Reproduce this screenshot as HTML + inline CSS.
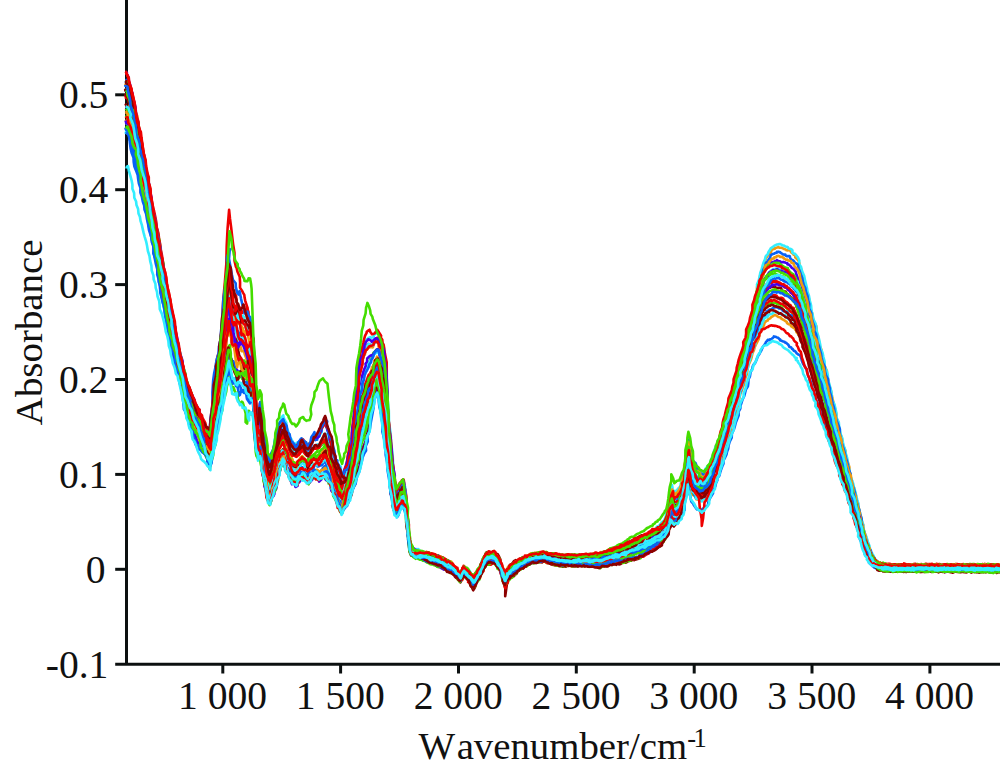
<!DOCTYPE html>
<html><head><meta charset="utf-8"><title>FTIR spectra</title>
<style>
html,body{margin:0;padding:0;background:#fff;}
body{width:1000px;height:772px;overflow:hidden;}
svg{display:block;}
text{font-family:"Liberation Serif",serif;font-size:39.6px;fill:#111;font-kerning:none;}
.ax path{stroke:#0c1010;stroke-width:3;fill:none;}
.sp path{fill:none;stroke-width:2.6;stroke-linejoin:round;stroke-linecap:butt;}
</style></head><body>
<svg width="1000" height="772" viewBox="0 0 1000 772">
<rect width="1000" height="772" fill="#fff"/>
<g class="ax">
<path d="M126.5 0V664.3" />
<path d="M115.2 664.3H1000" />
<path d="M115.2 94.8H126.5"/>
<path d="M115.2 189.7H126.5"/>
<path d="M115.2 284.6H126.5"/>
<path d="M115.2 379.5H126.5"/>
<path d="M115.2 474.4H126.5"/>
<path d="M115.2 569.3H126.5"/>
<path d="M222.8 664.3V673.5"/>
<path d="M340.6 664.3V673.5"/>
<path d="M458.5 664.3V673.5"/>
<path d="M576.3 664.3V673.5"/>
<path d="M694.2 664.3V673.5"/>
<path d="M812.0 664.3V673.5"/>
<path d="M929.9 664.3V673.5"/>
</g>
<g class="sp">
<path d="M125.5 119.6l.6 .9l.3 2.4l1.6 2l1.1 5.3l.9 5.8l.8 5.8l1.7 5l.4 5.1l1.5 4.1l1.2 4.4l.5 3.2l.9 3.8l.7 3l1.4 4.2l.7 4.4l1.5 4.4l.3 4.4l1.1 4.5l1.3 4.2l1.6 4.4l.4 4.6l1.3 5.4l1.6 5.2l.2 5.1l.8 5.5l1.1 5.1l1.6 6l1.1 5.6l.4 5.3l.5 6l1.8 5.6l1 5.3l.8 5.3l1.2 5.6l.8 4.8l.7 5.4l.5 5.6l2.3 4.6l.2 4.7l2.1 4.2l-.2 4.7l1.8 4.5l.1 4.7l1.5 5.3l.5 4.8l.8 6.5l2 5.8l.8 5.2l.5 4.7l.7 4.5l2 3.8l.8 4.4l.5 4.5l1.2 3.8l1 4.6l.1 5.3l1.4 5.3l2.1 4.7l.6 4.6l.6 5.7l1.2 4.4l1.1 3.6l1.2 3.5l.3 3.3l1.7 3.7l1.6 3l-.2 3.7l1 3.9l1.6 3.5l.8 2.4l1.3 1.6l.3 1.9l1.5 1.4l.2 1.1l1.7-.5l1.6 4l-.1-1.3l1.1-.2l.8-1.1l1.1-1.2l1.5-.9l1.3-.8l1.3-.7l.3 0l1.1 0l1.1-11.4l.7-9.9l1.7-9.8l.6-9.7l-.1-7l2.7-6.8l.5-6.8l1.6-6.5l-.1-5.7l.6-5.6l1.8-8.9l1.3-8.8l.8-8.8l.7-9.4l1.7-8.3l.3-8.4l.8-8.8l.7-9.8l1.2-8l1.3 8.2l1 5.2l.7 4l2.1 6.1l-.3 4.3l1.4 8.7l.6 5.2l2.1-.9l.7-2.4l1-.5l0 2.7l2.3 2.5l1.1 1.7l.3 3.5l1.1 3.8l.8-.4l.7-4.3l1.6-.7l.7 4l.7 4.9l1.9 7.1l-.3 9.3l2.4 4.6l.6 2.6l.9 20.8l1.4 20l.6 18.7l.8 7l1.1 7.8l.7-3.4l1.9-2.9l-.1 10.1l1.7 8.6l.8 7.8l1.5 5.8l1.1 7.2l-.1 5.6l1.4 5.3l1.1 4.2l.9 2.8l1.1 2.3l1.2-2.2l.7-3.3l.5-3.4l1.2-3.9l1.1-3.3l1.8-3.5l.3-3.1l.8-4.9l1.3-3.8l.8-4.4l1.2-1.7l1.4-1.8l.3-1.2l2 3.5l.8 2.7l-.1 3.1l1.5 3.6l.8 .4l1.5 .9l.8 1.7l1.8 2.5l.1 2l1.1 0l1.4-.1l1.1 .6l.8 .1l.5-.4l1-2l0-1.9l2.9-1.7l.1-1.4l1-1.1l1.4 1.1l.3 .4l1.5 1.4l1.6 .8l.5 .8l1.2 1.4l.4-1.6l1.6-2.1l.7-1.4l1.3-.8l.3-1.8l1.3-2.5l2.1-1.6l.3-.4l.3 1l.9 .9l2 .6l.1-1.8l1.2-1.1l1.5-2.9l.7-2.4l.5-.9l1.1-1.6l1.7 1.1l.2 3.3l1.6 2.9l.6 3.9l1.5 3.9l.9 2.3l1.1 1.9l.5 1.8l.6 3.6l1.9 2.9l1.2 3.2l.5 2.9l1.5 2.4l.7 3l.8 3.8l1.2 1.6l.7 1.5l1.5-2.7l.8-.9l1.1-.8l1.3-2.4l.6-1.6l1-1.6l1.4-2.8l-.5-3.4l1.9-5.1l1.2-4.3l.7-5.3l1.2-6l1-5.6l1.1-6.1l1.2-6.4l.4-5.8l1.8-6.6l.5-3.1l1.7-4.4l.7-4.2l.7-5.1l1.4-2.6l.8-2.1l.3-2.9l.8-.4l2.5-3.2l.2-3.7l1.3-2l1.5-3l0-4l1.5-3.5l.7-4.6l1.4-2.3l.1-1.5l2.1-2.2l.3 3.1l1.4 3.1l1.1 6.4l.7 5.8l.6 7.6l1.5 6.8l.4 7.5l1.9 8l1 7.6l.3 13.8l1.4 11.4l.2 9.9l1.6 9.6l.4 7.6l1.5 6.5l1 6.8l1.9 7.3l.1 5.1l1.8 2.8l-.2 .9l.5-2.1l2-2.2l.8-2.4l1.5-2l1-2.1l-.1-.4l2 2.6l.5 3l1.1 7.6l.8 9.5l1.7 11.5l1.3 9.7l.4 6.7l.8 3.7l.5 .3l1.9 .2l.7 .4l1.5 .7l.1 .5l1.8 .2l.7 .2l.8 0l1.2-.4l.7 .1l1.1-.1l1.9 .5l.9 0l.1 .8l1.2 .5l.9 .1l1.3 1l1.1-.2l.7-.7l.8 .8l1.2 1l1.1 .4l1.3 .2l.7-.2l1.2 .6l.6 .1l1.1-.1l.5-.2l2.2 0l.8 1.1l.5 1.1l1.2 0l1.1-.1l.7 .5l1.7 1.2l.1 1.4l1.7 .3l.5 .1l1.6 .6l-.3 1l1.3 .5l.7 .6l2.5 1.1l.1 1.2l.8 1.4l1.6 1.6l.9 .8l1 1l.8 2l.6-.1l1.5-1.6l-.4-3l2.4-1.5l.6 .7l1 .8l1.6 .7l1.2 1.7l1 1.5l.5 0l1.5 1.6l.7 1.9l.8 .4l1.4 .9l.8-2.4l1.2-1.5l.9-1.3l.9-1.6l.2-2.1l1.7-2l.6-2l1.6-.8l.3-1.6l1.6-2.4l1-2.6l1.1-2.1l1-.3l.9-.5l1.1 .2l.7 .3l.8-.9l1.2-.6l1.2 .1l.8 .2l1.2 2.1l1.2 1.6l.4 1.1l1.3 1.7l.9 2.1l1.5 1l.3 3l1.2 3.5l.9 3l1.2 1.5l1 2.1l1.6-2l.8-2.7l.8-1.5l1.1-.3l.9-.9l.9-.3l1-.6l.8-2l.6-.4l2.4-.3l.4-1.5l1.5-.2l.2-.7l2-.3l.5-1.4l-.4-.7l2.1-.7l.6-.6l.6-.3l2.2-.1l.9 .1l.4-.5l1.1-.4l.2-.8l1.3-.4l1.6-.2l.7-1.4l.9-.8l1.5 0l.9-.1l.8-.6l.9 .4l1.3-.7l1.4 .2l.7 .2l.6-1.2l1.3 .5l.9-.7l1.1 .5l1.1 .5l.4-.3l1.6 0l1-.2l1.1 .6l1 .4l.8 .4l1.3-.3l.9 .8l.5 .1l1 .8l1.4-.6l.9-.1l.3 .7l1.3 .5l1.3 .3l1.7 .8l.4-1.3l1 .4l1.2-.2l.7-.1l1.1 .3l.4 .1l1.1 .7l.7-.8l2.1 .7l.5 .5l1.3-.3l1-.3l.4 .6l1.3-.3l.7-.3l.7-.5l1.8-.4l1.1 .4l1-.1l.9-.3l1.2-.1l.5 .2l.9-.1l1.9-.1l.4 .3l.8 0l1.7 .1l1.2-.1l0-.3l1.5-.4l1.5 .2l1.2 .5l.5-1l1.1-.6l.4 .6l.8-.1l1.2-.1l.6 .1l1.6-.4l.8-.8l1.5-.6l.3 .4l1.9-.7l.1-.1l.8-.7l1-.5l.9-.8l1.3 .3l1.1 .1l1 .1l1.1 0l2.1-.5l.2-.2l.6 .8l1.2-.6l1.2-1.2l.4-1.2l1.1-.1l1.6 0l.9-.1l.5-.3l1.5-1.1l1.1-.3l.6 0l.6-.4l1.5-.5l1.3 .3l.3-.1l.7-.5l2.6-.8l.1 .1l.9-.1l.5-.2l1.2 .1l1.6-.7l1.1-.8l1.5-.8l.1 .2l.9-.4l1.5-.6l1.5-1.6l-.5-.4l1.5-.2l1.3 .4l1.7-.2l.1-1.3l.5-.2l1.4 1.1l1.3-1l1.4-1.8l.7-.8l1-1l1.1-1.4l.6 .7l.9 .5l.7-1.4l1.9-1.4l.3-.9l1.4-1.1l1.1-2l1.1-2l.6-1.7l.5-.1l1.8-1.6l.8-.8l.9-5.4l1.2-4.4l.9-5.8l1.7-4.7l.7-4.6l.1-4.6l1.2 2.8l1.4 2.2l-.1-1.8l1.9-1.3l1.3-.2l.5-1l1.8-1.4l.6-2.2l1.4-3.5l1.3-4.1l1.1-5l.4-4.7l.9-6.8l.9-7.6l.8-8.7l1.1-6.6l1.1-3.5l.8 7.6l1.3 8.2l.9 3.4l.8 4.5l.9 1.9l1.6 1l1 2.4l.7 1.1l1.2 .1l.9 2l.9-2.1l.7 .6l.8 .6l1.8 .2l.7 .7l1.3-1.3l.4-1.1l2.1-1.8l-.1-1.6l1.3-1.8l1.2-.9l1-3.1l1.1-4.1l.9-2.6l.7-2l.5-2.7l1.3-2.3l.3-3l2.1-2l1.2-4.1l.4-2.6l.3-2.9l1.4-3l1.6-3.5l.8-3.4l.2-3.3l1.8-3.8l1.4-4.5l.5-3.8l2.2-2.7l.1-3l1.2-4l.9-3.7l1.4-3.3l.5-2.6l1.4-4.7l-.1-4.4l2-3.5l.8-3.3l.3-4.2l1.1-4.6l1.1-3.2l2-3.9l.2-3.9l1.7-3.8l-.2-3.4l2-3.9l.4-4.4l1.1-4.9l1.4-5.1l.6-4.6l1-4.1l1-4.3l1-4.7l.9-4.8l1.8-5.4l.1-3.9l1.1-4.6l.3-4.5l1.9-4.9l.9-4.6l1.1-3.4l1.1-2.2l1.1-3.8l.6-3.6l1.1-3.2l1.4-3.2l1.1-1.3l.8-1.4l.5-1l2.1-1l.3-1.7l1.1-1.9l.9-.3l1.7-.3l-.1-.5l1.6-.5l.8-.3l.8-.4l.3-.2l1.1 .8l1.2 0l1.1 .1l1.8 .8l.9 .5l.5 0l1 .5l.7 .7l1.1 .1l.9-.1l1.4-.4l1 2l.8 .9l1.3 .8l.5 1.1l1.8 1l0 1.9l1.7 1.4l1.4 1.4l.9 2.6l.5 3.9l1.7 2.7l-.1 3.3l1.6 2.8l1 3.8l.4 4.3l1.2 3.8l.9 3.6l1.5 4.3l1.2 4.2l.8 4.3l.5 4.5l1.7 5l.7 4.2l1.1 4.9l2.2 3.3l.5 3.9l.3 4.2l.9 4.3l1.2 3.2l.5 4.1l1.9 4.2l.4 4.2l1.1 5l.7 3.7l1.3 4.2l1.9 3.9l-.2 4.6l1.6 4.4l.7 4.8l1.4 4l1.1 4.4l.7 4.4l.9 3.7l1.1 4.2l1.1 4.5l1.1 4.7l.3 3.8l1.1 4.5l.9 4l.9 3.9l1.1 4.3l1.3 3.8l-.1 3.9l2 4.5l1.6 3.9l.4 4.2l1 4.2l1.3 3.8l1.2 3.9l.2 4.8l1 4.1l1.3 4.2l.6 3.9l1.7 4.1l.8 4.1l1.4 4.4l.5 3.8l1.1 5l1.2 3.7l.8 4.2l.6 4l1.1 3.3l1.6 4.2l.3 4.2l1.2 4l1.2 3.8l1.1 3l.9 3.3l1.1 3.2l.4 3.5l.9 3.5l1.9 1.5l.6 2.7l1.1 2.2l1.1 1.7l.8 2.2l.8 1.2l1.4 1.3l1.8 .8l-.1 .4l1 .5l1.9 1.2l.2 .6l1.7 .4l.7-.1l.8 0l.6 .8l.4-1.1l2.3 .6l.6-.2l1.3-.1l-.4-.3l2.1-.1l.1-.3l1.7-.2l1.4 .2l.6-.1l1.7 .8l-.3 0l2.4-.8l.9 .9l.8 .3l.3-.2l1.2 0l.9-.2l1-.1l1.1 .1l2.3 .4l0-.3l1 .2l1-.8l1.3 .3l.7-.2l1 .6l1.1 .2l1.2-.5l.6-.5l1.3 .3l-.4 .1l2 .2l.8 .1l.9-.1l1.5-1l.7 1.2l1.6-.4l.4 .1l1.5 .4l.2-.3l1.4 .1l1.8 .1l.8 .3l.6 .1l.8 .1l.9-.5l2.4 .2l0 .9l1.3-.5l.4 .1l1.1-.4l1 .2l1.6 .1l.6 .1l1.1-.3l1.2 0l.7 .1l.8-.1l1.2 0l.2-.2l1.3 .1l1.5 .3l.3-.2l1.5 .4l.7-.5l1.6-.3l.5-.1l1 .1l1.8-.1l.5 .1l1.3 .1l-.2 0l1.8-.1l1 0l1.1-.4l1.2 .3l.6-.2l1.7 .9l.4-.2l.5-.1l.8-.3l2 .2l.6-.2l2.4 0l-.3-.4l1 .1l1 .3l1 .7l1.4 .1l.4-.6l2.3 .4l-.3 0l1.4-.4l.7-.5l1.5 .4l.6 .3l1.4 .2l.8-.3l.8 0l1 0l1.7 0l-.1-.3l1.7 .6l.5-.5l1.5 .3l1.5-.2l.8-.6l.5-.2l.7 .8l1.3-.3l.8 .6l1.5 .3l.6-.2" stroke="#f09a10"/>
<path d="M125.5 88.6l.1 .8l1.5 2l1 3.1l.9 4.2l.9 4.7l2 4.5l-.5 4.6l1.3 4.6l1.7 5.4l.4 6.1l.3 5.1l1.9 6.5l.8 5.1l.7 5.2l1.3 5.9l1.2 5.4l1.4 4.3l.6 6l.5 4.4l1.5 4.7l1.4 3.5l.6 4.4l1.5 5.3l0 4.7l1.4 4.8l1.3 4.9l1 5.1l.4 5.3l2.1 5.9l.4 6.2l1.3 5.6l.4 5.9l1.4 5.4l.7 6.4l1.2 5l1.4 5.4l-.5 4.5l1.7 4.6l.7 4.8l2.4 4.3l.5 5.4l.3 4.8l1 5.4l1.3 4.9l1 5.8l.9 7.1l1.2 7.4l1.2 6.6l.2 6l2.2 5.5l0 5.7l.8 5.7l.8 5.6l2.1 4.9l.6 5.2l.9 5.5l1.2 3.9l.5 5.3l1.5 4.7l1.4 5l1.2 5l.6 3l.7 2.8l0 1.7l2.2 1.7l.7 2.1l.9 2.2l2.3 2.3l.4 2.3l.6 1l.7 1.2l1.9 1.5l-.7 .8l1.9 .6l1.5 .5l.4 6.7l.9 1.1l1.3 1.5l1.2 0l1 .9l.9-.3l.9 1l.5 .3l1.8 1.5l1.1 1.4l1.2-11.8l.4-10.6l.6-10.7l2.2-11.3l0-5.7l.6-6.1l1.8-6.8l.6-6l1.6-6.5l.4-6.7l1.8-9.3l.5-9.9l1.4-9.1l.6-11l1.7-8.8l.2-8.7l0-10l2.3-8.8l1.1-8.8l.4 7l1.6 8.6l1 10.2l.7 10.2l.8 5.1l1.1 .5l1.2 .5l.9 .3l.9 3l1.6 .8l.4-.4l1.2 2.5l.7 2.6l1.2 2.7l1.1 .6l1.2-.2l1.1 1.2l1.1 1.4l.5-.6l1.6 3.6l.2 2.2l1 .5l1.6 5.5l1 9.2l.8 23.2l1.3 21.9l.6 21.1l.6 7.9l1.4 7.5l1.4-9.3l.7-9.6l1.1 7.3l.8 8.7l.7 8.4l.8 4.9l1.4 5.7l1.1 6l1.3 4.3l1.5 4.8l-.2 2.4l2.1 1.7l-.8-3.4l2.3-5l.7-5.5l1.5-4.8l-.1-5l1.8-3.9l1-4.1l.8-3l1.3-3.9l.9-3.8l.7-2.2l1.1-2.3l1.3-1.5l.2 1.7l.7 2.2l2.1 3.4l.3 4.9l1.8 4.5l.9 3l.6 2.6l1 .7l1 1.8l1 1.7l.8 1.5l1.2 1.5l1.1 .1l.5-2l1.8-.7l.2 0l1.6-1.2l.7-1.1l.9-1l1.1 1.2l1 .8l.9 .7l1.8 .8l-.4 2.4l1.9 1.3l.5-2l1.1-.8l1.2-.2l1.4-2.2l1.2-2.5l.8-3l.9-.5l1.1-.6l.8 1l.9 .7l.5 .5l1.4-1.6l1.8-2.7l.2-3.3l1.3-3.1l.2-2l1.6-1.4l1.4 2.7l.5 3.1l1.2 3.6l.4 4l2.2 3.6l0 2.5l1 2.5l2 5.1l.2 5.2l.9 3.5l1.2 2.9l.3 2.4l2 1.1l1.4 1l1.3 1.4l-.1 3.6l1.3 4.5l1.1-2.2l.5-2.1l2.3-2.2l-.4-3l1.3-3.9l.9-2.6l1-4.6l1.3-4.9l1.1-5l1.1-4.7l1.2-10l.3-9.5l1.9-8.2l-.3-9.7l1.5-11.6l1.3-10.6l.6-9.9l1.4-4.5l.3-5.1l1.9-5.2l.9-5.7l.9-3.3l.5-4.1l1.9-2.7l.3-.6l1.2-.5l.4-.8l1.7-.7l.5 1l1.2-.7l1.7-.3l.3-2.1l1.4-1.2l.4-.3l1.2-1.4l1.4 .1l.8 1.6l.4 2.7l1 1.5l1.3 3.1l1.2 2.3l1.1 4.7l.6 9.6l1.5 8.4l.4 24.1l2.2 19.6l.2 12.4l1.7 11.7l.6 10.1l1.3 9.8l.5 10.1l.8 10.3l.6 8.7l1.9 5.7l.3 2.7l1.9-3.1l.3-1.8l1.2-2.5l1.1-.8l1.1-1.2l.7-1.1l1.1 1.8l1 4.6l.4 11.5l.8 12.6l1.2 13.2l2.2 11.9l.2 6.7l1.2 3.2l1.4 .5l1 2.2l.1 .2l.9-.3l1.6 0l.8 .8l1.4-.8l.8 .9l.9 1.4l-.3-.1l2.8 .6l1.1 .3l.2-.3l1.9 .5l1.1 .8l-.2 .2l.8 .2l1.7 0l.8 .7l.6 .5l1.2 .3l1.4-.4l1.2-.1l.4 0l1.3 1l1.7 .2l1.1-.1l.7 .5l.6 1.2l.6 1.4l1.9 .2l.7 1.1l.2 1l1.8 1.2l.5-.2l1.5-.7l1-1l.5 .3l.8 1.3l2.1 1.5l.7 .6l-.5 1.2l1.9 1.9l1.6 .7l.2 .8l1.3 .4l1.4 1.7l-.1 2.8l1.6 2.3l.6-2.8l1.8-2.2l.6-.9l1.8-2.6l.2 1.4l.9 1.5l1.7 .4l1.4-.2l.3-.1l1.3 1.8l.5 2.4l.4 1.4l1.9 .2l.5 .9l1.3-2.3l1-1.4l.9-2l.8-.9l1.4-.8l.2-2.1l2-3.9l.2-2.1l1.2-2.1l1.4-1.3l.2-1.7l1.9-2.9l1-.1l.5-.4l1.5-.1l.7 1l.7 .4l1.3-.1l.9-1.4l1.5-.2l1.4 1.2l-.2 .8l1.4 .6l1 1.6l1.3 1.6l.9 1.8l1.1 3.7l1.1 3.7l.5 3.1l1.1 2.2l1.9 2.2l.6-2.2l.4-1.7l1.2-2l1.2-1.2l.8-1.2l1.8-1.5l.3-1.5l1-.2l1.2 .3l.6 .3l1.4-.5l.6-.8l.8-.5l1.6-.7l.8-1.1l.8-.7l1.6-.7l-.6-.6l2.2-.4l.7 .6l1.4-1l1.4-.2l.3-.2l1.1-1.1l.7-.5l1.2-.1l1-.6l1.1 0l.9 .1l1.6 0l.1 0l1.5-.7l1-.7l1.4-.3l.4 .1l1.2 0l1.1 .3l.6-.5l1.4 .9l.9 .5l1.1-.2l1.3-.4l.3 .1l1.8 .6l.4-.2l1.1 .5l.6 .3l1.1 .9l.8-.2l1.4-1.2l.4 .5l1.7 .1l1.1 .4l1.5 .7l.4 .5l.9 .8l.8-.7l1.2 .1l1 .2l1.7-.4l.9-.1l.6-.2l.7-.2l1.1 .7l.7-.1l1.3 0l.5 .6l.6-.5l3-.2l-.1 .4l.1-.6l.7-.3l2.5-.3l1-.4l.5 .2l.5-.2l1.7 .6l1.7-.3l.3-.5l1 0l.3 .5l1.3-.1l1.6-.6l.8 .3l.5-.4l2-.6l.1 .4l2.2 .3l.6 0l0 .2l1.5-.9l1.5-.3l.3-.6l1.1 .4l1.3-.3l.9-.2l.9-.2l1.5-.3l.6 .4l1-1l1-.4l.9-.8l1.3 .3l1.3 .6l.8-.5l1.2-.2l.4-1l.8 .4l.9-.5l1.2-.4l1.1-.5l.7-.4l1.2-.3l.8-1.6l1.6 .3l.7-.2l1.2 .3l.9-.8l.5 0l1.4-.4l1.1-.4l1.1-.3l.4-.3l1.8-.2l.6-1.4l.9-.7l.5-.2l2-.4l.7 .3l1.2-1.4l.7-.8l1.4-.4l.6-.1l1-.1l.8-.5l1.6-.8l.8-1l1-1.4l.8-.8l1.4-.4l.4 .7l1.4-.9l1.1 .2l.7-.7l.9-1.3l.7-1.2l1.3-.3l.7-.2l2-.7l.6-1.7l1.1-1.1l.6-1.5l1.3-.5l1.6-.4l-.1-.9l1.4-1.6l.7-1.1l1.3-.7l1.4-1.5l.7-2l.6-1.2l.6-6l1.8-4.6l1.1-5.3l.7-4.5l.9-5.5l1.2-5.8l.6 3.2l1 4.2l1-1.2l1.6-.6l1.3-1l.2-.5l1.6-1.7l.9-.9l.7-3.5l1.3-4.1l1.5-3.4l.4-3.6l1-8.3l1.9-8.5l-.2-7.8l1.2-5.8l1.4-4.6l.7 6.4l.5 7.3l1.1 4.6l.7 5.2l2 3.3l.2 2.2l1.4 2l.9 1.3l1 .8l1.1 .1l.9 .2l.7 .2l.8 .2l1.9 1.4l.8 .4l1.1-2.1l.1-1.5l1.6-2l1.1-1.3l1-.3l1-1.7l.8-3.2l1.3-3.6l1.1-2l.6-3.4l1.2-2.9l.4-1.8l1.6-2.5l.6-3.2l1.8-1.9l1.2-2.8l.3-3.2l1.2-3.2l.9-4.3l1.9-3.3l0-3.5l.2-3.5l1.2-3.1l1-3.9l1.8-3.1l.9-3.5l1.8-3.9l-.8-4.1l2.1-3.4l1-4.1l1.6-4.2l.2-4.1l.9-4l1.5-4.4l.7-3.7l1.1-3.5l.9-4.2l.9-3.4l.7-3.2l1.4-4.1l1.2-3.7l.6-3.9l1.3-4.3l.5-4.5l1.9-4.6l.2-4.4l1.7-4.2l.2-4.7l1.5-5.4l1.1-4.2l1-4.5l1.1-4.5l1-5.2l-.3-4.9l1.8-4.3l1-4.6l.5-2.9l1.4-3.5l.8-3.2l1.2-3.8l1.3-2.8l.7-3.1l1.3-1.5l.9-1l.7-2l1.1-1.5l1-1.9l1.5-1l.8-.7l.7-.3l.8-.8l1.3-.4l.4-.4l1.1-.4l2-.4l.6 0l1.5 .6l.8 .7l1.2 .2l.6 .1l1.2 .8l1.5 .3l1.1 .5l.2 .6l.8 .8l1.1 .1l1.4 .5l1.2 1.3l-.3 1.5l1.4 1.5l1.4 .3l.7 .9l1.4 1.7l.9 1l1.3 3.2l-.2 3.4l2 2.9l.6 3.1l1.3 3.4l1.2 2.7l.7 3.8l1 3.9l1.1 4.4l.5 3.6l1.4 3.8l.9 4.9l1.3 5.1l.4 5l1.2 4.5l.7 4.3l2.2 4.2l.8 3.9l.3 4.1l1.6 4.4l1 4.2l.9 4.2l.5 4.5l1.9 4l.8 4.2l1.2 4.5l0 4.7l2.2 4.9l1 3.8l.3 4.8l1.1 3.9l1.1 3.8l1.1 4.4l.4 4.1l.3 4.1l2.2 4l1.1 4.2l1 5l.2 4.7l2.2 4.1l.3 4.2l.8 3.9l.8 4.1l1.5 3.7l.7 4.3l.8 3.8l1.4 3.5l.8 4.6l1.2 3.4l.6 4.4l.8 4.8l1 3.9l.9 4.6l1 3.8l1.7 4.1l.9 4.3l1.3 4.3l1 4.4l1 3.9l1.3 4l0 4l1.2 3.9l1 4.7l1.2 4.2l1.2 4.2l.4 4.4l1.1 3.5l1.7 3.8l.9 3.4l1 2.9l1 2.3l.8 3.6l1.2 2.8l1 1.9l.9 1.4l1 2.2l.7 1.5l1.3 1.3l1.4 1.2l-.7 .8l1.9 .9l1 .6l1.4 .2l.4-.1l1.4 .7l1.3 .4l.5 .1l1.2 .5l1.1-.2l1 .3l1.3-.7l0 .1l1.7 .2l1 .6l.1-.1l2.5 0l.7-.7l.4-.2l.7 .7l.6-.1l2.1-.4l.6 .3l1 .4l.8 .2l1.3-.6l.1-.2l2.4-.4l-.3 .7l1.6 .1l2.3-.1l.1 .1l1.2 0l.6 .5l1.3-.2l.9-.6l1.3-.2l.8 .8l.3-.8l1.4 .4l2.1 .5l.5-.3l.9 .4l.9-.1l.7-.1l.8-.4l.9 .2l.7 0l.9 .2l1.3 .4l1.3-.3l.8-.1l.8 .4l1.2-.8l1.3 .2l1.2 .2l.7-.2l1.4-.3l.9 .5l.7-.6l1.2 0l.6 .1l1.7-.2l1.3-.1l.7 .6l1.2 1l.6-.7l.4-.3l2.1-.4l.3 .6l.3-.3l1.7 .5l.6-.3l1.2 .3l1.4 .3l1.4-.5l.1-.7l.7 .5l2.1-.3l-.1 .3l2.1 .2l.9-.4l.3 .1l1.1 .2l.2-.2l1.6-.2l2.6-.2l-.8 .3l2-.6l1.3 .6l.4-.4l.7 .1l1.1 .3l1.1-.2l1.8 .2l-.1 .2l1.2-.9l.8 .3l.8 .5l1.3-.2l.7 .4l1.1 0l.9-.5l1.9 .1l.8 .6l.2 .5l2.5-.4l0-.2l1.3-.3l1.2-.6l.4 .7l.8 .5l1.1 0l1-.6l1.2 .5l1.4-.5l.5 .1l1.2-.5l.5 .8l1.9-.4l.3 .8l1-.2l1.2 .1l1.1-.5" stroke="#33eeff"/>
<path d="M125.5 108.0l.6-.1l.7 .4l.9 1.8l2.1 4.3l-.1 4.7l.9 3.7l.8 3.9l1.2 4.4l.9 4.4l1.4 3.7l.7 3.5l2.2 4.7l.2 4.4l.6 4.6l.9 4.3l1.5 5.5l1.7 4.8l.8 4.3l.6 5.1l.1 6l2.5 5.8l.3 6.2l1.1 6.2l1.7 6.5l.7 6.6l.1 6.3l1.6 5.8l1.3 6.1l.9 5.9l.6 5.8l.8 5.8l1.3 5.6l0 5.4l2.1 4.7l.5 5.6l1.1 5.7l1.4 5.1l.7 5.3l1.2 5.7l1.1 3.8l.5 5.5l1.1 4.9l.4 5.2l2 5.6l.7 4.8l1 5l1.4 5.1l.2 4.8l1.9 4.6l.1 5l1.1 3.7l1.8 4.6l.6 4.6l.4 4.1l1.7 5.5l.9 5.1l1.3 5.2l.4 6.2l1.5 5.6l1.1 4.8l1.1 4.9l.9 2.3l.1 2.2l2.4 2.8l.7 1.9l0 1.8l2 1.4l.4 2.7l.5 3l1.4 2.5l1.1 1.6l.8 1.9l.7 2l1.4 2l1.3 2.4l1.4 12.1l.4 1.8l.5 1.9l1.9 1.6l1.1 2.1l.8 1.9l1.1 2.3l.2 2.8l1.2 1.8l1.3 1.8l1.3-5.6l.3-5.5l1-6.8l1.9-6l-.1-5.6l1.6-5.6l.5-5.3l1.5-6.1l1.7-6.3l.5-6.7l.5-6.3l1.3-5.7l1.4-6.2l1.5-6.6l.1-7.6l1.1-7.6l1.4-6.9l.5-3.6l.8-4.5l1.2 5.5l1.2 5.3l.7 2.7l1.3 2.1l1.3 1.2l1.2-.8l0 1l1.9 2.5l.5 4.3l1.1 2.6l.8-1.3l1-3.2l.7-.4l2.1 7.3l.2 6.3l.7 1.5l2 .9l.4 2.5l1.2 .8l.3-2l1-1.4l.8 1.7l1.7 1.7l1.3 3.7l.5 13.5l2.2 15.1l-.4 18.5l1.2 6l.5 4.7l1 1.1l1.8-.2l1.2 7.4l0 6.9l1.2 5.6l1.5 5.8l.3 6.2l1.6 4.1l.4 4.6l1.3 4.5l1 1.3l1.7 2.1l1-2.6l.1-2.2l1.9-1.9l1-2.2l0-2.1l1.9-3.4l.8-4.9l.6-4.7l1.3-4.1l1.3-5.1l.1-2.5l2.3-3.7l.9-1.8l0 3l1.3 2l1 1.6l.9 2.8l1.3 3.2l1.1 1.4l1.1 3.8l1 2.7l.7 2l1.4-.7l.5 0l1.1 1.4l.5 2.1l2-1.1l-.3-2.1l2-1.5l1.2-1.8l.8-1.9l.7-1.8l.7 .6l.8 .2l1.6 2.2l1.1 1.4l1.3 .8l.1 .5l2.3-.4l0 .4l1.1-1.7l1-2.5l.7-1.6l1.9-1.3l-.2 1l1.2 1.2l1.7 .3l.9 .8l.9 1.3l1.3-1.3l.8-1.1l.3-.2l1.1 .4l2.2-.3l-.1-.2l1.3 2.6l1.1 .8l1.5 .1l.6 1l.6 2l1.1 2.6l1.3 2.3l.1 3l1.6 1.8l.7 1.8l1.1 2.3l.6 3.7l2.3 2.9l-.2 1.5l1.5 1.4l1.2 1.9l.7 3.7l.8-2l1.9-2.5l.6-1.4l1.5-1.8l.8-3.3l.5-3.5l1.2-2.7l.6-1.2l1.5-3.2l1.2-2.4l1-4l.5-4.4l1.6-4.9l.6-4.2l1-3.6l.5-4l2.4-4.4l.2-3l.6-3l1.2-3.2l1-3.2l1.2-2l1.4-3.2l.5-3.7l1.6-3.3l-.2-4.2l1.6-3.1l1.1-4.1l1.1-8l.4-6.2l2.1-5.1l.4-6.6l.5-2.4l1.1-3.5l1-4.1l1.2 3.6l.5 3.8l2 7.1l.4 8.3l.8 8.3l1.7 8.6l.5 7.9l.7 7.2l1.7 6.4l1 8.4l1 9.4l1 9l.4 8.9l1.2 8.9l1.6 5.3l.7 4.6l1.8 6.3l-.1 2.4l1.2 2.5l1.2 2.7l.4-1.4l1.5-2.6l.9-3.1l.4-3.9l1.8-2.2l.5-.8l1.2 3.1l1.6 3.6l.9 7l.1 8l1.3 10l1.9 9l.1 5.5l1.3 4l1.4 2l1 .6l.7 .4l.7 .2l.8 .2l.8-.1l1.9 0l.9 .7l.6 .4l1.2 .1l.9-.5l.9-.2l1.2-.1l.3 .4l1.8 .5l.8 .1l1.4-.4l.7 .1l.3 .1l1.9 .3l.4 .3l1.5 .8l1.4 .7l-.3 1.1l2.3-.5l-.4-.1l1.8-.5l1.4 .8l.6 .9l1 .8l.7-.4l1.8 .2l.3 .8l1.1 1.3l.5 .9l1.5 .4l1 .1l1.5-.8l1 1.1l-.2 .8l2 .2l1 .9l1.1 1.7l0 .8l1.3 1.7l1.1 1.8l1.9 1.4l.5 2l.8 1.7l.8-2.8l1.4-2.4l1.2-1.9l.4-2.6l1 .8l1.2 .5l1.2 1.5l.9 2.1l.7 1.6l1.3 1.6l.5 1.2l1.3 1.2l2 .6l.5 .7l1.5-1.2l-.4-1.6l1-2.6l1.6-1.2l1.3-1.4l1-2.2l1.1-1.8l1.3-2.2l.5-1.2l1.6-1.8l.6-2.2l.4-4l.7-1.6l1.6 .2l1 1.9l1.4 .8l.1-.3l1.6-.9l.6-.1l1.3-.1l.9 1.6l.5 2.3l.8 1.2l.6 .9l1.7 .6l.8 .9l1.5 3.5l1 4.1l.9 3.1l1.8 2.4l.4 2.6l1.7-2.8l.2-2.1l1.2-2l1.7-.8l.4-.6l2.1-2l-.5-2.3l2-.7l.4 0l.6-.5l1.7 .5l.9-1.1l.6-.8l1.3-1.2l.1-.4l2.1-.5l.2-.1l.8-.3l2.4-.7l0 0l1.1-.6l1.4-1.1l.6-.8l1.7-.1l.6 0l1-1.1l1.5-.6l-.5 .1l1.4-.7l1.3 .6l1.1-.5l.4-.3l1.1-.1l.7-.5l2.1-.2l-.8-.1l2.2 .5l.7-.1l2.3-.8l.6 .6l.2 .4l1.7 0l1-.1l.6 .7l1.9 .3l.4-.5l.9 0l1.5 .9l1.4 .6l.2 .6l1.2 .1l.4-.1l.6-.1l1.2 .6l1.3-.3l1-.5l1.5-.3l.7 .7l1.2-.6l1.2 .7l.3 .3l1.4-.3l1.8 0l-.1 0l1.2 .1l.9 .7l.4 .3l1.9-1l.8-.2l.4 0l1.2 .5l1 0l1.2-.6l.9-.1l.3 .1l1.8-.8l1.2 .2l1.1 .5l1 0l.4 .2l1.4-.3l1.4-.2l.5 .6l.8-.3l1.3 .3l1.5-.5l.9-.2l.7-.7l.8 .7l.9 .4l.6 .1l1.6 .1l.9-.7l1 .2l1-.6l.9 .3l1.3 .1l.1-.8l2.2-.6l.3-.1l1.3 .2l1.5 .4l1.1-.3l.6-.4l.1-.1l2.2-.8l.8 .1l.1-.6l2.1-.7l.5 0l.4-.2l2.3 .7l0-.4l1.3 .4l.6-.3l.5 .2l2.1-.6l1.2-.2l.5-1.5l1.1-.6l.5 0l.9-.3l2 .1l.5-.1l1.2-.5l.8 0l.8-.4l1.6-.7l-.1-1l1.3-.1l1.4-.6l.5-.7l.8-.3l1.4-.3l1.3-1.3l.7-.3l1.6-1.1l1.2-.5l.3-.2l1.2 .3l1.2-1.1l.7-1.3l.7-.5l1.7-1.2l.9-.1l1-.8l.5-1.6l1.3-.5l.6-.8l1.6-.9l.5-.4l1.1-.4l1.4-1.4l.9-1.7l.6-.2l1.6-1.4l.7-1.9l1-1.5l.8-2.4l1.6-.6l.2-1.1l1.9-4.1l.8-4.4l.7-6l.7-6.5l.8-5.4l2.3-3.1l.6 3.6l.3 3.2l1.4-1.4l.3-2.4l1.3-1.6l1.5-1l1.1-1.2l.7-2.5l1.3-3.3l1.2-3.5l.5-4.5l.9-3.5l.7-7.9l2.1-8.1l.8-8l1.6-5.2l0-3.3l1.2 6.7l.7 6.4l1.2 4.3l1.1 3.9l.4 2.1l1.6 2l.9 3.5l1.1-.2l.7 0l1.1 .7l.7 5.2l1.3 .6l1.3-.2l1.5 1.7l.2-.1l.8-2.6l.9-2.9l1.2-1l1.1-1.4l.6-2.4l1-1.9l1.8-2.1l.4-2.4l1.3-2.2l.9-2.7l.6-4.2l1.5-3.2l1.1-3.4l.7-2.2l1.1-3l1-2.9l.5-3.9l.9-3.3l1.8-4.5l1-3.9l1.6-3.9l.8-3.6l.7-3.8l.2-3.8l1.4-3.3l1.6-4l-.2-3.8l1.4-3.8l1.2-3.8l1.2-4.4l.6-3.3l.9-3.8l1.8-3.6l.6-3.7l.5-4l1.3-3.9l1.5-3.1l1-4.3l.2-3l2.2-3.1l.3-4.4l1.1-4.2l.6-4.9l.8-3.5l1.7-3.9l.5-4.6l1.6-4.5l.5-4.5l2-4.2l.3-4.4l1.5-4.5l0-4l2-4.2l.4-4.4l1.4-3.1l.4-2.8l.7-3.2l1.3-2.8l1-3.4l.9-3.4l1.4-.7l.4-1l2.4-1.7l-.2-1.2l1.2-1.4l1-2.4l.1 1l1.5-.5l1.6-.4l1.5-.4l.4-.4l1 .4l.8-1.5l1.1 .8l.4 .2l2.2 .6l.5 .9l1.2-.2l.8-.2l.3-.2l1.6 .5l.6 .3l1.8 .3l0 1.2l1.9 .6l1 1l1 1.1l.3 .7l2.2 1.4l.2 .3l.9 1.3l.8 .8l1 3.7l1.3 2.9l.9 2.4l.8 3.2l1.6 2.2l1.3 3.2l.5 4.5l1.3 3.6l.7 4l1.1 3.2l1.2 4.4l.4 4.5l1.6 4.8l.8 4.4l.7 4.5l.9 4.6l1.7 3.8l1.3 4l-.6 3.6l2.3 3.7l.6 3.4l1 4.4l.3 4l1.7 4.2l1 4.2l1.8 4.1l.3 4l.8 3.9l1 4.3l1.7 4.8l.6 4.2l.2 3.6l1.4 4l1.6 4.3l.7 4l1.2 3.8l.6 4.2l.6 3.4l1.7 4.5l.9 4.1l1.2 5.2l.4 3.4l.5 3.5l1.6 3.4l1 3.4l1.2 3.8l1.3 3.2l.4 4.2l1.3 3.7l1.9 4.3l1.2 3.8l-.5 3.2l.9 3.5l1.4 3.7l1.5 4.1l1.5 3.4l.2 3.9l.8 3.7l.7 4l2.4 3.7l-.2 4l1.4 3.5l.7 3.9l1.1 3.5l.8 4.8l2 4.2l0 3.5l1 3.7l1.5 3l1.1 4.2l.8 2.6l.4 3.1l.6 2.6l2.6 2.2l1 2.9l-.2 2.2l1 1.5l1.5 2.1l1 1.6l.5 1.7l1.5 .8l1 .4l.7 2.2l2.1 1.1l-.4 1l1.5 .2l1.9-.3l-.1 .2l1.4 .7l.7-.4l1.2-.2l.8 .2l1.7 0l.2 .3l1.2-.5l1 .2l1.3 .1l.9 .3l.9-.3l1-.6l.9 0l1-.1l1.9 .2l.6-.5l.6 .6l.9-.1l1.3 .2l-.1-.1l1.9-.3l.1 .5l1.3 .2l2 .4l.9-.1l.9-.2l.6 .4l1.4-.4l.8 .3l1-.6l.9 .2l1-.2l.8-.3l1.1 .4l1-.5l2.3 .5l.5-.5l0 .7l1.7-.2l.6 .5l1 .3l1.4-.8l.2 0l1.2-.4l1 .4l1.2 .2l1.4-.3l.8 .1l1.3 0l.8 .2l1.2-.2l.2 .5l1.5-.2l.5 .1l1.2-.5l1.7 .5l.7-.2l.5-.2l1.9 .4l-.1-.4l1.7-.2l1.1 0l.7 .5l1.2 .1l.8-.1l.5-.1l1-.1l1.1-.3l.6 .6l2.2 .3l1-.2l.6-.2l.8 .1l.9 .2l1.7 0l1-.7l.5 .5l.5 0l1.7 .2l1.2 .4l1 .3l.3-.3l1.4-.5l1.4-.1l.6-.2l.5 .5l1.9-1l.1 .4l.8 .2l2.2 .4l.9 0l.6 0l.8-.4l1.4-.2l1.1 .5l.6 .2l1-.3l.7 0l1 .1l1.4-.1l.8 .4l1.5-.3l.8-.2l.7 .3l1 .4l1.8-.2l.4-.6l1.1 .6l.8 .2l.5-.4l1.1 0l1.3-.2l.6-1l1.6 .6l.5-.2l1.1 .2l1.3 .5" stroke="#4400ee"/>
<path d="M125.5 83.5l0 1.2l1.9 1.2l.5 3.6l1.2 2.7l.8 2.4l1.1 1.7l1.2 2l1.3 2l.5 2.9l.4 3.6l1.3 5.1l1.8 4.5l.6 5.8l.9 4.7l1.1 6.1l1.2 6.9l1.4 7.4l.5 6.8l.8 6.2l.9 6.1l.9 6.5l1.2 6.5l1.3 6.5l1.4 6.1l.3 6.2l.8 5.2l.9 5.2l1.1 5.6l.6 4.8l2.1 4.9l-.3 4.2l1.5 5l1.1 4.8l.8 5l1.6 5.1l.2 5.7l1.3 5.5l1.8 5.8l.2 6l1 5.9l1.4 5.5l.7 5.5l1.1 5.4l1.3 5.3l1.6 6.5l.3 5.2l.5 5.7l1 4l1.1 5l1.5 4.6l.9 4.9l.7 4.5l1.4 4.7l.4 4.4l1.7 4.4l.6 4.7l1.3 4.7l.4 4.7l1.3 5.3l1.6 4.8l-.4 4.5l2 4.1l.8 3.2l1.4 2l1.2 3.3l1 2.6l.9 3l.6 2.8l1.5 2.6l.1 2l.9 2.5l1.5 1.3l1.6 2.5l-.1 .9l1.5 2.7l.5 4.5l1.2 3.4l1.3 3.3l1.1 3l1.6 3.4l-.2 2.5l2.1 2.5l.6 2.7l1.1 2l-.2 1.5l2-7.9l.8-9l1.6-8.6l.7-9.5l1.6-5.8l-.2-6.3l1.7-6.3l1.3-6.2l.5-5.1l.9-5.8l1.4-8.1l1-7.2l.6-8l.8-8.7l1.5-9l.2-7.5l1.2-6.9l1.3-6.4l1.5-7.1l.7 7.2l1 7.4l.3 10.3l1.6 7.1l1.2 0l.6-.4l.8 .5l1.3 4.9l.6 5.9l1.3 .1l.9-2.9l1.3 1.5l.4 3.5l1.1-.1l1.5 .3l.7 3.1l1.1 2.8l1 3l.5 3.4l.8 1.2l1.8 .6l1.1 2.3l1.5 2.6l.6 2.6l1.5 19l.6 18.2l.3 18.1l2.3 4.8l.5 5.8l.4-4.3l1.3-4.2l1.3 8.9l.5 8.2l1.3 7.5l1.2 5.4l1 4.6l.7 3.1l1.6 4.8l.4 6.6l.6 3.2l.5 1.5l1.7-2.9l1.4-3.4l1.3-3.9l-.3-3.2l1.5-3.7l.2-4.6l2.7-4.7l.2-4.8l.8-3.8l1.3-3.3l.4-2.4l2.2-3l.6-1.6l.7 4.1l2.1 2.1l-.7 2.4l2.1 4.5l.6 2.6l.9 .5l.6 .6l1.6 1.6l1.4 2.1l.1 1.1l.7 1.7l1.6 .4l1 .1l1.6-.4l.1-.4l1.4-1.6l.9-2.1l1.4-1.1l.8-1l1 .9l1.8 2l.4 .6l1.6 1.2l.8 1.1l.6 1.4l.4-.3l1-1l1.2-2.2l1-2.7l.8-.4l1.3-1.2l1.3 1.7l.7 2.5l.6 .8l.7-.6l2-1.3l1.5-1.4l-.2-1l1.7-1.2l1.3-1.5l.3 .2l2.1-.9l-.6 1.5l1 2.6l2.2 2.9l.4 2.1l.2 3l2 4.5l.6 1.9l1.8 2.5l.9 4.3l1 1.8l.8 1.9l1.3 2.4l.7 4.6l1 2.1l.9-.5l1.5 1.5l.2 2.9l1.4-3l.3-5.6l1.8-5.8l1-5.6l0-5.7l.8-5.2l1.9-5.3l.6-4.8l1.3-5.3l.7-5.3l1.9-10l.9-8.9l-.2-7.4l1.7-8.6l1-11l.3-10.2l1.2-9.9l1.1-5l1.3-3.5l1.4-4.2l.6-5l.6-3l1.5-2.4l.3-3l1.6-1.6l1.4-1.6l.5-.7l1.8 .1l.9-.3l.9-.3l.5 .6l.8-2.9l1.3-2l1.5-.9l.5 .1l1.6 2.2l-.1 2.9l1.2 2.4l1.2 3.1l1.3 4.2l.9 2.7l.3 4l1.6 9.4l.3 10.3l1.4 21.9l1.5 17l.7 10.5l.7 10.9l1.6 9.3l.7 9.7l.7 8.6l1.3 7.9l1.2 8.6l1.3 5.2l.7 3.4l.5-2.9l1.5-2.7l1.1-2.3l.7-1.5l.9-1.6l.8-1.4l1.6 1.9l1.1 5.4l1 10.2l.5 12.1l1.2 13.4l1.1 11.2l.7 7.7l1.6 3.9l0 .6l1.4 .3l.4 .3l1.7 .4l1.4 1.7l0 .5l2.2 .6l1.3 1l.4-.3l.5 .8l1.4 .6l1.2 .9l1.3 .7l.2 1.5l1 .8l2.2 .6l.2 .4l.8 .3l1.4-.4l.2 1l1.2 1.2l1 0l1.4 .2l.6 0l1.2 .1l1.2 .4l1.5-.4l.2 .5l1.4 1.2l.6 .4l.4 .1l2.1 .8l.3 .5l1.1 .1l1.4 1.5l.7 .3l1.1 .3l.9 .8l1.9 0l1.2 .3l-.1 .1l1.7 1.9l.2 1.6l1.1 1.4l1.1 .4l.6 1.2l1.1 .8l2.1 2.5l.6 2.1l.3-2l1.4-1.8l1.4-1.7l.9-2.3l.8 .3l.9 1.6l1.6 1.8l.4 1.8l1.2 1l.9 .8l.3 1.2l1.9 .7l.3 1l1.7 0l.6-1.4l1-.8l1.1-1.2l.6-1.5l2.5-1.5l-.2-3.6l1.3-2.7l.8-1.6l1-1.3l.7-2.1l.9-1.9l1-2.2l1.1-.6l.6-.5l1.4-.9l1.3-.9l.5-.3l1.9 .2l1.3-.3l-.1 1.5l1 1.2l1.4 .7l1.2 .7l1.1 2l-.3 1.4l1.4 1.2l2.2 2.5l.7 3.4l1.2 3.6l-.6 2.4l2.2 3l1.8-2.5l-.5-1.7l1.3-2.7l.9 .1l1-.5l.9-1.6l1.5-1.7l.9-.2l1.1-.9l.4-1.9l1.9-1.1l.7-.2l.5-.4l1.8-.7l.8-.2l.2-.1l2.5-.7l-.4-.5l1-1.2l2.3-.3l.3-.4l.8-.5l.9-.3l1-.4l.9-.2l1.7-.8l.6-.4l1.3-.2l1 .2l.1 0l1.7-.7l1.9 0l.9-.1l.4-.5l.3-.5l1.4 .6l.3-.6l1-.1l1.9-.3l-.3 .4l2.2-.1l.9 .7l.9 .3l1.4 .7l.4-.9l.6 .7l1.6 .4l1.2 .2l.7 .6l1 .7l1.5 .1l.4-.3l1.2 .1l1.4-.2l.9 .2l.6 .9l1.7-.8l.5 .3l.7-.2l1.7 .2l.8 .4l1.1 .1l.4-.1l2-.2l.2 .6l1.2 .2l1.5-.4l.2-.5l1.9 .5l.2-.4l1.1 .6l1.4-.3l.4-.3l.9-.2l.9 .1l1.3 .1l1.2 .5l.3 0l2.3-.4l-.2-.5l1.8 .4l1.4 .2l-.5-.6l1 .1l1.8-.1l.9-.3l1.1-.4l1.4 .2l1.1 .1l.5 0l.9 .3l.9-.2l.6-.3l1.4-.3l1.8 0l1-.6l1-.8l.6-.3l1.2 .4l.5-.7l1.3 .1l1-.6l0-.3l1 0l2-.2l.7-.5l1.1-.3l.9-.4l1.3 0l.6-.3l.8-.7l2 .1l-.2 0l2.4-.2l.8 .1l.3-.6l.9-.8l1.5-.4l1-.2l1-1l.3-.6l1.4-1.1l1.3 .3l0 0l1.7-.1l.7-.5l.8-.4l1.8 .3l1.1-.5l.8-.5l.7 0l1.8-.6l.4 .5l.7-.5l1.2 .2l1.1-.5l.7-.8l.8-.1l1-.1l1-.5l2 .1l.6-.6l-.2-.7l2.2-.2l.5-.4l1.2-.8l.9 .2l1.3-.3l.7-.4l1.4 .2l.7-1l.6-.2l1.7-.8l1.7-1.4l0 .3l.7-1.1l2-1.1l.6-1.2l.4-1.2l1.5 .1l.9-1.7l1.6-2.8l.3-3.4l1.7-3.4l.2-3.8l1.1-4l.9-.2l1.3 3l1.1 .8l.6-.1l.5 .5l1.7 .1l1.4-1.8l.6-2.5l1.7-2.1l.1-2.3l1.7-3.3l1.1-3l.4-2.8l.8-7.6l.9-7.3l1.2-7.2l1.5-6.8l.6 3l1.1 7.3l.7 3.3l1.2 3.5l.7 2.2l1.4 .7l1 .8l.8 2.1l.3 .8l2.5 .6l.6-.1l1.1 .1l.1 .8l1.1-.6l1.6-1.5l1.1 .1l.6-1.2l1.3-.8l.8-.3l1-.7l.3-1.9l1.4-3.5l1.3-2l.8-3l.3-2.5l2-3l.5-2.9l1.5-2.2l.5-2.1l1.6-3.5l.9-3.4l1.1-1.8l1.3-2.9l.4-2.9l.9-3.9l1.2-3.8l1.7-2.6l.6-2.6l.7-2.9l1.7-3.7l.3-3.3l.9-3.2l1.2-3.4l.5-3.8l2.2-3.6l.1-3.1l.8-3.3l2.1-3.2l.6-2.8l.6-4.5l.7-3.4l.9-3.7l.7-3.2l1.4-3.3l1.2-3.7l1.2-3l.6-3l.9-3.7l1.5-3.8l.3-3.2l.9-4.9l1.5-3.2l1.2-2.8l.8-2.8l.7-3.5l1.6-3.5l.6-2.5l1-2.2l1.3-2.6l1.8-3.5l.3-2.4l.6-3l.9-2.2l1.7-1.9l.6-2.2l1.2-2.3l.3-1.8l1.6-1.6l.2-.5l1.6-.4l.3-1.3l2.1-.8l.9-1.1l.7-.6l1-.4l1.5-1.1l.4-.2l1.5 .4l.5 .4l1.8 1.2l-.1 .1l2.3 .5l.2 .8l1.2 .6l.5 .4l1.8 .9l.6 .5l1.8 1l0 .8l.6 .8l1.5 .9l2.5 .7l-.4 1.1l.7 .4l1 .9l1.9 .9l.7 1.4l1.5 1.2l-.3 1.3l1.2 1l.7 1.8l1.9 2.1l-.3 2.3l2.1 2.7l.8 2.2l.6 2.8l.8 3.4l1.9 2.8l1.3 3l.3 3.3l1.7 2.9l.6 3l.9 3l.7 3.7l1.7 3.1l0 2.9l1.7 3l1.1 2.6l.8 3.3l.8 2.4l.6 3.9l2.1 3.2l.6 3.3l.9 3.8l.1 2.7l2.2 3.5l.9 3.1l1.3 3.2l.1 3.5l1.3 3.2l.9 3.3l1.6 3.6l.5 3.1l1.5 3.6l1.3 2.7l.5 3.3l.5 3.4l1 3l1.6 3.5l.6 3.8l1.2 3.6l1.4 2.6l1.4 3.6l0 2.9l1.5 3.6l1.3 4l0 2.8l1.1 2.9l1.6 4.1l.5 3.4l1.2 2.9l1.1 3.9l1.3 3.6l.4 3.5l1.7 3.6l.6 2.9l1 3.4l.5 3.8l1.1 4.1l1 3.6l1.6 3.1l0 3.4l1.1 4l1.5 3.8l.8 3.1l.6 3.5l1.8 3.4l1 2.5l-.3 2l2.2 2.1l1.1 2.6l.5 2.1l1.2 1.6l1.7 .3l.3 1.3l.5 .6l1.2 .8l1.2 .7l1.1 .8l1.7-.3l.3 .4l1 .2l1.1 .1l1.1 .5l1-.7l1.1 .5l1 .5l1.1 .3l1.1-.2l.7 .1l.1 .2l2.1 0l1.5-.6l-.2 .7l2.4 .2l-.2 .2l1.7-1.4l.9 .8l.5-.2l1.3 .4l.8-.5l1.5 .4l.4 .5l1.4 .2l.7-.2l1.2 .1l.7-1l1-.3l1.2-.1l.6 .4l1.2 0l1.5 .2l.2-.2l1.8 .5l.3 0l1.2-.1l1 .1l1-.5l1 .7l.8 .1l1.1 0l1-.8l1 .1l1.1 .5l.4-.1l1.8-.4l.9 .4l1.1 .1l.9-.6l.7 0l1.3 .5l1.8 .1l0-.4l1.6 .1l.3 .6l2-.4l.7-.6l1.5 0l.3-.2l.5 .9l1.6-.5l1.2-.6l.9 1.2l.1 0l1.9-.2l.9 0l1.1 .5l.7-1l1.1 .6l.4-.2l1.6-.5l0-.2l2.4 .5l.6 .7l1.1 .2l.3-.8l1.5 .3l1.6 0l-.7-.2l2.5-.1l.8-.1l.5-.4l1.7 .7l.1 .3l1.6 .4l1-.5l.9-.1l1-.1l.7 .1l1.5 0l-.4-.2l1.9-.2l1.2 .1l1.3-.3l.7-.1l1.8 .5l.4-.5l.6 .4l.8 0l2 0l.6-.2l1 .5l.4-.5l1.6 .3l.6-.2l1.3 .3l1.3 .2l1.3 .3l0 0l1.7-1l.4 0l1.2 .2l.9 .5l.6 0l1.5 .2l1.2-.1l.7 .2l1.5-.2l.8-.1l.6-.5l1.4 .3l1.4 0l.4 .2" stroke="#f09a10"/>
<path d="M125.5 129.4l.7 .5l1.2 .2l.3-.1l1.6 4.5l0 3.8l1.1 3.3l2.2 4l.5 3.9l.8 3.9l1 3.7l.9 3.9l1.2 5.2l.7 4.5l1.2 4.1l.6 4.8l.9 4.2l1.8 4.5l.8 5.1l1.5 5l.8 4.4l1.1 4.9l.4 5.3l1 5.5l.6 6.5l1.7 4.8l.8 5.2l.6 3.9l1.8 5.3l.7 4.9l1.9 5.6l0 5l1.3 6.4l.3 6l1.6 6l.8 4.7l.4 6.7l1.6 6l.3 5.1l1.9 6.1l1.4 5.6l1 5.7l1.1 4.8l0 5.4l1.4 5l1.3 4.9l.3 4.4l1.1 4.8l1.2 4.1l1.3 3.2l1.5 4.5l.2 3.5l1.4 4.3l.6 4.3l1.8 3.9l.9 5.2l.6 5.9l1 5.9l1 5.1l.6 5.4l1.1 6.1l.8 4.6l1.1 2.8l.9 3.1l1.1 3.7l1 3.3l1.5 2.8l.6 3.7l.9 3.9l1.4 3.4l.5 1.7l.8 2.3l1.4 2.8l1.1 1.4l1.1 .8l1 .8l1.3 .5l.5 .6l2-1l.2-1.1l.5-1.1l1.2 .3l.5-.4l1.5 .6l.4 1.2l1.5 .4l1.5-9.4l.7-9.1l1.3-9l1-9.9l1.1-5.8l1.7-5.8l.1-5.8l.7-6.2l.8-5.8l.8-5.7l1.3-8.4l1.4-8.4l.1-8l1.9-7.7l.7-8.2l.6-8.2l.8-8l1.8-7.3l.8-8.9l.9 2.8l1.6 5l0 7.7l1.4 4.4l1.1-1.1l1.4 .5l.7 1.1l1.1 3l.1 2.4l1.9 3.2l.9 2.1l.9 1.4l1.6 1.6l.4 2.1l.5 4.2l1.6 1l.6 2.3l.8 2.9l2.1 1.9l.3 .2l1.5-2.1l.3 2.4l1.5 7.3l1.7 6.5l1 16.8l.1 16.7l.8 20.3l1.7 7.4l.8 5.8l.4-7.6l1.5-8.3l.9 6.1l1.1 7.6l1 9.7l.6 6l.8 4.6l1.8 5l.3 5.3l1.3 6.5l1.1 3.4l.5 3.4l1.2-4.6l2-4.8l.9-5l1-4.2l.6-3.7l1.6-3.9l1-3.4l.9-3.4l.9-4.8l1.1-5l.8-1.1l.3-2l1.1-4.1l.6 1.4l1.2 2.9l1.4 3.5l1.1 4.3l1.3 4l.6 3.8l.7 1.5l1.9 2.9l.2 2.8l1.7 1.1l.4-.9l1.3-1.3l1.5-.8l.8-.9l0-.8l1.4-1.3l.7-1.5l1.3-1.3l.9-.4l1.7 .6l.4 .7l1.2 1.9l1.3 3.1l.9 1.7l1 0l.7-1.8l1.6-2.2l.6-2.8l1.2-3.8l.9-3l.7-.3l1.4 1.3l.4-.3l1.4 0l-.1-1.7l2.4-2.1l.3-2.5l1.7-2.3l.4-3.6l1.7-3.2l1-3l.2-1.3l1.3 4.3l.6 2.8l1.1 3l1.2 4.6l1.6 3.9l-.1 3.7l1.9 3.6l.6 4.6l.9 5.7l1.3 5l1.2 4.7l.2 3.7l1.2 2.6l.8 2.4l1.4 1.6l.9 4.1l.9 3.6l1.1-.9l1.1-1.1l.5 .1l1.8 .2l.8-.7l1.6-.5l.6-2l.7-3.3l.9-4.1l.2-5.1l1.4-7.1l1.8-6.4l.1-5.7l1.1-5.4l1.1-7.3l1.6-7.2l.4-7.7l1.5-4.2l1.1-3.7l1.3-4.1l.3-5l1.9-3.8l.8-3.4l.9-2.8l1.5-3.1l.5-2.4l.7-2.5l0-1.1l2.3-2.8l.6-4.6l.6-3l.9-2.7l1.7-.9l.3-3.3l1.1-2.1l1.5 3.1l1.4 4.4l.6 4.5l1.2 5.3l.7 5.6l0 4.3l1.5 5.9l1.7 9.9l1.2 9.1l.2 14.3l2.4 12.7l0 10.5l.8 10.4l1 8.7l.8 7l1.5 7.2l1.4 7.9l1 6.2l1 3.8l.6 1.2l1.1-2.8l1.2-1.9l.1-1.9l2-1.9l.9-1.3l.5-1.7l1.1 1.8l.6 3.6l1.3 8.1l1.8 9.7l.1 12.1l1.3 9.6l.5 6.4l1.8 4.3l.4 1.3l1.3 .7l.6 1.1l1.2 .1l1.5 .8l.2 .2l1.4 1l.9 .3l1.6 .8l.8-.2l.1 1l1.3 0l1.2 .3l.4-.4l1.8 .9l1.3 1l.9 .2l.6 .8l.7-.2l2 .4l.2 .1l.9 .1l1.4 .9l1.7 .4l-.6 .6l1.6 .2l1.9 .6l.4 1l1.1 .1l.6-.3l1.7 .1l.4 .3l1.2 .6l1.1 1.3l.7 .5l1.3 .3l1.3-.5l1.1 .3l.1-.3l1 .9l1.6 1.9l1.1 2l-.1 2.2l1.4 .5l1.2 0l.9 1.5l.4 .8l1.5 1.9l.7 2.1l2.5-1.3l.3-2.9l.9-2.5l.8-2.2l1 1.1l1.6 1.5l.9 2l.5 1.3l1.2 .7l1.5 1l.4 1.8l.8 .5l1.5 .4l.9 1.4l1.1-.6l.9-.9l.8-2.1l.3-2.9l2-1.8l.6-2.2l1-2.6l.8-2.3l1.4-2.3l1.1-2.3l.7-2.2l.8-1.6l1.3 .5l.7-.2l1.6 .5l1.1 .4l.1 0l1.2-.1l1.4 .7l.9-.4l.1 .5l1.8 .6l1.2 .4l.6 1.7l.8 1.7l1.6 2.3l1.2 2.8l.8 4l.7 3.5l1.4 3.4l1.1 2.7l.8-3.6l1.3-3l1-2.4l1.1 .2l.2-.7l.7-1.5l1.6-.1l.9-.1l1.2-.9l1.1-1.4l.7-.5l.7-1.1l1.6-.9l1.1-.8l2.1-.6l-.2 0l1-.7l1-.7l1.5-.7l.2-.3l.3 0l1.8-.6l.6-.8l1.2 0l1.4-.9l.8-1l.5-.4l1.2-.5l2.3-.1l.1-.6l1.2-.4l.7 .2l1.4 .5l.2-.3l.9 .1l1.8-.2l.6-.2l.9-.3l.7 .5l1.5-.1l.6-.1l.8-.1l2.4 0l.7 .3l.8 .1l.9 .8l1.6-.3l.2 .4l2 .3l-.5 .2l1.5 .7l.7 0l.9-.2l1.1 .7l.7-.8l1.2-.7l1.2 .3l.8 .6l1.3 .3l1-.3l.8-.4l1.2 .3l.6 .3l1.1 .6l1 .2l1.2-.4l1 0l1.4-.1l1-.4l.3-.4l1.1 .6l1.5 .4l.6 .1l1 .1l1 .1l.4-.2l2-.3l1.5 1l.5 .1l1 .1l.6 0l.8 .1l2-.2l-.1-.9l1.2 .6l1.4-.2l.9 .2l.6 .2l1.8 0l1.3-.2l-.3-.5l2.4 .1l.7-.1l.6-.2l.8 .2l.6-.6l1.7-.4l1 0l0 .1l2.3 0l.9-1.4l.5-.3l1.3-.2l1.6-.1l.3 .5l.9-.4l1.3-.3l.9-.7l1.4-.5l.4-.7l1.1 .6l1.4-.8l.5 0l1.7-.6l.5 .1l.5-.5l1.1-.6l1.1-.3l1.4 .4l.9 0l.4 .5l2-1.8l1 0l.9-.8l.4 .5l1.8-1l.6 0l.6-.8l1.6 .3l1.3-.4l.6-.2l.9-.4l.3-.4l2 .7l.4-.2l1.4 .4l.5-.3l1.5-.7l.9-.9l.3-1.1l1-.9l1.7 .4l.6-.6l.7-.4l1.2-.3l1.4-.4l1.6-1l.3-1.2l.5-1.5l1.3-.9l.9-.8l.7-.4l1.7-1.3l.9-.5l1.3-.5l.8-1.3l1.1-2l1.1-1.9l0-2.3l1.8-2l.6-1.9l1.9-3.8l.7-4.4l.1-5.3l1.6-5.7l.8-5.4l1.6-3l.8 3.8l.8 1.7l1.4-.7l.7-2.3l1.2-1.9l.4-2.6l1.5-2.5l1.2-2.3l1.1-4.5l0-4.3l1.8-4.4l.3-3.6l1.8-8.6l.8-10.2l2.1-9.3l-.1-4.9l1-4l.6 5.6l1.1 5.4l1.7 5.2l.4 4.7l.8 1.4l1.8 1.3l1 2.7l.2 1.8l1.3 2l.8 .3l.5 3.3l2 .5l1.3 .7l.4 2.9l1.4-.5l.1-2.7l1.5-2.3l1-.5l1.4-.4l.3-1.9l1.1-2.5l.9-3.3l.8-2.5l.9-2.4l1.6-2.6l1.3-3.6l.9-2.6l.4-2.6l1.9-2.9l.7-2.1l.1-2.7l2.2-2.5l-.6-3.2l2.7-3.4l.4-3.8l.7-3.4l1-3.1l1.7-3.8l.4-4.1l.8-3.9l.9-4.1l1-3.5l1.2-3.7l1.2-4l.7-3.5l1.8-3.6l.9-4.2l0-4.6l2.4-4.5l.2-3.6l.9-3.5l.6-3.3l1-4.1l1.2-3.2l.3-3.9l1.6-3.2l1-3.7l.9-4.7l2-4.2l.8-4.5l.1-4.6l1.2-4.4l.6-4.2l1.6-4.3l1.8-4.1l.7-4.2l-.2-4.4l2.4-5.5l1.2-3.2l.6-4l1.4-4.3l-.3-3.6l1.6-3.6l.7-3.6l.8-2.9l1.8-2.9l.6-3.6l1.4-1.2l.6-1l1.2-1.9l1.1-1.4l.4-2.2l1.8-1.1l.4-.2l1.2-.2l.6-.5l2.1-.6l.2-1l2.1 .3l-.4-.2l1.7 .5l-.1 .3l2.2 1.2l.7 .7l1.5 .1l.8 0l.3 1l.9 .5l1.6 0l1.5 0l.2 .6l.4 1.6l1.4 1.5l1.2 .4l1.5 1.5l.5 1.2l.8 .1l1.6 1.1l.8 1.5l.3 2.8l1.4 2.9l.9 3l1.5 3.6l.5 3.3l1.1 4.1l1.5 2.9l.6 3.5l1.7 4.5l.5 4.3l1.2 3.4l-.3 4.5l2.3 4.5l.2 4.9l1.3 4.4l1.7 4.6l-.2 3.7l1.8 3.8l.8 4.1l.3 3.5l1.8 4.1l1 4.5l1 3.2l.6 4.1l1.2 4.9l2 4l.2 4.6l1 4l1.9 3.6l.5 4.5l1.4 4.8l0 3.6l1.4 4.1l.8 4.3l.8 3.9l1.3 4.1l.7 4.9l.8 3.5l1.1 4.3l1.6 4l1.6 4.3l-.2 3.9l1.2 5.1l.6 3.9l1.2 4.1l1.1 3.2l1.1 4.1l1 4.4l1.3 4l.8 3.9l1.1 4.3l1.5 3.9l0 4l.8 2.9l1.2 4.6l1.6 4.2l.8 3.6l.8 4.1l.5 4l1.6 4.4l1.3 3.8l.9 4.2l1.5 4.5l.1 3.6l.7 5.1l1.4 3.9l1.1 4.2l1 3.7l.3 3.7l2.3 2.9l.3 2.3l2 2.9l.4 3.2l.8 1.4l1.4 1.7l1.2 1.6l.8 2.5l.3 1l1.1 1.3l1.3 1.1l1.4 .6l1 .8l1.3 .7l-.1 0l1.6 .5l0 .5l.7 .3l2.7 .3l0-.2l1.5-.4l.4 .6l1.9-.1l.7 .1l.7-.6l1.2-.5l.9 .5l0 .5l2.7-.1l0-.5l1.4 .4l.6-.3l2 0l.5 0l.3-.3l1.5 0l1 .4l1 0l.7-.7l2.1 .1l.7-.4l.5 .8l1.1 .5l.5-.3l1.7 .8l1.2-.3l0-.7l.8 0l1.3 .1l1.4-.3l1.3 .4l.8 0l.8-.3l1.6 .3l.4 .4l1.5 .5l1.4-.2l0 .1l.4-.4l2.3-.2l1.1 .8l.3-.1l.9-.7l1.5-.1l.6 .3l.6-.6l1 .3l1.4-.1l.6 .6l1.1-.2l1.4-.3l1.2-.5l1.2-.4l.4 .4l1 1l.9 0l1 .3l.8-.5l1.3 .4l1.3 0l1.1-.2l.7 0l1.4-1l.5 .4l.7-.1l2.3 .2l-.1 .4l1.1-.1l1.4 0l1.5-.2l1.1-.3l-.2 .3l1.1 .3l1.2 0l.9-.2l1.4-.2l.3 0l1.4 .2l1.9-.6l-.3 .4l1.4 .5l2.1-.1l.5-.2l.5 .4l1.2-.1l.7 .1l1.5 .2l.4 .1l1.3-.5l1.4-.6l.5 .5l1.4-.3l.6 0l1.9 .5l.8 .4l.1-.4l1.9 .7l.6-.6l1.2 .1l.8-.4l1.2 0l1 .4l-.3 .1l2.1-.5l1.7 .2l.1 .1l1 .1l.7-1l2 .2l.1-.2l.6 .8l1.2-.8l1.9 .2l.4 .5" stroke="#0862f6"/>
<path d="M125.5 103.5l.9 2.6l.8 .7l1.2 2.3l.3 3.3l1.3 3.9l.6 3.2l1 3l1 2.8l1.1 3.3l1.6 3.6l1.1 3.1l.3 4.3l2.5 3l-.3 3.2l1.4 3.8l1.2 4.2l.6 4.7l.6 5l1 5.3l1.2 5.4l.6 5.2l1 6.4l1.3 6.2l.9 6.4l1.9 7.5l.6 6.1l.4 6.4l.9 6.1l1.3 5.3l1.6 5.6l.4 5.3l.9 5l.9 4.9l1.7 4.2l1.2 4.9l.1 4.7l2.1 5.5l.3 5.3l.4 5.9l1.5 6l1 5.8l1.8 5.6l-.1 5.5l1.1 6l1.5 5.6l.9 6.3l1.4 5.3l.7 5l1.2 5.1l.6 6.1l1.3 5.3l.2 4.2l1.2 4.2l1.5 4.2l.1 3.7l1.7 3.8l.9 3l1 4l1.1 3.8l.7 3.5l.6 3.8l1.6 1.5l1.3 2.6l.7 3.7l1 4l1.2 4.2l1.4 3.9l1 3.5l.4 4.3l0 2.1l2.6 2.8l.3 2l1.6 1.8l1.5 1.3l0 1.4l1.1 4.1l1 2.5l1.7 1.5l.2 2.5l1.3 1.8l.5 2.8l1.5 2l.7 1l.7 1.6l1 2.3l1.8-7l.6-8.7l1.2-8.2l.4-9l1.6-4.9l.8-5.5l1.7-5.6l.5-5.6l.6-6l.8-5.8l1.4-6.4l1.1-5.9l1.3-6.4l.5-7.2l1.5-7.5l.6-6.9l1.1-6.5l1.3-6.9l.4-6l1.5 7l1.1 7.8l.8 5.2l.5 3.3l1.6 2l2-5l0-2.8l.4 5.2l1.2 5.3l.6 1.6l.7 3.7l2 4l1.2 1.8l1 2.6l.3 5.1l1.3 .2l.9-1.7l1.4-3.4l.9-4.5l.7-.2l.9 6.8l1.7 6.9l-.1 .8l1.7 2.3l1.1 16.8l-.2 15.8l.8 16.9l2.5 10.1l.6 9.7l1.3-2.4l1.4-3l1.1 8.1l.9 7.2l-.7 5.6l2.2 4.7l1.4 6.4l.9 5.4l-.2 6l1.7 6.9l1 1.7l1.1 .7l1.9-4.2l-.3-2.8l1-5.2l.8-2.9l1.1-1.6l1.9-2.9l-.1-4.9l2.1-5.4l.7-4.5l.9-4.8l.7-1.9l1.8-1l.7-1.4l.5 1.7l1.4 .7l2.1 2.4l-1 3.3l1.3 3.7l1.8 2.8l.3 .1l1.3 1.7l.7 1.8l.5-.3l2.2-.7l1.2 .7l.3-.2l.8-1.6l1.8-.7l.6 .1l1.8-.6l.3-.1l.7-1.2l2.2 .7l-.2-.2l.9 .4l.8 1.8l2.1 2l-.1 1.5l1-2.7l2.5-2.4l.5-1.5l-.1-2.4l1.9-2.7l.8-.8l.9 2l1.4 1.5l.9 .6l1.5-.4l0-1.3l1.3-1.6l.9-1.4l1.6-1l.5-1.3l1.1-1.4l1.4-1.6l.2 3l1.1 4.1l1.5 3.6l.2 2.7l2.3 2.6l.5 4.9l.6 3l1.7 2.9l1.2 2.8l.3 3l1.4 3.7l.7 2.3l.4 2.4l.8 3.2l2.2 2l-.1 1l1.2 2.3l.5-2.6l1.5-3l1.1-1.5l1.4-1.8l.7-1.8l.8-1.6l.9-2.9l.9-3l.8-4.3l2.3-3.7l.6-5.7l.6-5.4l.8-4.4l1.4-5.3l.7-8.2l1.2-7.1l.5-4.9l.9-4.2l2-3.9l.8-3.7l.8-2.4l.9-2.7l.8-3.6l1.4-5l.6-3.9l1.8-3l1-2.5l.8-4.5l1.3-5.3l.2-3.7l.3-4.1l1.7-5.3l.7-1.8l1.5-1.2l.9-1.8l.8 1l1.3 3.5l1 5.9l.9 6.8l1.3 7l.8 5.6l.4 5.2l1.2 7.4l1.4 7.3l1.2 14l.8 11.2l1.2 10.3l1.3 11l.6 9.6l.4 6.1l2.8 6.7l-.4 6.5l1.4 4.5l1.2 4.1l.4 2.7l1.7-2.1l.2-1.7l.9-2.8l1.3-3.4l1.2-2.4l1.1-.6l.8 1.7l1.3 4.5l.1 9l1.4 9.7l1 12.1l1.1 9.4l1.4 6.5l.5 4.5l.9 1.7l.9 1.7l.8 .4l1.2-.3l1.6 .2l.7 1.1l1.1 1.1l1 .6l.8 .5l1.5 .6l.4 .6l.6 .4l1.4-.1l1.4 1.1l.6 .7l2 .4l-.2 .3l1.8 .3l.3 .5l1.6 .5l0 0l1.5-.1l1.1 .4l.7 1l1.7 1.1l.5-.1l1.1 1.1l1.1 .1l0 .2l1.6 0l1.3 .5l.8 1.2l1.5 .5l1.3-.1l.2 .1l1.4 .3l.2 .4l1.5 1.4l1 .7l2 .8l-.4-.2l1.4-.3l1.2 1.4l.8 2.7l1 1l1 .9l1 .8l1.6 1.7l1 1.5l.5-1.1l1.1-1.9l1.2-2.1l.6-2.3l1.8 1l.6 .8l1 .1l.5 2.3l1.1 2l1.3 1.3l.6 2l.9 1.8l1 2.7l.6 1.3l1.3-2l1.1-2.3l.8-2.9l1.8-3.5l1.1-2.3l1.3-1.1l.4-1.4l1-1.9l.7-3.1l.8-1l1.2-2.1l1.6-2.2l.1-.5l1.4 .4l1.3 .2l.9-1.2l.9 .2l1.1-.1l1.1-.6l1.5-.6l.3 .8l1.1 1.2l1.5 1.2l.5 1.2l.2 .8l1.3 1.9l2.2 2.8l.6 3.7l.9 5.4l2.1 7.3l-.1 7.6l.6-4.2l1-7.3l1.5-4.4l.6-2l.8-1.4l1.2-.6l.8 .6l.6 .3l1.9-1.2l.4-1.6l1.8-.5l.7-1.2l.5-1.6l1.4-.7l.4-.9l1.8-.5l1.5-.9l.4 .3l.8-1.1l1-1.1l1-.7l1.1-.6l1.7-.2l.4-.4l.4-.5l1.2-1.1l1.3 .3l1 .1l1.6-.1l-.2 0l1.8 0l.9-1l1.2-.1l.9-.2l-.2 .5l1.7-.3l1.5 .5l-.1-.6l2-.2l1.3 0l1 0l.5 .4l1.7 .5l.7 .4l.3 .4l1.2 .8l.7 .4l2 .5l.5-.2l.6 .5l1.2 .1l1.7 0l.6 .3l1.1 .3l.5 .1l1.5 0l.6-.3l.7 .8l1.5-.2l.9 0l1.2 .2l1-.9l1.2 .3l.6 0l1.2-1l.6 .2l1.3 .8l.7 .5l1.4-.2l1.4 .1l.6-.4l.9 .4l1.4 0l.5-.1l1.2-.5l.8 .3l.2 0l1.5-.2l2.2 .2l.9-.3l0-.2l.6 .3l1.7 0l1.3-.1l1 .1l.8-.1l.5 0l.9 .1l1.3 .4l.9 .2l1.6 .5l1.1 0l.5 0l1.4 0l1 .2l.9-1l.5 .7l.7-.1l1.4-.4l1.3-.5l.5-.4l1.4 .7l1.2-.1l.6-1.3l.7-.2l1.7 .2l1.1-.2l.6-.6l.9-.1l1 .1l1.6-.4l.8-.2l1.3 .9l.6 .1l1.6-.4l.1-.7l1.1-.2l1.1-1.2l.6-.6l1.6 .4l.2 1l1.5-.7l.7-1.1l1.2 .2l1.4-.3l.6 0l1.4-.9l1.1 0l.6 .3l1.3-.6l1.2-.4l.1 .2l1.1-.4l1.6-.7l1.1-1.2l.6-.2l.9-1.2l.6 .1l1.6-1l1.1-.6l.6-1.1l1.3 .1l1.3-.4l.9-.7l1-.8l.3-.2l1.9 0l.8-.9l.6 .1l1.9-1.4l0 .1l.9-.6l1.9-1.4l1.4-1.3l-.5-1.3l1.7-1.3l1.1-1.7l1-2.2l.4-1.8l1.7-.9l0-1.7l1.5-3.1l1.6-3.4l1-4.6l.6-4.1l.8-5.2l.4-.8l1.9 2.5l1.1 1l.6-1.2l1.5-.8l-.3-1.3l2-2.8l.9-2.7l.7-2.6l1.4-3.2l.6-3l.9-3.6l2-3.3l.2-8l1.2-7.6l.7-7.4l1.6-6.9l1.2 .3l.2 7.1l.8 2.9l1.9 3.5l.7 3.9l.3 3.1l2.2 1.4l.4 1.2l.3 2l1.6 .6l1.7 .9l.1-.9l1.4 .6l1.1-.2l1.5-1.1l1-.3l.5-1l.8-2.3l1.1-.8l1-1.2l1.3-2.4l1.1-3.4l.8-2.9l1.2-2.7l0-2.7l1.4-2.6l1.2-3.2l1.6-3.2l.7-3.2l1.1-2.8l.3-3.4l.6-4.1l1.1-3.8l1.7-3.3l1.3-4.6l.4-4.1l1-3.6l.9-4.2l1-3.5l1.1-3.6l1.2-4.4l1.5-3l.2-4.1l2.2-3.3l-.4-3.7l1.3-3.7l.8-4.3l1.7-4.1l.6-3.8l1.1-2.8l.8-2.9l1.3-3.4l1.2-3.7l.4-4l1.2-3.2l1.4-4l.6-4.5l.7-4.9l2.1-3l.5-4l-.1-4.1l1.9-3.2l1.1-3.4l.8-3.5l1.5-3.4l.9-3.8l.9-4.1l1.3-3.7l.6-2.2l.7-2.6l1.5-2.7l.3-3l1.5-2.3l.3-3.3l1.4-.5l1.6-1.8l1.1-.7l.5-.8l1-1.4l1.1-1.2l.4-.6l1.7-.2l.3-.7l1.6-.1l.6-.1l2-.6l-.2 .8l1.3 .4l1.3 .4l1.2 .2l.8-.3l1.8 .1l.5 1l.4 1.2l.5 1.5l1.7-.5l1.9 .7l-.4 .6l1.5 1.5l1 .7l.8 .9l1.3 .9l.4 .6l1.1 .8l.6 1.2l2 .5l.5 2.7l1.2 2.4l.8 2.3l1.3 2.5l.9 3.2l.9 2.3l1 3.3l1 3.3l.5 4.2l1.7 3.5l1.2 3.2l.6 3.4l1.9 4.2l0 3.8l1.9 5l.4 3l.2 3.2l1.9 3.6l.8 3.4l.6 3.5l1.3 3.5l1.4 3.5l.7 3l.3 4.1l2 3.8l1.4 3.6l-.1 3.9l1.9 4.1l.4 3.9l1.1 2.9l.9 4.1l1.5 2.9l.7 4.3l.9 2.6l1.1 4.1l.5 3l1.4 4.5l1.2 4.4l1.5 3.7l1.4 3.6l-.2 3.2l1 3.8l.9 3.6l1 3.9l1 3l1 3.7l1.7 3.2l.8 3.8l1.4 3.7l1 2.9l.4 3.6l1.3 2.4l.5 3.9l1.3 2.6l1 3.3l.8 3.5l.9 3.4l1.7 3.7l.2 3.4l1.9 3.2l-.2 3.2l1.2 2.7l.6 4l1.5 3.6l1.8 3.4l0 3.6l2.5 3.3l.4 2.9l.3 3l2 4l.5 3.3l.7 2.1l.9 2.9l1.6 1.6l-.1 2.9l1.5 2.5l1.1 2l1.5 1.9l1.1 1.8l.6 1l.8 2.6l.8 1.9l1.2 .3l1.6 1.4l.6 .9l1.4 .3l.9 .4l1 .1l.5 .8l1.2-.4l.5-.6l1 .3l1.7 .3l1.5 .5l0 0l1.4 .1l.7 .4l1.2-.6l.9 .3l.6-.4l1.6-.4l1.7-.3l.2 .2l.9-.3l.8 .6l1.2 .1l1.3 .2l.6 .2l1.4 .2l.5-.2l1.7 .1l.6 .6l.4-.7l2-.5l.7 .2l1.1-.6l.8 .5l.7-.1l1.1 .6l1.3-.2l.2-.1l1.7 0l.9-.6l1 .4l1.4 .4l.7 .7l.4-.7l1.5 .5l1-.3l1.4 0l.5-.3l1.4-.1l.1 .2l.8-.2l1.9-.2l.9 .3l1.1 .5l.2 .1l1.5-.1l.8-.6l1.3 .3l1.2-.1l.5 0l1.9 .9l0-.9l1.1-.2l1.1-.2l.9 .3l2.3 .3l.5 .7l0 0l1.1-.5l1.7-.7l.4-.1l1.6 .3l.4 .7l.9 .1l1.7 .5l.6 .1l.8-.6l1-.3l1.4-.4l1.3 .6l.7 0l.9 0l1.4 .1l.6-.4l1.1-.3l.2 .6l2.1-.6l.8 .3l.4-.1l1.3 .5l1.5-.5l.8-.3l.7-.1l1.4 1l.7 0l1.4-.4l1-.8l.1 .4l2.1 .5l.1 .3l1.3-.2l.6 .5l1.1 .1l1.2-.5l1.2-.2l.8-.3l1-.5l.8 .3l1.2 .8l.6-.3l.9-.1l2.1-.2l.2-.1l1.8 .6l.5 0l.9 .5l1.1-.5l1.2-.5l1.7 .2l.2 .3l.7 .1l1.3-.6l1.1 0l.9 0" stroke="#8b0000"/>
<path d="M125.5 115.5l.9 .7l.8 1.4l.3 1.4l2.2 4.6l.5 4l.2 4.6l1.6 4.7l1.3 3.7l.7 4.2l.5 4.5l1.7 3.8l.5 3.9l.7 3.8l1.3 4l1.8 4.5l-.5 4.6l1.4 4.4l2.1 4.4l.2 5.2l1.3 4.7l.1 5.2l2.7 5.7l-.1 5l1 5.2l.5 5.2l1.9 5.5l1.8 4.7l.2 4.7l1.6 6.2l0 5.4l1 5.8l1.4 5.2l-.3 6.1l1.9 6.1l2 5.8l.2 5.4l.8 5.1l.7 5l2.4 5.4l-.7 4.4l1.4 4.6l1.4 6.3l.7 4.9l1.7 5.7l-.1 6.4l2 5l1.4 5.8l0 4.5l1.7 3.7l1 4.4l.6 4l.1 4.8l2.3 4.6l.4 4.4l1.3 5.2l1.1 5.1l1.3 5.4l.2 5l1.8 5.8l.8 5.7l.4 4.1l.8 2.7l1.3 2.3l1.2 1.8l1.2 1.9l1.4 2l.8 2.2l.8 2l1.4 2.9l1 2.2l.3 3.3l1.5 2.2l.9 2.8l.8 1.9l1.5 2.3l.6 4.4l1 1.6l.9 .7l.8 .6l1.3 .7l.7 .8l1.8 1.8l-.1 1.8l1.2 1l.9 .8l1.2-8.2l1.1-8.1l1.4-7.9l.8-8.5l.9-6l1.4-5.5l.3-5.1l1.1-6.2l1.3-5.2l1.6-5.7l.1-7.9l1.7-6.5l.9-6.8l.3-7.1l.8-6.5l1.1-6.4l1-6.6l1.5-6.4l1.1-4.9l1.2 6.8l1.2 6.3l.2 3.1l1.5 1.9l.5-.8l.8 4.6l1.2 5l1.2 1.7l.7 2.2l2.6 1.1l.6 1l-.3 2.7l.9 1l1.2-1.5l1.2-1l1.5 2.2l1 6.6l1.1 4.5l.4 2.2l1 2.5l1.1 .4l.8 2l1.1 2.6l1.3 1.1l1.2 13.8l.3 18l1.2 17.8l.9 4.8l1.7 6.4l.7-5l.3-8.4l1.8 5.2l1.4 6.6l.4 7.7l.7 5.9l1.4 5.5l.8 4.7l1.1 4.2l-.2 6l2.2 1.7l1.2 1.6l.8-3.4l1-2.2l1.2-3.6l1.6-4.2l.1-3l1.2-3.3l.8-1.9l1.5-4.4l.5-6.3l.6-4.1l1.3-1.2l.9-1.5l-.1-2.8l1.5 3.2l1.6 3.7l.3 4l1.4 2.5l1.1 2.6l1.4 2.5l1.2 1.8l.6 1.7l1.6 1l.2 .2l1.3 .1l.5 .6l1.6 .7l1.2-.9l.5-.4l1.6 .5l.3-.5l2-2.6l1.1-2.8l.6 1.1l1.1 1.7l.9 2.3l1.8 1.9l.6-.5l0-2.8l.8-3l2.2-1.1l.2-.8l.4 .1l1.5-.5l1.5-1.3l.9-.4l.3-.9l1.8-1.2l.3-2.6l1.2-1.2l.8-1l1.5-1.2l1.6-1.2l.3-.8l1.6-.8l.4-2.9l.7 1.7l1.3 .7l1.3 2.1l.9 3l1 5.8l1.4 5.5l.2 3.9l.5 3.1l1.9 2.2l.5 2.8l1.9 2.9l.7 2.7l.9 3.4l.8 2l.5 1.3l1 1.6l1.2 2.8l.8-2.9l1.7-1.8l.5-3.2l1.8-2.8l.7-3.5l-.3-4l2-5.3l1.4-2.7l.2-3.3l1.6-4.8l1-8.3l1-7.9l1.2-7.1l.3-9.7l1.7-8.6l.8-7.2l.8-7.2l1.2-3.7l.7-4.4l1.8-4.6l.4-5.6l.5-3.4l1.5-2.6l.8-2.4l.7-2.9l1.3-2.5l1.4-2.9l.7-1.5l.2-1.4l2.1-1.6l.1-1.6l1.2-3.2l1.6-1.3l.5-.8l1.2-1.2l1.5 .5l.6 1.3l1.2 3l.7 2.8l1.1 5.1l1.7 3.9l1.1 4.2l-.2 7.9l1.2 8l1.2 21.3l.8 16.6l.9 11.1l2.1 11.6l.1 10.3l.8 8.4l1.1 8.5l1.8 8.3l.9 8l-.1 5l2.1 1.4l1.1-3.5l.1-2.1l1-.4l.6-.7l1.4-2.2l1-1.5l1.4 1.7l.5 4.8l.7 9.9l2 11.6l.3 13l1.8 10.9l1.4 7.1l.8 3.5l.5 1l.6 1l1.1 .5l1.2 1.6l1.1 .7l1.8 .9l-.2 1.3l1.4-.2l1.2 .9l1.5 .8l.3 1.2l.9 .7l1.3 .7l1 .6l.6 .7l2 .3l.2 1l1.7 .4l0 1l1.7 .4l.6-.5l.7-.7l1.9 .9l.5 .8l1.5 .9l.2 .8l1.2 .5l1.2-.4l1.4 .2l.8 .8l.7 .5l1 .2l1.4 .5l.2 .3l1.4 0l.3 .3l1.8 1.5l1 1.3l.7 .8l1 .2l1.5 .5l1.5 .5l.4 .1l.2 .3l1.8 1.2l.8 1.6l.6 2l1.5 1.9l.8 .6l1.8-2.7l1.1-1.9l0-1.1l1.1-.6l1.2 1.8l.4 .6l1.7-.6l.4 2l1.6 2.6l1 2l-.1 .6l2.6 .5l1 .8l.1 2.1l1.2-1.5l.4-2.8l1.5-1.4l.6-1.1l1.8-1.7l.3-2.8l.8-1.9l1.6-2.5l.9-1.4l1.2-2.8l1.6-1.8l.3-1.5l1.2-.2l.8-.8l1.2-.6l.3-.4l2.3-.4l.1-.8l.9 0l.8 0l1 2.1l1.2 1.7l1.5 1.6l0 1.8l1.2 .4l2.2 .4l.3 3l.7 4.7l.7 3.8l1.5 1.5l1.3 2.5l2-1.9l-.2-1.6l1.1-1.5l1.2-.2l.6-1.3l1.3-.6l1.7-1l0-.6l.3-1.1l1.9-.9l.7-1.5l1.4-1.3l.5-.6l.6-.1l.8-.8l1.2-.3l.8-.7l2.1-1.6l.3-.4l1-.3l1.3-.3l1.7-.8l-.3-1.1l2.3 0l.7-.8l1.2-.7l.3-.4l1.3 .3l.9 .2l.9-.2l1.6-.6l1-.2l.5-.1l.9 .2l.7-.3l1.7-.3l.9-.3l.4-.6l2.1 .5l.6 .6l1 .7l.9 .4l1.5-.2l-.2 .2l1.2-.8l1.9 .7l.9 .4l1 .8l-.1 .5l1.3 .5l1.7 .5l.8-.5l.5 .6l1.5 .2l1.5 .1l.3-.2l.5 .6l1.7-.7l.8 .3l1 .2l.9-1l.7 .4l1.8 .1l.6-.3l1.4 .2l.2 0l1.2 .9l.8-.3l.7-.4l1.5 0l1.7 .3l.7-.7l0-.2l2-.9l-.4 .3l2.6 1l.4-.2l1.3 .7l1.1-.4l1 .3l.3-.4l2.1 .5l.7 .1l.7 .7l1.4-1l.2 .4l1.7-.1l0 .5l2-.6l.9 .1l.8 .6l1.7 0l-.2 .5l1.4 .6l1.3 .2l.3-.4l1.6-1.4l.8 .1l1.6-.2l.8-.5l1.5-.3l.2 .3l.9-.3l1.6-1.5l-.2 .7l1.7-.2l.6 .6l1.5-.8l1-.4l.8-.1l.9 0l1-.1l.8-.9l1.3-.4l1.3 .4l.9-.3l.9 .4l.9 .2l1.5-.4l.4-.4l1.1-.5l.7-.7l1.6-.1l.6 .1l.9-.2l.9-.2l1.3-.7l1.1-.5l1.2-1.2l.9 .4l.8 0l1.1-.3l1.4-.8l.5 .4l1.8 .2l0-.6l1.1-1.1l1.5-1.4l1.1-.9l.5 .2l1.3-.6l.1-1.1l2-.6l.5-.8l1.6-.7l.5-.1l1.2 .7l.7-.6l.3-1.1l2-1.2l.9 .3l.8-.4l.8-.5l1.3-1.1l.8-.3l1.6-1.9l.8-1.3l1.4-1.3l.5-1.3l1.1-1l.7-1.4l1.2-1.8l.5-2.4l1.3-3.7l1.5-4.6l.3-4.5l1.3 1l.6 2l1.9 .1l.3-.6l1-.4l2.3-.2l-.2-1.8l1.3-3.2l.1-2.4l1.8-2.3l.6-2l1.5-2.7l.7-3.4l1.4-7.9l.2-7.9l1.8-7.9l1.2-7.6l.2 3.2l1.2 6.2l.5 3.1l1.4 2.9l1.9 3.5l0 1.7l1.9 .9l0 1.6l1.8-.2l.2-.7l1.4 .6l1.5-2.9l.9 .1l.3 0l1.6-.2l.7-.6l1.4-.3l-.3-.2l1.4-1l1.9-1.6l.8-2.3l.8-3.6l1.2-2.8l.6-2.9l1.1-2.9l1.1-2.7l1.3-3l1.3-2.9l.1-3.5l2.1-3.2l-.4-3l1.9-2.5l1.5-3l.5-3.6l1.4-3.9l.4-4.5l.7-3.2l1.5-3.2l1.8-3.7l.7-3.6l.6-3.4l.4-3.7l1.4-3.5l1.1-3.4l.6-3.3l1.4-4.2l1.1-3.5l.7-3.2l1.6-4l.8-4.2l.4-3.4l.5-2.6l1.1-3l1.9-3.8l.7-4.4l1.3-3.5l.7-3.7l1.2-4.3l.6-3.2l.9-4.3l1.3-3.2l.7-3l.6-3.6l1.9-2.7l1.6-3.6l.9-3l.1-3.2l.9-2.6l1.8-3.3l.2-3.2l1.6-2.9l.4-2.2l1.7-2l.5-2.6l1.4-2l.1-1.3l1.7-.6l1.2-1.6l.4-.7l1.2-1.2l1.3-.8l1.3-.3l0-.7l2 .2l.8 0l.9-.4l1 .3l.8-.3l1 1l1.4 .6l.6-.4l1.7 .1l0 1.2l.4 .1l1.7 0l1 .9l.6-.1l1.9 1.1l.4 .8l.8 1.1l1.4 .8l1.3 1.2l1.1 .7l.7 .7l1.2 1.4l-.1 1.6l1.6 1.1l1.3 1.6l.4 2.1l1.7 2.9l1.2 2.1l.1 2.7l1.7 2.2l.9 2.9l.3 2.1l2.6 3.6l-.4 3l1.2 3.6l.8 3.4l1 3.7l1.4 3.8l.9 3.2l1.7 3.7l.3 2.9l1.1 4.1l.4 2.9l2.1 3.5l.3 2.6l1.2 4l.8 3.3l.7 2.5l1.4 3.7l1.7 4.3l.8 4.2l.7 3.4l0 2.5l2.3 3.4l.8 2.8l1.5 3.4l.3 4l1.6 3.2l.2 3.6l1.2 3.8l.1 3.5l2.2 3.7l-.3 3.6l2.3 3.4l.6 2.5l1.2 3.6l1.1 3.2l1 4.3l1.2 2.6l.9 2.9l.9 3.5l.8 3.3l1 2.8l.5 4l1.5 3.3l1.3 3.4l1.4 3.3l.5 3.1l.8 3.4l.9 3.4l1.7 3.3l0 3.6l1.2 4.1l.9 3.7l1 3.8l1.2 3.5l1.1 3.4l.8 2.7l1.4 3.3l1.2 3.9l.8 3.9l.4 3.6l1.8 3.5l.6 3.1l1.3 2.4l.1 2.5l2 2.3l0 1.5l1.5 2.3l1.7 1.6l.7 1.2l.3 .1l2.3 1.1l-.1 1l1.1 .3l1.5-.1l1 .7l.8-.2l.8 .2l1.3 1.2l1.3-.2l.5 .3l1.2 .4l1.1 .1l.4 .3l1.4-.6l1.1 .1l1.1 .5l1.3-.3l-.3-.5l1.4 .2l1.3 .4l1.9-.9l.1 .7l1.4-.4l.8 .3l.7 0l1.2-.4l.8-.4l.7 .7l1.7-.3l1.1-.1l.5 .1l.6 .2l.9-.1l.9 0l1.5 .3l.9-.3l2.1-.1l.6 .2l-.3 .7l1.5-.4l1 .2l1.6-.9l1.1 .6l.8 .3l.8 .1l1.8 .2l.6-.6l.6-.1l1.6-.1l.7-.3l1.1 0l1 .2l.7 .8l.6-.6l1.8 .4l1-.2l.9 .4l.3 .2l1-.3l1.1-.6l.6 .3l1.6 .1l.2 .2l1.1 0l1.9 0l.8 0l.4-.2l1.5-.1l1.4 .1l.2-.1l2.1 .2l1-.6l.2 0l2 .2l-.1-.1l1.3 0l1.6-.2l.1 .7l1.3-.3l1.3 .5l.4-.3l1.7-.5l.9-.3l.6 .5l1.7-.8l0 1.1l.8-.7l1.4 .4l1.3 0l1.2 .6l1.5-.8l-.1-.4l1.7 .5l.7 0l.3 .5l1.2 .4l.6 .7l1.3-.5l2.3 .3l.3 .2l1.1-.2l1-.1l.6-.8l1.3 .6l1.5 .1l.8-.9l1.3 .2l.6-.2l.7-.3l1.2 0l1.3 .9l.8 .8l1.2-1l.8-.3l.7-.3l.8 .3l.3-.1l2.3 .2l.6-.2l.9 .5l.4 .1l1.6 .2l.8-.4l1 0l1.9-.9l-.1 .6l2.2 0l.4-.2" stroke="#44dd00"/>
<path d="M125.5 83.0l1.5-2.3l-.7-.7l2 2.4l1 2.2l.4 4.5l1.7 3.9l1 4.7l.8 4.8l.9 6.6l.8 5.3l1.5 6.4l1.1 5l.8 5.4l.3 5.2l1.9 5.5l0 5.5l1.2 5l.7 5.9l1.9 6l.5 5.6l.7 6.1l1.3 6.4l1 6.9l.9 6.1l1 6l1.1 6.5l1.1 5.1l1.4 5.9l.6 5.3l1.5 5.1l.1 4.4l1.7 4.9l.7 5.2l1.3 4.7l1 5.1l.2 5.5l1.9 5.3l.4 5.3l1.6 6.3l.5 5.5l1.3 6.1l1.1 6l.9 5.2l.6 5.5l1.7 5.9l.8 6.1l.8 4.9l1.3 5.7l.5 4.6l1.1 4.4l.3 5.2l1.3 3.9l1.2 5.2l1 4.7l1.5 3.9l.6 4.4l1.1 4.3l.4 5.2l1.7 3.7l1.9 4.6l-.3 3.6l1 3l1.4 3.3l.7 3.1l1.2 3.4l.6 2.6l1.2 2.7l1.7 3.6l.9 1.6l.3 2.6l1.3 1.5l1.2 2l1.7 2.2l.1 2.9l.8 3.2l.9 4.7l1.6 4.9l.5 4.5l1.4 4.1l.9 4.2l1.3 5.2l1.1 4.9l.1 4l1.8 3.5l0 2.8l2-4.8l1.1-5.2l.4-5.1l1.4-4.6l1-4.7l1-5.4l1-4.6l.5-3.8l1.3-5.9l.9-5.3l.9-5.3l1.4-5l.6-5l1.6-5.3l.1-5.8l.9-5.1l1.1-4.5l1.2-3.8l1.4-5.6l1.5 5.2l.4 4.4l1 3.9l.7 .1l1.3-2l1-3.4l1.8-2l.3 7.5l1.7 9.4l-.7 2.7l1.8-1.2l.7-2.8l2.1-2.1l.2 1.8l1.3 1.2l.4-2.3l1.7-.5l.9 4.1l1.1 3.9l.6 1l1.6-1.4l.4 2.4l.9 .6l1.2 .7l1.1 14.6l.4 14l1.5 12.6l.8 2.2l1.4 4.2l.5-2.5l.5-4.2l1.2 5.2l1.3 6.2l1.3 7l.5 6.1l2.1 6.8l.1 6.6l.9 4.3l.9 5.4l1.9 2.1l.8 .7l.6-4.2l1.5-2.2l.8-3.6l.5-2.8l1-2.9l1.6-2.7l.6-3.8l.7-4.4l1.7-5.7l1.3-3.3l-.7-1.2l2.1-2.4l1.5-.8l.7 3.4l1.5 1.9l.5 1.6l.8 2.3l1.1 1.2l1.2-.2l.8 1.4l1.2 2l1 3.4l.7 2.4l.1 1.3l1.5-1l1.3 .2l.8 .2l1-.4l1.9-.4l.3-2.2l1.1-1.9l1-1l1.1 1l.7 1.6l1.7 1.9l.2-.7l.9 .8l1 .5l1-.1l.9-.8l1.3-1.8l1-.1l1.9-1.4l.9-2.7l.4-.9l1.5 .6l.8 1.4l.5 .2l1.2-.3l1.8-.9l.1 .2l1.4-.7l1.2-2l.6-1.7l.4-.2l1.4 2.5l1.5 3l.2 3.9l1.3 3.9l1.4 1.1l.3 1.5l2.2 1.7l.1 3.4l1.2 3.1l1.2 4.1l1.1 4.9l.3 3.3l1 2.1l1 2.1l1.8 .8l0 2.9l1.6 2.3l1-2.8l.8-3.1l1-2.3l1.2-3l.7-1.4l1-1l.9-2.9l1.6-3.9l.6-3.4l1-4.5l1.6-5.7l.7-5.8l.8-5.6l.8-5.7l1.5-4.6l.7-5.6l1.3-5.6l-.2-4.4l2-3.7l1.4-3.9l.5-4l1-2.9l1.3-3.1l.8-4l.4-2.2l1.7-3.1l1.5-4.5l.2-3.1l1-5.4l1.3-4.4l1-2.9l.8-4.2l1.5-2.3l1.3-2.2l.1-3.3l.9 1.9l1.4 3.6l.3 7.2l2.1 5.2l.7 6.6l.9 7.4l1.1 7.4l1 8l1.6 8.3l0 11l1.1 9.9l.8 10.4l2 9.5l.6 8.8l.3 6.6l1.3 6.2l1.6 6.5l-.1 4.6l1.5 2.8l1.2 1.1l1-1.9l.7-1.9l.9-2.6l1.1-1.2l1.4-2.1l.6-1.3l1.1 2.3l.9 4l1.4 7.5l.7 9.3l1.7 10.7l.3 9.5l.3 7.1l1.6 3.5l1 .5l1.1 .6l.6 1.3l1.5 .2l1.3 .5l1.1 1.8l.7 .4l.9-.1l1 0l1-.7l.7 .1l.8-.1l1.2 1.3l1.2 .2l1.2-1.1l.8 .5l1.4 .9l1.1 1l1.2 .4l.5-.5l.8 0l1.5 .7l.3-.2l2.5 .4l-.3 1.1l.9-.5l.9 .7l1.3 .6l1.2 .8l.6 .3l1.8 .7l-.4 .5l1.5 .5l.6 .4l1.9 .4l1 .9l.9 .5l1 0l.2 .8l1.5 .5l1.7 .4l.2 .8l.9 .7l1.6 1.2l1.5 1.1l.3 1.5l.9-.1l.7 1.9l1.5 2.5l.3-1.5l2.2-1.8l.3-1.6l1.6-1.7l.2-.1l1.8 .6l.6 1.4l.9 1.7l.9 1.8l1.1 .8l1.1 2.2l1.1 1.1l.2 1.8l1.6 .8l1-1.9l1.3-1.7l.9-2l.3-3l2.1-2.3l.3-1.8l1.5-1.7l.1-1.4l2-1.9l1.2-2.2l.6-2.2l.5-2.5l1 .4l1.4-.7l1.1-1.3l1-.5l1.5-.2l.7 .3l1 .2l.9 .7l-.2 1l2 .7l.8 1.2l1.4 2.4l.3 1.5l1.5 .2l.7 2.7l1.2 4.3l.8 3.7l1 2.5l1 1.9l.7-3.9l1.4-1.1l.9-1.5l1.3-1.3l1.1-1l.3-.9l1.7-1.1l.9 .6l.5-1.3l.7-1l1.4-1.2l.8-.6l1.5-.2l1.5-1l.8-.6l.4-.2l.4-.7l.8-.8l1.9-.3l1-.2l1.5-.1l0-.3l2.2-.7l.8-.4l1-.9l.8-.9l1-.1l.8-.5l1.1-.4l.7-.1l.8 0l1.7-.1l-.1-.2l1.5-.2l1.5 0l1-.2l.4 0l2 .5l.8-.6l-.2 .5l1.7 1.3l.9-.1l1.3 .1l.7 .3l1-.4l1.2 .4l1.1 .5l.3 .8l1.7 .2l.9-.6l.9 .7l.8 .4l1.7-.7l.1 1.1l1.4 0l.8-.5l1.2 .2l1 .1l-.2 .5l2.5-.3l.3 .4l1.3 .9l1.9 0l.1-.4l1.1-.1l1.2 .6l1.1-.9l.3-.5l1.5 .4l1.4 .2l.6-.9l1.2-.1l.7-.1l1.6-.7l.3 .1l1.5 .2l.4 .5l2-.1l.5 .3l.9-.2l.5 .8l1.8 .1l.7 0l1.1-.3l.4-.3l.9 .1l1.6-.1l-.1-.1l2.1 .8l.8-.4l.6-.2l1.4-.6l.9 .4l1.1 .6l.5 .4l.4-.3l2.2-.1l1.1-.6l1-.5l1.1-.2l1-.4l.3 .1l2.1-1.1l.2-.2l1.1 .2l1.1-.5l1-.3l.5 .2l1.7-.4l.6-.8l1 .4l1.3 0l1.6 0l.5-.1l1.2-1.1l.3-1.1l1-.8l2 0l.4 .6l1-.2l1-.7l1.1-.2l.1-.4l2.2-.3l.3-.8l.8-1l.8 .2l1.3-.1l1 .2l1.6-.5l-.1 .2l2.1-.2l.5-.7l1.1-.4l.9 .5l.6-.4l1.3 .2l1-.6l.6-.8l1.1-1.1l1-.9l2.1 .2l1.3-.1l.3-.2l.3-.7l1.6-1l1.1-.4l.6-1.4l1.4-.1l1.4-.1l-.3-1l1.8-.7l1-.4l.7-.5l1.4-.4l1.4-.5l.2-.8l1.7-.7l.7-2.7l1-1.9l1.2-1.8l.7-2.6l1.1-1.5l.7-4.2l1.1-4.4l.5-4.1l1.1 0l1.8 3.1l.5 1.5l1.3-.3l.2-1l1.8-1l.7-2.9l1.1-1.4l.7-1.5l1.7-2.5l.8-2.5l1.4-3.1l.5-2.9l.6-7.9l1.1-7l.8-8.4l1.9-6.9l.9 2.7l.5 7.2l1.2 5.2l1 3.7l1.3 2.3l.7 1.7l1 2.2l1.1 1.9l.3-1.1l1.1-.1l1.5 1.6l1.5-1.7l.6 1.1l1.1 .1l.4-.7l1.7-.5l.6-.2l1.1-1.6l.9-1.1l1.1-1.6l1.2-2.4l1-2.4l.4-3.5l1.1-2.5l1.2-2.1l.8-2.4l1.6-3.2l.2-2.7l1.3-3.1l.9-2.8l1-1.9l1.1-2.9l1.3-3.7l.9-3.2l.7-2.7l1.3-3.2l1.6-2.6l-.1-4.4l1.5-3.3l.7-3.7l1.6-2.9l.5-3.1l1.7-3.8l.3-2.7l1.3-3.4l1.4-3.5l.8-3.7l0-3.6l1-3.3l1.3-3.5l1.4-3.4l.9-3.3l1.4-3.8l.7-3.1l.9-2.9l1.2-3.5l.9-3.8l.4-4.1l1.8-3.8l.7-3.9l1-3.1l.4-4.1l1.5-3.6l.9-2.9l1.1-3.4l1.4-2.6l1-3.3l.8-3.1l1-3.7l1.3-3.2l.1-4l1-2l1.6-2.1l.9-2.5l1.5-2.1l.4-1.7l2-2.6l-.1-1.5l.9-1.1l.6-.8l1.8-1l.6-.6l1.9-.3l.3-.3l1.4-1.1l1.2-.3l1.1-.5l.7 .1l.5 .1l1.3 .5l1 .8l1.5 .2l.7 .3l1.1 .6l.2 .7l.5 .6l2.2 .7l.7-.1l1.3 .4l.4 1.2l.8 1.1l1.8 .7l1.9 .7l-.5 1.2l1.2 1.1l.9 1.4l1.3 .8l.5 .9l.9 1.2l1.3 1.1l1.3 2.1l1.2 2.4l.8 1.8l.7 3l1.5 2.3l.9 3l1.2 2.7l1.3 3.2l1.2 3.1l.8 3.7l.7 2.8l.3 2.9l1.2 3.1l1.2 3.1l.7 4l1.1 3.5l1.5 3.5l1.7 3.2l-.1 2.7l.6 3.8l1.4 2.5l1.4 3.3l.9 3.7l.8 3l1 4.7l.4 2.9l.9 3.7l1.5 2.1l1.6 3.5l1 3.3l1 3.9l.8 3.2l.3 3.5l1.5 3.9l1.1 3.2l1.4 3.5l.8 3.1l.3 3.4l1.3 3.1l.6 3.6l1.4 4.4l1 3.3l2 2.9l-.1 3.2l1 3.7l.6 3l1.5 3.5l1.1 4.2l1.5 3.5l-.4 3.9l1.8 2.8l1.5 3.7l.9 2.8l1.3 3.6l.4 4l1.9 3.6l.2 3.6l.7 4.4l1.3 3.5l1.2 3.6l1 4.2l.6 3.6l1.4 3.2l.6 4.6l1.6 3.3l1.1 3.3l.4 3.5l.8 3.1l1.2 2.5l.6 2l1.3 1.8l1.3 2.1l.9 2l1 1.1l.8 .8l1.8 .7l.1 .7l1.1 1l.4 1.3l1.8 .1l1.2 .5l.5 .8l.8-.2l1.6 .3l1.4-.3l.3 .2l1.2 .1l.7 .1l1.2 .3l.8-.5l.8 .5l1.6-.5l.6 .2l.9-.8l1.7 .8l.9-.1l1.1-.1l1 .2l1.2 .2l.2 .5l2-.4l.4 0l.5 .2l1-.3l.8 .6l2.1 0l.3 .1l1.7 .3l.1-.7l.3-.2l1.7-.3l1.2 .5l1.5-.3l.6-.5l.7 .2l.5-.2l2.6 .4l-.1 .3l1.2 0l1.1 .7l.4-.3l1.3 .6l1-.5l1 .2l2.3 .2l0-.2l0-.1l1.9 .3l.9-.5l.6 0l2.1-.5l.4 .6l1.3-.1l1.5 .2l.3-.2l1.3-.5l1 0l.4-.3l2 .6l.2-.4l1.4-.1l.3 .6l1.5 .2l.7-.2l1.8-.6l0 .2l1.4 .2l.6 .1l1.3-.3l.8 0l1 .4l1.2 .3l1.2 0l1.4-.3l.1 .3l1.6 .2l.8-.2l.7-.1l1.8 0l.3 0l1.2-.2l1.4-.1l.6-.1l1.3 .2l.7 .6l1.1-.6l.6 0l2.1 .3l.9-.6l0-.3l1.2 .2l1.3 .6l1.1-.3l.4 .4l1.5-.2l1.5 .6l.8-.2l.7-.3l.8-.3l1.1 .3l1.3 .2l.1-.3l1.2-.4l.4-.6l2.5 .9l.5-.3l.4 .5l1.2 0l1.2 .3l.7-.3l1.5-.1l.7-.1l1.1 .3l1.2 .4l.4-.2l.8-.5l1.8-.1l.6-.4l1.5 .3l.9-.6l1 .4l.6-.1l1.3 0" stroke="#0862f6"/>
<path d="M125.5 133.8l.6-1.8l1.6-2.3l.4-1l1 1.9l.8 2.3l.9 2l1 2.2l.5 2.8l1.5 3.1l.8 3.9l.9 4.9l1.8 5.1l.3 6.6l2 6l.2 6.5l1 6l1.8 5.6l1.2 4.4l.2 4.6l1.2 4.4l.7 4l1 4.1l1.3 4.8l.7 5.1l1.3 5.2l.9 5l1 5.3l1.4 5l.3 4.9l1.8 5.5l0 6.4l1.9 6.6l.3 6.4l1.8 5.9l.3 6.1l1.2 7l.6 6.1l1 5.9l.8 6.3l1.4 5.6l.4 4.6l1.5 4.1l1.4 5.4l.4 4.4l1.3 4.6l2 5.1l-.3 4.3l1.2 4.5l2 3.7l.4 4.1l1.1 4.1l.5 3.8l2.2 4.5l0 3.5l2.2 5l-.1 5l1.2 5.7l1.6 4.4l0 4.4l1.1 5.2l1 4.2l1.2 2.9l1.3 2l.1 2.6l1.5 3.2l1.5 2.7l.4 2.6l1.1 3.4l.5 2.8l.9 2.7l1.8 2.8l0 2.5l2.1 1.5l.7 2.4l1.3 .9l.6 5l.9 0l.6-.4l.9-1.3l1 .1l1 0l1.6-.2l1.1-.3l.8 .2l1.1 .4l1.2-10.2l.7-9.4l1.9-10.4l.1-9.3l1.1-6.3l1.2-5.9l.6-6.1l1.3-6.3l.7-6.3l1-7.2l1.6-8.3l.7-8.1l1.3-7.9l-.5-8.2l1.9-8.3l.7-9.2l1.5-7.5l1.3-6l1.2-7.3l.2 6.4l1.6 3.6l.5 3.9l1.1 7.3l1.6 7.5l-.1 4.1l.5-.6l1.2 3.1l1.9 5.2l.7 1.7l1.8 1.5l.3-2.9l1.4-3.1l.7 .9l.7 3.8l1.3 1.9l1.4 3.7l-.3 2.9l2.4 0l.8 .9l.5 2.9l1.8 3.9l1 1.7l0 3.4l1.7 21.7l1 23.4l1 20.3l1 2.6l.1 3.2l2-4.8l.1-3.8l1.1 7.5l2.2 6.7l0 8.1l1.4 6l1.1 4.2l1.6 4.7l.1 6l.2 5.7l.9 1.1l1.6 1.9l1.5-4.5l1-4.5l1.7-4.9l.4-4.5l.6-5.6l.8-4.4l1.1-3l2.2-3.3l-.6-2.5l1.5-4.7l1-1.7l1.3-3.5l.8-2.6l.9 3.6l1.4 4.3l1.2 2.6l.2 3l1.8 3.3l.7 2l1.2 .7l1.4 1.2l.4 2.7l1.8 2.7l.6 2l.7 1.9l.5 .3l.9-2.1l1.4-1.8l.6-1.1l.5-.6l1.7-.5l1.4-.6l1.2 1.9l.1 1.4l.8 0l2.3 .1l.5 2l.9 2l1.2-2.3l.4-2.3l1.5-1.8l1.3-1.1l1.2-.8l.4-1.1l1.2 .7l.8-.5l.6-2.2l1.1-.9l1.3 1.2l1.2 .8l1.6-2.9l.2-3.6l.6-1.8l1.5-1.8l1.5-2.6l.5 3.8l1.4 3.2l.2 3l1.5 3.3l.9 2.7l.9 2.8l1.3 4.5l.9 3.6l.7 2.3l.8 2.1l1.3 4.1l1 1.9l1.2 2.5l1.3 3.8l.6 2.7l1.1 1l.9 .9l1.2-3.7l1.1-2.7l1-2.7l0-1.1l1.5-.9l1.4-3.1l.4-5.5l.9-3.6l.3-3.4l2.3-4.7l.9-8.3l1.2-7.8l.8-7.8l1.1-7.9l1.1-9.5l.8-9l1-8.2l.5-3.6l1.9-4.3l.5-3.7l1.3-4.3l.6-3l.9-3.3l1.7-1.7l.7-.4l0-1.5l1.4-3.4l1.6-1.9l1-1.3l.9-.9l.8-1.3l1-2.5l1.5-1.3l1-.7l1.5-.9l.9-.3l.4 1.6l.6 2l.9 4.7l1.4 5.2l.5 5.7l1.8 5.8l0 8.3l1.3 8.5l1 19.4l1.1 13.8l1.1 11.7l1.3 12.2l.9 10.2l1.3 8.1l1 7.6l.7 8.7l.8 7l.6 3.1l.8 2.5l2-1.8l.9-2.1l.9-2.1l1.2-2.1l1.1-1.4l.7-.2l1.7 2l.3 5.2l.8 8.3l1.7 11.3l.3 14l1.1 10.6l.9 6.3l1.5 2.7l.4 1.2l.7 .6l1.5 .3l.8 .4l1.3 1.4l1.4 .5l.8 .2l.5 .6l1.2-.1l1.3 .9l.7 .1l.1 1.5l2.2 .4l.8-.2l.5 .9l1.4 .1l1.2 0l.7 .9l1 1.2l.3-.3l1.3 .4l1.2 .3l1.8 0l.6-.1l1.1 .1l.8 .6l.1 1.2l2.3 .8l.4-.8l1.2 .5l.9 .4l1.7 1l.9-.1l.4 .9l1.1 0l1.6 .8l0-.2l1.4 .3l1.5 .7l-.1 1.3l.8 .9l2.6 1.3l.9 1.1l.1 .6l.8 2l1.1 .9l1.4 1l.6 1.5l1.3 1.6l.9-2.5l1.1-1l.2-1.8l1.9-1.5l.4 .8l.9 .9l1.8 1.6l.6 .5l1 .7l1.4 .6l1.4 .8l.6 1.5l1.4 2.4l.1 1.5l1.1-3l1.6-3.2l.5-1.8l2.1-1.3l0-2l1.3-1.7l.3-1l2.3-1.9l-.1-2.4l1.3-3.5l.8-2.4l1.8-2.7l.1 0l1.2-.2l1.6 .2l.7 .1l.8 1.1l0 .2l2 .2l1.2-.6l.8 .9l.3 1.7l1.3 1.4l1.2 2.9l1.3 2.4l1.4-.4l.5 2.7l1 3.7l1.3 2l.8 2l.8 2.6l.8-1.5l1.6-2.5l.4-2.6l.7-1.1l1.6-.1l.3 .7l1.1 0l1.4-1.3l.6-2l.2-1.1l2.1 0l1.6-.7l.2-.2l1.5-.6l.3-1.4l1-1l1.6-.6l.7-.9l1.7-.9l.7 .2l1.1 .2l.4 .5l2-.6l.2-1.7l.8-.5l1.1-.8l1 .5l1.1 .5l1.1-.5l1.3-.4l1.8 0l.3-.2l.4-.5l1.4-1l1.4 .2l.8 .3l.8-.2l1-.2l.9-.8l1 .1l.8 .5l1.3-.4l1.6 .5l.6-.2l.8 0l.6 .3l.7 .7l1.4 .4l1.8-.2l.6 .2l1.3 1.1l.5-.3l1.3 .9l1 1.2l.4-.8l1.4-.4l.9-.1l.9-.2l1.1-.4l.8 .2l.7 .1l1.3 .2l1.3 .4l1.4 0l.7-.2l.7-.2l1.7 .6l.6 .1l.1 .5l1.5 .5l1.6-.6l.7-.4l.9-.1l.8 .2l.9-.1l1.2 .5l.7-.4l1.8 .5l.5 0l1 1.2l.9-.5l1.4-.3l1.3 .3l.7-.5l1.3 0l-.3 0l2.1-1l.4 .6l.7-.5l1.8-.5l.7 .5l1.2-.3l.7-.3l1.4 1.1l1-.4l.1-.4l1.7 0l1.2-.5l.6-.5l1-.2l1.7-.1l.2-.1l1.2-.8l2-.5l-.1-.5l.9 .2l1.2-.8l1.6 0l.2-.5l1.7-.2l.7-.8l1.2-.1l1 .2l.8 .1l1.1-1l.6-.9l1.3-.1l1-.5l.6 .3l1.3-.4l.9-.6l.9 .4l.7-.8l2 .3l.4-.7l1.7-.2l-.3-1.1l1.7-.2l.8-.2l1.4 .3l.8-1.2l.3 .5l1.6-.4l1.3-1.9l.9 .2l.8-.1l1.3 .2l.8-1l1.5-.9l.2-.7l1.8-.3l-.5-.7l2.1-.9l.7 .3l1.7-.3l-.3-.4l1.6-1l.9-1l1.8-.6l.6-1.2l.4-1l.9 .1l1.5-.4l1.2-.9l1-.7l1.4-2.3l-.1-1.5l1.6-1l.3-.9l2-.4l1.5-.6l.5-4l1.4-4.3l0-4.9l.6-3.9l2.2-4.2l.4-2.9l.8 2.5l1.6 1.8l1-1.6l.9-1.6l1.2-1.8l.3-1.2l1.5-1.3l.8-1.7l1-3.3l.8-3.3l1-4.6l1.1-4.4l1.5-8.3l.3-8.1l1-7.9l1-6l1.7-3.4l.8 5.4l1 5.6l.5 3.3l.4 3.8l2 3.1l.9 2.4l.9 1.9l1.3 1l-.1 .6l1.2-.4l1.6 2.2l1.1 .5l1.3 1.2l.4 1.4l1.6 1.3l.6-1.9l.9-2.1l.9-2.1l1.6-1.2l.8-1.8l.6-1.2l1.7-2.4l1.1-3.8l.5-2.8l1.2-2.2l.8-3.1l1-2.5l.6-2.6l2-3.1l-.1-3l1.2-3.6l1.2-2.5l1.2-3.9l1-3.5l.7-3.9l1.5-3.8l.3-2.9l1.8-3.9l1.3-3.2l.5-4.2l.4-3.8l.8-3.1l1.3-3.3l1.6-3.4l.3-4l1.8-4.3l.5-4l.7-3.8l1.3-4.3l.8-4l1.4-3l.9-3.3l1.1-2.6l1.4-4.3l.4-3.5l1.4-3.2l.4-3.6l2.5-4.3l.3-3.9l.7-4.4l.5-4.3l1.8-4l.7-4.1l.5-4.2l.8-3.9l1.1-3.9l.8-4.3l1.7-3.7l.9-4.1l1.9-4.5l.5-3.7l.8-2.7l1.1-3.1l.1-2.7l1.2-3.7l1.8-2.2l.3-1.7l1.8-1l.1-.9l1.7-1.4l.2-1.2l1.3-1.4l1.5-1l.5-.2l.7-.6l1 0l1.7-.6l.7 .4l1.4-.2l.5 .6l1.4 .5l.5 .5l1.2 .1l1 .4l1.4 .4l.3 .2l1.4 .7l1.1 .5l.8 0l.8 .8l1.5 .8l1 1.3l.9 .8l.9 1.2l1.9 .8l.4 .9l.5 1.3l2 1.2l0 1.5l1.5 3l.8 3l1.3 3.2l1.1 3.2l.8 3.2l1.2 3.6l.6 3.6l1.6 3.4l.4 3.1l0 3.5l1.8 4l.3 4.5l1.3 4.6l.6 4l2.4 4.2l.8 3.3l.3 3.2l1.5 3.5l.7 3.8l1.2 3.8l.9 4.7l2.1 4.2l.3 4.1l1 3.4l1.2 3.8l.6 4.3l.7 3.8l1.3 3.8l.9 4.2l.6 4.1l1.7 4.2l.4 4.1l.9 3.6l1.3 3.9l1.6 4.3l.6 4.1l1.3 4.5l.5 3.6l1.1 3.4l.7 4l1.3 4.3l1.3 3.6l.3 3.4l1.4 3.6l.6 3.8l1 4.1l1.7 3.9l.3 3.1l1.5 3.6l.5 4.6l1.2 3.6l1.5 3.6l1.5 4.6l-.2 3.7l1.3 3.4l.8 3.9l1.3 3.8l.5 3.9l1.6 3.9l1.2 3.7l.2 4.3l2.2 4.2l.2 4l1.4 3.8l.9 4.5l.8 3.3l.6 4l1.6 3.8l.9 2.5l1.4 2.5l.7 2.4l1.5 2.8l-.1 3.3l1.9 2.2l.2 1.8l1.1 .9l1.4 1.2l1.4 1.5l.7 .4l.2 1.4l1.9 1.8l.8 0l.3 .6l1.6 .4l1.8 .2l.6 .8l.5-.5l1.3 .1l.4 .6l1.6-.4l.9-.3l.6 .4l.8 .1l1.2-.2l1.6-.5l.4 .2l1.3 .6l1.1-.5l.5 .4l.7-.4l2.1 .2l0-.8l.6 .6l1.8 .2l1.6 .6l1-.7l1.1 .2l.5 .2l.2 .2l1.7 .4l1-.1l1.1-.6l.7 .1l1.1 .3l.4-.5l2.3-.5l-.2 1l1.6 .1l1.2-.2l1.1-.4l.4 0l1.5 .2l1.4 .1l.4 .3l1 0l1.2-.1l.8-.3l.9 .2l1.2 .1l1.7-.4l0-.1l.7 .3l1.5 .1l1-.3l1.1 .4l1.5 .3l.5-1.3l.3 .4l1.3-.1l1.6 0l.3 .1l1.5 .4l1.1-.3l.9-.3l.6 .5l1.6 .6l.9-.5l1.1 0l1.1-.2l.6-1l.9 .1l1.5 0l1.1 .5l.9 1l.7 0l0 .4l1.9-.1l1-.8l1.5 .2l.3 .2l1-.5l1.3-.2l.8 .5l1.2-.3l1 0l.8-.2l1.6-.1l.5-.1l1.1 .5l2.1 .5l.1 0l.8 .1l.1-.4l1.8 .4l.9-.5l1.6 .2l1.4 .2l-.6 .1l2.3 .1l.6-.8l.4 .2l2 0l.6 .2l.6-.4l2.2 .5l.7-.5l.1 .6l1.6 .2l1-.6l.2 .3l1.5-.3l-.2 .5l2.2 .2l1.2-.6l1.1-.4l1.2 .8l.6 .6l.9-.4l.4 .3l1-.5l1.1-.3l1.3 .1l1.1 0" stroke="#33eeff"/>
<path d="M125.5 97.3l.2-2.2l1.3 .2l.9 1.3l1.8 2.9l.8 3.8l.1 3.6l1.7 4.5l1 4.4l.7 4.7l1.6 4.9l.6 4.6l1 4.3l.8 4.5l1 4.1l.7 4.1l2.3 4.4l-.4 5.2l1.1 6l.9 5.7l1.7 5.1l1.1 6.2l.2 5.9l1 6.3l1.2 6.1l1.6 5.8l.7 5.5l1.4 5.4l-.1 5.4l1.8 4.7l1.3 4.7l1 5.3l1.1 4.4l-.6 4.9l1.9 5.5l1.5 6.1l1.3 5.2l.2 4.8l.7 5.4l1.4 5.2l1 5.4l1.2 5.3l.3 4.8l.7 5.5l2.6 5.7l0 4.8l1.1 5.9l1.7 5.7l.4 5.7l.8 5l1.3 4.5l.8 4.7l1.3 5.2l.4 5.2l1.4 4.9l.7 4.1l1.5 4.6l1.1 5.2l.5 5l2 6l-.4 5.3l1.8 3.6l1.3 3.7l1.1 3.4l.6 4.1l.5 3.6l.8 2.9l1 2.3l1.3 2.3l1.4 2.3l1 1.5l.6 2l.7 1.7l1.8 1.3l.7 1.4l.8 1.5l1.4 4.7l1.7 1.1l-.2 .8l1.8 1.2l.2 .7l1.5 1.2l1.2 .8l0 1.4l1.5 2.5l1.1 1.3l1.2-10.8l1.4-10.8l.2-9.6l1.7-10l.4-6.7l1.3-6.1l1.4-5.2l.5-6.4l1.5-6.5l.8-6.1l.1-9l2.1-9.4l.1-8.7l2.2-8.2l.3-8.5l1.1-8.6l1.2-9.1l-.2-8.7l2-8.9l.8 6l1.3 7l.9 8.4l.2 9.2l1.3 2.9l.6 .9l1.2 0l1.3 5.8l1.2 1.6l1.5-.1l1 6.2l.9 6.4l.1 .4l1.2-1.4l.8 1l1.5 2.6l.7 2.9l.9 4.5l1 2.7l1.4-1.8l1.3-3.9l.6 3.6l1.2 9.2l.5 5.9l2 19l.4 22.4l1.1 22.2l1.3 5.5l1.1 5.1l.4-4l.9-.5l1.4 11.3l1 6.8l.2 6.4l1.8 3.7l1.3 4.7l.2 4.9l1.3 7.4l1 5.7l1.4-.2l.2 .6l1.1-3.5l2-3.5l.5-3.3l0-4.7l1.6-2.9l.8-3.9l1.8-3.9l.5-4.5l.6-5.7l1-5.4l1.8-.7l.5-.8l1.7-2.6l.6 1.7l1.4 2.1l.4 1.6l1.1 2.8l1.7 1.7l.1 3.1l1.4 2.6l.3 1.5l1.6 2.2l.2-.6l1.7 .1l.6 1l1.9 .5l-.2-1.1l1.8 0l1.3-1.4l.3-.4l1.1-1.6l.8-2l1.1 .9l1.2 1.4l1.1 1.7l1.1 .2l.3 1l1.8 1.2l.2-1.5l1.4-1.8l.8-1.7l1.5-1.2l.9-1.4l1.3-1.2l.2 1l1.1 0l1.1-.9l1.4-.5l-.3-.7l2.4-.8l.2-1.7l1.3-1l.8-.9l1.6-1.3l1-1l.6 3.2l1.8 3.3l.1 3l1.5 2.3l1.2 2.5l.2 4.2l1.7 3.1l.7 3.2l1.2 3.2l.9 4l.8 3l.6 2.6l2 1.3l-.2 .8l2.2 2.2l.4 4.1l1 3.1l.6-2.5l1-4.1l1.6-4.6l.6-4.9l1.1-3.5l.8-4.1l1.9-7.2l1.6-6.6l-.3-3.9l1.2-4.1l.6-9.1l1.5-8.1l1.1-8.5l1.1-9l.9-11.9l.5-10.2l1.2-10l.9-4.2l.8-5.5l1.3-4.5l1.2-5.2l.7-2.1l1-2.6l2.2-4.8l.1-2.6l.9-1.1l1.3 0l.9 .9l.7 .2l1.6-.4l.8-.6l.1-1.3l2.1-1.7l.7-2.3l.4-.8l1.8-.5l.7 2.6l.6 3l1.7 2.5l.6 2.9l1.1 4.2l.2 2.4l1.3 8.5l.8 8.2l1.6 22.5l1 19.2l1.4 13.3l.6 11.8l1.2 10.1l.9 10l1.1 8.4l.2 8.8l1.8 8.5l.7 5.2l1.8 3.4l.3-3.3l1.5-1.6l-.6-1.7l1.9-.9l.9-1.9l.4-.8l1.7 3.2l1.9 4.8l.5 11.2l.5 11.4l1.4 13l.6 11.6l1.2 7.7l.5 2.8l1.8-.3l.8 .1l.9 .8l.9 1.6l1.2-.3l.5 .2l1.8 .6l1.1 .1l.4 .4l.6 .1l2.1 .8l.5 .9l1.9-.6l-.2 .8l2.1-.1l-.1 .7l.8 .7l.8 1l.9 1l1.4 0l1.3-.7l1.1 .7l.2 .3l1 .2l.6 0l1.9 .4l.7 .8l1.3 .3l1.1-.8l1.3 .7l1.5 1.2l.6 1.1l1 .6l.7-.5l.6 .6l1.3 1l1.8 .2l.5 1.7l1 .6l.3-.7l1.8-.4l.9 1.2l1 1.8l1.1 1.5l1.6 1.6l-.4 1.2l1.4 1.2l1.5 1.8l.5 1.4l.7-2.4l1.1-2.3l1.3-1l.6-1.8l1.5 1.6l1.7 0l.3 .5l.5 .6l1.3 1.3l1.5 .7l.9 .4l1.1 1.4l1 1.8l.8 2.2l.8-1.4l1.9-1.4l.3-1.8l.8-2.9l.9-1.5l1.8-2.9l0-2.2l1.4-1.5l.8-1.9l.8-2.7l1.5-2.9l.9-2l1.2 .8l-.1 1.2l1.6-.9l1.4 0l.2-.9l2.6 .3l.2 .2l.9 1.1l.6 .2l1.2 .7l1.2 1l.7 1.9l.7 2.1l2.1 .8l.8 2.7l1.5 3.6l.2 3.1l1.5 2.6l.2 2.2l1.2-1.8l1-2.1l.8-2.8l.8-1.5l1.5-.7l.3-.4l1.7-.8l1.2-1l1.5-1.6l.4-1.1l.6-.3l1.2 .2l1-.4l.5 .8l1.5-.6l1.4-1.1l.5-.6l.1-1.4l1.3-.2l2.2-.7l.7-.8l1.2-1l.6 .4l1.2-.3l1.2-.5l.7-1.3l.9-.3l1.3 .6l.8 .1l.7-.2l.9-.6l1.3-.4l1.5 .2l.5-.2l1.2 .4l.4-.2l1.3 .1l.2-1l2.3 .1l-.4 .3l2.9 .1l.5 .2l1-.1l.4 .5l.9 1.1l.8-.6l2.1-.2l.3 .6l1.1 0l.9 0l1.6 .3l0 0l1.5 .9l.9 .8l.9 .2l1.6-.4l1.1 0l-.2 .2l1.3 .4l1.7-1.1l.8-.5l.4 .1l.9 .1l2 .6l.7 0l1.2 .3l1.3-.2l.9 .2l.1-.4l1.4 .1l.9-.7l1-.1l1.6 0l.4-.1l1.7 .4l1.4 .5l.2-.3l1.2-.8l1.1 .4l.7 0l.5-.7l1.9-.2l1.4-.5l.4 .1l1-.3l.5 .3l1.4-.1l1.2 .3l.4-.1l1.9-.4l.4-.2l1.2 .2l1.1-.5l.5-.4l1.4-.5l.6-.1l.9-.8l.9 0l1-.4l1.5 .3l-.4 .1l2.5-.6l1.2-1.5l.1 .4l1.4-.7l1.1-.4l1.4-.1l.5 .6l1.7-.4l.3-.5l1.1 .1l.9-.1l.8-1l.8-.2l1.6-.7l1-.4l1-.8l.8-.9l1.4-1.3l1-.3l.4-.1l.8 .1l1.9-.6l.3 0l1-.3l1.6-.4l.5-.8l.7 .3l1.1-1l1.6-.4l.2-1.2l1.1-.7l.9-.8l.5 .3l2.6 .6l0-.2l1.2-.7l1.3-.4l.3 .1l1.9-1.5l.7-.4l.9-1.3l2-.1l.4 0l.7 .4l1.2-1l.7-1.2l.4-.6l1 .2l1.3-.6l.9 0l1.6-.4l.5-1.9l1.7-.7l.3-.3l1.1-1.1l1.8-1.2l.2-.8l1.6-1.7l.7-.8l.7-1.8l1.5-4.9l.6-4.1l1.1-4.2l.9-3l1-4.7l.7-3.6l.8 3.4l1.5 2.7l.6-.6l1.9-.1l.3 0l1.6-.7l.8-.3l1.7-1.4l.4-4.1l.4-3.1l1.9-3.8l.8-2.7l0-7.5l1.7-7.8l1.1-7.8l1-5l.8-.5l.8 7.5l1.5 5.3l.9 4.7l1.5 3.7l-.1 1.8l1.9 2l1.1 2l.7 2.2l1.3 .4l.3-.1l1.3-2.1l1.3 1l.2 1.9l2-.7l.3-1l1.4-.9l.5-.6l1.4-2.2l.2-1.7l1.1-2.4l2.4-2.4l1.3-3.6l-.1-2.6l1.1-2.6l.6-3.3l1.3-3.6l.9-3.4l.9-3.2l1.4-3.4l1.1-2.9l0-4.2l1.5-4l1.3-4.3l.9-4.4l1.2-3.9l.5-3.4l1.9-3.4l-.7-3.7l2.1-4.5l.9-3.5l.9-4.5l1-3.2l.9-3.5l1.7-4.2l.3-3.7l1-4.5l1.3-3.3l.9-4.1l1.2-2.9l.5-3.8l1.1-3.7l1-3.5l1.4-3.4l1.2-3.7l.1-3.7l1.3-4.2l1.5-4.1l.9-4.1l1.3-4.2l.4-3.6l1.4-3.4l.4-4.2l2.1-2.6l.6-3.5l.9-3.8l.8-3.8l.8-3.5l2-3.3l1.5-2.9l-.7-2.4l1.4-2.2l1.2-3l1-2.8l1-1.5l.2-1.5l1.4-1.1l1.1-1.2l1-.8l.8-.4l1-1.1l1.1-1.3l2-.7l-.1 .1l1.8 .1l-.7-.2l1.6 .7l1.9 .1l.5 .7l1.2 .6l1.3 .4l.3 .4l1.8 .5l.3 .7l.3 .2l1.9 1.3l.6 1.2l.5-.2l2.2 1.2l1.3 .4l.2 1.2l1.5 .7l.6 2.1l.8 .5l1.5 1l1.2 .9l.1 2.6l2.5 2.5l-.2 2.1l1.7 3.2l1.1 3.6l.4 2.8l.3 2.9l1.4 3.9l1.1 3.9l1.4 3.4l1 3.6l1.4 3.2l.5 3.9l1.5 5.1l1.1 3.6l.3 2.8l1.4 3.4l.4 3.8l1.4 3.1l1.1 3.8l0 3.5l2.3 4.2l0 3.3l1.7 3.8l1 4l.7 4.5l1.6 4.1l.8 3.7l1.4 3l1 3.8l.9 3.7l.1 4.1l1.2 3.5l.9 4.5l1.2 4l.6 3.2l1.3 4.1l1.3 3.9l.8 3.7l1.1 3.6l1.3 3.5l.5 3.8l1.5 3.5l.3 3.3l1.6 4l.7 3.3l0 3.2l2.5 3.5l1.6 3.1l.4 3l.6 2.7l.7 4.1l.8 3.1l1.6 2.6l.6 3.9l1.4 3.4l1 3l.5 3.2l1.1 3.9l1.1 2.9l.6 3.3l1.6 3.3l.3 3.5l2 3.1l1.2 3.2l.5 3.6l1 3.5l.1 2.9l1.7 3.3l1.3 4.4l.6 2.9l.7 2.4l1.1 2.9l2.1 2.1l.7 2.1l.9 2.2l0 2.8l1.5 .7l1.5 .3l1.2 .7l.5 1.1l1.4 1.5l.8 .3l.4 .7l.8-.2l1.3 .1l1 1l1.2 .3l1.3-.1l.8 .6l1.4-.3l.5 0l1.4 .3l.9-.4l.6 0l1.2 .1l.5 .8l1.8 0l.5 0l1.6 .2l.2-.2l.6 0l1.8-.4l1.4 0l.4 .3l1.3 .1l.7 .2l0-.3l2.1 0l.9 .1l1.2-.4l.9 .6l1 .3l1.2-.6l.5 .3l1.3-.2l.4 .1l2.2-.2l.7 0l.4-.4l1.8-.4l0 .5l2.1 0l1 .7l1.1-.4l.2 .3l1.6-.8l.3 .6l.8 .2l2.4-.3l-.5-.1l1.4-.7l1.2 .3l.6 .3l1.6-.3l.9 0l1 .3l.7-.5l1 .4l1.1 .3l1.3 0l1.7-.7l-.1 .7l1.1-.2l1.5-.2l.9 .2l.4 .8l1.5 .2l.8-.5l.3 .4l2.1-.5l.1-.3l1 0l1 0l1.2 .1l1 .1l1.6 .1l-.1-.1l1.7 .1l1.1-.2l.5-.1l.8-.3l2.3 0l.1 .1l1.6 .3l.4 .5l1.5 .5l1.1-.4l.7-1l1.2 .1l.8 .5l1.6-.4l.4 .4l.6-.3l1.1 0l1.2 .5l.8 0l1.6-.4l.2 .5l1.7-.7l1 .5l1.2-.2l.3 .5l1.6 .4l.2-.2l.8-.2l1.7 .2l.5-.2l.8-1.1l1.7 .9l.8-1l.6 .3l1.4 .7l1 0l1.6 0l.9 .1l.3 .3l1.5-.7l.8 .2l1.8-.2l.3 .5l1.3 0l.5-.2l1.6-.5l.9 .7l.6-.7l1.1 .4" stroke="#ee0000"/>
<path d="M125.5 110.4l.3-.3l1.2-.6l.7-.1l1.7 3.3l1 2.4l.6 3.3l.4 2.8l2.3 2.6l.1 4.7l1 4.7l1.3 4.9l.4 4.5l1.7 4.8l1.6 5.2l.3 5.6l1.2 5.8l1 5.7l.5 5.4l1 6.3l.8 6.3l.5 6.2l2.3 6l.5 5.9l.1 5.1l2 4.7l.8 4.6l1.3 5.4l.9 5l.7 5.2l1.3 5.4l1.6 5.8l.7 5.8l1.2 4.9l.3 5.3l2 5.5l1.1 5l.2 4.4l1.2 5.4l.3 5.2l1.6 5.3l.9 5l.4 5.3l2.1 4.8l.4 5l.9 6l.8 5l1.5 5.4l1 5.2l.6 5.1l1 4.6l1.9 4.8l.3 4.7l.5 4.3l1.2 4.2l1.7 4.1l1.2 4.7l-.7 4.4l2.8 5.2l.5 4.6l.7 5l.8 4.4l.6 3.7l1.6 3.9l1.4 4.7l1.1 4.6l.6 4.4l1 3l.7 4.1l1.2 3.4l1.1 2.2l.6 2.2l1.2 2.9l2 1.5l-.3 .5l1.4 2.2l.7-2.2l1.7 2.7l.8 2.5l.9 1.8l.5 2.2l1.2 2l1.4 1.9l.8 2.5l.7 1.6l.6 1.2l1.7-6.7l.9-6.7l1.4-7.2l.6-6.8l.6-6l1.5-5.3l.9-5.7l.4-5.2l1.8-5l.5-4.7l1.9-6.5l1.1-6.9l.5-5.4l.1-5.8l2.5-6.1l.7-5.9l.9-5.9l.5-5.1l2.1-3.1l.8 6.9l.1 5.3l1 4.3l1.4 2.4l.6 2.9l1.3 5.4l1.4 2.9l.9 3.1l.7 .8l1.2-2.5l.3-4.9l1.5 1.2l1.2 6l.8-.1l.8-1l.9 1.1l1.3-.1l1.4 1l.7 5.2l-.1 3.6l1.9 3.3l1 3.2l1.1-1.8l1.1-.5l.6 15.4l1.8 14.9l.5 15.5l1.5 4l.5 3.1l1.1-6.2l.7-5.5l2 7.8l.7 7.7l.5 7.3l1.6 4.6l.2 5.1l1.1 5.5l.5 3.6l1.9 5l1.1 3.3l.9 1.1l.5-4.2l1-3.9l.5-3.6l1.8-2.5l1.1-3.7l.5-4.9l.5-4.8l1.2-3.9l1.6-4.4l1.3-4.4l.8-.8l.6-1.4l2.2-2.3l-.3 3.5l1.3 4.1l1.2 3.5l1.1 2.4l1.5 1.4l-.4 1.7l1.7 2l1 2.8l1.7 1.7l-.3 1l1.3 .6l1.2 .3l.6-.1l1.6-1l.5-2.4l1.5-1.1l.1 .1l.9-.9l1.8-.7l1.3 1.7l.7 .3l.8 .2l1.6-.3l.6 .2l1.1 1.3l.9-.4l1.3-1.8l.8-1.6l1-1.4l.6-1.4l2-.4l1 .7l0 1l1.3-.6l1.1-1.5l1.5-1.1l-.1-2.3l1.4-1.7l1.2-1l1.2-.6l1.4-2.1l.4-1.3l1.3 2.5l-.5-.3l2.7 2.6l.7 4.2l1.4 3.5l.5 3.2l.4 4.5l2.3 3.5l.1 2.4l1.3 3.2l1 2.9l.9 2.8l.3 2.8l1.4 3l.7 3l1.6 2.6l1.5 2.7l.3-1l.9 1.3l.8 .6l1-.3l1.4-1.3l.4-2.4l1.4-2.6l1.5-2.3l1.6-3.1l-.7-3.5l2-3.8l.6-4.2l1.3-5l1-4.8l1.3-4.4l.9-4.1l.8-5.2l1.4-4.3l.4-4.3l1.2-3.1l.2-2l1.5-1.8l1.1-2.8l1.6-5.3l.6-4.9l2.3-5.2l.1-4.1l.5-2.4l.3-6l1.9-6.3l.9-6.2l.8-5.4l1.2-1.3l1.2-2.8l.2-2.3l1.2 2.1l1.1 3.8l1.1 6.4l1.5 6l.6 5.9l.5 7.3l1.7 6.2l.8 7.9l.8 8.2l.7 11.9l1.2 10.9l1.5 10.1l1.3 9.2l1 8.7l.6 6.2l.4 6.6l1.3 8.4l1.1 5.2l.4 2.3l2.7 .8l.6-3.4l.5-1l.7-1.6l2-1.4l0-1.6l1.2-.6l.5 1.3l1.5 3.1l1.1 6.7l0 9.2l1.6 11l1.2 9.3l1 6.7l1 3.8l1.8 .5l.7 0l.4 1l1.9-.1l.4 .1l.2-.3l2.3 .4l0-.1l.9 0l1.6 .3l.6 .3l1.1 0l1.4-.6l.9-.7l.6 0l.9 .2l1.7 .5l.9 .3l1.8 .2l.4 .5l.4 .8l1.8-.6l.7 .5l.9 0l.4 .8l1.8 .3l1-.4l1.4 .6l-.5 .3l1.6 0l.9 1.8l.5 .9l1.2 .7l1.3-.8l1.4 .6l.5 .4l1.1-.2l1.3 .3l1 1.4l.8 1.1l1.5 .7l.8 .9l.7 1l1 1.1l1 1.2l1 .4l1.4 1.1l.6 2.5l1 3.2l1.4-1.8l.7-2.5l.8-2.8l1.5-2.2l.4 .7l1.4 2.9l.8 .5l1.2 .8l1.1 1l.8 1.3l1.4 .6l.2 1.4l1.7 1.6l.7 1.6l1.1-2.6l.8-2.2l.8-1.5l1.6-1.3l1.3-2.5l.7-2.9l.6-1.5l1.6-1.1l.5-2.6l1.1-2.3l.8-1.8l1.3-.8l.8-.4l.6 0l1.5 0l.9-1l.6-.4l1.6 0l.9-.5l.8-1l1 2l.9 2.2l2 .8l0 1.3l.9 1.4l.9 .7l1.7 3.2l.4 2.7l1.1 2.5l1.4 3.6l-.1 3.8l2-2.2l.7-1.3l1.1-1.8l.8-1.7l1.1-1.5l1.3-1.4l.8-1.9l1.3-.2l.9-.5l1.3-1.3l1-.5l.4-.2l1.1-.3l1-.7l1.3-1.1l.4-.6l1.6-.3l.7-.2l1.6-.6l.7-.8l.7-.4l1.2 .5l.9-.3l.9-1.3l.7-.4l1.3 .7l1.3-.6l1-.2l1.5-.2l.5-.8l.7 .1l1.8-1l.9 .7l-.5-.3l2-.1l1-1l.7-.1l1.3 .4l.3-.6l1.6-.2l.6 .3l1.8 .7l-.1 .4l1.3 .3l.8-.3l1.3-.2l1.2 .6l1 .3l.4 0l2.1 .2l.5 .4l1-.2l1.6 .7l.7-.2l.7-.4l1.1 .4l.9 .3l1.3 0l.5 .3l1.4-.6l1 .1l1.3-.4l.6-.1l1.6 .3l.9 .3l-.2-.6l2.1 .2l.1-.7l2-.6l.1 .5l1.5 .2l.1-.1l2.3 .5l.5-.7l1.2 .2l.6-.2l1.3 .9l.8 0l1.2-.4l1.2 .2l-.6 .5l2.4-.4l.7-.2l1-.4l1.8 .1l.1-.4l1.4 0l1.1 .5l1.1 .4l1 .1l.6-.3l1.1 .2l.6-.4l1.2-.1l.9 .1l1.6-.1l.7-.3l1-.3l.6 .4l1.6-.8l1.2-.8l.8 0l1.2 0l1.3-.4l.8-1.8l-.2-.5l1.1-.3l1 .8l1.4-.1l1.8-.2l.5-.3l1.1-1l.6-.1l.5 .1l2.1-.4l.2-.6l1.7-1.1l1.2-.8l0 .4l1.8 .2l.5-.8l1-1l.9-1.4l2-.7l.8-.3l1.1 .5l.4-.5l.6-.6l1.2-.6l1.3-.3l1.4-.1l.5-.8l.2-.4l2.3-.4l-.3-.3l1.9-1.1l.3 .5l1.4-.8l1.3-.9l.4-.8l2-1l.2-.1l1.1-.6l.9-.8l1.9-.4l.6 0l1-.6l.4-1.2l.9-1l1.3-.4l.8-.7l.5 0l2.4-.6l.6-1.1l1-.6l1-1.1l.6-.6l.4-1.5l1.2-1.6l1.4-1.6l1.5-1.5l.9-4.9l.4-4.6l1.9-5.4l.6-4.6l1.7-4.5l.2-4.7l.6 4l2.2 3l-.2-.7l.9-.4l1.8-1l.2-2.4l1.6-1.1l1.4-1l.3-3l1-4.5l1.3-3.8l.9-3.1l1.2-7.4l.7-7.6l1.4-8.7l.9-5.3l.7-1.8l1.5 9.2l.4 5.9l.5 3.7l2 3.9l.9 2.4l.5 2.3l1.9 4.3l-.2 1.7l1.1 .8l.7-.6l1.4 2l1.7 1l.7-.1l1.5-.5l-.3-.2l2.1-1.4l1.7-1.4l.1-2.3l.4-1.8l1-.5l1.8-1.8l.9-2.7l1.8-3.2l.1-2.8l1.9-2.8l.4-3.5l1.1-3.3l1.5-2.6l0-3l1.3-3.3l1-3.2l.5-3.4l1.4-3.7l1.4-4.2l.8-3.1l.9-4l.9-3.7l1.3-3.6l1.3-3.5l1.3-3.7l.5-3.4l.3-3.9l1.2-3.6l1.6-4.1l.1-3.8l.7-4l1.4-3.9l1-3.8l.9-3.1l1.5-3.5l.2-3.3l2-3.2l.6-4.4l1.3-3.7l.8-5.1l.5-4.1l1.2-4.1l1.1-4.1l1.1-3.6l1-4.1l.9-3.7l.8-4.5l1-3.9l1.3-4l.2-4.1l2-3.5l.2-3.8l1.8-4.1l.3-3.3l.8-2.7l1.9-3l.6-2.7l1.6-3l.6-2.4l1.2-2.5l-.3-1l1.8-.8l.9-1l1.7-1.5l.8-1.6l1.3-.5l0-.8l1.1 0l1.6 .1l.7-.4l1.3-.4l1.2 .7l.8 .9l.8 0l1.1 .5l.9-.1l1.2 .8l.8 .5l1.7 0l.7 .3l.7 1.6l1.1 .5l1 .2l1.7 .2l-.2 .9l1.8 1.4l1 .8l.6 .8l1.5 .7l.1 .9l1.4 .9l1.6 1.8l.2 2.7l1.4 2.2l.5 3.2l1.6 3.5l1 2.9l1 2.7l.9 3.4l.7 3.5l1 4.1l1.7 4.4l.6 3.5l1 3.4l.7 4.8l2 4.7l0 3.8l1.6 4.6l.6 3.1l.8 3.7l1.7 3.7l.5 3.8l.2 3l1.2 4l1.5 3.7l1.3 4.1l.5 3.7l.6 3.6l1.6 4.1l1 4.4l1 4.1l.2 3.9l2.5 3.7l-.1 3.5l1.2 4.1l1.3 3.6l.9 4.5l.9 4.3l1.5 3.7l.4 3.7l1.3 3.5l.5 3.9l.9 3.4l.6 3.3l1.9 4l1.4 4.5l.5 3l1.3 3.6l1 3.4l.8 4l.5 2.5l1.9 4l.4 3.1l.8 4.4l1.4 3.8l.6 2.8l2 3.5l.5 3.6l.6 3.3l1.8 3.7l.9 3.4l1.2 3.8l.7 3.2l.7 4.3l.3 3.4l1.9 4l1 3.2l.9 4.2l1.1 3.6l1.2 3.4l-.1 3.6l2 2.4l1.1 3l.5 2.1l1.6 3l.1 2.4l1.2 1.8l1.4 1.4l1.1 .8l1.2 1.6l.4 1.1l1.2 1.3l.9 .4l1.7 .6l-.2 .2l1.4-.1l1.8 .9l.4 .5l.9-1.1l.9 .6l1.6 .3l-.3 .7l1.7-.1l1.3 .3l1.1 .2l.7 .4l.9 .1l1.5-.5l.8-.2l1 .7l.4-.8l1.5-.1l.8 .2l1-.1l1.3 .6l.5 0l1.8 .5l.1-.9l1.6 0l.7-.2l1.6 .8l-.3-.2l1.4-.3l1.1 .4l.7-.3l1.4 .5l.9 .1l.8-.7l1.3-.1l1.2-.1l1.4 .2l.3-.1l1.5-.6l1.4 .5l.5 0l1.1 .3l1-.3l.7 0l.8 .3l1.6-.2l1.1 0l.4 .2l1 .4l.9-.2l1.6 .3l1-.1l.5-.1l1.5-.3l1 .3l.5-.6l1.3-.1l.5 .4l1.3 .2l.4 0l1.5-.5l1.1 .1l.5 .3l1.5-.1l1.1-.1l.5-.2l1.1 0l1.5 0l1.1-.5l1 .5l.8 .4l.9-.4l.7 0l1.9-.1l-.2 .5l1.4-.2l1.2 .1l.9-.4l1.7 .7l.5-.3l1 .6l1.1-.5l.8 0l0-.5l2.4 .4l.5-.5l1.1 0l1.4 .7l.4 .3l1.3-.8l1-.3l1-.3l1.8 .4l.2 .3l1.1-.6l.7 0l1.4 .7l1.5-.2l.1-.2l.8-.3l1.2 .3l1.4-.1l1.5 .1l.2 0l1.7 .2l.7 .2l.3-.2l1.6-.2l.7-.1l.8-.3l1.2 .2l.9 .2l.9 .8l1.3-.6l1.2-.3l1.1 0l.6 .3l.6 .1l1.4-.2l.1 .1l2.5 .5l0-.6l1.5 .3" stroke="#44dd00"/>
<path d="M125.5 72.0l1.4 .6l-.2 1.1l1.8 3.6l.4 3.9l1.2 3.3l.6 5l1.7 3.3l.4 4.5l1.4 4.8l1.3 5.2l.5 5.3l.8 5l1.3 5.2l.7 4.6l1.2 4.7l.7 5.8l1.1 5.3l.6 5.8l1.6 5.5l1 6.3l.4 5.1l1.2 5.7l1.3 7.4l1.4 5.7l.8 6.9l1.4 5.6l.4 5.9l.7 5.1l1.3 4.8l.8 5.2l.9 6.3l1.6 5.8l.8 6l1.4 6.6l.5 6.3l1.4 5.8l.3 6.2l1.1 5.6l1.1 5.8l1.2 6.3l1.1 4.9l.8 5.5l1.3 4.8l1 4.8l.8 4.5l.7 4.4l.2 4.9l2.4 4.5l.3 5.3l1.6 4.2l.5 5.5l1.5 5.7l.8 5.6l.9 5l1 3.6l1.2 4.4l1.4 4.1l.4 5.4l1.5 4.8l1.1 4.7l0 4.3l1.6 2.7l.7 1.9l1.1 2.6l1.2 2.6l.8 2.7l1.2 2.3l.9 2.6l1.5 2.6l.4 2.9l.9 1.7l1.3 2.2l.6 1.4l1.6 1.7l.3 1.8l1.3 9l1.5 3.6l.9 3.9l1 3.4l.6 3.6l1.4 3.2l.4 3.9l1.2 2.9l1.2 3.2l1.6 2.3l.3-6.7l1-7.3l1.1-8.4l1.2-7.9l1-6.1l.5-6.3l1-6l1.3-6.2l.6-5.5l1.2-5.7l1.1-6.9l1.1-7l1.7-6.8l.2-7.2l1.4-7.5l.8-7.8l-.3-7.7l2.2-6.6l.9-8l1.4 3.7l0 4.8l1.6 7.7l.8 7.8l.8 3.1l2-1.3l.8-.7l.4 .2l1.2-.1l.4-1.2l1.6 1.5l.9 0l1.6-3l.1 .1l2.1 2.6l.1 4.5l1.4 2.9l1 1.8l.9 2.2l.9 1.4l1.3-.1l.4 2.7l1.5 2.7l.5 3.6l.5 19.2l1.9 19.6l.4 20.3l1.2 9.5l1 9l.7-.4l1.9-.7l.1 8.4l1.7 6.7l1.5 7.4l.3 6.6l1 5.8l.9 5.2l1.5 4.5l1.3 5l.1 3.5l1.1 2.7l1.3-2.6l1.1-2.6l.9-4.6l1.5-4.1l.5-4.2l1.1-4.3l.2-3.9l1.4-4.4l1-3.1l2-4.3l.6-1.9l.8-3.1l.9-2.6l.8 2.6l.9 3.1l1.1 3.9l.9 4.3l1.4 2.6l1 .9l1.4 1.3l1 1.2l.4 1.7l.8 .1l1.1 .7l1.1 1.5l1 1l1.8-1.5l.5-.5l.6 1.3l1.8-.4l.2-1.4l1.1-.9l1.6 .8l.7 .6l.9 .7l1.1 2.2l.8 2.1l.4 1.3l1-.4l1.8-.3l.5 .2l1.5-1.6l.8-2.2l.5-2.5l.7-.3l1.6 0l1.3 1.7l1 3.3l.9 2.1l.8-.8l1.6-1.5l.4-1.5l1.2-1.3l.7-.8l1.3-1.7l.6 1.8l2 2.7l.3 1.2l1 1.7l1.2 2.6l.4 3.8l1 3.4l1.4 .7l.8 2.4l1.4 3.1l1.2 3.1l.5 2.9l1 .6l1 0l1.6 1.4l.9 2.6l.5 2l1.7-5.5l.7-7.5l.2-8.6l1.7-7.9l.8-8l.7-5.2l1.6-5.3l.7-4.3l1.4-5.8l.7-5.4l.6-9.5l1.5-8.1l1.4-8l.8-7.5l1-7.8l1.1-9.5l.4-9.6l.9-3.2l.9-3.8l1.8-4.4l.9-3.5l.9-2.5l1.5-3.4l-.3-1.9l1.5-2l.2-3.3l2.2-2.2l.8-.5l1.4-.5l.6 .2l1.1-1.4l.9-1.1l1-1.6l1-.9l.9-1.3l1.3 .4l.8 2.6l.5 3.6l1.5 3.7l.6 4l.4 3.5l1.6 3.5l1.3 7.7l.9 6.9l1.3 20.5l.7 15.1l1.2 13.2l0 13l1.1 8.9l1.6 7.8l.9 9.9l1.6 9.8l.8 7.7l.3 4.7l1.7 1.8l.9-3.7l.8-2.8l.4-2.3l1.5-1.8l1.3-1.7l.9-1.2l1.3 2.6l.5 4.1l1.2 10.2l.9 12.2l1.6 13l.1 10.8l.8 7.9l1.7 3.6l.7 .7l.9 .7l.7 .9l1.6 1.7l1.3 .8l.9 .6l.3-.1l.5 0l2.3 .3l1.1 1.6l1.1 1.7l.2 .8l1.9 1.3l.6 .7l.2 .9l1.4 0l1.1 .9l1.2 .1l1.1 0l.7 .6l1.7-.3l-.2 .2l1.5 .7l1.4-.1l.6 .3l1.8 1.1l.4 .7l.6 .8l1.3 .3l1.1 1.2l.1 .6l2.1 .3l.4 1l1.2-.5l.6-.4l1.7 .6l.4 1.1l1.5 1.1l.7 1l1.5-.5l1.2-.6l.7 0l.8 1.3l1.4 2.3l.1 1.4l1.5 .7l.9 .9l1.1 1.5l1.3 1l-.4-2.2l1.8-1.4l.8-1.7l.7-1.6l2.3 1l1.2 1.6l-.3 2.1l1.2 1.1l1.2 .2l1.1 .1l1.4 1.1l.6 1.4l1.3 1.9l.1 2.1l1.6-1.7l1.8-2.2l.6-2.1l.9-2.7l.8-1.8l1.3-2.4l1-1.4l.7-1.3l.4-2.6l2.2-2.5l-.3-1.7l1.3-2.4l1.2 .5l1.3 .5l.6-.4l1.4-1l.9-1.1l.8-.2l1 .4l1.2 .2l1.1 .8l.8 1.4l.6 .7l1.9 1.2l.5 1.8l1.4 2.3l0 3.6l1.7 3.1l.8 1.6l.7 3.1l1.3 4.2l.7-2.3l1.1-1.9l2.1-2.4l1.2-1.4l0-1.3l1-1.8l1.5-.6l.6 .3l1.5-.7l1-.8l.2-.7l.8-1l1.1-1.2l1.1-.6l1.8-.4l.2-.5l.8-.3l1.3-1.1l1.5-.3l.7-.9l.2-.4l2-1.1l1.1-.4l.7-.1l1 0l.6-1l1.5 0l.6-.2l1.7-.5l1.5-.5l.1 .6l1.2 .1l.7 0l.6 .6l1.9 .5l.8-.7l1.2-.5l.4 .3l1.5-.4l.6 .2l.9 .3l1.6 .2l.8 .7l.7-.3l1.1 1l.7 .1l1.9 1l.3-.5l1.7 .4l.7 .7l.5-.5l.9 .8l.7 .2l1.9 .7l.8-.2l.1 .2l1.8 0l1.1-.1l.6-.5l1.7-.2l1.2-.6l.1 .1l1.6 0l.1 .8l1.4-.4l1.6-.1l.9 .2l1.1 0l.6-1.2l1 .8l1.6-.4l.3 0l1.5 .1l.1 0l2.3-.3l.2 .6l-.1-.8l2.4 .7l.9-.1l.1 1l1.1-1.1l1.8 .3l1 .5l.7-.1l1.5 .3l1-1.1l-.2-.2l2.5 0l.1 .6l1.6-.2l.8 .1l.7-.5l1.6-.5l.5 1.2l.7 .5l1.1-.2l1.1-.1l.7-.4l1.7-.1l1.3-.2l.8-.3l1.2 .1l.6 .4l1.5-.2l.3-.5l.8-.6l1.1 .1l.5 0l.7-1.1l1.9 .5l.9-.5l.5 .3l1.6-.1l.7-.6l1.1-.1l.5 .1l1.7-.4l1.2 0l1-.1l.8-.2l.4-1.1l1.1-.2l.8-.6l1.2 0l1.7 .1l.2-.3l2.5-.2l-.2 .3l.8-.2l1.4-.3l1.4-1l.2 .1l1.7 .2l1.1-.8l0-1.2l1.9-.5l1.5 .2l.2-.6l.9 .4l1.1 0l1.5-.4l.7-.9l1.8-.2l.1-.9l1.5-.4l.3-1.6l.8-.3l1.2-.5l1.4-.9l1-.9l.3-1.3l.8-1.3l2.2-1.3l.3-1.6l1.5-.5l.6-1.6l.5-1.7l.8-1.5l1.7-1.5l.8-1.4l2.7-1.7l.3-4l.7-4l.1-4.9l1.9-3.9l.4-5.4l1.2-2.2l.7 2.2l.6 .6l2.2-1l.6-.5l1.3-1.8l-.1-2.7l2.4-2.4l0-1.4l1.2-4l1.7-4.9l-.3-4.3l1.6-4l1.2-8.1l.1-8.2l1.9-8.5l.9-6.3l1.3-3l.6 5.4l.7 5.8l1.2 4.5l.9 4l1 2.5l1.2 2l.7 2.9l1.2 .7l.6 .5l1.8 .4l.7 2.7l.1 .4l2.3 0l.4-.2l1.6 .7l1-.6l.7-1.3l1.3-1.8l.6-1.8l.6-1.9l2-2.3l.8-2.8l.8-3.4l.3-2.8l2-2.8l.3-3l1.5-2.7l.7-3.3l.6-3.2l.4-3l2.5-2l.5-3.9l1.1-3.5l.4-3.9l.9-4.2l1.9-3.7l.4-3.6l1.3-3.3l1.4-3.8l.4-3.6l1-3.6l.8-3.5l.2-4.4l2.4-4.3l.6-3.5l.8-4.1l1.1-3.9l1-3.8l1.7-2.8l.6-3.8l.3-3.6l2-4.2l.5-3.6l1.5-3.7l.7-2l.9-3.5l1.3-5.4l1.2-3.4l.5-4.3l2.1-4.4l.5-5l1-4.2l1.4-3.1l0-4.3l.7-4.2l1.7-3.9l.3-4l1.9-4.5l1-4.1l.7-2.9l1.8-2.2l.1-3.2l1.1-3l1.4-3.5l.8-2.7l.7-.7l1-1.3l1.6-1l.2-1.6l1-1.7l1.5-1l.3-.3l1.1 .3l.7-1.4l.9-.5l1.7 .5l.8-.7l1.3-.6l1.3 .8l-.2 .3l1.5 .4l2 0l-.3 .4l1.2 .3l1.9 .6l1.4-.1l.4 .2l1 .4l1 .5l1.2 1.5l.2 1.1l1.7 .9l0 2.5l1.4 .6l.8 1.2l1.5 1.1l.1 1.1l1.7 2.9l1.7 2.8l.9 2.6l.9 3.5l1.1 2.4l.6 3.9l.6 3.6l1.7 4l.4 3.4l1.2 3.7l0 3.2l1.3 4.2l1.6 4.5l1.2 4.5l.5 4.4l1.4 3.6l.4 2.9l1.9 4.2l1.2 3.8l.5 3.8l.9 3.7l1.3 4l1 3.9l.4 3.8l1.4 3.8l.3 4l.6 3.8l2 3.4l1.4 4l.9 4.3l.8 4.3l.4 3.8l2.4 4.4l.5 3.2l.6 3.8l1.2 4l.7 4.6l.5 3.2l2.5 3.7l.2 3.7l1.3 3.8l.7 4.1l.7 4l1.4 3.2l.2 3.5l1.9 3.7l.3 3.6l1.5 4.3l.9 4.1l1.2 2.9l1.3 3.7l.4 3.7l1.2 3l1.5 4l.2 3.3l.5 3.7l1.7 3.3l.9 3.8l.7 3.5l1.5 4.2l1.4 4l.5 3.5l1.2 4.1l1.2 3.9l1.4 4.1l.6 3.8l.3 3.7l.6 3.1l1.9 3.9l.8 3.9l.8 1.9l.3 2.1l1.9 2.8l1.3 2.8l1.1 2.7l.5 1.9l1.2 .7l1.1 .5l0 1.8l2 1.3l.4 1l2.2 .5l.2 1.1l.6 .9l1.9 .3l.4 .7l1.4-.2l-.4-.3l1.9 0l1.4-.1l.7 .5l1.2 .1l1.5-.2l1 .4l.3-.1l1.5 .6l.2-.8l1.5 .8l1.1-.5l.8 0l1.5 .2l.6-.9l1 .2l1 .6l.3-.1l2 .1l.7-.4l1.4 .5l.8-.3l1 .2l1-.1l1.2 .1l.2 .2l1.3-.5l1.6 .3l.5-.1l1.3 .7l.7-.3l.9-.1l1.2-.2l1.9 .6l.4-.4l.7-.2l.7 .1l1.5-.2l.6 0l.7 .1l1.5-.5l.5-.3l1.4 .4l.8 .3l1.4 .2l.2-.5l1.9 0l-.1 .4l1.9-.1l.9-.1l.8 .4l1.3-.5l1.2 .6l1 .3l.3-.9l1-.1l1.3 .1l.8 .1l1 .4l.9-.2l1.5-.3l.7 .1l1.3-.1l1.1 .2l.6-.2l1.6 .4l.1 .1l1.8 .1l.5-.7l.5 .4l1.2-.4l1.8 .1l1.2 .9l.3-.4l1.4 .3l.5 .5l1.4-.9l1.1 .2l-.1 .2l2.4-.2l-.1 .3l1.4-.2l1.6-.4l1.6 .1l-.9-.1l2.4-.3l.5 .5l.8 .5l1.1-.3l.6-.2l1.2-.4l1.8 .2l.7 .4l1 0l.3 .3l1.2-.4l1.7-.3l.5 0l1 .5l.9 .2l1-.3l.8 .1l1.4-.1l.6 0l1.6-.4l.9 .1l1.9 0l.3 .2l.8 0l1.2-.2l1 .3l.6-.2l.6-.3l2.3 .4l-.3 0l1.5 .4l1-.5l1 .1" stroke="#4400ee"/>
<path d="M125.5 127.6l.1 1.3l1 1l1 1.2l2.2 5.3l0 5.8l.8 6.2l1.1 4.7l1.8 4.6l.2 4.3l.7 4.6l1.6 3.8l1.7 4.7l.5 4.2l.7 4.2l1.5 4.3l0 4.7l1.5 4.4l.9 4.7l1.4 4l.3 4l1.6 4.2l.9 5.5l1.1 5l.9 5.8l1.3 4l1.5 4.4l0 3.6l1.9 5.2l-.4 5.9l1.4 3.9l2.3 5.9l.7 6l-.5 5.5l2.1 6.5l.7 5.9l.3 5.9l1.5 5.6l1.3 5.3l1.4 5.5l.4 5l1.1 6l.5 4.9l1.5 5l1.1 5.2l.6 5.7l1 5.1l2.1 5.1l.3 5.7l1.2 2.8l.2 4l1.5 3.2l1.4 3.2l.5 3.8l.7 4.2l.9 4.8l1.7 5.2l.8 5.4l.9 5.3l.6 5.5l.4 5l2.6 4l.8 3.8l1.2 2.5l.3 1.9l1.7 2.2l.3 2.7l2 1.7l.4 2.8l.7 2.9l.9 2l.9 3.2l.2 2.3l3.1 1.3l-.2 1.8l1.2 1.3l1.5 5.8l.9 1l.8 .3l.9 .9l1 .8l1.2 .4l1.2 1.4l.9 1.4l.7 1.7l1.2 1.3l.3-7l1.5-7.9l.5-6.6l1.2-6.4l.8-4.3l1.4-4.4l1.7-5.2l-.4-5.6l1.9-6.1l1.4-5l.7-5.3l.6-7.2l1.5-5.4l.8-6.5l1.2-6.9l1.1-7.3l-.1-5.6l1.8-3.9l.1-5l1.3 4.5l1.3 4.3l1 3.1l1.5 .2l.7 2.5l1.1 6.1l.9 3l.8-.4l.8 1.6l1.3 .5l.2-2.4l2.3-1.8l.5 2.5l1.6 7.9l.1 3.5l.8-2.3l2.1 .2l.6 1.4l.6 1.7l1.4 .7l.9-.6l.6 2.5l1.7 4.3l.9 5.3l1 15.4l.7 15.3l1.2 16.2l.8 3.3l.8 3.2l2-2.6l.6-1.6l.8 6.1l1.2 6l.8 6.4l1.2 5l.7 5.7l.4 5.4l1.1 5.4l1.5 5.3l1 1.5l1.1 2.4l.6-1.3l.9-3.7l1.2-3.9l1.4-4.5l.9-3.4l1.2-4.9l.9-2.9l1.3-2.1l.1-2.8l1.5-3.3l.2-2.9l1-2.2l2.2-3.1l.4 3l.9 5.4l1.6 3.1l.4 3l1.3 .7l1.5-.1l.4 1.8l.4 3.3l2.5 1.7l.5-.1l1 .2l.6 1.5l1.1 .7l.5-1.6l.7-2l1.9-1.7l1.2-.2l-.1-.5l1.3-1.2l1.7 1l.8 .8l.8 2.1l1.2 1.2l.8-.9l.3 .1l1.3-.6l1.4-1l.5-.6l1.7-1.3l1.1-.4l.6 0l.4 .7l1.4-.3l1.3 1.3l1 .1l1 0l1-1.9l.7-1.1l1.4-1.2l.8-1.7l1-1.3l1-.8l1.2 .8l1.3 2.3l-.1 2.9l1.2 1.3l.7 1.4l1.7 2.6l1.4 3.2l1 4.1l1.3 2.7l-.4 4.6l1.7 3l.6 .8l1.1 1.6l1.5 1.1l.6 2.5l1.4 3.7l-.3 1.9l3.1-4.1l-.2-3.7l1-4.3l1.4-2.7l.6-3.2l1.5-3.1l1-2.6l1.1-2.9l.9-3.6l.9-4.9l.7-6.8l1.1-6l1.1-5.1l1.2-6.1l1.1-6.2l.8-5.3l1.4-7.3l.2-4.7l1.7-4.6l.9-4l.3-4.3l1.3-3.2l1.8-4.2l-.1-3.8l1.4-2.6l.8-4l1.3-4.2l1.7-1.2l.5-2.5l.6-3.4l1.8-3.6l.7-4.8l.5-1.9l.8-1.8l1.5-1l.5 2.3l1.1 3.1l.9 6.1l.6 6.7l1.4 5.5l1.7 6.1l0 6l1.2 7.5l.9 8.1l1.9 13.2l1.2 12l-.8 10.1l2.1 10.1l1.2 8.5l.5 7.2l1.2 6.9l1.2 7.7l.7 7.1l1.5 3.2l1.1 2.3l.6-2.7l1.4-4.7l1.5-3l.6-1.3l.3-1.2l1-1.5l1.4 2.1l1.5 4.5l.3 7.7l.5 10.1l1.2 12l1.3 10.1l1.1 6.4l1.3 2.2l1 1.7l.6 1l1 .9l1.1 .1l.7 .4l1.1 0l1.1 .3l1.4 .2l.1-.6l2 .1l.3 .5l.1 .5l1.3 .7l1.8 .5l1.5 .1l.8 .6l.2 .7l2 .2l.6 .8l.9 0l1.3 .2l1 .8l1.1 0l.2 .1l1.2 .3l1.5 0l.7 .9l.6 .3l1.5 .6l.9 .4l1.6 .1l.9 .8l1.1-.3l.5 .5l1.5 .8l.9 .6l.2 .5l1.5 .5l1.6 .6l.2 .1l.6 .6l1.5 .6l1 2.6l.8 1.7l1.9 1.4l.5 0l.9 .7l.9 1.9l1 1.6l.8-2.1l1.3-.8l1.3-3l-.3-1.6l1.2 .5l1.3 1.2l1.5 1l1.2 1.6l.5 1.8l1.3 1.4l.9 .9l1.3 .8l.4 1.5l1.1-.1l1.2-1.4l1-2.4l.8-2.2l1.7-.4l.8-1.5l.3-3.3l1-2.6l2-1.2l.2-2.7l1.3-2.4l1-1l-.6-.4l2 .4l1.2-.3l.8-1l1.9-.4l.6-.9l.6-.4l1.2-.2l1.2 0l.8 1l.8 .7l1.1 1.8l1.6 1.5l.8 1.6l.2 1.7l1.9 2.9l.7 3.8l1 2.2l.8 2.5l1 2.6l1.2-1.6l.8-1.8l1.4-1.8l1.5-.2l0-1.7l.7-1.9l1.2-.6l1.2 .3l1.6-1l.7-.4l.8-1.1l.8-.9l1.3-.3l1.4-.6l.3 .4l1.5-.9l1.1-1.6l.8-1.4l1.1 .1l1-.1l1.7-.6l.2-.4l1.3-1.2l.2-.2l1.3-.3l1.5 .6l.9-1.1l1.2-.5l1-.1l.6-.3l1.4-.9l-.2 .1l1.6 .1l.5 0l1.3-.1l1.6-.8l.7 .6l1-.2l.7-.4l1.5 .6l.7 0l2.2-.8l-.1 .6l1.4 .6l1.2 .1l.2-.5l1.5 .5l.3 .1l2.1 .8l.6 0l.9 .3l.6 .2l.9 .9l1.5 .2l0 .6l1.8-1l1.1 .9l.5-.3l1.9-.2l0-.3l1.2-.8l1.3-.1l1.6 .7l.6 .4l-.1 .8l1.7-.9l.8-.3l1.7-.4l.2 .2l1.3 0l1.8-.2l.7 .5l1.1 .4l.4 .1l1.7-.2l.6-.1l1.1-.5l1.5 .4l0 .3l1.2-.6l2 .7l.5-.3l.6-.1l1.4 0l1-.5l1.3 .7l.7 .1l.2 0l1.7 .3l.8 0l1.4 .1l.1-.4l1.8-.5l1.2 .6l.1 .7l1.3-.5l1-.1l.2-.7l1.5-.4l1.4 .2l1.1-.5l.5-.1l1.1-.4l1 .5l1.5-.4l.9 .1l.1-1.1l1.3-.1l1.8 .5l1.3-.4l.4 .1l.6-.4l1.8 .3l.3-.9l1.6 .4l.7-.2l.9-.1l.7-1.4l1.5-1.2l1-.3l1.3-.5l.8 .3l1.3-.7l0 .2l1-.5l1.1-.4l1.8 .3l.8-.4l.7-1.1l1.3-.3l.9-.5l.4 .6l1.5-1.2l1.3-1l.9-1l1.1 .3l.8-.9l.7-1.7l1-.3l1.6 .1l.8 .3l1.7-.3l-.1-1.1l1.2-.9l1.5-.2l.7-.2l.4-.6l2-.8l.4 .1l.9-1.2l.4-.6l1.2-.2l2.2-.9l.4-1l.5-.5l1.5-.6l1.5-1.2l1.1 .3l.5-1.5l.9-1.5l.5-1.3l1.5-2.4l.6-2l.8-3.3l1.2-4.3l.8-3.3l2.2-.7l.5 3.5l.8 1.7l.4 1.3l1.9 .3l.8 .1l1.1-.9l.6-1.1l1.6 0l.5-2.6l1-2.5l1.6-2l1.1-1.5l.2-7.1l1.3-6.3l1.4-5.4l1-7l.4 7l1.5 5.6l.3 1.8l.6 2.9l1.9 2l.7 1.7l.9 1.1l1.1 1.5l.9 1.3l1.1 .5l1 .5l1.1-1.5l.3 .7l1.4 .4l1.5-1.2l1.3-1.6l.4-.2l1.3 .3l.8-.9l1-1.5l.5-3.2l1.3-2.8l1.5-2.6l1.8-3.1l-.4-2l1.3-2l1.4-2.9l.6-2.9l1.4-2.9l-.2-2l2.2-2.6l.7-3.1l.9-2.8l1.2-3.3l1.3-2.9l0-3.1l1.7-3.2l1.3-2.9l.6-2.8l1.1-2.9l.4-3.4l1.1-3.6l2-4.1l.2-3.8l1-2.4l1.1-2.3l.9-3l.9-3.6l1.5-3.7l1.4-3.6l-.2-3.3l1.8-3.2l.4-3.7l1-2.8l1-3.1l1.5-2.9l.9-3.5l.9-3.5l1.9-3l.4-2.8l.2-3.9l1.4-3l.7-4.5l1.6-2.9l.5-2.7l1-1.9l1.4-1.5l1-2.3l.8-1.8l.9-2.5l1.6-2.4l.7-1.5l1.3-2.1l.7-1.8l.8-1.8l1.4-1.8l1.2-1.8l.4-1l1.2-1.4l.6-.9l1.9 .3l-.2-.7l2-.4l.8-.8l1.2-.8l.5-1.1l1.1 .4l.9 .1l1 .5l1.3 .4l.7 .9l1.4 .9l-.2 .7l1.8 .6l1.3 .6l1.3 .3l.1 .4l1.8 .8l.1 .3l1.6 1.2l1.1 1.8l.2 .7l1.6 .2l1 1.7l.8 .2l1 1.6l1.4 .6l1 1.2l.4 .8l1.6 1.2l1.6 .6l.7 1.1l.9 2.6l.4 1.8l.7 1.9l.9 2l1.5 1.9l1.3 2.7l1 2.6l.6 2.9l.9 2.4l1.2 2.9l1.3 2.6l.9 3l.3 2.9l1.4 3.2l1.2 3.4l.2 2.4l1 2.8l1.8 3.1l1.5 3.2l.7 2.8l1.1 3.1l.6 3.2l1.5 2.7l.5 2.8l1.3 2.7l1.5 3l.8 3.4l.4 2.5l1.8 3.2l-.1 3.1l.9 3.6l1.1 2.8l1.1 2.4l1.1 2.8l.8 3.1l1.2 3.7l.8 2.6l1.6 3.2l1 2.9l.5 2.9l1.4 3.5l.7 3.1l1.9 3.1l.7 3.2l.1 3.7l1.3 3.2l1.2 3.3l1 3.2l.8 3l.9 4.6l2 3.3l-.2 3l2 3.3l.8 3.6l.7 3.4l.8 2.9l.7 3.8l1.3 3.1l1.4 3.7l-.1 4.1l1.2 3.1l1.9 3.7l.5 3.7l2.1 3.6l0 3.1l1.8 1.9l1.6 1.7l.2 2.5l.4 .8l.2 1.6l1.8 1.6l1.3 .6l.7 1.3l1.8 .5l-.7 .5l2.5 1.2l.7-.1l1.4 1l1.5 1l-.2-.7l1.5-.1l.5 0l1.2 .1l1.2 .5l.8-.1l1.3 .4l.8 .1l1.1 .5l0-.9l2.2 .4l1.1 .1l-.2-.3l1.9-.5l1.2-.7l1 .4l.2 .6l1.4 .3l1.5-.1l.4-.4l1.2-.3l1.3 0l.4 .3l1.8-.4l.2-.2l1 1.2l1.6-.6l.3 .5l1.5 .4l.4-.7l1.7-.2l.5-.1l1.7 .6l.5 .6l1.1-.1l.6-.1l1-.1l1.1 .5l1.2-.7l.8-.5l.7-.1l.8 .1l1.7 .1l.6 0l1.1 .2l2.1 0l1.1-.2l1-.2l-.3 .1l1.3-.2l1.1 .2l.8 .3l1.3 .1l1.2-.2l.6 .1l1.2 .4l1-.3l1-.5l1.4 .3l-.1 .3l1.2 0l1.2 0l.5-.1l1.9 .7l1.3-.4l.4-.1l.9 1.2l1.8-.6l.1-.6l1.6-.3l.8 .2l1 .3l.9-.6l.8-.3l1.5 .7l.3 .2l1.4 .2l1.4-.5l.2-.3l1.2 .4l.4-.6l1.8 .3l1 .4l.3-.3l2.4 0l.2 .1l.9-.3l1.9 .6l.7-.2l.8-.2l.8 0l.5-.2l1.7 0l.5-.2l.5 1l1.4-.6l.5 .4l2.3-.2l.9 .8l1 .2l.7-.4l1.3 .2l1.6-.3l-.6-.6l2-.2l1-.3l.9 0l.9 .3l1.5 .4l.4 .6l.9-.6l1.2 .1l1 .6l1.2-.2l.8-.5l1.2-.2l.6 .4l1.4 0l1.1-.1l.6 .7l.4-.4l1.6-.2" stroke="#0862f6"/>
<path d="M125.5 98.9l.4-.8l1.6-.2l.7 2.4l1.3 3.5l.6 3l1.2 4l.7 4.2l1.2 4.6l.8 5.1l.4 5.6l1.5 6.3l.6 6.1l1.5 5.8l1.3 4.8l.4 5.2l1.4 4.7l.6 4.6l1.1 4.4l1.6 3.8l.6 4l.8 4.6l.7 4.6l1.4 5.7l1.1 3.9l1.8 5.8l.9 5.7l.9 5.5l.8 6l.6 7l1.1 5.5l1.5 6.1l.6 5.9l.8 5.1l1.6 5.8l.7 6.1l.3 5l1.2 5.8l1.4 6.5l1.4 6.1l.7 5.3l.5 6.5l1.8 5.8l.6 5.6l1.3 4.7l.4 5.4l.9 5.8l1 5.1l1.6 5.5l.5 4.2l1.9 4.2l.7 2.9l.3 4l.7 4.9l.5 4l1.8 3.5l.9 4.6l1.8 4.9l.7 5.1l.7 4.8l.4 4.2l1.5 5.4l1.7 3.4l.5 3.9l1 3.2l.8 3.8l1.3 4.1l1 3.3l.6 3.4l1.7 2.3l.1 2.1l1.6 1.9l.8 1.8l1 1.6l1.7 1.5l1.1 .7l-.1-1.9l1.7 .4l.3-.5l1.6-.4l1.3-.7l-.1 .1l1.1-.3l2.2 1.8l.2 .7l.7 1.2l1.1-13.1l1.7-13.2l.9-11.3l1-11l.4-5.8l1.2-6.9l.3-6.2l1.1-5.6l1.9-6l.6-6.4l1.3-10l1.2-9.3l.8-9.6l.4-9.6l.7-8.4l1.2-10.6l1.4-10.9l1.4-8.8l.3-7l1.6 9l1.3 9.6l.8 10.5l.3 8.7l1-1.8l.9-3.2l1.6 1.8l.8 6.7l.8 5.8l1 1.4l1-1.9l1.4 2.4l.6 3.6l1.7-1.6l1.6-2.6l.4 1.5l1.5-1.5l-.1-2.4l1.8 5.1l.1 4.7l.9 4.1l1.5 4.7l1.4 3l.3 6.3l1.2 24.5l1.1 22.8l1.4 23.3l.6 7.5l1.2 9.9l.7-.9l1.3-1.6l1.6 11.3l-.1 8.1l1.8 7.5l.2 5.6l1.5 5.6l1.2 6.6l.9 6.4l1 6l.8 1.2l1.2-.1l.3-4.6l.9-4.4l.4-4.3l2.7-4.4l.9-4.6l1.1-3.1l.2-2.4l.8-3.8l1.1-3.2l1.4-3.9l.5-2.3l1.7-2l.6-2.6l.5 2.4l1.4 3.3l1.3 2.4l1.1 2l1.1 2.4l.4 2.7l1.2 1.9l1.2 2.8l.9 2.7l1.1 .2l.8-.4l1.4 .7l1.1 .9l.3-1.4l1.9-1.3l.5-2.2l1-1.5l1.5-1l.8-1.1l.2 .6l1.5 1.8l.5 .5l1.1 .7l1.6 1.6l.7 1.3l1.7 0l0-1.2l1.2-.4l.9-1.7l1.3-2l1-.9l1 .1l.9-.9l1.4-1l.2 1.4l1.8-.7l1-3.1l.7-1.3l1.3-.4l.8-1.1l.4-1.4l1.5-.7l.7 3.3l1.4 3l1.1 2.6l1.2 2.5l-.1 3.1l1.2 3.2l1.7 3.2l1 4.7l1.1 5.1l.1 2.8l1.2 3.2l1.1 2.4l.6 2.3l1.4 1l1.7 1.8l.9 2.8l1.7 .7l.5-4.4l.2-5.1l1.9-5.7l.3-4.8l1-5.6l.6-5.3l1.7-7.7l.3-5l2-5.3l.2-5.3l.9-9.2l1.1-9.2l1.1-9l.7-10.3l1.6-10.5l.3-11.4l1.5-12.4l1.1-5.3l.1-2.6l1.7-4.2l1.4-5.8l.8-4l1-3.5l1.4-2.4l.2-1.4l1.9-1.4l1-.7l.8 2.4l.8 .9l.8 1.2l1.3-.3l.7-.2l.6-.4l1-1.2l1.3-1.4l.5-.8l1.6 2.5l2.1 3.4l-.3 1.8l1.5 2.2l.2 3.2l1.2 1.9l1.2 8.7l1.8 8.6l.1 25.7l.9 19.5l.7 11.5l1.3 12l1.2 8.9l.8 10.8l.8 11.1l1.5 10.1l1.1 9.2l1.8 6.7l.2 2.5l.6-3l1.4-2.3l.7-2l1.6-1.5l.6-1.3l1.6-.6l.4 1.8l.4 5.2l2.3 12l-.1 12.9l2.3 13.1l-.1 10.4l1.2 7.7l.4 4.2l1.8 .3l1.1 1.7l1.2 .8l.5 .6l1.3 .4l.8 1.2l.7 1.6l1.2 .1l.6 1.4l1.5 .9l1.4 1l-.1 .3l2 1.3l1.1 .6l1.4 .7l.5 .6l.8 1.1l1 1.3l1.2-1l.6 .5l.5 .4l2.5-.1l-.5 .8l1.9 .4l1 .5l.7-.8l1.2 .5l1.2 1.5l.9-.1l1-.3l.5 1.2l1.8 .8l.2 .4l1.4 .8l.9 .6l.3 .3l1.9 1.3l.8 .8l1.2 .1l.7 1.8l1.2-.1l0 .7l2 1.3l.7 0l1.2 .5l.7 .7l.4 .5l.9 2.8l1.4 1.3l1.4-.5l1.2-.3l.7-2.2l.9-2.8l1.1 .1l1 1.4l.9 2.2l1.8 2.3l-.5 1l1.7 .8l1.1 1l.7 .9l2 .8l.4 .9l1.7-1.5l0-.8l.9-2l.8-2l2.2-2.5l.2-2l.6-1.7l1.7-1.8l1.4-1l-.3-2.7l1.5-2.8l1.9-2.3l.5 .5l.1 .3l.8 .4l1.6 .1l1.2 .1l.8-.6l1.3-.9l.4-.9l1.7 .9l.7 .4l1.7 1.4l1.3 1.4l.3 1.5l.8 2.3l1 3.8l2.2 3l-.2 4.1l1.4 3.2l1.2 3.9l.3-2.9l2.2-3.1l-.1-3.3l1.4-.8l1-.2l.6-.9l.9-1.4l2-.7l.3-.2l.6-1.3l.8-.6l.9-1l1.8-.9l1.2-.8l1-1.1l.8-.6l.4-.1l1.9 0l.7-.9l1.4-.7l1-1.5l.8-.5l.7-.7l.5-.7l1.5-.3l.6 .4l1.9-1.4l1.3 .6l.5-.4l.9-.1l.9 .5l.8-.8l1.5-.2l.5-.1l.6-.2l1 0l1.3 .1l2.2 0l.5-.4l1.5 .9l0 .2l1.4 1l.4-.4l.9 .1l1.7 .4l.4 .2l1.2 .5l1.6-.2l.6 .1l1.1 .8l.6-.2l1.2 .8l.5-.2l1.1-.3l1.2 .8l.8-.6l1.8-.4l1 .3l.4-.4l1.8 .4l.7-.1l.5 .6l.5-.2l2 .2l0 .3l1.2 .3l1.3 .2l1.1-.3l1.1-.7l.6-.9l1.6 .4l.9 .2l1 .5l.4-.2l1.9-.4l.4 0l1 .5l1.4 .1l.8 .1l.7 .4l.9-.1l1-.3l1.3-.2l1 .3l1.3 .3l.7-.5l1.1 .3l1.1 .4l1-.3l.3-.3l1.5-.1l.7 .1l.9 0l1.5 .1l.7-.4l.8 .3l1.3 .6l1.1-1.9l.6-1l1.4 .1l.7 .4l1 .4l1.4 .3l.5 0l1.2-.4l.8-.8l1.3-.5l1.3-.4l1.5 .6l.6-.3l-.2 0l1.9-.5l1.6 .6l.7 0l-.2-1.2l2-.7l1 0l1 .6l.2-1.4l1.5-.8l2.2 .5l-.8-.1l1.8 .3l1.3 0l.3-.8l1.7 .2l.8-.2l1.4 .4l.3-.4l1.2-.8l1.2-.3l.6 .5l1.4-.3l.7-1l1.6-.2l.5-.7l1.3 .5l1.5-.2l.2-.5l1.2-.6l1.3-1.5l0 .3l1.8-.5l.1-1.4l1.9-.5l1.1-1.2l.3 .2l1.1-.8l1.5-.8l.9-.7l.5 0l1.4-1.2l.5-.2l1 0l1.1-1.5l1.5-1.8l.6-1.8l1.8-1.2l.5-2.4l.2-1.2l1.9-1.6l1.4-2l-.2-3.3l1.7-4.6l.6-4.4l.9-5.6l1.5-.9l1.2 2.9l.1 1.4l2-2.7l.2-1.6l1.3-.4l.6-2.2l1.7-2.8l.6-2.3l1.4-3.3l.9-1.9l.7-2.6l.5-2.7l1.6-7.3l1-8.4l.9-8.3l1-6.8l1.5 1.4l1 7.4l.6 3.5l1.7 2.3l-.7 3.4l1.8 1.9l1 1.6l1.3 2.2l.4-.5l1.7-.1l.7 1.1l1.1-.2l1.3 1.1l.1-.3l2 .3l-.2-.4l2.5-1.6l-.2-.6l1.3-1.6l1.5-.2l1.2-2l-.2-2.7l1.2-4.3l1.2-3.3l1.4-3.2l1.4-3l-.1-3.4l.8-3.3l1.9-3.3l1-3.1l1.6-2.9l.4-3.5l1.5-3.6l.6-4l.8-4.5l1.6-4.7l.3-3.3l1.2-3.9l.6-3.4l1.7-3.5l.9-3.8l.8-3.5l.3-3.8l2.1-3.4l.7-4.2l1.3-3.6l1.4-3.3l1.1-3.7l.1-3.5l.9-3.5l.8-3l1.6-4.3l.7-3.8l.7-3.8l1.6-3.5l.8-3.9l1.3-3.9l.4-4.1l1.6-3.9l.4-4.5l1.8-2.5l-.5-3l2.2-3.4l.5-3.4l.9-3.9l.6-3.7l1.7-3.5l1.2-3.3l1-1.6l1-1.9l1.1-2.4l.5-3.1l1.4-2.6l.3-1.8l1-1.7l1.5-1.2l.9 .1l1.4-1.1l.1-.6l1.6-1.4l.4-1.3l1.4 0l.7 0l1.8-.6l.6 .5l.4 0l1.8 .1l1.6 .5l0 .2l.9 1l.9 1l1 0l1-.3l1.4 .2l1.4 .7l.5 1.5l1.2 .8l.4 .6l1.2 .6l1.6 1.3l.7 1.3l1.5 .3l.5 1.1l1.1 1.4l1.6 .5l.3 1.5l1.4 2.5l.5 1.6l1.1 1.9l.6 3l1.8 3.2l.7 2.9l1.1 2.5l-.2 3.3l2.2 3.4l.4 3.5l1.8 3.4l.5 2.9l1.5 4.4l.5 2.5l1.1 4.6l1.3 3.6l0 3.4l1.7 3.9l1.2 2.4l1 3.6l1.5 3.4l.3 3.2l.5 4.2l1.4 3.5l1 2.8l1.3 4.3l.3 3.9l1.7 3.9l.6 3.1l.3 3.6l1.5 3.5l1.2 4.3l1.2 3.8l.7 3.1l1.2 3.8l.7 3.3l1.2 3.7l.8 3l1 3.6l1.1 3.4l1.1 4.1l1.7 4l1.3 3l-.5 3l1.8 3.6l1.2 3.1l.3 3.2l2 3l.7 2.8l.5 4.1l1.3 3.1l.9 3.3l1.2 3.1l1.4 2.8l.6 3.6l1 3.3l1 3.5l1.1 3.6l.8 2.5l.8 3.1l1.3 3.3l1 3.8l1.7 3.2l.3 3.6l1.3 3.1l.9 2.8l.4 3.6l1.7 3.4l1 3.2l.3 3.2l1.8 3.1l.9 3l0 2.4l2.5 2.7l.2 2.2l1.8 .5l.4 2.1l.7 1.2l1 1.1l1.3 1.1l.9 .9l.7 1l1.5 .5l1.2-.4l.5 1.3l1 .2l1.1-.1l.9 0l1.1 .7l1.3 .6l.9 .1l.3 .2l1.1 .3l1.1-.1l1.8-.2l.6-.5l.6-.4l.6 .2l2-.5l.4-.5l1.9 1.2l-.4 .2l1-.8l2 .4l1.1 .2l.9 .2l.1-.1l1.7-.2l1.1 0l1.1 .4l.3-.3l.5 0l2.2-.3l.6 .3l1.2-.1l1-.1l1 .1l.3-.1l1.6-.1l1.1 0l.4-.2l2.1 .9l.5 .3l.8-.2l1.1-.1l1 .2l.4-.2l1.7-.2l.5-.3l1.5 .3l1 .1l.6-.2l.9 .3l1.5-.1l.8 .1l1.6-.3l.1 .7l.8 .3l.7-.9l.7 .2l2.2 .3l1.1-.2l.3 .5l1.5-.1l.5 .1l1.4-.8l1.2 .2l.9-.3l1.4 0l2 .6l-.1-.2l.5-.1l.9-.6l1.3 .3l1.2-.2l.8-.4l.7 0l.7 0l1.6 .6l1.3 .2l.4 .3l1.1 .4l1.2-.5l2.3 .2l-.7-.4l1.2-.4l1.1-.1l1.2 .6l.9 .1l1.3 .5l.7 .2l1-.5l1.1-.5l.8-.1l1.2-.2l.8-.6l.6 .9l1.4 .5l1.1-.2l.7-.1l1.8-.1l.4 .2l1.2-.9l.2 .5l1.8 .7l.3-.8l1.3-.3l1.7-.3l.7-.2l.6 .2l1.2 .5l.7 .4l1.1-.1l1.5 0l1.5 0l-.6 .1l2.2 .5l.6 0l.7 0l1.2 0l1-.9l1.5 .4l.6-.1l.8 .2l1.7 .4l-.5-.1l2.1-.8" stroke="#ee0000"/>
<path d="M125.5 124.1l.5-.1l1.4-.2l1.1 .1l.5 4.6l.9 3l1.4 4.3l.8 4.1l.6 3.1l1.2 3.6l1.2 3.8l.9 4.9l1.1 3.9l1.9 4.2l-.4 4.3l1.2 3.8l1.5 4.5l.4 3.3l1.3 3.9l1.8 4.2l.5 4.2l.4 5.1l1.7 5.8l.4 6.3l1 5.6l1.4 6.4l1.3 5.3l.5 5.8l.6 5.7l1.3 5.7l1.4 5.5l.8 6l1 6.1l.9 5.9l.4 5.4l2.4 5.5l.3 5.2l.5 4.9l1.5 5.2l1 5.8l1 5.2l1.1 5.6l1 5.6l1.5 6.2l.3 5l.3 6.5l1.8 5.5l.6 5.2l2 5.1l.7 3.6l1.2 2.7l-.5 4.1l3.1 3.5l.5 3.3l.6 2.5l.4 4.2l1.8 4.8l.1 4.8l.7 4.3l1.7 4.6l1.1 4.8l.8 4.3l1.7 3.1l.1 3l.5 2.4l2.4 4.3l-.1 2.9l1.4 3.6l1.9 3.8l0 3.2l1 3.1l1.5 3l.8 1.9l1 .8l.5 .3l1.4 .7l.9 2.2l1.4 .3l.7-.7l1.6-.8l.4 .4l.5-.2l1.7-.8l.9-.1l1-.2l.8 .7l.8-11.1l1.6-11l1.3-10l-.8-10l1.8-6.2l1.6-6.9l1.1-6.6l.7-5.9l.7-6.1l1.5-5.5l-.1-8.3l1.7-9.8l1.1-9.6l1.2-9.2l.7-8.4l1.6-7.5l1-8.4l.7-8.8l.6-10.3l2 6.2l1.1 6.9l.3 6.5l1.1 5l1 3.1l.7 5.2l1.2 2.7l.8 1.8l1.2 3.1l1.6 1l-.5-.3l2.1 1.8l1.1-.9l.6-3.9l.8 .9l1.3 5.5l.6 5.7l1.8 2.9l1.2 1.7l.4-.5l.7-1.2l1.4 1.4l.7 1.4l1.9 7.9l.3 28l1.5 24l0 23l1.8 9.8l1.2 10.2l.6-1.2l.2-1.6l1.4 10.5l1.5 8.6l.2 7.4l1 5l2.2 6l.5 4.7l.4 5l1.6 4.5l-.3 1l2.8 3.2l0-2.7l1.9-2.9l.1-3.5l1.3-2.3l1.3-1.6l1.2-4.3l.7-3.3l.6-4.5l1-4.5l1.5-3.7l.7-2.2l.6-2.1l.8-1.2l1.4 3.4l1.5 3.2l.7 2.7l1 2.7l1.5 .7l.9 1l.7 1.4l1 1.7l.6 1.1l1.8 .2l.9 1.1l.5 .9l1.4 .6l.9-.8l.4-.8l1.2-1.4l1.5-2.8l1.3-1.6l1-.6l1 .6l.8 .3l.4 3l1.1 3.1l.9 1.6l1.6-.2l1.4-1.2l.4-1.3l1.1-1.5l.7-2.7l1.4-.5l.3-.7l1.8-.1l0 1.5l1.8 .1l.2-.1l1.1-1.8l1.6-1.7l.2-.4l1.8 .9l.6-.2l.8-1.6l.9-2.5l1.2 1.9l1.4 2.2l1.1 2.2l.9 4l.5 2.4l1.9 3.1l.5 2.8l1.6 3l.4 2.7l1 2.4l.6 2.5l1 1.8l1.1 1.2l1.4 3.5l1.5 2.9l-.1 2l1.5 .8l1.2-4.6l1-4.6l1.4-6.2l.5-7.1l1-7.1l1.7-4.8l.2-7.2l1.9-5.6l.3-4.5l.2-5.1l2-9.5l.3-8.7l1.4-8.8l.7-9.1l.5-9.8l1.7-9.3l1.6-8.6l0-4.9l1-5.7l1-5.8l1.4-4.7l1-2.4l1.1-4.1l1-2.9l.9-1.4l.6-1.8l.9-1.2l1.6 .5l.6 .2l1.8 .2l.4 .6l.7-1.6l1.7-1.2l.6-.2l.6-.3l1.1-.8l2.2 .9l-.3 1.6l2.1 3.1l.9 4.9l.3 5.2l1 3.8l1.3 7.3l-.1 7.6l2 23.3l1.1 18.2l1.2 13.7l.8 11.9l.6 10.5l.7 8.9l1.5 8.3l1.8 7.9l.4 7.9l.9 5.7l.6 3.5l1.9-1.8l.4-1.7l1.4-4.3l.2-2.2l1.8-1.1l.7 0l1.7 1.5l.5 4.3l1 9.9l.8 12.3l.6 13.3l1.4 11.3l.7 6.8l1.3 3.6l.9 .6l1.5 1.4l.5 .7l1 .7l1.1 1l1.1 .8l1-.7l1.3-.2l.3 .6l1.8 .5l.5 .2l.7 .8l1.2-.4l1.5 .7l.5 0l.9 .9l1.5 .2l1.2 .3l.9 1.3l.7 .7l1.3 .1l.9-.9l.5 .3l1.2 .3l.9 .4l1.2 1l.8 1l1 0l1.5 .5l.4 .7l1.3 .3l.7 .4l1 .6l1.8 .7l.3 .1l.4 .6l2.2 .8l0 1.5l1.6-.2l.7-.1l1.5 .7l.8 1.6l1.1 1.1l.6 1.4l.9 .9l1.8 1.6l.7 .4l1.3 .5l.3 1.9l1.3-.3l1.5-.4l.3-1.5l1.1-2.3l.3 .5l2.1-.2l.7 .5l1.4 .7l.4 1l1.4 .5l.7 1.8l1.2 .7l.7 1.4l1.3 1.6l.9-2l.7-1.3l1.3-1.1l2.1-2.3l-.3-2l1.6-1.4l.3-2.5l2.1-1.7l.8-2.2l.2-1.7l1.2-2.6l1.3-2.4l.6-.8l1.5 0l0 .3l1.2 .7l1.1-.6l1.5-.3l.3-.1l1.6 .6l.8 1.4l1.5 .2l1.2 1.4l.5 .9l1 1.1l.9 1.7l1.3 4.4l.4 3.6l1.1 2.7l2 2.9l-.4 3.1l1.2-3.2l1.2-2.3l.9-1.9l1-.4l1.6-1.7l.7-2.1l1.4-1.4l.4-.4l1-.9l.7-.4l1.5-.4l1.2-.1l-.2-1.3l1.9-.4l1.6 .1l.3-.1l2-.8l-.8-.8l1.8-.7l.9-1l1.3-.5l1.3-.1l1 0l.2-1.3l1.6-.3l1.3-.5l.7-.4l1 0l.5-.2l2.6-.4l-.6 0l2.1-.3l.3-.2l1 .4l.2-.3l2 0l.1 .4l2.2-.3l.4-.2l.8-.1l1.1 .1l1 .8l1.4-.1l.6 .3l.5 1.1l1.3 .3l.9 .2l1.6 .7l.2 .1l1.6-.3l.6-.3l1 .5l2 .4l.8 0l.9 .1l.4-.3l1.2 .2l1.9-.7l.5 .1l.9 .3l.7-.3l1.2-.2l.8 .1l.7 .2l1.2 .5l1.2-.3l.1 .1l2.2-1l.1-.4l1.5-.5l1 .4l1.2 .5l1 .4l1.5 .4l.6-.6l.3-.4l2.3-.8l.4 .4l.3 .5l1-.4l2.3 .8l-.5 0l2-.4l.7 .2l1.3-.3l.6 .1l.6 0l1.5-.4l.8-.5l1.5-.1l.8-.5l.3 1.4l1.6-.5l1.1-.2l1 0l.7-.3l.9-1.1l.9-.1l1.6 .3l.1-.1l1 0l1.6 0l1.4-.6l.2-.3l1.8-.7l.9 .7l1-.2l1.5 .1l-.1-.6l1.7-.5l.6-.4l.2-.4l2.4-.2l1.1-.1l.7 .2l.8-.7l.6-.4l1.3-.2l.5-.3l.8-1.1l1.7 0l1.4-.3l.3-.2l.8-.6l.9-.8l2 .1l.6-.4l1.2-.5l.8-.6l.5 .7l1.9-.5l-.4-.2l1.9-1.4l1.2-1.1l.9-.4l1.2-.2l.5-.1l1.7-.6l.4-.1l1.8-1.3l.4-.5l1 .2l.9-.4l.5-.3l1.8 .1l.2-.3l1.8-1l1.2-.7l1-.7l1.1-.2l.8 .1l.8-.7l1-.7l.7-.5l.9-1.6l1.1-.7l1.8-.6l-.4-.8l1.8-1.3l.6-1.3l1.9 .1l.5-3.5l1.1-2.4l1.1-4.1l.6-3.6l1.7-4.3l.2-1.4l1.8 3.3l.6 2.7l1.5 .4l.6-.6l.6 .4l1.7-1.3l.6-2.8l.8-2.5l1.2-2.7l.8-3.5l1.7-2.6l0-1.2l1.2-7.4l1.3-6.7l1-7.3l1.8-7l-.3 2.2l1.4 7.5l1.8 4.1l-.1 2.8l.8 3.5l1.8 1.5l1.5 1.9l.2 3.1l.7 .9l1.8-.4l1.5 .3l-.1-.3l.8 2.2l1.1 .7l.9-1.5l1.2-1.4l.9-.5l1.2-.2l1.2-1.9l.8-1.1l.9-3.4l1.1-2.3l.7-2.4l1.6-2.3l1-2.9l.5-2.1l1.2-2.6l.7-3.4l.6-2.7l1.9-2.7l1-2.5l1.7-2.8l-.5-3.2l.4-3.9l2.7-3.3l.6-3.1l.7-3.3l1.5-3.2l.7-3.4l.3-3.4l1.8-3.6l.8-3.6l1.6-3.2l.6-3.1l.7-2.7l1.3-3.7l.3-4.3l1.5-3.3l1.8-4l.5-2.8l.7-3.1l1.1-3.6l.1-3.9l1.7-3l.7-3.3l.9-2.9l1.3-4.2l.8-3.2l1.5-4l1-3.1l.5-3.6l1.4-3.7l1.1-3.9l.8-2.8l.8-2.6l1.5-3.3l1.1-3.5l.3-3l1.6-3.2l.9-2.7l1.6-3.5l.8-1.9l.2-2.4l1.1-2.2l.8-2.6l1.3-2.4l.4-1.6l1.4-1.1l1.6-.1l1-1.4l-.1-1.2l1.5-.3l1.5-.4l.9-.2l1-1l.5-.9l1.1 .3l2 0l1.5-.2l-.6 .1l1.3 .8l1.7 .3l.4 1.1l.9 .3l1.5 .2l.8 .3l1.4 0l.4 .6l1.3 2.2l.9 1l.8 .3l1.3 1.2l.7 1.8l1 .4l.8 .4l1.2 .6l1 1.7l1 1.6l1 .8l1.1 2.1l2.1 1.8l0 1.8l.6 2.4l1.5 2.9l.3 2.5l1.4 2.8l1.3 2.5l.7 2.9l1.8 3.9l-.1 2.2l1.1 3.1l1.4 3.4l.5 3.3l1.7 2.7l.7 3.9l1 4.1l1.2 2.3l1.1 3.5l1 2.6l1.2 2.2l1.1 3.4l.6 3.7l.1 3.3l2.3 3.7l.7 2.7l.8 3.3l.4 3.8l1.2 3.1l1.3 3.8l.9 3.1l.5 3.8l.6 3.3l2.2 3.5l1.2 3.6l.6 3.3l1.5 3.2l-.3 3.3l2.1 2.9l.8 4l.9 3.1l1.3 3.3l.6 3.4l1.5 2.9l1.2 3.6l.4 3.1l.7 3.3l1.5 3.6l1 3.7l.9 3.1l1.5 3.4l.1 3.6l1.7 3.1l1.1 2.8l.9 4l1.2 3.2l.5 3.8l1.1 4l.2 3.3l1 3.6l1.7 3.9l.7 4.2l1.6 3.8l.1 3.5l1.7 4.1l1.4 3.3l1.1 2.6l.5 4l1 2.4l.8 2.4l1.9 2.7l.2 1.7l1.4 2.6l.3 2.3l1.4 .7l1-.3l1.3 2.1l.7 .3l.5 .7l1.3 .8l1.1 .6l1.1 1.4l.5 .6l1.7 .2l.5 .2l.5 .6l1-.3l1.4 .4l1.8 .3l-.1 .1l1.4-.3l1.2-.5l.8 .2l1.3 0l.7 .5l.9 0l.7 .1l1.4-.2l1.7 .1l.3-.2l.9-.4l1.6-.4l1.1 .5l-.1-.6l1.9 .1l0 .3l1.9-.5l.5-.1l1.6 .2l.1 .9l1.5-.5l.8-.1l1.5 0l.8-.2l1.2-.1l.3 0l1 .1l1.3 .2l1.1 .1l1.5 .3l.2 .3l1.5-.1l1.4-.1l.1 .1l1.6-.4l.3-.3l1.3 .3l1.9-.3l.5-.1l1.4 .2l1 .8l.3 0l.4 0l1.2-.4l2.2 .6l.6-.7l-.1-.1l1.9 .1l1.5 0l.4 0l1.1 .1l1.4 .1l1.3-.3l-1 .2l2.9-.3l0-.1l1.3 .5l1.5 .4l.2 .1l.6-.5l1.2 .4l1.4-.6l.2-.3l1.9 .6l1-.2l1.5 .2l0 0l.9-.5l1.7 .9l1.1-.1l.9 .1l1.3-.4l.5 0l1.5-.2l.9-.4l.2-.4l.9 .7l1.2 .3l1.4 .2l.3-.2l2.3 .7l-.2-.2l1.7 0l.7-.7l1.6 .3l1-.1l.4 .3l2.1 .6l.5-1.2l1.1 .2l.6-.2l1.1 0l.8 .2l.6-.3l1.2 .5l1.4 .4l.3-.3l1.1-.8l1.4 .9l1.2-.3l1.5 .2l.9 .3l.4-.1l.4 .2l1.3-.1l1.4 .2l.4-.7l1.9 .3l1-.5l.9 .2l1.3-.1l.4 .5l.7-.1l1.3 .4" stroke="#33eeff"/>
<path d="M125.5 91.5l-.3-1.8l1.9 .8l.7 .9l1.7 3.1l.4 2.8l.5 3l1.8 4.1l.4 3.7l.8 5.5l2.3 4.4l.6 5.7l1.4 5.6l0 5.4l1.6 5.5l0 6.3l1.7 5.5l1.9 6.8l.3 5.1l1.4 5.8l.5 5.6l.5 4.9l1.4 5l1.3 5.2l-.1 4.1l1.6 4.3l1 5.2l1.5 4.5l.5 4.8l1.9 5.3l0 5.9l1.3 5.8l1.1 4.8l1 5.9l.5 6.8l1.1 5.1l.9 4.9l1.9 5l0 5.4l2 5l.1 5.7l1.2 6.1l1.3 6l1.1 6.1l.5 5.2l2.1 6.4l-.1 6.8l2.3 5.6l-.2 5.7l1.1 5.6l1.2 4.1l1.1 5l1.3 5.4l.1 4.6l1.3 5.2l1.1 3.3l.9 5.3l1 4.8l1.1 4.5l.6 5.2l1.6 4.9l.2 5.3l2 3.6l0 3.1l1.9 2.4l.7 2.2l1.1 3.1l.4 2.7l1.8 3.6l.8 2.8l.8 1.9l1.2 2.3l.6 2.9l1.6 1.8l-.1 2.7l1.3 2.4l1.8 .6l.8 4l.3 3.2l2 3.2l.6 3.2l.7 4.1l1.3 3.5l.9 2.3l.9 2.4l1.1 2.8l.7-6.1l1.4-5.4l.5-7.2l1.7-7.2l.4-5.3l1.9-4.9l-.1-5.7l1-5.1l2.2-4.8l-.5-5l1.9-6.5l1.7-5.5l.1-6.7l1.4-6.1l.4-6.4l1.4-6l.5-5.1l1-5.1l.9-5.2l1 5.9l1.5 5l.9 4l1.1 4.2l1.1 3.8l.6 2l1.8 3.5l.7 5l.7-.6l.8-4.4l1-2.9l1.1-1.6l1.5 1.2l1.1 5.3l.5 4.9l.4 2l1.8 .7l1.1 .8l1.1 2.1l.3 2.6l1.7 2.6l.6 2.2l1-3l1.7-.5l.5 16l1.5 15.8l.9 15.2l.1 6.5l1.5 6.7l1.5-.9l.6-.7l.5 7.7l2 6.7l.7 4.1l.8 4.1l.6 4.4l1.4 6.7l1.1 6.9l.3 6.2l1.4 3.2l.9 1.4l1.3-4.5l1.2-4l.6-2.9l1.5-4.6l.4-4.4l1.5-4.8l1-4.5l.3-3.1l1.3-3.3l1.6-2.7l.2-2.2l1.5-2.9l1-1.1l.8 3.6l2 3.1l-1.1 1.7l2.1 3.5l1 .7l1 1.1l.2 1.7l1.5 2.4l1.6 .6l.4-1.3l1-1.3l.5 1l1.8 2.3l.7 .5l1.2 .2l.8 .2l1.8 .9l.1 .7l1.3-1.3l1.2-2.9l.4-1.7l1.9 1.1l1.3 2.4l.1 1.8l.8 1.9l1.3-1.1l.8-.4l1.8 .4l.9-1.1l.3-1.7l1.6-1.1l1.1 1.6l.7 .3l.7 .6l1.1 .1l1 .4l1.1-1.9l1-1.2l1-.2l.4-.4l1.7 2.2l.7 1.2l1.8 .8l.5 .3l.2 1.5l2.2 1.9l.6 2.1l1.1 2.8l.4 .7l1.2 1.3l1.9 3.6l-.1 3.2l1.1 1.9l1.1 1.8l1.1 3.2l.9 1.7l1.9 2.2l.3 3.6l.8 2l1.1-2.2l.8-1.7l.3-2l1.4-2.6l1-2.2l2.2-.9l.4-.8l.8-1.7l1.5-3l.8-3.3l.8-3.9l2-3.5l.6-4.2l.6-3.8l1.2-3.4l.7-3.8l2.1-4.2l.4-3.6l1.2-4l.5-3.8l.6-2.9l1.3-4.3l1-3.1l1.4-3.1l0-5.1l1.8-3.7l.5-4.9l1.3-5.3l1.3-6.7l.5-5.3l1.4-7l-.2-6.9l1.7-3.6l.5-4.4l2.1-2.6l.9 5.7l.3 4.9l1.4 7.8l.7 8l1.8 8.7l.9 7.6l.4 6.5l1.3 7.1l1.1 8.1l.8 7.3l.9 7.5l1.5 9.8l.6 10.4l.6 9.2l2.1 5.7l-.5 6.1l1.7 5.1l.7 1.4l1.1 2l1.3 2.5l.5-2.1l1.5-3.1l1.5-2.8l.5-2l1.3-2l.8 .2l1 2.3l.8 2.9l1.1 5.1l.4 8.3l1.5 11.5l1.1 9.8l.5 7l1.6 4l.4 .3l1.6-.4l1-.4l1 .2l1.1 .1l.6-1.2l1.2 .5l1-.9l1.6-.3l.3 .5l1.1 .2l.7-.9l1.3-.1l.8-.7l1.4 1.3l0-.9l2.2-.5l.7 .4l.7 1.5l.7 .8l1 .1l1.3-.3l.8-.2l.8 1l1.8-.2l1.2 .4l.7-.2l.7 .6l1.6 .2l.1 .6l1.9 .4l.9 1.8l1.1-.2l0 .6l2.5 .5l-.3 .6l1 .2l1.7 1.3l.9 1.1l1.1 1.7l.6 .1l1.4 .9l.7 .6l1.2 1.9l1.2 1.4l.7 1.1l1 1l1.3 2.2l-.1 .9l1.4-2.6l1.2-2.6l1.1-1.3l1.2-.5l1 .9l1.4 1.1l.7 .1l.6 1.5l1.8 .9l.8 1l.8 .9l.9 .5l1.5 .3l0 1.2l1.2-2.6l.8-1.2l1-.8l1.9-.3l.8-.9l1.1-2.3l-.3-3.3l1.3-2.4l1.3-1.6l.1-2.1l2.4-2.6l.5-2.9l.7-1.1l1.8-.3l1.4-.1l.4 1.2l1.4-.5l1-.7l.4-.2l1 .7l1.5 1.1l.4 0l.6 .1l1.3 .5l1.2 2.1l1.4 3l.2 3.7l1.4 2.9l1.4 3.1l1.7 2.6l-.3 2.6l1.6-1.4l.8-2.5l1-2.4l.4-1.1l1.5-1.9l.8-.5l1.6-.7l.3-.8l1.2-1.8l1.9-1l.3 .2l.9 .5l1.1-.1l1.5-.9l.3-.9l1.4-.6l.9-.6l.6-.6l1.1 .6l1.2-.7l-.1-.2l2.1-.3l1.1-1.2l.7 0l2-1l.5 .2l-.2-.2l1.7-.1l1 .1l1.9-.9l.4-.4l1.4 .5l.5-.3l1.3 .1l.5 .1l1.7-.3l.3-.1l.6-.3l2.1 0l0 .4l.7 .6l1.3-.5l1.6 0l1 .4l1.6 .5l-.1-.5l1.1-.4l1.5 .8l1 .8l.5 .6l.9-.5l1.7 0l.7 .8l.6 1.2l1.7 0l.6-1l1.1-.1l1.2 .6l.7 .1l.7 .2l1-.6l1-.8l.6 .4l2.1 .5l.8-.1l.5 .4l.2 0l2.2 .1l1.1-.5l1-.1l.7-.4l1.2 .4l1.2-.7l.9-.5l.7 .6l1.2-.3l.6 .8l2-.1l-.2 .4l1.3-.1l1.4 .3l2-.7l-.3-.8l1.6-.5l.4 0l.9 .2l1.1 .1l1.2 .3l.7 1l1-.8l.4-.8l1.4-.3l1.3 .1l.8-.4l1.4-.1l1.2-.6l.7-.2l.7-.6l1.2-.3l1.5 0l.6 .4l.4-.1l1.8-1l1-.8l.8-.2l1.4-.9l.5-.9l.4-.4l1.7 .1l.9-.1l1.7-1l0 .6l1.8-.6l1-.1l.8 0l1.2-1.1l1.1-1.3l1.2-.3l.8 .1l.7-1l.6-.7l1.2 .2l.3-.7l1.9-.3l1-.7l.9-.3l.7-.4l1-.2l1.4-.8l.6-.4l.5-.2l1.6-1l.5 0l1.7-1.3l.7-.4l1.1-.5l.7-.5l1.1 .5l1.8-.3l.5-.6l.5-.1l1.5-.4l1.8 0l.4-.1l.9-1.9l1.1-.3l.4-1.2l1.1-.6l1.7-.3l1-.2l.9-1l1.3 .2l.3-1.7l1.2 .7l1.3 .1l1.1-.9l.2-.4l1.6-1.8l.4-1.2l1.4-1l.3-2l2.2-3.6l-.2-3.7l1.7-4.7l1.2-4.4l.6-4.6l1-2.4l1.7 4.4l-.2 3.7l1.8 0l.5-.3l1.8 .1l.5-1.5l1-1.3l1.2-1.4l1.3-1.8l.9-2.3l.6-2.4l.9-2.6l1.2-7.2l1.5-7.4l0-7l1.4-5.7l.7 .6l1.5 7.2l1.3 5.5l.6 3l1.2 3.9l.6 3.5l2.2 3l-.1 1.4l.9 .3l1.1 .4l1.2 1.7l.9 .6l.9 .8l1.1 .6l.9-.6l.3 0l1.3-2l1.3-1.7l1.2-1.5l1.3-1.3l1.4-2.9l.4-1.2l1.6-3l.2-3.5l1.2-3.7l0-3.1l2-2.1l.6-3.2l1.1-3.9l1.2-3.3l.7-3l1-3.5l1.4-3.9l.7-4.1l1.4-3.4l.5-3.9l1.7-3.4l.5-3.5l1-3.6l1.3-3.9l.6-3.2l1.2-3.6l.8-3.8l1.5-4.2l.5-3.1l1.1-3.4l.5-4l2-3.8l.1-3.8l.7-3.1l1.2-3.1l1.5-3.2l.9-3.2l1.1-3.9l1-3.6l1-3.9l1-4l1.2-3.1l.3-4.2l1.5-4l1.1-2.5l.5-2.9l1.7-3.4l.5-3.2l1.3-3.6l1.2-2.7l.8-2.9l.9-3.1l.8-2.8l1-2l2.2-2.1l-.1-3l1-2.4l2-3.3l0-.7l1.4-1.2l.5-.1l.7-1.6l2-1l.6-1.1l-.1-.2l2.2-.2l1.1-.8l1.1 .1l.7 .2l.9 .6l1 .4l1.3 .1l0 .5l1.4-.1l1.3 .7l.5-.2l1.3 .7l1 .3l1.2 1.3l.8 .4l.3 1.1l1.6 1l.8 .7l1.7 1.1l.2 1.5l1.2 .5l1.4 1.5l1.2 1l.2 1.2l1.6 .8l1.4 2.1l-.2 2l2.5 1.6l.3 3l1.9 1.7l.3 2l.6 3.4l1.3 2.8l.4 3.6l1.5 3.3l1.3 3l.8 3.7l.4 3.2l1.6 3.5l.6 3.3l1.7 4.4l0 3l1.4 3.7l1.5 2.5l.7 3.2l1.1 3.7l.5 3.2l1.3 3.7l.2 3.5l1.6 3.6l1.3 3.5l1 3.1l.7 3.5l1.4 2.7l.5 3.9l1.2 3.3l1.6 2.7l1.2 3.4l.4 3.2l1.7 3.1l.5 3.3l.4 3.7l1.3 3.6l1.6 3.6l.1 3l2.3 3.4l.3 2.7l1 3.9l.4 3.8l1.6 3.4l.8 2.7l1.3 3.4l.9 3.1l.7 3.2l1.3 3.1l.8 3.3l1.5 4.4l.6 2.3l1 2.9l.8 2.8l1.1 3.2l1 3.3l1.1 3.4l.5 3.5l2.1 3.2l.1 3.3l.8 3.5l1.6 3.5l.9 2.9l.5 3.9l1.7 2.9l.9 3.6l.3 2.9l1.5 3.4l1.2 2.7l.8 3.6l.5 2.5l1.9 2.4l.1 1.5l1.7 1.8l.7 2.7l1.3 2.6l1.2 1.5l.8 1l1.2 1.6l-.3 .7l2.3 .6l0 1.2l2.3 .8l-.1 1.3l1.2 .4l1.5 .3l1.1 0l0 .1l1.7 0l.8 .1l1.2 0l.7-.6l.5 0l1.6 .3l1.6 .1l.3 .1l1.7-.4l.4 .7l.4-.5l1.8-.3l1.1 0l1.3 .3l.6-.1l1.1-.4l.9 .5l.4-.3l1.3 .7l1.2 0l.7 0l1.1-.5l.4 .1l1.9 .2l1-.1l.8 .4l.5 .3l1.5-.4l.7-.6l1.6 .8l.5-.7l1.8-.1l.4 .8l1.1-.2l1.5-.1l1.1-.1l.4-.5l.8 .6l1.4-.2l1.2-.2l.8 .9l-.2-.7l2.7 0l-.2 .1l1.4-.3l.3 .3l1.3-.2l.7-.2l2.2 .1l.5 .3l1.2 .3l1-.1l1.3 .4l.9-.4l.8 .4l1 0l.6 .4l.7-.8l2.4-.1l.2 .7l1-.1l1.5 0l.1 0l1.3-.2l.6-.4l.9 .3l2.3-.6l.5-.1l.5-.2l1 .5l.9 .3l1.5 .4l1.5-.6l.2-.6l1.5 .3l.2 .4l1 .2l1.4 .7l1.5-.4l.4-.2l1.2 .8l.8-.1l.8 .2l1.9-.2l.6-.4l1.9-.3l-.5-.5l1.1 .5l1.7-.5l1 .3l1.7 .1l-.5 0l1.1 .2l1-.1l.6 .1l1.3 0l1.7-.1l.8 .5l1.3-.4l.1-.3l1.4 0l1.6 .5l.6-.1l.5-.2l2 .7l.2-.2l1.1-.1l1.3-.6l1.2 .2l1 .3l1.6-.1l.1 0l.6-.3l1.5 .6l.3-.2l1.3 .3l1.6 .1l.7-.6" stroke="#8b0000"/>
<path d="M125.5 120.5l.6 1.4l0 1.1l2.2 1.1l.9 4.2l.5 5l1.8 3.4l.9 4.7l.7 4.8l.8 4.3l1.4 3.6l.1 2.7l2.2 4l1 3.2l1 3.3l.8 4.3l.8 4l.2 4.2l1.1 3.8l1.5 4.3l.9 6l1.1 5.1l1.1 6.3l.3 5l2.2 6.5l.9 6.4l0 6l1.2 6.5l1.5 5.7l.9 7l.6 6.7l1.7 5.5l1.1 4.7l.2 6.3l1 5.1l1.4 5.8l.7 4.8l.9 4.1l1.8 4.2l.7 4.8l.3 5.5l1.3 5l1.4 5.1l1.1 6l1 5.6l1.6 6.8l.4 7.3l.7 5.5l.7 5.8l1.1 4.8l.9 3.9l1 4.8l1.5 3.3l1.4 3.7l.6 3.6l1 3.3l.6 4.6l1.2 4.7l1.2 5.9l1.1 4.2l.7 4.4l1.6 4.2l-.1 3.7l2 3.2l.4 3.4l1.8 3.3l.6 3.6l1.1 3.1l.6 3.2l1.6 2.3l.8 2.7l1.2 2.5l.4 1.7l.5 1.3l2 .3l.7 1.2l.6 .7l1.1 .5l.8 .2l1.3-1.2l1.5-1l.6-.9l.7 .3l.8-.3l1.7 .3l1-.2l1-9.5l1.5-9.6l.4-9.7l.6-9l1.2-5.9l1-5.5l1.1-5.7l.9-5.3l.8-6.2l1-5.2l.7-8.1l1.1-8.1l1-8.4l.9-7.3l1.4-7.3l.6-7.6l1.4-8.4l1-7.1l1-6.5l1.1 7.8l.2 8.1l1.9 5.3l.9 2.6l.4 6.6l1.9 9.3l.7 5.9l.4 .2l1.9-.4l.8-2.3l.9-3.5l.9-2.3l1.4 3.2l.8 3l.9 1.6l.7 2.2l1.1 2.4l1.4 5l.5 2.2l1-2.3l1.4 1.1l1.1 3.6l.4 1.3l1.2 4.5l.8 20.3l1.5 20.4l1.3 18.9l.9 3.3l.3 1.6l1.3-9.8l.9-7.9l1.6 8.3l.3 8.7l1 8.6l.9 3.6l1.6 3.3l1.5 5.3l1.3 8l.4 5.9l.8-.1l1 1.1l1-3.7l0-3.9l1.7-4.5l1-1.5l1-3.5l1.3-3.2l.8-3l1.5-2.4l1.1-4.9l1-6l.3-2.8l1.7-2.2l.9-2l1.3 2.9l.3 2.8l1.2 3.2l.6 3.1l1.9 .7l-.1 1.1l.9 3.5l1.7 3.3l.9 1.4l.7-.8l1.5 .9l.2 3l1.8 1.4l.4-1.8l1.2-1.8l.1-2l1.7-2.4l.6-1.1l1.5-.7l1.8 2.2l.9 1.8l.7 1.9l1.1 .2l.2 .8l.3 .9l2.6-1.2l.4-1.9l.9-1.2l.7-2.4l1-.5l1-1.7l1.4-1.2l.5 .3l1.9 .3l1.1-.9l.6-2.6l1.7-3.4l.4-2l.8-1.9l.2-1.5l1.5-2.5l1.2-1.7l.8 3.8l1.6 2.6l.3 2.4l2 4.4l0 5.1l1.9 4.1l.6 3.1l.2 3.3l1.9 4.3l1.3 5.6l.6 4.1l1 2.1l1.2 1.4l.9 2.7l1.4 3l.9 2l.5 1.6l1.4-2.4l.6-2l.6-3.3l1.3-3.3l1.4-3.8l.7-3.4l1.2-4.7l1.2-4.3l1.1-4.8l.4-6.3l.5-10.2l1.8-8.7l.1-9.5l1.1-10.5l2.1-9.6l-.1-9.3l1.6-11.5l.9-5.6l.5-4.3l2.2-3.8l.8-4.9l1-2.6l.3-3.2l1.4-3.1l1-1.2l1.3-.8l0-.7l1.4 .7l1.7 1l.2 .8l1.4-1.1l1.3-1.2l.8-.7l.4-.4l1.3 .1l1.4 .5l.2 1.8l1.9 2l.9 1.2l.4 2.7l1.9 2.7l.7 3.3l.9 8.8l1 7.8l1.6 23.4l-.8 17.8l1.7 13.7l1.5 11.8l1 9.5l.8 10.3l.7 10.1l2.2 9.4l-.2 9.2l.8 5.6l2.1 1.3l.8-2.6l1.1-1.9l.7-1.7l.3-2.1l1.9-.9l.6-2l.9 2.1l.9 5.2l1.1 11l1.4 11.6l.9 13.3l.6 11.5l1.2 7.8l1.4 3.2l1.4 1.5l.5 .6l1.2 1.5l1.1 .4l.3 .6l1.2 .8l1.3 1.2l.4 0l1.6 1l.7 .5l.9 .2l1.1 .8l1 .7l1 .7l1.5-.6l.8 1.7l-.1 .2l1.9 .4l.5 .6l2.1-.2l.6 .7l.6 .2l1 .7l1.6 .1l.5-.6l1.1 .2l1.1-.1l.3 1.4l1.1 1.9l1.9 .8l1.3 0l0 .2l1.2 .5l1.5 0l.3 .7l1.3 1.7l.3-.1l1.3 .5l1.2 .6l1.1 .6l1.5 .2l.8 1.2l.1 1.7l1.2 .4l2.4 .5l.1 .6l1.7 2.2l.2 2.6l1.3 2.5l.4-2.5l1.2-1.7l.6-2.2l1.2-2.9l1.3 .1l.6 2.2l1.2 2.4l1.7 1.4l.3 1.5l1.5 1.7l.9 .8l.9 .9l.6 1.6l1 1.3l1.2-2.8l1.2-3.5l1.2-1.5l.2-1.3l1.7-1.4l.4-2l1.5-2.4l.7-3l2.5-2.7l-.3-1.6l1.3-1.5l1.1-1.2l.8-.9l1-.6l.7 .1l.9-.5l1.3 .3l1.6-.1l.3-.7l.7-1.1l2.1 2.1l.2 1.7l1 2.3l.6 1.3l1.2 .8l.6 .7l1.3 3.9l2 3.5l.1 2.5l1.5 1.8l.4 2.8l1.4-1.1l.8-1.9l1.2-2.3l.7-1.3l1.7-1.7l.6-1.4l1.4-.2l.5-.5l1.2-.8l.6-1.5l1-.5l1.3-.3l.6-.8l1-.3l2 0l.1-1l1.6-.3l.9 0l.7-.7l1.4-.3l.7-.6l1.1-1l.1 .1l2.1-.3l.3-.5l1.3-.6l.7-.8l1.4-.1l.8-.1l.7-.2l1.2-.3l1.1 .7l1.1 .4l.7-1l1.2-.6l1.5 .1l-.1-.1l2.5 .4l.5-.6l1.4 .5l.8 .2l.6 .3l1-.5l1.3-.1l.4 .5l1.5-.1l-.1-.1l2.2 .2l.6 .8l.9 .1l.9-.5l.3 .4l1.8-.3l1.3 .8l1 .3l1.1 .6l.1-.6l1.7-.1l.2 .3l1.2 0l1.6-.6l.5 .2l1.5 .6l1 .7l.5 .1l2.2-.7l-.3-.7l1.2-.3l.8-.1l1.4 .6l.8 .4l1 .4l2.2 .5l.4-.3l1.3 0l.5-.8l1.9-.8l.7 .3l.3 .6l1.6 .1l.4 0l.6-.2l.4-.3l1.3 .5l1.8 .3l.8-.4l.9 0l1.3-.3l1.4 .1l.4 .2l1.5 .5l.9-.6l.8 .2l1.1-.9l1 .7l.6-.6l.8-.2l2.1-.9l0-.5l1.1-.3l1.3-.4l.6-.5l1 .3l1.3-.9l.7-.1l1.1-.1l.6 .2l1.8-.2l.8-.9l.7 .5l1.7-1.2l1.6 .2l.3-.4l.8-.8l1 .2l1.3-.2l-.1 0l2.3-.2l.1-.1l1.7-.6l.4-.9l1.4-.5l.6-.2l1.1-1.1l1.4-.6l.9 0l.1 .6l2 .1l1-.1l.5 .3l1.3-.8l.5-.4l1.2 0l2-.5l.3-.1l.9-.4l.8-1.1l1.6-.3l.4-1.5l1.1 .7l1.3-.9l1.6-.3l-.3-.2l2.3-1.2l.1-.3l1.9-.9l0-.8l1.6-1.2l.6-.5l.6 0l2.9 0l-.5-.6l.7-.5l.9-.6l1.3-.8l1.4-1.7l.5-1.1l1.3-1.2l.9-2.2l1.2-1l.6-.9l1.9-2.8l.2-2.9l1.7-4.2l.6-4.4l.7-4.3l.8-.7l.8 2.8l1.6 1.6l1.2-1.6l1.1-.6l.1-.8l2-2.6l.9-1.3l-.1-1.1l1.9-4.1l.7-4l.9-2.9l1.4-3.1l1.2-8.3l1.1-8.5l.6-6.8l1-5.2l1 .2l1.4 5.9l.3 3.8l.8 2.8l.9 2.9l1.3 1.8l1 1.2l1.5 3l.8 .1l1.2 .2l.7 .3l1.2 .9l1 1.7l1-.1l.1-.6l1.5-.2l2.1-2.5l.1-.6l.5-.8l2.3-2.4l-.2-1.4l2.1-1.4l.7-3.1l.7-3.7l.5-2.9l1.6-2.8l-.1-3.2l1.6-3.2l1.2-2.8l1.1-2.2l.8-3l1.7-3l.8-3.5l.2-3.9l1.8-2.9l.8-4.4l.6-3.7l1.4-2.7l1.3-3.5l-.1-3.7l1.3-4.8l2.2-3.3l.3-3.6l1.2-3.7l-.1-2.8l1.8-3.3l1.8-5l.5-3.9l1-4.1l.9-3.1l1.7-3.9l-.8-3.7l1.3-3.1l1.7-3.2l1.4-3.7l.6-3.3l.9-4l1.1-3.4l1.1-4.6l.6-4.3l1.4-3.9l.9-4.1l.6-3.4l1.4-2.6l.4-4l1.5-4.3l1.7-3.7l-.4-3.5l1.7-4.2l1.1-3.3l1.5-2.2l.6-2.3l1.1-2.8l.8-2.1l.8-2.9l.7-2.3l1.1-1.1l.8-1.3l1.7-1.4l.3-.8l1.4-1l1.3-1.2l1.4-.8l0-1l1-.7l1.5 .8l.3-.4l2.2-.4l.3 .2l1.1-.1l1.1 .8l.9-.2l1.2 .2l1.3 .8l.4 .2l.7 0l1.6 .4l.3 .4l2.1 1.3l0 1l1.1 .9l1.9 .9l-.1 1.2l2.4 1.1l.1 1.1l.7 1.6l1.7 .7l.4 .8l.8 2l1.3 2.3l1.2 2.7l.3 3l1.3 2.9l.6 3l1.8 2.8l1.1 4.1l.6 3.4l2.1 3.1l-.1 3.1l2 4.3l.2 4.5l.5 3.7l1.3 4.5l1.5 3.1l.8 3.5l.7 4.2l.4 3.2l1.8 3.7l2 3.3l-.4 4l1.1 3.9l.8 2.9l.6 3.9l2.2 4.5l.4 3.1l.6 3.6l1.3 3.6l.9 4.1l1.1 4.1l1.6 3.4l1.2 3.7l.1 3.9l1.4 3.1l1.1 3.4l.8 4.1l.3 3.9l1.9 3.6l.8 4.1l1.5 3.4l1 3.8l1.3 3.3l.5 3.3l1 3.3l1.3 3.9l.1 3.4l1.2 3.4l1 3.5l1.4 3.6l.1 3.4l2.3 4.1l1 3.2l.6 3.1l.5 3l.2 4.6l2.7 3.1l.9 4.1l1 4.5l1 3.4l.5 3.2l1.4 4l.5 2.6l1.3 4.3l.8 4l.8 3.7l2 3.5l-.1 3.1l1.1 4.3l1.5 3l1.5 2.2l.1 1.7l1 3.4l1.7 2.5l.4 2.6l1.7 1.8l.9 1.6l.5 1.4l.7 1.1l1 .4l1.6 .6l.9 .5l1.2 .7l.4 .7l.7 1.1l1.4 .8l1 0l1.3 0l1.2-.4l.8 .3l.6-.4l.7 .2l1.4-.4l.8 .2l1.5 0l.6-.2l.8 .7l.7 .1l1.3 .4l.8 .3l1.7-.3l.9-.2l1.8-.3l.2 .2l.3-.2l1.9 .3l.7-.3l1.2 .2l1.5-.1l.7-.3l1.4 .3l.3 0l.9 .5l1.4 .4l0-.6l2.2-.5l1.1-.5l.6 .2l1 1l1 .1l1-.5l.9-.1l1.1-.1l.2-.5l1.4-.2l1.7 .5l.4 .4l2-.2l.1 .4l1.1 .3l1.2-1.1l0 .1l1.4 .1l1.5 .5l.2 .2l1.4-.2l1.6-.6l.7 0l.6 .1l1.7 .4l.6 .2l1.6-.4l.8 .3l.1-.8l1.9 .6l.1 .1l1.5 .5l.6-.2l1.3 .1l1.4-.5l1.2 .4l.2-.8l1.2 .4l1.4-.2l.7-.1l1.5 .2l1 .2l.3 1.2l.5-.9l1.6 0l1.7-.2l.2-.1l1.4-.2l.7 .1l.9 .1l2 .2l.2 .3l1.1-.6l.8 .3l1.6 .2l.4 .3l2.1-.2l.1-.1l.8-.6l1.4 .3l.4 .3l.5-.8l2 .4l.6 .3l.5 0l1.6-.6l1.6-.2l.1 .4l1.6 .1l.6-.3l.8 .2l1.6-.1l.7 .1l1.5-.1l-.1 .8l.4-.2l2-.5l.9-.4l1.2 .2l1.2 .2l.4 .6l2.2-.6l.3 .2l1.6 0l1 .3l.2 .3l1.2-.2l1.4-.3l1.6 .5l.1-.4" stroke="#4400ee"/>
<path d="M125.5 94.4l1-.1l-.2 0l1.5 2.2l1.5 4.5l1.9 3.9l-.8 4l1.6 4l1.3 4.5l.5 4.3l1.4 5.5l1.1 5.2l.3 4.4l2 5.5l1 4.7l.4 4.7l.7 5.3l.6 6l1.4 5.6l1 5.5l1.1 6.3l.5 6.2l2.3 5.1l.2 5.1l1.4 5.9l1.1 5l.3 4.6l1.8 5l.4 4.2l.9 4.8l1.3 5.7l.9 5.3l1.2 5.9l.8 6.6l1.1 7.2l0 6l1.6 5.9l1.1 5.6l1.3 6.1l.7 4.8l.5 4.7l1.8 4.9l1.3 5.3l.8 4.8l.7 4.8l.9 4.4l1.1 5l1.8 5.5l.9 5.2l-.1 4.5l1.2 4l1.5 4.8l.8 5l1.4 5.1l1 5.1l.5 4.9l1.5 5.4l.7 5.1l1.6 5l.5 4.8l1.6 5.7l-.5 4.9l1.9 3.9l1.3 3.7l1.3 3.1l1.1 3.6l.2 2.6l1 2.3l.9 3.1l1.4 2.9l.1 3.2l1.3 2.1l1.3 2.2l.7 1.9l1.3 1l1 1.1l1.3-2.9l1.2 2.1l.3 2.5l1.4 1.1l.8 1.6l1.2 .9l1 1.5l.4 1.8l1.6 1.2l.9 1.8l.6-9.3l.7-10.3l1.8-9.4l.8-9.7l.2-5.8l2-5.1l1-6.1l.3-5.2l1.9-5.7l.4-5.6l1.2-8.3l.9-8.1l1.1-7.9l1.5-8.4l.7-8.8l1.1-8.6l.2-7.8l.8-6.4l1.9-7.9l.2 7.1l1.8 8.6l1.1 8.3l1.6 3.2l.3-3.1l.7-.1l1.1 1.4l1 5.4l1.2 7.5l1.2 2.8l.1-.1l1.6 .6l1.5 1.1l1 2.3l1.2 .8l.5 .7l1 1.7l.6 3.2l.7 3.7l1.2 3.3l1 3.2l1 5.7l.9 5.3l1.2 4.1l.8 17.6l1.4 16.5l1.4 17.9l.4 6.5l1.1 7.2l.7-1.9l1.6-.9l.5 9.9l1.6 7.1l.9 7.9l.2 6.8l1.7 5.4l1.2 6.3l.6 4.5l1 5l1.3 2.2l.7 1.9l1.4-3.2l.7-3.4l1.1-4.4l1.2-3.6l.1-2.2l1.2-4.2l1.8-3.4l.9-3.1l.5-4.4l1.1-5.6l.8-2.9l1.7-1.1l.6-1l.8 3.6l1.6 3.5l.3 1.7l1.1 1.1l1.5 .2l1.2 1.3l.7 1.9l.8 2.8l.9 2.7l.7 1.2l1.2 .7l1.2 1.3l.6 .1l1.1-1.9l1.5-.8l.4-.9l1.6-1.7l0-.9l2.3 0l-.1 1.1l.9 .3l2.1 .4l-.1-.6l.9 1.1l2.1 1.6l.9-1.8l.8-1.6l1.5 .3l.3-.4l1-1.3l1-2l1-1.1l1.3-1.1l.4-.8l1.4 .7l.9 2.1l.9-1.6l1.7-2.2l-.1-1.5l1.6-.9l.3-1.6l1.2-1.2l.9 1.3l1.6 1.2l1.5 1.8l-.1 3l1.9 3.3l.8 3.6l1.1 3.3l1 2.6l.9 3.4l1.2 4.4l.4 3.6l.9 2l1.2 2l2 1.1l.7 2.4l.8 2.6l1.3 .7l.3-3.1l1.3-2.9l1.2-2.8l.6-3.6l1-2.5l.4-3.7l1.6-6l1.2-4l.9-2.9l1.6-4.2l.6-7.5l.8-6.7l.5-6.7l1.3-7.4l.7-6.7l2-7.4l-.5-8l2.2-3.4l1-2.9l1-5.3l.8-5.4l.6-4l1.4-3.5l.3-4.2l1.5-3.5l.7-2.3l1.3-3.2l1.2-.8l.7-2l1.3-2.2l.8-2.5l1.5-3.8l.3-2.2l1.3-1.1l1-1.1l.9 1.4l1.1 2.3l1.4 5.3l-.1 5.1l1.2 6.3l1.4 7.1l1.1 6.6l1.1 8.7l.8 8.5l1.5 16.6l.6 13.9l1 10.2l.9 9.4l.5 8.5l1.7 8.6l.7 7.9l.9 7.7l1.3 5.8l2.3 4l-1.1 1.7l2.2-2.8l.1-2.8l1.8-1.3l1-1.3l.3-1.7l1.3-.7l1 2.2l1.4 3.9l.9 7.5l1 10.3l1.3 12.6l.7 10.3l.4 7.5l1.1 3.5l1 .2l2.1 .8l.1 .9l.2 1.1l1.4-.4l1.3-.1l1.3 .5l1.8 .1l.4 .6l1.2 .3l.1 2.1l1.7-.5l.1 1l1.7 .4l.5-.7l1.6-.4l.9 1.8l.8-1.2l.7 .9l1.1 1.2l1 .4l1.6-.4l.5 1.2l1.2 .4l1.2-.5l.8-.5l1.1 1l.4 .4l1.2 .5l1.4 .6l1.1 .9l1.3 .6l.7 .4l.7 .1l1.2-.8l1.6 1.1l.2-.4l1.3 .5l.7 1.2l.5 .9l1.3 1.1l1.5 .4l-.2 .8l2.2 1.7l-.1 .9l1.3 1.4l1.7 .5l.1 1.8l2 1.7l1.1-1.4l-.2-2.8l2.1-1.7l1.5-2.2l.3 1.6l1.3 .7l1.2 .7l.6 1.5l.6 1.2l1.7 1.3l.7 .4l.5 .8l1.6 1.9l.8 2.5l.3-.9l1.4-1.9l1.6-2.1l-.2-2.6l2.4-2l.8-1.7l.5-1.6l1.5-1.2l.4-2.2l.9-2.9l.5-2.3l2.1-2.6l.9 0l.5 .5l1.6 .1l.9 .8l.8-1.4l2-1l-.2 .2l1.5 .6l1.3 1.2l.3 1.5l1.3 1.2l.8 1.1l1.4 1.6l.3 .8l1.9 3.1l0 3l1.5 2.6l-.1 3l2.1 2.6l.4-2.4l1.2-2.3l1.2-2.6l1.7-1.3l.3 .1l.8-.3l1.3-.9l.7-1.5l1-1.1l1.8-1.4l.4 .3l1.5-.3l.7-.3l1.1-1.5l1.8-.8l.6 0l.7 0l.9-.9l1.3 0l.8-.5l1.4 0l-.5-.5l1.5-.6l1.7-.7l.9-1.1l1.2 .4l.7-.2l1.4-.1l0 .3l2.1 0l.5-.3l1.1-.4l.9-.8l.6 .3l.4-.3l1.6 0l1.7-.2l1 .7l.6 .2l1.7-.3l.4 .8l.9-.5l.9-.5l-.1 .5l1.9 .5l1.8 .8l.4 .2l1.4-.6l.6 .7l.9-.1l1.2 .4l1.4-.3l-.3 .2l1.9 1l1.3-.5l.6 .3l1.6 .6l-.2-.3l1.4-.1l.7 .6l1.1 0l1.2-.3l2.4-.6l-.4-.5l1.6 .2l1.3-.2l-.1 .4l1.2 .4l2.3-.2l.8 .1l-.6 .5l1.7-.3l.4 .1l1.9 .4l1.1-.5l.5 0l1 .1l1.2 .2l1.2 .6l.4-1l1.5 0l.9 .4l.7-.1l1.4 .3l1.1-.4l2.1-.1l-.5-.5l.3 .2l2-.5l1.1 .3l.3 0l1.5 .7l.4 0l1.5 0l.8-.6l1.5-.8l-.1-.7l1.8 .5l.6 .5l1.4-.9l.6 .3l1.8-.8l1-.7l.6-.2l.7 .2l1.3-.2l1-.3l1-.6l1-.4l.9-.7l.9-.2l1.2-.1l.3-.1l1.7 .2l.9-.9l.9-.7l1.7 0l1.1 .5l-.1-1l1-.1l1.7-.1l.9 0l2-.8l.1-.5l.1-.6l1.4-1.7l1.9-.2l.2-.5l1.2-.5l1.2 .6l1.2 .3l-.3-.2l1.4-1l1.4-.5l2-.2l0-1.1l1.4 .1l.8 .2l.8 0l1.3-.9l.7-1l2-.8l.7 1.1l.4-.7l1-.3l1-1l1.3-1.1l.8-.2l1.7-.7l.6 .6l.6-1l1.1-1l.6-.7l.9-.4l1.3-.9l.6-1.8l1.4-1.2l-.1-.8l2.6-.3l.8-2.1l.7-2l.8-3.4l2.1-2.2l-.3-3.7l1.3-3.7l.9-4.7l1.3-1.8l2 2.4l-.3 .6l1.2-.3l.9 .9l2-.2l.9-2.5l.5-2.6l.9-1.5l1.3-3.3l.1-3.6l2.1-3.7l.5-3l1.4-7.1l.6-8.4l.3-9.1l1.9-6.5l.8 .3l.5 7.6l2.1 4.1l.2 3.1l1.7 2.9l-.3 1.6l2.4 3.2l.3 2.4l1.2 1.3l.7 .7l1.3 .3l.9 3.7l.8 1l1-.7l1-1.3l1.1-.8l.8-.8l1.6-.7l.9-.9l.7-1.5l1.3-2.7l.2-3.5l1.4-2.9l.5-3.9l2.2-2.9l.3-3.2l1.6-3.1l.2-3l1.5-3l.5-4.4l1.7-3.7l.7-3.7l1.9-3.3l.5-3.3l.4-3.6l1-4.4l.4-2.9l1.4-4.1l1.1-3.7l1.4-3.5l1.2-3.3l.9-4.4l1-3.5l.6-3.9l1.5-3.6l.6-3.8l1.1-3.5l1.3-3.8l.5-2.4l1.3-3.7l1.7-3.3l.2-3.5l.9-3.3l1.4-4l.3-4.1l.8-4l.8-3.7l1.7-3.7l.9-3.4l1.1-3.8l.5-3.1l1-2.5l2.2-3.3l1.1-4.3l.1-2.5l1.5-3.1l.8-3.3l.4-2.7l1.2-2.3l1.4-3.1l.5-1.8l.8-2.6l1.8-2.2l.6-2.1l1.2-1.1l1-1l.8-1.3l1.3-1.3l.7-.5l1.6-.9l.7-1l.9-.5l1-.6l.8 1l1-.7l1.8-.5l.4 .6l.7 .6l2 .6l.1 .2l1.9 1l-.2 0l1 .9l1.9-.1l.6 .7l1.3 1.3l.8 .2l.9 1.2l.6 .8l1.6 .7l.8 .7l.8 1.5l.2 .4l1.9 1.1l.7 .2l1.6 1.8l0 2.6l1.8 2l1.2 2l.4 2.8l1.6 3.2l.6 2.2l1.4 3.7l.7 3.1l1.2 2.7l.5 2.8l1.6 3.6l.6 4l.9 3.5l1.2 3.7l1.2 3.8l1.3 3.9l.1 3l2.1 3.1l.1 3.6l1.4 3.8l1.2 2.8l.9 3.1l.8 4l.7 3.5l2.2 3.3l-.2 3.7l1.3 3.3l1.2 3.6l.7 4l1.6 3.4l-.2 2.9l2.3 3.1l.5 2.7l.8 3.7l1.2 3.6l1.8 3.8l.2 3.6l.5 3.3l1.3 3.6l.6 3.5l1.5 3.9l1.3 2.7l.2 3.7l1.2 3.8l1.2 3.4l.7 2.8l1.9 2.7l.1 3.7l1 2.7l1.3 3.7l1.3 3.1l.8 3.2l.7 3.7l.9 3.2l.8 3l2.1 2.9l.6 2.6l-.1 3.4l2.1 3.7l1.4 3.6l.9 2.9l.3 3.8l1.5 2.7l.5 2.9l1.3 3.3l1.3 3.7l1.3 3.4l.3 3.8l1.2 3.1l.9 3.2l1 2.7l.9 2.3l1.7 2.7l.2 1.6l1.4 1.8l.9 2.7l.4 2.1l2 .9l0-.1l1 1.4l1.2 1.9l2.1 .7l0 1.4l1.6 .4l.6 .4l.8 .8l1.4 .2l1-.1l.8 .4l.6 0l1.4-.2l1.8-.2l-.4 .9l1.9-.1l.5 .1l.8-.4l1.3-.4l.8 .5l1.5 0l.7 .2l1.3-.3l1 .2l.7 .6l.8-1l1.9-.4l.7 .1l.3 .2l1.6 0l.1 .7l1.5-1l.5 .6l1.8-.1l.9-.3l.6 0l1.4 .6l1.8 .6l.1-1l1.4 .2l.9 0l.3 .1l1.5-.3l1 .5l1-.5l.8 0l.6 .6l1.7-.2l.9-.5l.8-.2l1 .7l.4-.3l1.6 .1l1 .7l1.3-1l.8 .1l1.2 0l1.2 .5l.4 .8l1.2-.6l1.1 .2l.3 .1l1.6-.4l1 .5l1.1-.3l.5 .5l1-.5l1.4-.2l.9 .1l1.4-.2l1.1-.3l.4 .3l1.1 .3l1.2-.1l.5 0l1.1 .1l1.1-.6l1.3-.5l1.1 .4l1.4 0l-.3 .2l2.6 0l.3 .4l1.3-.5l.4 .2l1.3-.5l.4 .8l1.3-.1l1.6-.3l.7-.4l1.3 .4l-.3 .7l2.3-.5l1.2-.4l-.4 .5l2.4-.2l-.1-.2l1.6 .2l.5 .4l1.6 .6l1.2-.1l.4-.1l1.1-.7l1.5-.1l.7 .9l1.1 .1l.7-.1l.6-.4l1 .1l1.4-.2l1.9-.2l.5 0l.7-.3l1.8-.1l-.1 .2l1.3-.4l1.3-.1l1 .6l.2 .2l2.3-.1l0-.4l1.6 0l.3 .4l1.3 0l.3-.1l1.6-.4l.6 .5l1.5-.2l1 .6" stroke="#ee0000"/>
<path d="M125.5 111.1l1.1 1.1l-.1 .9l1.6 1.3l.7 3.8l.8 3.7l1.1 3.3l1.1 3.9l1.5 4.3l.6 4.2l.7 4.8l1.7 4.9l1.2 4.6l.6 4.7l.8 4.7l1.7 5.2l.6 5.5l.9 5.8l.7 4.4l1.4 4.7l.6 4.4l1.5 4.1l.7 5l1.4 6.2l.2 5l1.4 4.6l1.1 5.3l.7 5.7l1.4 5.6l.3 6.2l1.6 6.6l1 6.3l.9 6.1l1.7 6.8l.2 5.6l1.8 4.7l.5 6l.5 4.4l1.9 4.8l.9 5.4l.4 4.1l1.1 4.7l1 4.9l1.2 5.5l1.5 5.2l.6 5.1l.6 6.5l.8 4.7l1.1 4.6l1.4 4l.6 5.2l1.5 4.4l.4 4.7l1 3.8l1.8 4.7l.9 4.5l.6 5.1l.6 4.7l1.1 4.2l1.1 3.4l1.3 3.7l.9 3.9l.9 2.9l.7 2.3l1.9 3.3l.4 3.3l.7 2.9l1.9 3.6l.5 4l.9 4l.4 3.4l2.1 2.8l.5 2.8l1.4 2.8l.6 2.9l.5 2.2l1.4-2.7l.7 2.2l1.5 1.8l.8 1.9l.9 .8l.5 1.1l2 1.7l.6 1.3l1.2 1.4l.9 2.1l1.6-7.6l.8-8.4l1-8.8l.4-8.1l1.8-5.3l0-5.6l1.1-5.1l1.1-5.9l1.5-5.3l1.2-5.9l.7-6.9l.6-7.1l1.3-6.9l.9-5.6l.1-8.4l2.4-6.5l-.1-5.9l1.3-5.7l1.8-5.7l-.1 5l1.8 4.8l1.1 5.8l.4 3.6l1.5 .9l.6 3.8l1.2 9.8l1.3 6.2l.4-2.5l1.5-3.2l1.4 2.3l.8 4.9l1.3 1.4l.6 .8l.5 3.4l1.6 3.1l.3-1.5l1.2-.5l1-.6l.7 .8l2.4 1.7l-.6 4.5l1.4 5l1.6 3.5l1 15.3l.7 15.7l.3 14.7l1.7 5.9l.7 7.7l1.2-2.1l1.3-3.4l.4 7.6l.9 7.1l1.6 6.7l.9 4.8l1.4 6l.8 5l.9 6.4l1.1 5.6l1.2 2.9l1.1 1.9l1-3.8l.9-3.4l-.1-2.6l1.4-2l1.6-2.9l.9-4.7l0-4.7l1.4-4.3l1.6-4.4l.8-3.1l1.5-1.1l-.2-2.1l2.7-3l.1 2.6l.9 3.2l.1 3.7l1.8 3l.7 1.5l1.1 2.8l1.4 2.1l1.2 .7l.6-.1l.8 .9l.8 2.1l1.7 1.4l1.1 1l.7-1.7l.4-2l1.8-1.9l.4-1.4l1.4-1.3l.7-.8l1.4 .6l1.3 2.1l.6 1.5l.8 .8l1.6 1.8l.3 1.5l1.8-.9l.1-1.6l1.7-2.8l.5-1.6l1.2-.9l1-.7l1.6 0l.9-1.8l.4-.2l1 .6l1.1 2.1l.7-.6l1.3-1.4l1.1-.4l2-.5l-.2-.7l1.4-1l1 2.1l.7 1.8l1 1.4l.4 1.5l1.8 1.3l1 3.1l.9 2.9l.2 3.9l2.2 4l.2 2.5l1.5 1.5l.3 1.5l1 3.8l1.6 3.9l1.3 2l-.3 1.7l1.8 .3l1.3-4.6l1.1-4.1l1.4-4.1l0-4.2l1.8-3.8l.6-5l1.5-5.6l1-3.6l1.1-4.7l-.2-4.1l1-5.7l1.7-6.4l.4-8.1l1.7-7.7l.2-7.5l1.8-6.5l1.7-6.8l.1-3.9l.8-4.4l.6-5.5l1.5-3.3l1.3-3l.8-2.5l.8-4l1.1-1.8l1.2-3.7l.3-3l1.6-2.3l1.1-4.9l.6-4.2l1.8-2.8l1.4-3.5l-.6-1.1l1.8-1.5l.8-2.4l.9 1.3l2.2 2.5l-.3 3.6l2.3 3.9l.4 3.5l1 4.1l1 4.6l.4 9.2l1.6 7l.9 17.8l1.2 15l.3 11.7l1.4 12.2l.1 8.9l2.1 7.8l.6 8.6l.9 8.8l1.7 5.8l.1 3.3l.6 2.8l1-2.8l.9-2.7l1.8-1.5l.4-.9l2.5-3.1l.5-.4l.4 2.2l.6 5.3l2 9.2l.9 11.8l1.2 12.3l0 11.3l1 5.3l1.2 3.2l1.3 .6l1.1 0l1.2 1.1l.2 1.1l.9 .1l2.1 .2l.1 0l1.6 .2l-.3-.6l3 .7l0-.5l1.2 .8l1.3 0l.5 .2l1.5 .4l.1-.7l1 1l1.9 0l.8 .2l1.1 .5l1.3 1l-.3 .1l1.3 .2l1.7-.1l.3 1.4l1.2 .8l.7 .2l.5-.1l1.7-.9l1.7 1.1l0 .8l1.5 1l1.3 .9l1.1 1l.6 .5l1.7 .1l-.1-.5l1.3 .5l1.2-.2l1.1 .1l.9 1.2l.9 2l1.3 2.3l.7 .7l1.2 1.1l1.3 1.4l1.4 1.1l.1 2l1.4 1.6l.7-2.3l.9-.8l.9-.8l1.7-3.1l.7 1.3l.6 .3l1.5 .5l-.2 1.6l1.6 .3l1.5 1l.5 .7l1.4 1.6l1 1l.7 1.5l1-1l1.1-1l.4-1.7l1.6-1.6l.8-2.3l1.6-1.8l.9-2.7l1-2.2l.2-2.1l1.5-2.4l.9-1.8l.3-2l2-.6l1.1-1l1.1 .3l.7-.2l.7-.1l1 .1l.7 .4l1.4-1.3l1.4 .9l1.9 2l-.9 1.2l1.7 .7l.6 1.8l1.3 1.9l.6 3l1.5 1.1l1.1 3.1l.8 2.7l1.2 3.2l.5-2.1l1.7-2.1l.6-3.1l1.2 0l.4 .2l1.1-.7l1.2-1.2l1.4-1l.8-1l1.4-1.3l.4-.8l1.9 .5l1.1-1.3l.5-.4l.6 0l.4-.7l2.2-.5l.2-.4l1.7 0l1.4-.7l1.2-1.3l-.1-.9l.9 .5l.9-.8l2.3-1.2l-.3-.6l1.1 .6l1.4 0l1-1.1l.7 .1l2.2 .4l.1-.2l.3-.5l1.6 .3l.8 .1l1 .2l1.1-1.1l.9 .1l.8-.1l2 .4l.8 .4l1.2 .4l.3 .5l.7-.7l1.1 .7l1.3 .5l.7 .2l.7 .9l1.7-.8l.8 .6l.6-.1l1.6-.1l1.1 .4l-.3 .2l2 .2l1.2 .1l.8-.4l.5-.2l1.8 .7l1.5 .1l.4-.4l1.7 .3l1.2-.1l-.2 0l1.1-.1l1.3-.2l.8 .1l1.6-.3l.5 .7l.7-.2l1.2 .2l1 .5l1.4-.4l-.1 .7l1.4-.7l1.2-.2l.6-.9l1 .8l1.3 0l1.5 0l-.2 .1l1.3-.3l2-1.2l1.2-.3l.8 .4l.3 .2l1.3 .1l.8-1l1.4-.9l.3 .2l1.6 .4l.9 .2l1.3 0l1-.1l.6-.9l.9-.9l.3 .1l1.3 .2l.8-.3l1.4-.5l.9 0l1.2-.3l.9-.8l1.6-1.3l.8 .5l.8-.5l1 0l2 .1l0-.4l.7-.3l1.1-.6l1.7 0l.7-.6l1.2-.8l1.3 0l.6-.3l1-.1l.8-.5l1.9 .1l.6-1.1l.8-.2l.2-.8l.8 .2l1.6-.6l.5-.2l1.6-1.5l1.3 .7l1-.1l.8-.4l.9-.1l1.7-.7l.2-1.2l.5-.5l1.3-.4l.8-.4l1.2 .5l.5 0l2.3-.8l.2-.9l.9-.1l1.7-.6l.8-.7l1.1-.2l.3-.2l.6-1.5l1-.9l1.9-.8l1-.5l1.2-.5l.7 0l1.2-.2l.5-.5l1.7-1.3l.7-1.3l1.1 .1l.8-2.1l1.4-1.7l.6-1.1l1.6-.4l.3-1.6l1.6-1.3l1.1-4.5l.2-4.7l.8-5l.6-4.9l2-6.1l1.1-5l1.1 3l0 4.1l2.1-1.5l.4-1.8l1.5-.8l.7-1l1-1.4l.8-1.6l1.7-4.1l.5-3.7l.9-2.8l1.3-4.7l0-8l2-6.9l1.6-6.9l.8-5.6l.2-3.8l.9 7.4l1.4 6.5l1.1 4.7l1.1 4.2l.3 2.3l1.8 2.5l.5 2.3l.4-.6l1.6-.5l.8 .6l1.5 2.2l.5 2.6l.2 0l1.5 .3l1.3 .5l1.7-1.2l.7-1.8l.7-1.7l1.1-1.4l1.2-1.4l.9-2.1l1.4-2.5l.8-2.8l.3-3.1l1.4-2.9l.8-2.9l1.5-2.9l1-2.2l.8-2.7l.7-3.4l1.1-2.5l1.7-3.2l.6-3.9l.5-3.6l1.6-3.5l.9-3.1l.8-3.3l.8-4.2l1.5-3.9l.3-2.9l1.5-4.2l1.3-3.2l1-3.5l.8-3.4l.7-3.8l1-4.7l2.1-3.7l.2-4.5l1.1-2.8l.4-4.7l1.6-3.4l.8-4.2l.8-3.4l1-3.8l1.6-3.2l.5-3.6l.5-4.1l1.2-4.1l1.6-4.7l1.5-4.4l.3-4.9l1-4.1l.9-4.4l.6-4.3l1.3-4.4l1.7-4.2l.1-3.7l1.7-4l.8-4.8l.6-4.8l1.5-2.8l1.1-3.5l.8-2.8l1.4-2.9l.9-4.3l.3-3l1-2.3l1.3-.7l1.4-1l.6-1.3l1.2-1.6l1.3-1.5l.9-.7l1.7-.1l.2-1.1l.8-.1l1.1-.1l.4-1l1.3-.3l1.1 .1l1.2 1l1.2-.3l.8 .3l1.5 .8l-.3 .3l1.2 .7l1.3 .9l1.5-.2l.7 .8l1.4 .5l1.3 .2l-.1 .3l.7 1.5l2.4 .8l.1 1.6l.5 .7l1 1.5l1.2 .9l1.6 2.5l1.4 3.2l.4 3.4l.9 3.4l.8 3.3l1.5 3.3l.8 3.4l1.1 3.9l1 3l1.2 3.9l.7 4.2l.9 4.8l1.8 3.9l.8 5.7l1.1 3.7l1.1 5.3l-.5 3.5l1 3.6l2 3.2l1.3 4.1l.1 3.6l1.3 3.6l1.1 4.1l.9 4.3l1.1 3.6l1.2 3.9l1.1 4.2l.6 4.6l1.1 4.6l.7 4.2l1.4 3.9l.5 3.8l1.2 4.2l1 4.8l.9 4.1l.9 3.5l1.6 4.3l1.4 4.1l.5 4.8l1 4l.9 4.8l1.4 3.5l1.2 3.5l.9 3.4l.3 3.9l.9 4.3l1.2 3.8l1.2 4.2l.6 3.6l1.2 4.2l1.2 4.1l.9 3.3l1.9 3.2l.1 4l1.3 4.6l.8 3.7l.5 4.2l2.1 4.4l.4 3.8l1.2 3.9l.8 3.8l1.4 4.3l.6 3.1l.5 4.1l1.2 4.5l1.1 3.6l1.1 4.3l1.2 3.4l.9 4.3l.6 2.9l1 2.7l1.9 2.9l.3 2.3l1 2.9l.9 1.6l1.4 2.3l.6 1.1l1.1 1.3l1 .8l1.2 1.1l1.3 .6l.7 .6l1 1.2l.7-.4l1.2 .7l1.1 .2l2-.2l-.1 .4l1.1 .5l1.3 0l.1-.2l1 0l1.1 .3l1.3-.3l1 .2l1 .7l1.9-.2l.6-.1l.9-.1l.6-.5l1.3 .1l1.3 .4l.8 .4l1.1-.3l1-.5l.8 .1l.7 .8l1.3-.6l.4-.3l1.1-.4l1 .4l1.7-.1l.3-.1l1.2 .3l1-.1l1 .3l.8-.3l1.2 .1l1-.2l.9 .1l1.4 0l1.8-.1l0 .5l1.3 0l.1 .1l2.1-.2l.5-.2l.8 .6l.3-.3l2.3 .1l1.2-.5l-.2 0l1.3 .3l1-.1l1.6 .5l.9-.1l1-.2l1.2-.5l1.6-.4l0 .9l.4-.2l1.6 0l.5 .2l1.2 0l1.4 .2l1.3 .4l.6-.6l1.3 .2l.8-.3l.8 .4l.9-.2l1.5 .1l.8 .6l.7-.5l1.1-.4l1.3-.6l.4 .7l2.2-.6l0-.3l1 .2l1.1 .3l1.5 .2l.8 .1l.9-.7l.8 .3l.1 .8l1.8 .1l.6-.8l1.4 .3l.6-.1l1.3 .3l1 0l1.2 0l.7-.4l1.7 .4l.4-.2l1.2-.2l.4 .1l2.3-.3l-.1-.1l1.8 .6l.8 .7l.7-.5l.9-.1l1.7-.5l.3-.1l1.5 .1l1.5-.5l-.1 .6l1.3 0l1 0l.8 .6l1.8 .4l.2-.6l1.4-.3l1.1 .1l.6 .4l1.5-.7l1 .1l.7 0l1.6-.2l1.4-.4l-.1 .7l1.1-.4" stroke="#f09a10"/>
<path d="M125.5 82.5l1.1-1.2l.3 0l.7 2.5l1.1 3.2l1.2 2.6l1.2 3.5l1.5 3.5l1.1 4.4l.4 5.4l.6 5l.8 5.1l1.8 5.4l.8 6.4l1.2 6l.7 5.9l.9 7.1l.6 6.3l1.9 5.2l1.1 5.2l.7 5.1l1 5.1l.9 4.6l1.9 5.5l-.8 5.2l1.9 4.7l.7 5.2l1.4 5.2l.7 5.4l1 5.3l1.4 4.9l.7 5.6l1.1 5l.6 4.5l1.9 4.9l.3 4.9l.8 5.8l.7 5.8l2.1 7l.1 5.9l1.2 6.9l1.8 5.3l.6 6.4l.6 6.5l1.6 5.6l.7 6l.4 5.7l1.7 5.7l.8 5.1l1.6 5.4l.6 5.4l1.3 4.6l.3 4.3l1.5 4.3l1 4.1l.9 4l1.2 4l.4 3.5l.8 3l1.5 4.2l1.4 4.4l.4 5.1l1.9 3.9l.2 2.3l1.1 2.2l1 2.4l1.4 3.2l.6 2.2l.8 2.7l1.2 2.6l.3 2.5l1.6 1.6l.4 2.7l1.3 4.2l1.2 4.2l1.2 5.1l1.3 4.7l1.3 5.3l-.3 5.2l1.5 5.5l.8 5l1.2 5.9l1 4.8l1.5 4.7l.4 4.3l1 3l.6-4.5l1.4-4.5l1.5-5.4l0-5.2l2.4-5.5l.1-4.4l.7-4.8l1.1-4.7l.3-5.1l2-5.3l1.1-5.7l1.5-4.6l.1-4.1l.6-4.6l1.7-4.6l1.3-4.7l.7-5.3l1.3-4.3l.4-4.6l2 4l1 6.3l.5 2.9l1.3-3.5l.7 1.8l1.5 5.2l1 .1l.3-1.4l.7 4.8l1.6 5.3l.9 .7l.7-1l1-1l1 .9l1 3.5l1.9 7.8l-.1 8.4l1.5 1.5l1-8.4l.7-4.6l.9 1.4l1.4 2.2l.6-.8l1.5 2.1l.5 13.5l1.4 12.6l.7 10.7l.6 3.5l2 3.5l.2-2.6l1.9-.9l0 5.7l1 6.3l1.2 5.8l1.2 4.6l.3 5.4l2.1 4.7l.2 5.2l1.9 6.9l.6 3.5l.6 1.2l1.7-4.6l.3-2.8l1.1-2l.8-2.5l1.7-2.9l1.1-4.3l1.3-6.2l.6-4.3l.6-1.6l1.3-3.6l.8-3.1l1.2-2.5l1.4-2.3l.7 2.1l1 2.5l.1 1.8l.9 2.8l1.8 1.8l.7 2.7l1.8 2.2l1.5 1l-.7 1.6l2.3 1.2l.7-.2l.4 0l1.5 0l1.3-.9l1.1-1.3l.9-.2l.7-1.5l.7-1.5l1.1-1.1l.8 1l1.2-.2l1.7 .8l.1 1.1l1.6 1.9l1 2.4l.9 .2l.1-1.8l.9-1.8l1.9-1.5l.2-1l1.3-1.2l1.3 1.4l.1 1.8l1.7 .4l1.4-.9l1.1 0l.5 .4l1.3-1.2l1.5 .1l.2 .3l.7 .1l1.2-.6l2.3 2.1l.6 1.8l1.7 1.8l-.6 .8l1.7-1l.4 3.2l1.6 4.3l.9 2.9l-.2 2.4l1.9 3.3l.7 1.8l1.7 1.4l.3 2.2l1.4 2.4l.3 1.3l1.7 1.6l.9 3l1.5-2.9l.7-3.1l.3-1.5l1.1-1.1l1.4-3.4l1.1-3.8l.5-2.8l1.3-2.5l1.8-3.6l-.2-3.2l1.7-3l.8-5.2l1.2-4.5l1.4-4.8l.2-3.3l1.9-4.1l.5-4.8l.4-3.2l.8-4.2l1.2-3.6l1.3-4l1.8-2.5l-.6-2.7l1.9-4.9l.7-4.2l1-3.1l.6-3l2.3-4.3l0-7.6l1.3-5.2l1.4-5.9l1-5.7l.1-4l1.7-1.8l.4-3.7l1.1 2.5l1.3 4.7l1.4 8.1l.1 6l1.8 7.2l.7 8.8l1.7 9l.9 7.1l.3 8.2l.6 9.5l.9 8.4l2 8.4l.5 10.7l.7 7.9l.8 6.2l1.5 6l1 6.6l1.2 2.6l1 2l1.2 2.9l.8-1.5l.4-1.6l1.9-3.3l1.4-2.3l.6-2.1l.9 1.4l1.7 2.7l.7 3.5l.8 5.6l.8 8.3l1.3 10.9l.3 9.5l.9 6.5l1.1 2.8l1.7 1.4l.6 1l1.1 .7l1.5 1.2l-.2-.7l2.2 0l.2 .4l.8 .6l1.4 .6l.5 0l1.6 .2l.3 .7l1.1 .1l1.3 .4l1.8 .7l-.1 .4l1.5 .7l.9 .2l1.9 .5l-.5 .4l2.1 .2l.2 .1l1.4 .9l.9-.6l.6 .2l1.5-.2l1.2 .5l.3 .2l1.4 .7l.9 .9l1.3-.1l1.3 1.1l1.3-.5l.1-.6l1.2 .1l1.7 0l.8 1.4l1-.1l.9 1.2l1.2 .5l.7 0l.3 .7l1.5 1.8l1 2.2l.1 .4l1.7 .6l.8 1.4l1 2.8l1.3 1.9l1.1-2.3l.6-2.1l1.4-1.2l1.2-2l0 1l1.5-.8l1.5 .6l-.2 1.7l.9 1.6l2 2.7l.9 2l.7 2.7l.8 .9l1.1 1.3l1-2.8l1.1-2l1.3-2.4l.6-2l1.4-1.3l1.7-3l.3-2.2l-.1-1.7l1.5-2l.8-2.4l2.5-1.9l-.3-1.9l2.2 .2l.2 1.4l.7 .9l1.4-.8l.7-1.3l2.5-1.5l-.6-1.5l1.3-.4l1.1 .8l.8 2.1l1 1.4l.8 1.8l1.8 2.3l.7 .2l1.4 3.9l0 3.5l1.4 3.6l1.7 3.1l.3 2.6l.8-2.6l.7-2.7l1.8-3.1l1.1 .1l.6-.5l2-.7l.6-.6l1-1.1l-.2-1.5l1.4-.4l1.5-1.4l.8-1.2l1.3-.7l.5 0l1.9 0l.7-.2l.4-1.6l1.3 0l0-1.7l1.6-.6l1.8 .3l.8-.5l1.3-.2l.4-1l1.2-.8l.7-.5l1-.9l1.7 .6l1.7-.7l-.8-.2l1.8-.3l.8-.2l1.1 .1l.3-.3l1.6 .1l2.3 0l-1-.1l2.8 .4l-.4-.7l1.3 .1l1 .7l1 .6l.5 .6l1.7-.3l.1-.3l1.5 .5l1 .8l.9 .3l1.2-.1l1.3 .1l.2 .6l1.7-.1l.6 1.1l1.6 .6l.6 .1l1-.6l1.2-.9l1.2 .4l.6-.4l1.7 .2l1 .2l-.4 .8l1.7 0l1.1-.1l.9 .2l1.6-.5l.1-.1l.9-.2l1.4 .2l1.1-.1l1.2-.6l.7 .4l1.8 .2l-.2 .1l2 .1l.9 .2l.5 .2l1-1.1l1.1 .4l.8 .1l1.5 .3l.8-.1l.7 .3l.9-.3l1.5-.7l.5-.3l1.5 .4l1 .9l1 .1l.5 .3l1.1-.4l.7 .2l1.3-.1l1.6 .3l.4-.1l1.9-.5l.4 0l.7-.3l1.2-.3l1.7-.4l.7 .3l.7-.2l1.2 .4l1 0l.5-.1l1.3 0l.2-.5l1.8-.3l.6-.9l1.6-.2l.8-.9l1.3-.2l.7-.5l.6 0l1.3-.1l1.2-.2l1.4-1l1.1-.8l0-1.5l.6 .4l2.3-.1l-.3 .4l2.5-.3l.3 0l1.1-1l1-.2l1 .4l1.5 .1l.3-.2l.2-1l1.8-.7l.8-.3l1.3-.6l.9-.3l.8 .3l.9-.2l1.6-.1l.3-1.3l1.7-.2l.9-1.1l.8-1l1.5 0l.7-.6l.4-.1l1.2-.7l1.5-.9l1-.4l.6-1.1l1.9-.8l1.1-.1l.5-.4l1-.7l.5-.8l1-1.6l1.3 0l1.2-.8l.5-1.8l.5-1.3l1.6-2.5l1.3-2.1l.7-1.6l1.1-3.8l1.1-3.3l-.4-4.8l2.1-3.9l1.3-4.7l1.4-2.9l.2 1.7l.7 .6l1.6-1.1l.5-1.2l1.5-1.8l.8-2.1l1.8-2.1l-.2-1.9l1.5-4.9l1.1-4.6l.6-4.1l1.1-3.7l.8-8l1.6-9.4l.7-9.2l.9-5.8l.7-3l1 6.8l1.5 5.4l1 2.4l.9 3.3l1.7 2.2l0 2.1l1.7 2l.3 1l.6 .3l1.9 .8l.1 3.8l1.8 .4l1.2 1.2l1.3 .4l-.2-.4l1.9-1.4l1-.9l1.5-1.8l.9-2.1l.8-1.9l.5-2.6l1.2-3.2l1.1-2.2l.9-2.4l.7-3.2l1.5-3.3l.4-3.7l1.9-2l.7-4l1-3.1l1.2-3l.8-3.8l1.1-3.5l.1-4.6l1.4-3.3l.9-3.4l1.5-3.7l.9-3.7l.5-3.1l1.1-4.2l1-3l1.4-4l.9-4.6l1.1-4.5l.9-3.7l.7-3.7l1.4-3.5l.3-3.9l1.7-3.7l.3-4l1.6-3.6l1.2-3.6l.6-3.6l.4-3.7l2-4.3l.8-4l1.2-4.3l.1-3.8l2-4.4l.2-4.8l1.7-4.5l.7-3.8l1.5-4.1l.9-5l1.2-4.5l.7-4.8l1.6-3.7l-.3-3.6l1.6-3.8l.1-2.9l1.8-2.4l.9-3.1l.7-2.3l.8-2.6l1.6-2.6l.5-1.3l1.8-1.5l.9-1.6l.7-.9l.2-1.1l2.8-.5l-.1-.3l1.7-.7l.6-.5l1-.7l1.1 .3l1.2-.5l.8 .5l1.4 .1l.2-.4l1.3 1.7l.7 .1l1.3 .8l.8 .5l.8 .7l1 .4l1.3 .7l1.8 .3l-.7 .5l1.5 1.3l.9 1.7l1.6 1.3l.6 .6l1.4 .6l.5 1.2l1.4 1.6l1.1 2.9l0 1.6l1 2.5l1.8 2.9l1.2 2.6l1 2.7l.6 2.7l1.3 3.7l.7 3.9l2 4.5l-.1 3.8l1.3 4.4l.7 3.9l1.3 4.3l.9 5.2l1.2 4.1l.7 3.8l.9 3.5l1 4.2l1.3 4.4l1.3 3.1l-.2 3.4l1.2 3.8l1.6 4.1l2.1 3.6l-.2 5l1.2 4.5l.8 3.7l1.6 4.1l.3 4.5l.7 4.1l1.9 3.4l.2 4.1l1.6 4l.1 4.3l2.6 3.5l.5 4.1l1.3 4l.6 4.1l.7 4.5l1.1 3.9l1.4 3.7l.5 3.1l1.3 4.6l.9 2.9l.8 4l.1 3.2l2 3.5l1.3 4l.9 4.4l1.1 3.2l.5 3.9l1.4 2.4l.6 4.3l1.1 3l1.5 4.1l.6 3.4l1.3 3.7l.7 3.1l1.1 3.7l1.3 3.5l.8 4.4l0 4.1l1 3.5l1.7 3.3l1.1 3.9l.9 4.1l1.8 3.9l-.2 3.2l1.3 3.9l1 3.2l.9 2l1.8 3.1l.2 2.5l1 2.5l1.9 3.2l.6 1.7l.7 1.6l.9 1.8l.9 1.6l1.3 1.5l1.4 1.1l.7 0l1.7 1.3l0 0l1.6 .4l.5 .7l.9-.2l1.6 .6l0 .7l2-.6l1-.1l1.3 0l.9 .3l.7 0l.6-.5l1.6 .5l.5 .1l.7-.1l.6 .1l2.5-.3l-.3 .1l1.3 .7l.9 .3l.9-.3l2.2 .4l.1-.2l.5-.8l1.6 .1l.9 .2l1.3 .3l1 0l.3-.3l1.2 0l1.4-.2l.5 .2l1.4-.3l1.4 0l.6 .5l1.1 .1l1-.2l.9-.3l1.5-.4l.5 .2l.7 .5l1.1-.2l1.3 .2l.9 .5l1.7-.2l1.8-.2l-.8 .2l.9-.2l1.9-.6l.5 .4l1.5-.1l1.1 .1l.6-.1l1.1-.5l.8 .1l.5 .6l1.8-.6l.2-.1l1.6 .5l1-.4l.6 .4l1.3 .6l1.2-.1l.8 .1l.4-.2l1.9 .1l.5 .3l.9-.1l.7-.2l1.6-.2l.6-.6l1.5 .6l.7 .2l.8-.3l1.2-.1l.7 .1l.6 .3l1.9 .3l.3-.2l1.7-.6l1.2 .7l.6-.2l2.1 .1l.1-.1l1.3-.1l1.1-.6l.5 .3l1.2 0l0 .6l1.5-.2l.9 .5l1 0l1.4-.3l.7-1.4l1.2 .4l1.4-.2l.4 .7l1.1-.3l1.4 .3l1 .3l1-.1l.5-.2l1 .7l1.8 .6l.7-1.7l1-.1l.8 0l1 .7l.9-.4l1.5 .2l-.1-.5l1.3 .6l1.1 .5l1.2-.9l1.3 .4l1.3 .7l.6-.4l1.6-.2l.5-.2l.8 .1l1-.2l1-.2" stroke="#44dd00"/>
<path d="M125.5 72.0l.3-.1l.9 2l1.4 3.5l.8 3.7l1.1 3.6l.9 4l1.3 4.1l1.1 4.1l.5 5l1.2 4.9l.4 5l1.2 5.2l2 5l0 5.3l2.3 4.8l.6 5.7l.8 5.6l.5 5.8l1.3 5.6l.9 5.6l.6 5.7l1.2 5.7l2 5.5l0 5.7l1.8 5.7l.2 5.9l1 5.4l.8 5.8l1.5 5.4l1.2 5.6l1 5.5l.5 5.8l1.7 5.4l.6 5.7l1.2 5.6l.6 5.1l1.1 5.7l.8 5.1l.6 6l1.7 5.6l.9 5.3l.6 5.3l1.1 5.2l1.5 5.5l.9 6l1 5.2l.8 5.7l1.4 5.5l.5 5.4l1.2 5.4l1.2 5.7l.4 5.5l1.7 6.1l.6 5l.9 4.2l1 4.1l1 4.5l1.7 4.5l0 3.9l2 4.6l.9 4.2l.4 3.6l1.1 2.3l1.7 2.5l.6 2.3l1.1 2.9l.8 2.8l1.4 2.8l.2 2.8l1.2 2.2l.8 1.6l1.5 1.5l.7 1.8l1.8 1.5l-.3 1.8l.6 1.9l2 2.1l.3 1.8l1.6 3.2l1.4 2.5l.7 2.9l1.1 3.9l.8 4l.9 4.2l.7 2.4l1-12.4l1.2-11.7l1.7-12.2l.9-12.1l.4-6.4l.7-7l1.9-6.9l.9-5.9l.8-6.8l1.2-7.2l.7-12.4l.8-12.7l.7-13.1l.8-13.2l1.7-18.6l1.4-17.8l.4-18.3l.9-17.6l1.5-18.3l.9 8.9l1.2 9.2l.9 7.9l1 8.3l1.4 8.5l0 8.1l1.3 5.8l.8 1.4l.8 3.6l2.3 5.3l.4 5.8l-.1 5l2.1 3.3l1 1.9l1.2 2l.3 2.8l.6 3l2.3 7.3l0 6.5l2 6.4l0 6.5l1.1 3.8l.9 8.6l1.1 11.9l.8 20.6l2.2 16.6l.8 18.9l0 5.6l.9 6.5l1.8-8.3l.8-8.3l1.1 8.7l1.3 9.9l.3 10.6l1.5 7.2l.1 6.9l1.8 6l.8 5.6l1.5 5.5l1 1.4l.4 1.9l1.4-3.7l1.8-4l0-3.8l.9-2.5l.7-3.7l1.6-4.4l1.1-5.2l.8-4.3l.4-4.1l1.7-3.4l1.2-1.8l1.4-2l-.2-2.5l1.5 1.9l.5 2.2l1 3.3l1.2 3.9l1.5 2.9l.9 3.6l.9 2.6l1 1.3l1.2 1.1l.7 .5l.4 .9l2 .7l.3 .6l1.5-1.3l.3-1l1.9-.9l.8-1l.5-2.1l1.9-1.7l.9 .7l.5 1.3l1.8 1.4l.5 1.7l0 2.3l1.7 1.1l1.1-1.6l.5-2.5l1.7-1.3l.7-.9l1-2.4l.6-2.6l1.6-.3l.8-.7l.8-.3l1.4-.5l1.8-1.4l-.2-2.5l1.1-1.6l.9-.8l2.2-2.9l.2-3.1l.3-3.1l1.9 4l.2 3.7l2 3.1l.5 2.5l1.3 4.1l.5 5.1l.6 3.9l1.9 4l1 4.9l1.3 4.7l.6 3.9l.8 2.7l1 2l1.2 1.6l.6 2.2l.6 3.1l1.5 2.5l1.4-2.7l1.2-2.6l.4-2.3l1-2.5l1.7-2.2l.4-2l.9-4.5l1.6-4.4l.4-5.4l2-5.4l.6-8.9l.2-9l1.6-8.5l-.5-9l2.7-9.5l1.1-10.1l.3-9.9l1.1-4.7l1.3-4.5l1.1-4.8l.2-4.8l1-3l1.2-3.3l.9-2.9l1.5-.8l.4-.8l1.3-1.6l.3-.5l1.6-.7l1.3-.2l1.1-.4l1-2.2l.8-.9l1.6 0l.9-.5l-.3 .1l1.5 2.4l.7 2.6l2.2 2l.7 3.2l.7 3l.8 3.2l1.2 9.4l.5 9.2l1.1 22.5l1.8 17.7l.4 12.2l1.4 12l.6 9.7l1.1 9.7l.5 8.9l1.4 8.8l1.1 7.4l1.5 5.6l.1 2.7l2.1-2l.3-2.1l1.2-2.5l.9-1.7l1.3-1l1.2-.3l.1 2l.6 4.4l2.1 10.2l.7 11.5l1.2 13.9l1.3 10.7l-.2 7.4l.9 2.9l1.2 1.3l2.2 .9l.4 1.3l1.2 .8l.7 .1l1.8 .1l.6 .4l.7 1l1.2 .8l.7 .5l1.1 .6l.7 .9l1.4 .9l.5 .1l1.6 .4l1 .9l.9 .8l.7 .4l1.3 .2l1.1 .6l1 .7l.6 0l1 .1l1.6 0l1.1 .8l-.1 .4l2 .1l.3 .1l1.5 .4l.3 .6l1.4 .4l1.5 .7l.5 .9l1 .4l.9 0l1.2 .3l.8 .4l1.6 .6l1.2 .9l1.2 .8l-.1 .6l1.1 .7l.8 .8l1.4 1.5l.6 1.1l.7 1.4l1.7 .6l2.2 1.6l-.8 1.7l1.6-1.9l.7-1.8l.9-1.4l1.4-1.6l1.3 1.1l1.5 1.1l.1 .7l.9 .9l1.3 .7l2.1 .7l-.4 1.3l.6 1.6l1.3 1.7l.8 1.8l1-2l2-2.3l.4-2.2l1.5-2l1-1.5l.6-2.2l.7-2l1.3-1.9l1.3-1.8l.6-2.3l2.2-2.6l0-1.8l1.4 .3l.6 .4l.6-.5l1.6-.3l.5 0l1.6-.6l.3-.5l.9-.6l1.7 .8l1 1.6l.9 1.5l.6 1.4l1.1 1.5l1.1 2.5l1.2 3.2l1 3l.6 2.7l1.6 2.8l.9 2.7l.7-2.7l1-2.3l1.3-2.3l.7-.1l.8-.7l.8-.9l1.4-.9l.7-.7l1.2-.5l1.2-.8l1.5-.1l.4-1l2.2-1.2l-.4-1l.6-.4l1.4 0l1.8-.1l1.2-1.2l-.2 0l1.1-.5l.6-.7l1.9-.8l1.2-.6l.7-.9l1-.1l.4-.3l1.5-.4l1-.4l1.1-.4l.3 .1l1 .2l1-.4l1.7-.1l1.1-.5l1.1-.4l.2-.1l1.5 .4l1-.2l1.6 0l.8 0l1.1 0l.6 .4l.3 .3l1.8 .2l.7 .2l.8 .8l1.6 .1l.5 .1l.9 .2l1.3 .4l1 0l1.1 .4l.7 .2l1 .1l.6 .6l1.6-.1l1.4-.1l1-.3l.5 .2l.7-.1l2 .2l.7 0l.9 .3l1 .1l.9-.2l.2-.2l2.1-.3l.5 .2l1.6 .2l1.1-.3l.4-.2l.5 .2l1.9-.4l.7 .2l.3-.3l1.6 .2l1.7 0l.3 .3l1 0l.7-.1l1.6-.2l.7 .2l.4 .1l.6 0l2.4-.2l1.1 .7l.2-.5l1-.1l1.4 .1l.6-.1l2.2-.3l.3 .2l1.1 0l1.2 .1l.6 0l1.4 .2l1.2-.3l1.3-.4l0-.2l1.3-.5l.3-.6l.9-.7l2.1-.7l.9 0l.6 .3l1.5-.2l.6-.4l.1-.6l2.2 .2l.1-.1l1.5-.4l.4-.7l1.3 .1l1.4 .3l1-.3l1.5-.2l.2-.1l1-.6l.8-.7l1.8-.5l.8-.2l.9-.1l.8-.3l1.2-.8l1-.4l1.3-.4l1.1-.2l.5-.6l.4-.3l1.8-.3l.9 0l.3-.3l1-.1l.9-.6l1.7-.8l1.1 .2l.5-.4l.9-.2l2.1-.6l.4-.5l.9-1.3l.4-.3l2.5-.4l.1-.3l.4-.7l1.7-.6l1.1-.5l1.4-.6l.5-.4l.9-.5l.9-.6l.3-.9l2.1-.9l.9-.9l1-1.1l.9-1.1l.8-1.6l.9-1.5l1.6-1.2l-.1-1.1l1.8-1.2l1.1-3.4l.7-3.6l1.4-4.5l.7-4.4l1.4-4.6l.1-2.5l1.4 2.1l1.4 1.6l.5-.5l1.3-1.2l.6-1.3l.4-1.6l2.2-2l.8-1.8l1.8-3l.6-3l0-3.7l.8-3.3l1.3-7.8l1.6-7.7l1.1-8.2l.5-5.9l1.9-.7l.3 7.3l.7 4.5l1.8 2.7l-.1 3.8l1.4 1.8l1.9 1.5l.7 2l.5 .6l.6 .6l1.2 .2l.6 1.3l2.2 .5l1.2 .8l.2 .1l1 .2l.8-1.6l2.3-1.3l0-1.6l.7-1.2l1.7-2.3l.7-2.1l1.4-3.2l.1-3.3l2-2.9l.3-2.6l1.4-2.5l0-2.6l1.9-3.1l.7-3.2l1-2.8l1.2-3.3l1.1-3.7l1.3-3.3l-.4-3.8l2-3.8l.8-3.5l1.7-3.7l.2-3.7l1.1-3.2l.8-3.5l1.4-3.7l1-4.2l1-3.4l1.7-3.5l.5-3.6l.3-3.8l1.3-4.2l.7-3.8l1.5-3.5l.6-3.3l.7-3.4l1.8-3.2l.9-3.9l1-3.3l.8-3.8l.7-4l1.3-4.3l.7-3.6l1.6-3.8l1.8-3.9l-.4-4.3l1.9-3.6l1-4.1l-.2-3.7l.8-3.9l2.4-3.8l.3-3.5l1.1-3.1l1.1-4l.9-3l1-2.7l.4-3l1.7-2.3l1-2.7l1.8-2.6l.7-1.2l.3-1.4l1.4-1.1l1.1-1.2l.7-1.2l.6-1.2l1.6-.4l.5-.4l1.7-.7l.5 .1l1.4 .3l.4-.3l1.7-.1l1 .6l1 .2l1 .6l.1 0l.3 .6l1.5 .6l1.4 .1l1.1 1l1.5 .8l.9 .3l.2 1l1.8 1l1 1.1l.8 .7l1.1 1l1.4 1.2l-.1 .8l1.4 1.5l1.1 .9l.7 2.3l1.4 2.5l.8 2.3l.8 2.6l1.3 2.5l.5 3.2l1.7 3.9l1.6 3.3l-.6 3.4l1.9 3.3l.3 3.6l1.6 4.2l1.7 4l.3 3.9l1.5 4.2l1.1 3.6l-.1 3.7l1.7 3.5l.5 3.6l1.3 3.3l1.9 3.9l.7 3.4l.6 3.7l1.1 4l.3 3.7l2.1 4.1l.3 3.4l1.8 3.8l.7 3.6l.4 3.9l1.6 3.8l1.2 3.8l-.3 3.5l1.2 4.1l1.7 4.1l.6 3.5l.9 3.4l1.8 3.7l.6 4.2l.9 3.8l.6 3.8l1.1 3.8l.8 3.5l1.5 3.7l1.2 3.5l.8 3.3l1.4 3.7l-.1 3l1.5 3.6l1.4 3.5l1.2 3.4l.2 3.8l1.7 3.6l1.3 3.7l.7 3.3l.6 3.5l1.3 3.4l.4 3.6l.8 3.4l1.4 3.5l1.2 3.7l.8 4.6l1.2 3.7l1.9 3.8l-.2 3.2l1 3.6l.5 3.5l1.8 3.5l.9 4l.8 3l2 2.6l.5 2.4l1.2 2.2l1.1 2.6l1.2 2.5l.6 1.3l1.1 .8l1.1 1.2l.4 1.2l.5 1.4l1.6 .9l1.4 .4l.7 .6l.3 .2l2.3 .7l.4 0l.6 .2l1.5 .3l.6-.2l1.3 .5l.5 0l1.6-.2l.9 0l1 .4l.7 .1l1.4-.1l1.1 .4l1.4-.5l.3 .3l.9-.2l1.5-.1l.3 .2l1.6-.1l1.1-.3l.9 .4l-.2-.2l1.7-.1l1.2-.1l.5 .1l2.3 .2l1.1 0l.1 .1l1.1-.3l.9 0l1 0l.6 .2l1.4 0l.7 .2l1.6 0l.8 0l.8 0l.7-.3l.8-.2l.8 .1l1.1-.1l1.5 .2l1.8 .1l-.2 .1l2.2-.1l.7 .3l.8-.1l.4-.1l1.8-.3l.4-.1l1.6 0l.7 .2l.4 0l.5 .1l2.3-.2l1.2 .1l.5-.3l1.6 .6l1 .1l-.1-.3l1.3 .1l1.9 0l.2-.1l.3-.1l1.6 .1l1.9-.5l.4 .4l1.5-.3l.8 .5l0-.1l2 .3l.7-.2l.8 .2l1.5 0l.1 0l2.4 0l-.1-.3l1.3 .1l.8-.1l1.2 .1l1.3-.1l-.4 .4l2.8 0l.5-.4l1.4 .1l.5 .3l.7 .1l.4-.3l1.6 .2l1.6-.3l.5 .2l1.4-.2l.3 0l1.2 0l1.4 .3l.5 .1l1.9-.3l-.6-.2l1.9 .4l.3-.2l1.9-.2l.5 0l1.5 0l.2 .3l1.9-.1l.2 .3l1.3 .1l.9 .1l1.3-.9l1.3 .3l1.5 0l.7 .3l.4 .1l1.4-.4l.1-.1l1.6 .3l1.6 0l.5 .2l1.4-.2l.9-.1l.7-.2" stroke="#ee0000"/>
<path d="M125.5 133.5l.6-.1l1.4 .5l.4-.3l1.1 3.2l.8 3.2l1.4 3.4l1 3.5l.5 3.1l1.4 3.6l1.3 4.8l.6 3.6l.6 4.4l.1 4.3l1.9 3.7l1.8 4.6l.4 5.3l1.3 4.8l1.3 3.9l.3 4.5l1.7 4.7l1 4.2l1.2 5.4l.3 4.9l.6 5.7l2 5.7l.4 5.6l.8 6.1l1.8 6.1l.2 6.5l1 5.5l1.2 6.3l1.7 6.3l1 6.2l0 5.1l2.2 5.1l.9 4.9l.1 5.1l1.4 4.4l1.3 4.9l.4 5.7l1 5.7l1.3 5.2l.9 4.9l.5 5.2l1.4 5.1l1 4.5l.5 4.9l1.3 4.5l2 3.6l.1 4l.7 3.8l1.7 4.2l.5 4.2l.8 4.4l1.2 4.6l1 5.3l.9 5.1l1.1 4.8l1.3 6l1.1 4.5l.7 4.5l.9 2.6l1.5 2.6l1.1 3.9l.6 3.9l.8 3.7l1.6 4.5l.8 4.3l1.1 2.7l1.5 2.9l-.3 2.1l1.4 1.8l.8 .3l1.7-.3l.5-.6l1.1 1.6l.9-2.3l1.2-2.5l1.4-2.7l.4-1.5l1.3-1.4l.8-2.4l.3-2.5l2.1-1l.3-.7l1.1-13.1l1.8-12l-.2-12.4l.8-12.2l.9-6.6l1.4-6.5l1-6.7l2-7.1l.5-6.7l1.4-6.7l.8-10.3l.9-9.9l.8-10.1l.5-11.2l1.7-10.9l1.1-9.3l1.1-9.9l-.4-10.4l2.9-8.8l-.8 9.7l1.6 8.6l1.3 7.3l1.1 5.4l.9 .9l1.8 2.3l.1 3.6l1.3 5.7l1.5 1.9l.9-3.3l.4 1.5l1.2 6.4l1.1 4.6l1 3.4l1.2 3l.1 3.3l1.7 .1l1.3-2l.3 1.9l1 2.5l1.5 1.4l.8 6.4l.4 2.2l.9 2.9l1.7 26.2l.6 27.2l.7 26.8l1.8 6.9l1.1 4.1l.7-9.8l1.2-8.1l1.1 9.8l.6 9.9l1.1 9.6l1.1 4.2l.9 5.5l1.1 6.7l1.8 6.1l.2 5l1.6 1.3l.2 1.6l.6-4.5l.8-4.2l1.7-3.1l.8-3.6l1.2-5.2l1.2-5.4l1.1-4.3l1-3.1l.2-3.3l1.3-2.5l.7-.6l1-1.1l1.7-1.7l1.1 3.4l1.3 1.5l1.1 1.8l.6 4.2l-.1 1.9l2.4 2.3l.9 4.6l.8 2.4l.7 .6l.8 .6l1.5 1.9l.9 2.4l1.3 1l.4-1.3l1.1-1.9l.3-2.3l1.6-2l.9-1.4l.8-.5l1.9 2.6l.8 .3l1.1 .8l1.2 1.7l1 1.4l.6 1.7l.6-1.9l1.6-2.2l.4-3.1l.6-2.7l2-2.7l1.1-2.1l.1 1.8l1.2 1.6l0 .2l2.8-1.6l.6-2.2l.9-2.7l1.2-1.8l.9-1.2l1.2-2.5l.7-2.4l.5-3.2l2.6 3.2l-.6 3l1.4 4.2l.7 4.6l1.2 2.9l1 2.6l1.4 2.4l.6 4.7l1.6 5.3l.4 4.9l.9 3.6l1.6 .8l-.2 1.7l1.9 4.4l1.4 3.3l.5 1.4l1 3.4l1.3-.8l.6-.7l.6-1.8l1.2-1.4l.4-.1l1.2-.4l2.1-3.1l.4-3.3l1.1-3.8l1.3-3.6l.5-5.3l1.2-6.7l.8-8.1l1.2-7.8l.9-7.6l.7-7.5l1.7-8.3l1.2-5.2l0-5.3l2-4.9l-.1-5.2l1.7-4.3l.6-3.8l1.1-3l1.3-2.3l1.2-2.3l1.1-2.2l0-1.3l1.8-2.4l.3-2.4l1.6-2.5l1.3-4l.3-1l1.5-1.1l.6-1.1l1.6 .2l.5 .5l.4 3.4l1.6 4l1.1 3.7l1.4 3.6l-.1 4.9l1.7 8l.7 8.3l1.7 21.3l.7 16l1 11l1 10.5l1 9.5l1.2 8.3l.9 9.1l1.2 9.6l.8 8.1l.2 5.1l1.9 2l1-2.9l.5-2.4l1.4-1.2l.8-2.1l.6-1.6l1.1-1.8l1.5 2.4l.9 5l1.1 9.7l.6 11.1l1.6 13.3l.4 10.6l.7 7.4l1.2 4.3l1.3 1l1.4 1.1l.9 1.4l1.3 1l-.2 0l1 .3l1.8 .9l-.3 .9l2.4 1l.7 .8l1 .3l.7 .8l1.4 1.5l.7 .6l1.3 .4l1 .9l1.5 .1l.5 .1l.9 .4l1.7-.2l.1 .8l1.3 .8l1.6 0l.2-.2l1 .9l.8 .5l1.3 0l1.2 .2l1.1 .2l0 .2l2 .3l.9 .2l.8 .9l.3 .6l1.2 1l1.7 1.1l1.1-.6l.9 .4l.7 .3l1.2-.3l1.4 0l.7 1.7l.9 .8l.9 1.2l1.2 .6l1.6 .7l.3 1.6l.9 2.6l1.7 2.1l.1-2l2.1-2.5l-.3-1.8l1.7-1.4l.6 2.1l1.3 1.2l.9 .1l1.1 .6l.9 .1l.6 1.6l1.7 2.6l1.2 1.3l.2 1.7l1.5 1.1l.3-1.7l2.2-1.4l0-1.8l1.5-1.9l1-2.5l.8-3l1.4-2.5l.7-1.2l.7-.6l1.2-1.2l1-2.4l.9-1.9l1.5-.7l.6-.7l1.6-.4l.8-.1l.8-.2l1-.4l1.5-1.1l-.2-1l1.4 2.7l1.6 2.7l.9 1.2l1.2 1l1 1.4l.8 1.5l.5 3l.9 3.6l.6 2.3l1 2.4l1.5 2.6l1.6-2.8l-.7-1.7l2.7-1.7l-.2-.7l1.9-1l.3-.8l1.3 .9l1.7-1.8l.1-1.4l1-.6l1.9-.3l.2-.5l1.4-.8l-.5-.9l2.4-.5l1.4-.6l1.6-1l-.2-.8l1.7-.9l-.2 0l1.8-.4l1.4-.6l1.1-.6l.9-.2l-.3-.1l2-.4l1.3-.7l.8 0l.4-.7l1.5-.4l.9-.2l.7 .1l1.2 .5l.6 .2l.9-.1l1.7-.1l1.3-.6l.7-.4l.7 .1l2 .1l.9-.1l.3 .9l.9-.1l.9-.1l1.3-.3l.3-.2l1.2 .3l1.9 .1l.8-.1l1.1 .9l.7 .2l1.2-.2l.5 .6l1.1-.2l1.2 .8l.8-.5l1 .7l.3-.6l1.6 .5l.6 .4l1.3 .3l.8 0l1.3 .4l1.7-.2l.9-.1l1.1 .1l-.1 .5l1.8 .5l.3-.3l1.8-.5l.5-.3l1-.1l.8 .1l1.6-.1l1.3-.3l.3 1l1 .4l1.3 0l.2-.2l1.7-.9l.9 .4l1-.1l1.3-.3l.8 0l1 .9l.5-.3l1.4 .9l1.2 0l.6-.2l1.3 .1l.8-.9l1.7-.2l-.1 .2l1.5 .3l1.5 0l.5-.4l1.9 .3l.1-.3l.7-.6l1.6 .5l-.2-.7l2.2-.5l.7-1l.3 .2l1.6 .2l1.3 .3l.8-.9l.8 .5l1.6-.7l.4-.5l1.1-.5l1.1 .1l.8-.4l1.6-.1l.4 .7l1-.1l1.2-.3l1.3-.3l1.7-.1l.1-.5l1-.2l.5-.4l1.3-.5l1.6 .1l.1 .2l1.8-1l.4 .2l1-.7l1.1 .4l1.7-.7l.5 0l.7-.5l.7 .3l2.5-.5l.1-.5l.5-1.1l1.4 0l1.5-.9l.6 0l1.2-.6l.6-1l1.3-1.3l.5-.9l1.4-.6l1.3-.7l.6-1.7l.6-.9l2 .2l.4-.7l1.1-.8l1.5-1l.2-.8l1.6-1.3l.6-.7l1-1.7l1.4-1.4l-.2-1.4l1-1.7l1.9-1.2l1.4-1.9l.6-1.2l1.6-3.3l.3-2.7l.6-4.3l1.3-5.6l1-4.6l1.4-2.5l1.1 1.7l.2 .5l.5-.6l2-1l.7-1.1l1.2-1.8l1.8-1.9l.8-.6l.3-3.7l1.2-3.9l.9-4.3l1.1-3.2l.1-8.2l1.8-8.5l1.4-8.4l.8-6.5l.9-2.5l1 7.2l.7 5.9l1.6 3.4l.9 3.3l.5 1l.9 1.1l1.1 1.7l1.5 1.5l.5 .7l1.2-.1l1.5 4.9l.3 .8l1 1.2l.5-.4l1.1 .2l2.2-1.8l.4-1.5l1.1-1.5l.3-1.5l2.1-1.9l.4-1.1l1.6-2.3l.3-3.8l1.4-3.5l.8-2.9l.8-2.2l1.6-2.5l1.1-3.2l.3-2.3l.6-2.6l1.5-3.1l1.2-2.5l.5-3.3l2.1-3.2l.4-4.1l1.2-3.1l.5-3.8l.5-3.1l.5-4l2.3-2.6l.9-3.8l1-3.6l1.2-3.4l.5-3l1.5-4.6l1.3-3.5l1.2-3.9l.9-4.6l.8-3.6l-.1-3.6l1.4-3.5l1.6-3.3l.3-2.9l1.1-3.9l1.4-3.5l1-2.9l.7-4.1l1.6-4.3l.2-3.6l1.4-4.6l1.1-4.6l.5-3.7l1.8-3.1l.1-3.6l1.4-4.2l1.1-3.3l1.3-4.5l.7-3.6l.6-4l1.6-3.6l1-3.5l.8-2.2l1.2-3.4l1.2-2.9l.9-3.4l.4-2.5l1.4-2.1l.9-.3l1.3-1.1l.9-1.6l1.1-1.8l.6-1.4l1.2-1l1.2-.8l.5-.3l1.5 .9l1.1-.5l.2 0l1.3-.5l1.1 .2l1.4 1.2l.2 .2l2.2 .4l.1 .6l.9 .6l.8 .1l.9 .7l1.9 .4l.5 .8l.7 .5l1.4 .5l.6 1.6l1.4 1l1.1 .6l.8 1.5l1.1 .9l1.3 1.9l1.3 .9l.4 2.2l1.5 1.7l.6 2.2l.4 2.7l2.4 2.7l-.6 3.5l1.1 2.6l2.8 3.9l-.4 3.6l1.2 3.5l1.4 3.3l.8 3.6l.5 4.7l1.8 4l.2 4l1.3 3.4l.8 3.5l.5 3.9l1.6 3.2l1.4 3.6l1 2.8l.5 3.4l1.2 4.3l1.5 4.2l.4 4.1l1.3 3.7l.7 3.8l1.5 4.1l.1 3.9l1.1 3.3l1.4 3.8l.1 3.4l2.1 4.5l1 4l1.1 4.2l1.2 3.8l.2 3.2l-.1 3.5l2.8 4.1l.3 3.9l1.3 3.4l.8 3.8l1.5 3.9l.2 3.4l1.3 4.3l.8 3.6l1.4 3.9l1.4 4.3l.6 3l1.3 4l.8 3.8l1.3 4l.4 3.2l1.7 3.6l.5 3.7l1.5 3.5l1 4.1l.8 4.5l1.2 4.1l.3 3.8l2 4.1l1 3l-.6 3.8l2.2 3.7l.3 4.5l1.9 3.8l-.2 4.1l1.4 4.6l1.4 3.4l1.1 2.4l1.5 3.2l.1 1.4l1.5 2.3l.5 2.1l1.4 1.3l.4 .8l.8 1.8l1.8 1.2l.8 1.1l.8 .8l1.7 1l0 .1l1.7 .8l.9 .8l.7 .4l1.2 .1l.6-.5l1.8-.1l.3 .2l.9 .1l1-.3l1.2 .3l1.7-.1l.6-.2l1.2 .6l1.1-.1l.9-.4l.6 .2l1.3 .3l.2 .3l2.3-.3l.2 .3l1.6-.2l0-.2l2.3 1.1l.1-.4l1.7-.2l-.2 .3l1.8 .2l.2-.7l1.1 .3l1.5-.3l.8-.2l.9-.4l.9 .5l1.2 1.3l1.5-.4l.6 .1l1 .1l1.1-.3l1.5-.3l.3-.4l1.1 .3l1.2-.3l1.6 .2l0-.4l1.4 .5l.8-.4l1.5-.5l1 0l0 .7l1.4 .9l1.1-.7l.6 .1l1.5-.4l1 .1l.9 0l.8-.8l1.8 .1l.2 .5l1.6-.1l.9 .6l.3 .2l1.3 .3l1.2-1.2l1.2 .1l1.6 .1l-.4 .4l1.5-.2l1.2 .2l1.4 .1l.6 0l1.1-.2l.4 0l1.2 0l.7-.4l2.1 .3l.2-.2l.4-.1l2.4-.2l.2-.1l1.9 .9l.4-.4l1-.1l.9 .2l1.1-.1l.2 .4l1.5-.6l1.4-.6l.4-.2l1.8 .6l.2-.3l1.5 .5l.6 .6l1.2-.3l.6 .6l1.6 .1l.7 .1l.8 .1l1.5-.3l1 .3l1-.5l.6-.5l1.7-.2l.8 .2l.4 .3l1.2-.2l2-.6l-.4 .6l1.7 .2l1.2 .8l.4-.6l1.3-.3l.5-.6l1.3 1.1l1.2-.6l.9 .5l.8-.4l1.6-.3l.8-.1l.4 .3l1.4-.4l.9 .5l1.1 .2" stroke="#0862f6"/>
<path d="M125.5 95.3l.2-.4l.9 .7l1.5 2.4l.6 3.8l1.5 4.5l.9 3.4l.7 3.9l1.5 3.8l.5 5.2l1.9 5.3l.5 5.5l.4 5.6l2.2 4.8l.8 5.6l.3 5.7l1.1 4.7l1.4 5.2l0 5.2l2.1 5l.2 5.2l.9 4.5l1.5 5.6l.9 4.3l1.3 5.8l1 4.7l.7 5.8l1.4 5.7l1 6.2l.2 5.6l1 5.2l1.2 5.5l1.2 5.5l1 5.4l1.5 5.9l.7 6l.7 5.3l1.3 5.6l1.2 5.3l1 5.3l.7 5.1l1.3 6.3l-.1 6.4l1.8 5.8l1.3 5.3l-.2 5.8l2.1 6.2l.6 6.3l1 5l1.4 4.8l.2 4.5l.6 4.8l2.2 3.4l1 4.6l.9 4l1.3 3.4l.9 4.2l.7 3.9l1.2 3.8l-.1 5l2.1 4.1l.7 4.5l1 3.2l1.4 3l0 2.9l2.1 3.2l.6 3.4l.9 3.1l.9 4.4l.2 3.7l1.5 2.7l2.3 2.6l0 2.4l1.4 1l.3 1.8l1.9 1.2l.6-.5l.8 1.3l.7 .7l1.8 1.3l.5 1.1l1.8 1.5l.1 .4l1.4 .1l1.3 1.3l.4 1.2l1-10.5l1.3-9.8l.5-9.5l.7-10.5l1.2-6.5l1.2-6.7l.7-6.2l2-6.7l.8-6.5l.9-5.8l.7-9.1l1-9l.8-8.8l.7-8.8l1.2-9.1l1.2-9l1.6-8.7l.6-9.9l1.2-10.1l.8 9l1.1 9.4l1.3 6.1l1.2 6.2l1.3 .7l-.1 2.3l.6 3.6l.8-1.5l1.4-2.9l1.1 .7l1.3 5.3l1.1 4.8l.4 2.2l1.5-1.1l1.2-.9l.9 0l1.1 2.2l.6 1.8l1.4 1l1.1 2.8l1.5 .9l.3 3.6l.9 4.2l.4 4.6l1.7 22.2l1 23.8l1 23.5l.2 6.8l1.3 4.6l1.4-8.4l.4-6l1.9 8.7l.5 9.4l1.3 9.4l.3 6.5l1.6 7.3l1 6.3l.9 5.1l2.1 4.2l.1 .6l.7 1.8l1.2-2.5l1-3l1.1-5.6l1.2-4.2l.7-2.3l.8-3.8l1-3.8l1.2-5.1l1.2-5.4l.9-4.5l1.5-1.4l.6-1l1-.8l.8 2.6l.6 3.6l2.1 2.7l.2 3l1.2 1.6l1.3 2.8l.7 2.5l.9 2.7l1.5 1.5l.4 .7l1.5 1.9l.8 .2l.7 .5l.5-.4l.7-.5l1.7-1.3l1.6-3.4l.3-2.8l1.1-2.1l1.1 1.7l1 2.9l.7 2.7l.9 1.2l1.3 .1l.7 .8l1.7-1.3l1.5-2.6l0-.6l1.4-1.6l1.1-2.6l.7-3.1l1.1-.2l1.1-1.6l1.3-2.5l1.4-2.8l.3-1l1.1-1.8l.7-2.9l1.9-2.8l.6-.6l.1-1.7l1.6-3.5l.8 2.1l.6 4.6l1.1 4.1l1.3 3.6l1.1 3.3l1.7 3.2l1 5.7l.3 5.6l.6 4.2l1.9 3.6l.2 4.8l1.1 2.5l1.4 1.7l.4 2.4l1.6 2.1l.7 2.3l1.4 4.7l.9 .6l1.4 1.1l.4-.5l1 .8l1.2 .9l.6 .2l1.5-2.3l.5-2.3l1.3-3.4l.6-4.3l1.5-6.5l.9-6.3l.4-6.6l1.2-7.7l1.4-8l1.3-8l.9-7.3l.4-3.4l1.1-4.5l.6-5.5l2.2-3.9l.3-1.9l1.3-2.8l.7-5.2l.9-2.6l2-1.5l.7-2.8l.7-3.2l.1-3.2l1.2-2.5l1.7-3.9l1.2-4.1l1.1-.5l.4-1.6l.6-2.3l1.5 1.7l1.4 3.2l1.1 4.5l.8 4.2l-.2 7l1.9 6l.7 6l1.3 8l.9 9.3l.7 14.7l1.1 10.7l.8 10.9l1.7 12l1 10.2l1.2 7.8l.8 7.1l.4 7.7l1.2 5.7l1.3 3.5l1.2 .8l.8-2.2l.5-1.7l.9-2.3l1.8-2.2l.5-1.4l1.2-.4l.4 3.5l1.6 3.7l1.7 8l.3 10.6l1.6 12.6l-.4 9.3l2 6.9l.5 2.8l1 .4l.8 1.3l1.6 .9l.7-.3l1.7 .5l.6 .4l.5 .8l1.1-.1l1.1 .1l1 0l1.9 .4l.5 .1l.7-.6l1.2 .5l.6 .9l1.7 .2l.7 1.2l.5-.2l1.3-.5l.3 .7l1.3 .3l1.7-.4l1 1.1l.2 .6l1 .1l1.6 .4l1.5-.3l1.1 .3l.4 .8l1 1.1l1.2 .1l.6 .8l1.1 .3l.6 .4l.9 .2l1.8 .9l.6 1.7l1.5-.1l.8 .2l1.3 0l.3 1.3l.8 1.3l1.7 .8l.5 1.2l1.2 .8l1.2 1l1.3 1.3l.9 2.3l.8 2.6l.7-3.1l1.4-1.7l.4-2.6l1.3-1.9l1.4 1.3l.5 .9l1.3 1l1 1l.2 1.3l1.8 1l.5 .6l1 1.5l.5 1l1.3 1.2l1.3-2.4l1.6-2.3l.7 .1l.9-2.8l1.7-1.7l.1-1.1l1.8-1.4l.8-2.4l.5-3.5l1.4-2l-.1-2.9l2.2-1.6l1.2 .6l.1-1.3l1.4 .3l1.3-.5l1.3-.2l.7-.6l.6-.1l.9 .2l1.2 1.8l1.3 2.2l.5 1.7l.8 1.6l1.5 .4l.6 1.5l1.3 4l.9 3.4l.8 3.2l1.8 2.8l1.1 2.6l.4-2.3l1.2-2.3l1.1-2.2l.7-2.2l1.5-1.6l1.2-.6l.1-.9l1.8-.8l-.4-1.2l1.7-.1l.7-.2l1.4-.7l1.4-.1l1.5-.6l-.3-.9l1.4 .1l1-1.3l1.2-.6l1.1 .1l.9-.3l.3-.6l1.9-1.1l.4-.4l1.3-1.1l.6-.3l1.5-.6l.8-.2l.9-.1l1.1 .3l.8-.7l.8-.2l1.6-.1l.9-.2l1.3-.7l.7 1.1l1.9 .3l.1 .3l.7-.7l1.7-.6l.5 0l.1 .1l1.3 .9l1.9 0l.7 .2l.6 0l1 .3l1.1 .1l1.7 .8l.7 .1l.4 .5l2.2 .6l-.4 .1l2.1 .1l.6-.1l1 .6l1.5 0l.3 .6l1.2-.1l1.4-.5l.6-.2l.9-.3l1.5 .2l.4 .6l1-.8l1.2-.1l1 .3l1.2 .9l.9-.4l.6 0l.3-.4l2-.1l.7 .8l1.1 .5l2.1-.6l.4-.4l.4-.3l1.5 .1l.8-.8l.7-.4l.7-.6l1.1 .4l1.8-.4l.5 .1l.3-.2l1.7 .1l1.7 .1l-.4 .3l2.5-.4l.4 0l.7-.4l1.3-.2l1.2 1l.7-.3l.9 .4l1.2 0l.8 .3l.9-.8l1.4-1l.6-.2l1.7 .3l.2 .4l1.1-.6l.7-.5l1.4-1l1.1-.6l1.2 0l1.2 .4l1.2-.3l1.5-.4l.4-.3l1 .3l.2-.8l.6-.2l1.8-.1l1.2-.5l.7-.4l.9-.2l.8 .4l1.7-.6l.5 .1l2.1-1.1l.4-1l.4-.4l1.6 .3l1.2-1.2l.4-.3l1 .2l.9-.7l1.9-.9l-.1 .1l1.7-1l.2-.9l1.2-.9l2-.4l.2-.5l1.8-.3l.3 .1l1.2-1.9l.4-1.9l1.4-.9l1.6 1.3l-.1-.1l1.8-.2l1.3-.5l.5-1.1l.7-1.4l.8-.2l1.2-.2l1.1-.5l2.3-.3l-.6-1l1.3 .2l.9-.1l.9-.7l1.8-.9l.7-1.6l.2-1.1l1.9-1.2l.6-.7l.4-.9l1.5-2.2l.5-4.3l1-3.3l1.9-4.1l.9-2.8l.1-4.3l1.3-2.5l1.6 2.8l.7 2.2l.7 .8l1.8-.3l.2-.9l1.7-.8l1.2-1.1l1-1.5l1.1-4.1l-.2-2.5l1.8-2.6l.6-2.5l1.5-7.8l1.1-7.9l.5-7.5l.7-5.2l1.6 1.1l1 6.4l.9 5l1.3 3.6l0 3.2l1.6 2.4l-.1 2l1.9 1.8l.7 1.3l1.6 1.3l1.1 .3l1-.5l.7 .2l1.1 1l1.1 .4l.6 .1l1.6-2.2l1.4-1.5l.6-1.6l1.5-1.3l-.2-2.3l1.4-2.2l.4-3.3l1.7-3.4l1.4-3.2l-.1-3.6l1.5-3.7l1.3-2.7l1.4-2.8l.3-2.8l1.7-3.5l-.3-3.8l2.1-4.4l.7-3.3l.8-3.7l1.5-3.2l.7-4.3l.9-4.3l1.6-3.2l.5-3.7l1-3.6l.9-4l.9-3.1l.4-3.7l1.8-3.2l1.1-4l.3-3.8l2-3.6l1-3.5l1.2-2.9l.7-3l1-4.1l1.1-3.3l.7-3.8l.8-3.9l1-3.8l2-4.5l0-4l.5-3.7l1.4-2.8l1.3-3.6l.7-2.5l1-2.5l1.4-4.7l1-3.4l.3-3.1l1.2-2.8l1-4.2l.6-3l1.7-2.1l1.1-2.8l1-2l.9-2.5l1.6-2.7l.5-1.2l1.1-1.4l1.2-1.2l.4-.9l.7-.4l1.4-1.2l.9-.4l1.4-1.2l.8 .1l1.2-.4l.7 .3l1.2 0l1.1-.1l1 .6l.9 .8l1.3-.2l.7 .5l.7 .7l1-.1l1.4 1.1l.9 .8l.6 .6l.6 .8l1.3 .8l1.1 1l1.1 .4l1.3 1.2l1.2 1.1l1.2 1.1l.9 .8l.6 1.4l.7 1.4l1.4 1.8l1.2 2.1l.8 1.5l1 3.4l1 2.7l1.2 2.4l.7 2.9l1 3.3l1.3 3.7l.7 3.3l.8 3.3l1.1 3.4l1 3l1.2 4l1 4.2l.9 3.3l1 3.4l1.2 2.7l1.3 3l.8 3.6l.8 3.7l.6 2.9l1.3 3.6l1.3 3.5l.6 3.8l.5 4.1l1.8 3.7l.7 3.5l1.2 3.7l.5 2.9l2.4 3.3l.2 4.4l.8 3.1l.8 3.4l1.2 3l1.2 3.4l.7 4.1l1.5 3.6l.8 3.8l.8 3.5l.9 3.5l1 3.2l.9 3.6l1.5 3.2l.1 3.5l1.7 3l1.1 3.6l1.2 3l1.5 3.2l-.1 2.7l1.5 3.6l1.4 2.8l.4 4.2l.9 2.9l.9 3.5l1.2 3.5l1.1 2.8l.2 2.8l1.3 3l1.1 3.8l.9 4.4l.6 3.1l1.5 2.8l1.2 3.1l.3 3.3l2.1 3.4l.3 3.7l2 2.8l.4 4l1 3.1l1 3.7l.7 2.5l1.6 1.8l.2 1.6l.4 2.4l1.5 2.2l1.8 2.9l.4 1.2l1 2l1.9 1.4l0 .9l1.4 1.8l1.5 1.2l-.2 1.5l1.5 .6l.8-.5l1.2 .4l1.9-.5l.5 .6l.5 .7l1.2 .3l1.3-.7l1.2-.1l.6-.1l1.6 .5l.5-.6l1.3 .6l.6-.5l1.4-.1l1.2 .3l-.1 .8l2.2-.2l.4 .2l.8-.1l.8-.8l.7-.5l1.6 .3l1.4 .8l.9 .2l.2 .4l2.2-.5l.5-.7l.4 0l1.3 .5l.4-.4l1.4 .3l1-.1l1.1 .5l1.1-.4l1.2 0l1.2 .3l1-.2l.3-.1l1.3-.3l1.3 .6l1.2-.4l.3 .1l1.3 0l.3 .3l1.8 .4l.9-.1l.9-.1l1-.7l.4-.2l1.7 0l1.1-.3l1.2 1.1l.6-.5l1.5-.3l.2 .1l.5 .7l1.6-1l1.5 .2l.8 0l.7 .1l1.7 .2l.8-.1l1.5 .8l.1-.4l.8-.3l1.9 .3l.6 .1l1.2-.5l.2 0l1.4-.2l.4 .5l1.1 .1l1-.3l2.1 .5l.8-.2l.7-.4l.6 0l1.1 .3l1 .2l1.5-.5l1 .5l.8 0l.7-.2l.8 0l1.4-.3l1.5 .8l.8 .1l1.2-.5l.4 .3l.9-.5l1.5 .2l.9 .9l.2-.9l1.8 .4l.8-.3l1.1-.1l.6-.4l1.9 .2l.5 .4l1.5 .2l.5 0l1.1-.1l1.4 .2l1 .3l1-.2l.2-.1l1.4 .1l1.2-.2l.8-.6l.2 .2l1.4 .7l1.1 0l1.8-.9l.6 .3l1.2-.5l1.6 .4l.1 .7l.6 .8l1.3-.9l.5-.3l1.2-.1l1.3-.1" stroke="#8b0000"/>
<path d="M125.5 116.5l.7 .6l1.7 .4l-.2 1.1l.6 4.1l1.8 3.7l1.2 2.7l.6 3.1l.5 3.2l1.3 2.7l1.3 3.3l.8 3.7l1.8 4.1l0 3.9l2.1 4.4l1.4 4.7l0 4.4l1.3 5.2l.4 5.3l.9 4.8l.9 4.7l1.7 4.1l1.1 4.2l.8 5.6l.4 4.7l1.7 5.5l.8 5.9l1 5.9l1.2 5.8l.5 6.2l1.2 6.6l1.2 6.6l1.3 6.1l-.2 7l1.7 6.3l.8 6.9l1.5 6.3l.1 5.6l1.6 6l.5 5.1l1.6 5.5l.3 5l1.8 5l.3 4.2l.9 5.4l1.1 4.6l1.2 5.1l1.6 5l.4 4.5l.9 3.8l.8 4.9l2.2 4.5l.8 4.7l.3 5.3l2.1 5.2l.8 4.2l.3 4.9l1.2 4.7l1.8 5.4l-.1 4.6l1.1 5l.6 4.3l2 2.8l.7 3.1l1.4 2.2l.6 2.7l1.3 2.7l0 2.3l1.3 2.2l1 2.3l1.7 1.7l.9 1.6l.6 1.8l1.3 .5l.7 1.3l.8 1.2l.3 5.4l1.6-.3l1.4 .1l1.3-1.2l1.4-.2l.8-.4l.8-1l.2 0l1.2-.5l.5 .4l1.9-11.6l.8-11.2l.9-9.7l1.4-10.3l.5-6.5l1.5-7l.4-6.5l1.2-6.2l.6-6.6l1.8-6.1l.4-9l1.3-8.5l1-9.7l1.5-8.5l0-10l.8-9.7l1.9-8.7l.8-7.5l1.1-8.9l1.6 8l.1 6.7l1.8 6.6l.6 7.2l0 3.4l2.3 4.1l-.4 3.8l1.8-2.6l.4-4l1.8 3.3l1.3 6.9l.6 2.7l1.1 1.6l.3 2.6l1.5 2.7l1.2 .2l.5 2.8l1.5 4.5l.3 3.2l1.6-.6l.9-4.6l1.3 1.9l1 7.4l.5 6.9l1.8 20.6l.9 20.7l.5 25.6l1.9 10.6l.7 9.8l.7-1.9l.5-.3l1.8 10.5l.7 6.6l1.7 6.1l.4 3.6l.8 6.5l1.1 6.3l1 5.3l.7 3.2l1.2 1.2l1.1 1.7l1.5-4.2l.2-2.7l1.1-1.3l1.3-2.4l.4-2.6l1.3-4.8l.8-5.1l1.7-3.7l.7-3l-.3-3l2-2.8l1.6-3.5l.6-1l1.4 5.1l.4 2.4l1-.1l1.2 2.2l1.1 2.8l-.2 3.3l2.2 2.5l.9 1.8l.9 2.2l.9 .6l1-.3l.8 .9l1.5 .1l1-1.8l.2-1.9l.9-1.2l1.8-.7l1.3-1.4l.5-1.2l1 1.3l1.5 .6l.2-.2l.8 .9l1.5 2.9l.7 2.9l.4-1l2-2.4l1.3-2.2l.4-.3l1.4-.1l.6-.9l1.1 1.3l1.4 .4l.4-.2l1.7-.2l.3-1.2l1.8-2.8l.5-.6l1.2-.1l1.5-.5l.9-.4l.8 .4l.8 1.5l.8 2l.4 2.3l1.4 3.3l.9 1.5l1.4 3.4l.8 3.7l1.8 4.7l.5 3l.1 1l2 3.3l.7 3.9l1.3 3.4l0 3.3l2.5 1.3l.5 .4l1.1 2.1l.1-2.3l1-1.7l1.6-2.7l1-3.6l1.2-3.2l1.2-3.3l.8-3.4l1.2-4.6l-.1-5l1.7-3.9l.5-6.2l1.6-6.4l.5-6.1l1.1-7.6l1.3-8.2l1.4-7.9l1-7.7l.6-4.5l.6-3.8l1.7-4.2l.7-4.7l1.3-2.1l.4-3.2l.8-4.3l2.1-2.5l.3-2.3l.9-1.6l1.4-1.1l1-2.3l.5-2.7l.9-3.5l1.7-4.4l.6-2l1.2-1.5l1.3-1.3l1.1 2l.7 2.6l.8 4.4l.9 5.4l1.1 6.1l1.2 4.6l.7 4l1.2 7.8l.3 8.8l1.2 16.1l1.5 13.7l1.5 10.5l.3 9.7l1.1 8.1l1.3 7.3l.5 8.3l1.1 8.9l1.7 6.4l.1 2.4l1.4 1.5l1-1.6l.9-2.2l1.5-2.7l.2-1.5l.9-1.1l1.1-.8l1.2 1.3l1.2 3.9l.5 9.5l1.3 10.2l1.3 13l.8 10.7l1.1 6.9l1 2.9l.8 .1l.6 .3l1.4 .6l1.5 .9l.3 .1l1-.2l1.8 .4l.4 .1l1.1-.2l.8-.3l1.1-.1l1.2 .5l.4 0l1.5 .8l1.3-.3l.7-.8l.6 .5l1.7 .6l1.5-.1l.7 .6l.3 .3l1.3 0l.3 0l2.2 1.1l0 .7l1.9 .3l.1 .8l1.5-.1l.4 .4l1.3 .9l1.1-.6l1.2-.1l1.2 1l.5 2.1l1.2 .7l1-.1l.7-1l1.5 1.3l.7 1l1.1 .5l.8 .7l1.5 .8l.6 1.3l1.2 .7l.9 .9l.9 1.4l1 2.4l1.2 2.3l1 1.7l1.2-2.3l.8-3.3l1.1-1.6l.4-2.3l1.7 2l.5 2l1 .6l.5 .3l1.5 1.8l.7 1.7l1.5 1.9l.3 .9l1.3 .9l1.3 .3l.9-1.6l.5-1.7l1.5-2.4l1.6-1.4l.6-.7l.5-1.2l1.7-1.9l1-3l.2-2.6l1.6-2.8l1.1-1.5l.7-1.7l1.7 .1l.5 0l1 .2l.9-1.4l1.3-.9l.3 .5l1.1 1l1.1 .1l1.7 1.2l.5 .7l1.4 .7l.9 1l.2 1.6l1.6 1.3l1 3.1l.7 3.4l1.2 1.8l1.5 3l1 2.7l1.3-1.1l.1-2.4l1.3-1.9l.8-.5l1.6-1.2l1-1.3l.8-1.4l-.2-.8l1.3-.2l1.5-.5l1.1-.7l.3-1.2l1.1-.1l2.1-1.2l.1-1.1l1.4-.7l.5 .4l1.8 0l.1-.7l1.4-.7l.6-.6l2.1 0l.8-.7l.6-.5l1.4 .1l.9-1.2l.8-.7l1.2-.9l.8 0l1.2-.1l.5-.6l1.2-.1l1.4-.3l1-.7l.5 .2l.9-.1l1.6-.3l.5-.3l.6 .2l2.3 .7l-.1-.3l1.4 .9l1.5 .7l.8 .3l.7 0l.4 .2l1.6 .2l1.2-.9l.6-.1l1 .5l1-.6l1.7 .6l0-.1l2.1 .9l.1 .3l.9 .4l1.6 0l.1-.9l1.8 .5l1.6 0l-.1 .2l1.7 0l.8 0l2-.6l-.2 0l1.1 0l1.3 .3l.3 .2l1 .5l1 .4l1.8-.9l1.2 .6l.3 .4l1.4-.3l1.1-.5l-.1 .4l1.8-.1l1.3-.1l.7-.5l1.2 .5l.9 .9l.8-1l1.4-.2l.6-.3l.8 .2l1.9-.3l.7 .7l1 .7l.9 .1l.5-.8l.8-.7l.6 .7l2-.8l1.7-.5l.2 .4l.8-.3l.8 0l1.8-1l.4-.7l.4-.9l1.9 .6l.8-.7l.9 0l.5-.1l1.9 .1l.8 .2l.4-.4l1.8-.7l.7-.1l1.3-.8l1.2-.3l.2 .1l1-.4l1.2-.6l.9-.9l1.5-.1l1.1-.4l-.4-.6l2.4-.7l1.3-1.2l0-.4l1.4-.1l.3 .7l1.4-.3l.9-1.1l1-.4l1.2-.1l1.2-1.1l.5-.7l1.7-.5l.8-.7l1.6-.1l.1-.4l1.4 .1l1.5 .2l.3-.3l1.3-.3l1.5-.4l0-1.6l1.1-1.7l.5-.4l2-.4l.8 .4l1.4-.1l.2-.7l1.1-.6l.5-1.5l2-1.1l.6-.8l1.4-.6l1-.7l.9-1l.7-.9l.9 .2l1.3-.8l.5-1.6l1.5-.6l1.4-1.5l.6-1.2l1.1-1.6l.2-1l1.9-4l1.3-5.2l.4-5.7l.8-4.6l1.4-4.3l1.8-4l.1 4.5l.6 3.5l.3-2l2.2-.1l.6-.3l1-1.3l.4-1.1l1.2-1.2l1.7-3.3l1.4-3.5l-.4-3.2l2-2.6l.7-7.5l.9-9l2.1-7.2l.5-4.9l.6-1.9l.3 7.3l2.2 5.2l.5 4.2l.7 3.5l1.2 2.6l1.9 3.6l.9 2.6l.1 1.1l1.1 .3l1.5 1.1l.8-3l1.2 .9l.4 1.6l1.1-.2l1-.9l.5-1.9l2-2.9l.4-1.7l2.2-2.8l-.3-1.2l.3-1.8l1.5-3l1.6-3.2l.3-2l1.7-3.7l.9-2.7l1.1-3.4l.8-3.2l1.3-3.2l.9-4.1l1-4.4l.7-3.9l1.5-3.7l.4-4.8l.9-3.6l1.2-3.6l.9-4l1-4l1.4-4.6l.4-4.5l1.7-3.9l1.6-4.2l.5-3.5l1.2-3.8l.1-3.7l1.1-3.3l1.8-5.1l.2-3l1-3.6l.8-3.6l1.1-3.6l1.1-3.2l1.3-3.4l1.4-4.8l-.2-3.5l2.3-4.2l.6-4l0-4.2l1.7-3.9l1.6-4l.6-3.8l1.4-4.6l1.1-3.5l-.1-5l1.7-4.5l.8-3.8l1.2-3.1l1.1-2.7l.9-3.4l1.1-2.9l.3-4l1.9-2.8l.2-2.4l1.2-.9l1.2-2l1.2-1.3l.8-1.8l1.3-1l1.3-1.3l0 .5l1.2-1l.2-.5l2.1 .1l1.2-.7l.4-.5l1.2 .5l.8 .1l2 .7l.7 .1l.9-.2l.3 .5l1.6-.1l1 1l-.4 .5l2 .7l.9 .4l.9 .6l1.7 .9l.5 1.1l1.4 1.1l.7 1.5l1.1 1l1.9 .5l.8 1.6l1 1.8l-.4 3l2 2.8l.4 3.2l1.5 3.2l.3 2.3l2 3.8l1 3.3l.6 4.4l1.1 3.3l.9 3.2l.8 3.4l.7 4.8l1.1 3.3l1.7 4.8l-.1 5.1l.9 4.6l1.5 3.7l1 3.8l1.8 3.5l.5 3.9l1.2 3.8l1.1 2.9l.9 4.1l1 4.7l1.3 4.1l.6 4.4l1.2 3.3l.6 3.8l.4 3.9l1.4 4l.9 4.2l1.4 3.9l1.2 4.1l1.2 3.8l.7 4.3l.4 3.7l1.4 4.1l1.4 3.9l.1 4.8l1.7 4.2l1.2 2.7l.8 3.9l.4 3.2l1 3.9l1.1 3.3l1.2 3.8l1.2 3.3l.1 4l1.9 4l.9 2.7l1.1 3.5l.9 3.5l1 3.2l.9 3.4l1.6 3.2l.2 3.5l.6 2.7l1 3.5l1.1 3.1l1.8 4l.8 3.1l1.2 3.1l.8 4l1.2 3.7l1.8 3l.1 3.6l1.7 4.1l.2 2.5l.6 3.8l1.7 3.8l1 3.9l1.5 3l.2 2.5l.8 2.4l1.1 2.5l1.6 2.8l.6 2.6l1.1 .7l.6 1.5l1.3 .8l.9 1.4l1.3 1.3l.6 .5l.8 .6l1.6 1.5l1.2 .7l.9-.8l.7 0l.8 .4l.8 .3l2.1 0l.2 .7l1.2 .4l.6-.1l1.4-.3l1.1 .4l.7-.5l.9 .4l.7-.3l1.4-.5l1.3 0l.8 .5l1.7 .5l-.3-.3l1.5-.3l1.2 .5l1-.9l.9 .7l1.5-.9l.8-.7l-.3-.1l2.1 .8l1.4 .4l1-.2l.6 .2l.9-.1l.9 .8l1.6-.3l.4 .3l1.6-.5l.5 0l.5-.4l2.1 .7l.5-.3l1.2 .8l.7 0l1.4-.1l.3 .4l1 .2l1.9-.7l0-.2l1.4-.1l.8 .1l1.6 .1l.4-.1l1.6 .2l.8-.7l1-.4l.3 .6l1.4-.1l1.4 .4l.1-.1l1-.2l1.8-.3l.6 .2l1.2 .2l.7 0l.9 .2l1.4-.6l1.1 .1l.5-.4l1.4 0l.9 .5l1.3 .3l.6-.1l1.4-.1l.6-.6l.6 .2l2.2 .2l.8 .4l.5 .5l1.5-.6l1.3 .1l-.1-.8l1.6 0l.9 .5l.9 .1l.9 0l.6-.3l1 .9l1.1 .1l1.8-.5l1 .4l.3-.7l.5 .2l1.9-.2l.7 0l.2-.2l1.8 .3l.8 .2l1.5-.5l.8 .4l1 .2l.8 .3l1.5-.1l.8-.4l1.4 .3l1 .1l.3-.3l1.4 .1l.7 .6l1.6-1.1l.6 .5l.6 .5l2.1-.5l.6-.6l1.2-.1l.7 .2l.7 0l.7 .4l1.6 .2l.7 0l.4-.5l1.4-.4l.8 .6l1 .6l1.5-.5" stroke="#ee0000"/>
<path d="M125.5 81.1l.7-.1l-.1 1.4l1.8 3.8l.8 4.5l2 4.3l.1 3.8l1.6 4l1 5.5l0 5l1.8 5.1l.9 5.5l.7 4.3l1.9 4.7l.4 4.8l1.6 5.4l.4 5.3l1.3 5.1l.3 5l.7 4.6l1.4 4.8l1.4 5.3l.9 4.7l1.5 4.7l-.3 6.1l.9 5.7l1.1 5.8l1.9 6.9l.5 6.1l.9 6.8l1.6 6.6l1.2 5.4l.9 5.1l.8 5.1l1.4 4.7l.3 4.8l1 5.1l1.1 4.8l.6 5.1l1.7 6l.7 5.1l1.1 5.6l.7 6.2l1.9 5.3l.8 5.1l0 6.1l1.3 5.9l.5 4.8l2.1 5.6l.8 4.7l.9 4.4l1.4 6.1l.3 4.8l1 5.3l1.5 4.7l.5 4.6l1.3 4.8l1.4 4.7l-.3 4.5l1.7 4.6l1.3 4.2l1 4l1 2.2l.5 2.4l1.3 1.9l1.3 1.6l.6 2.3l1.4 3l1.1 3.3l.2 3.3l1.1 2.7l1.2 2.5l.9 3.2l1.2 1.9l.9 1.7l1.4 1.3l.9 1.4l1 1.1l.9 2.4l1.3 1.3l.8 1.3l.3 1.4l1.1 1.5l1.4 0l1.7 2.2l1.2 1.4l-.2-11.2l2.2-12.4l.9-11.5l0-10.9l1.8-6.4l1-6.7l-.5-6.1l2-5.8l1.3-7.1l-.1-6.5l1.5-8.6l.9-10.5l.6-9.9l2-9.5l.8-10.1l.9-9.6l1.5-8.8l.5-7.6l-.1-9.4l3 5.7l.7 7.6l1 7.4l.6 6.3l.9 .7l.6 4.8l2 5.2l-.1 1.8l1.8 2.4l.8 3.2l.8 2.3l1.2-.5l1.5-2.3l.4-2.3l.6-.3l.9 4.6l1.5 4.9l.7 2.6l.9 3.2l1.7 2.5l.7 .3l1.1 6.7l.5 5.2l2.1 4.5l.3 25.4l.7 25.3l1.2 23.3l.8 4.9l1.2 6.1l.6-5l1.6-3.4l1.7 10.7l-.4 9.5l1.2 9.4l1.7 4.5l1 3.8l.3 4.3l1.1 5.4l1.4 5.6l.4 3.2l.9 2.8l1.9-5l.7-4l.5-4.9l1.1-4.6l1-3.6l1.4-2.9l.9-2.8l1.7-3.7l.4-2.9l.9-3.5l1.9-3.6l.6-2.3l.1-1l1.9 3.8l1 3.4l.6 1.8l1.4 1l.2 1.7l1.7 2.8l.3 2.9l.9 2.8l1.7 2l1.3 .9l.1 1.3l1.7-.3l.6-1l1.2-1.6l.7-1.4l1.1-.4l1-.7l1.4-1.4l1.2-1.3l.4 .6l1.3 2l.8 2.5l1.1 1.5l.6 2.3l1.5 .8l.4-2.6l2.2-1l0-2.4l1.4-1.6l.8 .4l1.2-2.4l.6-1.2l.9-.2l.4 .1l1.7 1.4l.9-.6l1.7-3.5l.6-1.4l.6-1.1l1.5-2.8l1.4-3.3l.6 .2l1.1 4.4l.9 4.5l1 3.6l1.8 .2l.7 2.2l.7 4.5l-.4 4.5l2.1 4l1.4 1.7l.3 2.5l2 3.3l-.4 1.6l1.3 3.8l1.6 2.1l1.1 2.2l.8 2.6l0 2.4l2-1.8l.4 .4l1.2-.3l.8-2.3l2-2l.4-2.2l.6-3.1l1.1-3.3l1.4-5.1l1.5-4.2l1.3-5.6l-.1-5.4l1.9-7.5l.9-7.7l-.5-7l1.9-5.1l.7-6.4l1-4.4l1.8-3.7l.2-5.3l.4-5.3l2.2-2.8l1-3.8l.2-3.8l1.5-2.8l2.4-2.3l-.7-2.7l1.3-1.3l1.4-3l.3-3l2.1-1.9l.5-4.5l1-2.8l0-1.8l1.7-1.4l1-.3l.7 2.3l1.5 4.4l1.7 3l.3 3.6l.9 5.1l1.5 5.2l.8 8.7l.8 8.2l1.1 19.2l1.5 13.5l-.2 9.7l1 10l2.1 10.1l.5 6.5l.9 8l1.5 9.4l.3 8l1.7 4.9l.9 1l.2-3.6l1.2-2.4l1.9-1.2l-.4-2.1l1.5-1.5l.6-1.4l1.6 3.3l.6 5.3l1 9.2l1.9 10.6l.1 12.8l1.8 10.2l.2 7.1l1.5 2.7l.6 .9l1.7 1.9l1.3 1.1l.2 .5l1.3 1.1l.9 .5l1.4 .1l.5 1.2l1 1.2l.9 .8l1.3 1l.4 0l1.3 .3l1.2 .9l1.2 .5l.6 .5l1.9 1.2l.3 .4l1 .2l.5-.2l1.3 .5l.9 .5l1.2 .2l1.3 .6l1 .1l1.1 .7l.6 .4l1.1 0l.5-.9l1.5 .9l.8 1.6l1.3 .5l1.4 .8l.6 .9l1 1.1l.8 1.5l1.6 0l.9 .7l.7 .2l.5-.2l1.3 .4l.5 1l1.6 .9l-.3 0l2.2 1.4l.6 1.2l2 .6l-.2 1.7l1.5 1.1l1.2-1.6l1.1-1.5l1-.9l.3-.9l1.3 .8l1.7 .9l.5 1.2l1.3 .9l.8 .9l.7 2.7l.7 2.6l1.4 1.2l.9-.2l1.1 1.3l1.2-2.6l.9-2.2l.9-1.4l.3-2l2.3-1.6l.7-2.1l.7-1.8l1-1.4l.9-2.6l1.2-2.3l1.5-1.8l.7-1.6l.8-1.2l1.7-1.3l.3-.2l.9 .4l.7-.5l1.6 .6l.4 .3l1.2 .1l1.4 .9l.9 .5l.5 1.6l1.4 1.6l1.1 .9l1 .9l1.8 3l.5 3.7l.4 2.6l.4 3.5l1.8 2.6l.4-3.1l1.6-1.6l.6-1.1l1.2-.1l1.2-.9l.4-1.8l1.3-.2l1.5-.8l.5-1l1.1-.7l1.2-.7l1.2-1.2l.6-1.2l1.3-.2l1.1-1.9l.8 .3l.4-.2l2.2-.6l.1-.4l.9-.9l1.7-.4l.3-.7l.5-.8l2.6-.3l.2-.8l1.3-.3l.8-1.1l1.1-.4l1 1l.6 0l1-.1l.8 .2l1.2-.3l1.6-1.3l.7-.3l.9-.1l2-.3l.1 .7l.5-.1l1.1-.4l1.4 .4l1.2 .3l.7 .8l.9 1l1.3 .4l.8-.7l1.4 .3l.2 .7l1.6 .2l1 .2l1.1 .3l.2 .1l1.7 .1l.9 .8l1-.2l1.1-.6l-.3-.5l1.7 .5l1.8 .2l.7 .8l.8-.9l1.4 0l.4-.1l1 .8l1.6 .1l1.5-.3l-.4-.1l1.7 .3l.5 .1l1.1-.5l1.3 .5l.9-.2l.4 .5l1.8-.3l1.2-.1l-.3 .1l1.8 .4l2.1-.8l.5 .3l.4 .8l1.4-.3l.7-.1l1.3 .6l1 .1l.7 0l1.4 0l.7-.3l.9 .1l.9 .3l1.5 .6l.9 0l.4 0l1.2 .1l1 .3l1 .1l1.4-1l.5-.6l.4-.5l2 .1l1.1 .5l1-.3l1.1 .2l1.2-.5l1-.6l.6-.4l1.6 .1l.6 0l.6-.9l.6 0l2.4 .3l.5 .5l.9-1.2l1.1-.3l1-.6l.6-.1l1.3-.2l.6-.6l2-.4l.2-1l.5 .2l1 .4l2.2-1l-.2-.8l1.6-.3l.5 .3l1.7 0l1 .2l.5-.4l1.5 0l1.2 0l-.6-1l2-.4l1.7-.3l.1 .2l.8-1.6l1.6 .2l.6-.3l1.1 .4l1.5-1.4l.7-1l.6-.2l1.6-.3l1.1-.7l1.1-.4l1.1-1l1.1 .4l.6-.1l1.1-.7l1.1-.4l.6-.6l.5-.3l.6-.2l1.9-1.9l.9-.6l1.3-.4l1.7-1l.1-1.4l.7-1.7l.8-.7l1.2-2.1l.9-1.5l2-2l1-1.5l.4-4.8l2.1-3.7l.3-3.2l0 1.4l2 1.8l.5 .4l1.2-1.8l1.6-1.1l.1-.2l1.2-2.3l.4-2.3l1.5-2.4l1.3-2.9l.3-3.1l1.7-3.8l1.2-3.5l.7-8.5l1.4-7.4l.4-8.3l1.3-6.2l.5 3.5l1.3 6.3l.7 3l1.4 1.8l.7 2.9l.5 .4l1.9-.2l.4 .6l.9 1l.9 .1l.6 .8l2.1 2.6l1.3 2.1l-.1 .7l1.6-1.1l1.9-.6l.6-1.2l.4-.8l.9-1.1l1.4-.9l.4-3.4l2.2-3.2l-.1-3l1.8-3.4l1.1-3.5l-.3-3l1.8-2.2l1-2.4l.9-2.7l.7-3.9l1.3-2.6l1.5-4.2l1.2-4.1l.2-3.7l1.6-3.8l.7-3.1l1.1-4.4l1.3-3.4l1.1-3.5l0-3l1.8-3.5l1.6-3.7l.5-3.8l.9-3.4l.2-3.8l1.5-3.5l1.3-4l.4-3.4l2.2-3l.1-3.2l.6-3.3l1.1-4l.8-3.1l1.9-3l-.3-4.2l1.4-3.1l1.5-5l1.2-4l1.2-3.1l0-3.6l1.4-3l.5-3.8l1.4-2.6l.5-3.8l1.7-2.7l1.5-2.9l.9-2.7l1-3.4l.3-2.1l.9-1.7l1.6-1.7l.5-2.8l1.4-2.3l.8-2.2l1-1.4l1.6-.3l.5-.9l.3-.9l1.4-.2l1.4-1l1.1-.1l.3-1l1.7-.9l1 .3l.8 0l1.5 .5l1.3 .5l.3 .7l.7 0l1.4 .8l.5 .9l1.6-.5l.7 .2l.3 .4l1.2 1l1.8 1.2l1.2 .8l-.2 .4l1.7 .3l1.3 .7l.9 .9l1.4 1.7l.1 1.1l.7 1l1.8 1.1l.6 .9l1.3 1.6l1.2 1.6l.2 2.6l1.8 2.1l.8 2.9l1.2 2.8l.3 2.4l1.9 3.6l0 2.4l1.4 3l1.1 2.2l1.2 3.6l1 3.3l1 3.2l.7 3.7l1.1 3.7l1 3.3l.8 3.4l1.1 3.5l.9 2.9l.9 3.1l1.1 3l1.6 4.1l.1 3.3l1.5 3l1.3 3.4l.2 4l2 3.2l1.1 2.2l-.3 3.2l1.5 3.7l1.5 2.9l.6 3.2l.8 3.1l.9 3.7l1.3 3.3l1.1 3.4l.6 2.9l1.5 3.5l.7 4.3l1.1 2.8l.8 3.5l2 3.3l.3 3.3l1 3.8l1.3 3.4l.3 3l1.5 3.1l.8 3.3l.6 2.3l.7 3.4l2.2 3l.9 2.6l.9 3.3l.5 3.5l1.1 3.4l1.1 2.5l.5 3.7l.7 3.8l2.7 2.8l-.3 3.1l1.3 2.9l.8 3.6l.9 2.9l1.7 3.6l.4 3.2l.9 3.3l1 3.2l1.9 2.9l-.3 3.6l2.7 3.8l-.3 1.5l1.5 3.5l1.1 1.9l1.1 1.7l.4 2.8l1.1 1.8l1 1l2.2 1.2l-.5 1.1l1.9 .6l.9 .5l1 1l.6 1l.7 .9l2.8 .6l-.6-.3l1.3 .5l.5 .6l1.4-.2l1.9-.3l.2 0l1.3 .7l1.3 0l.4-.3l.4 .1l1.6-.3l1.4 .1l.7-.2l.3 0l2.4 .2l.8-.2l.2 .2l.9 0l.5 .4l2.7 0l.6-.7l.2 .3l1.7 .6l-.1-.4l2.5 0l-.1-.2l1.4 .5l.6-.6l1.2 .6l1.7-.2l.6 .3l.6 .2l1.4-.2l1-.3l.4-.1l.9 .2l1.9 .5l.1 .1l1.9-.5l0-.2l1.5 0l.9 .2l1.4-.2l1 .2l.4 .5l1.3-.6l.6-.1l1.4-.1l1.3-.1l.2-.3l2 .7l1.1-.1l.8-.7l.5 .4l1.5 .4l.3 .3l1.8-.8l1.1 0l.7-.1l.8 0l1.4 .2l.8 .3l.3 .3l1.6 0l.8 0l.7-.5l2.1-.1l.6 .2l.8-.2l.8 .3l1.7 .1l.5 .4l.6-.7l.7 .2l1.3 .7l1-.5l1.2 0l1.6 .3l.9-.2l.4 .3l1-.4l1.1-.7l1.5 .3l1.1-.1l.8 .3l.4 .7l1.2-.2l1.3-.3l1.2 0l.7-.3l.6 0l.7 1l1.5-.8l1 .6l.7 0l1.7 .1l1.1-.7l.6 .6l1.2-.4l.5 .5l1.2-.2l1.2-.3l1.2-.3l1.2 .5l.7 0l1-.1l.7-.2l1.2-.2l1.1 0l.8 .7l.4-.3l1.4 .5l.9-.7l1.5-.4l1 .1l1.3 .6l.6-.3l1-.2l.7 .6l1.2 .4l1 .3" stroke="#8b0000"/>
<path d="M125.5 128.1l.9-.4l0-.5l1.5-.4l.8 3.2l1.5 3.4l1.3 3.2l.6 3.6l.4 3.3l1.4 3.4l2.3 3.4l-.4 4.3l1.7 4.8l.5 5.2l1.2 5.4l1.5 5.7l0 6.1l1.2 6l1 5.8l1.1 4.8l1.5 3.8l.8 4.3l.9 4.5l.6 4.8l1.2 4.8l1.5 4.1l1.1 4.8l1.1 4.4l-.2 5.2l1.5 4.3l1 5.3l1 5.5l1.1 5.4l1.5 5.2l-.1 5.7l1.2 5.8l.9 6.1l1.7 6l1.3 5.1l.4 5.4l1 4.8l.8 5.7l.7 4.5l1 5.4l1.8 6.5l.1 4.7l1.1 5.1l2.2 5.2l0 4.7l1.4 3.4l1.4 3.6l.7 4.3l1.2 3.7l1.1 4.3l.4 3.5l1.7 5.1l-.2 5.9l2.4 5.8l-.4 5.1l1.4 5.2l1.3 5.3l1 4.6l1.4 3.4l-.2 3.8l1.4 3.4l.8 2.4l.6 2.9l2.5 2.2l0 3.6l1.1 2.1l2 2.1l-.2 1.4l2.3 1.5l.4 2.2l.5 .6l1.1 1.7l1.1 9.1l1.5 1.4l.4 1.9l.7 .9l1.8 2.4l1 2l.3 .8l1.4 .7l1.1 2.2l-.1 1.2l2.2-7.3l.5-6.3l1.4-6.8l.7-6.9l1.2-4.3l.6-5.4l1.8-5.1l.4-5.5l1.4-5l1.3-5.5l.8-6.3l.6-5.9l.5-5.2l1.7-5.3l1.1-6.1l.6-5.9l1-6.5l.4-4.7l1.4-7.5l2.2 3.2l0 6.2l1.5 7.8l1.4 2.5l.5-.1l.7 1l1 3.4l1.1 1.9l.9-3.4l1.4 .9l.6 1.2l.6-.2l1.7-1.2l1 2.6l.8 .5l1-4.5l1.6 1l.3 4.7l.7-.1l1.7-1.3l1.1 2.5l0 1.7l1.4-1.1l.8 6.4l1.5 18.6l1 16.5l1.2 18.3l1 8.4l.4 8.5l1.5 .2l.8-1.5l.8 6.8l.7 7.4l2.1 6.8l-.3 5.3l2.1 4.5l.4 5.6l1.6 4.9l.6 4.6l1.3 2l.7 2l.8-5l1.2-3.2l1.5-2.7l1-3.4l.7-3.7l.5-2.9l2.3-2.7l.7-5l.7-3.8l1-4.4l.8-1.5l.6-.6l1.5-1.3l.8 2.4l1.2 1.1l1 .9l.9 2.2l.8 2.2l1.2 3.3l.5 1.8l1.4 3l-.1 0l2.1-1l.9 1.3l1.8 1.2l.7 .2l.7-2l.4-.8l1.6-1.9l1.4-.8l.1 .9l1.2-.9l.7-.6l1.4-.5l.8 1.8l1.4 2.9l1.3 2.4l1.2 1.2l.2-2.2l.9-2.1l1.5-1.5l.6-.6l1.3-1.6l1.1-1.8l1 1.8l.8 .9l1.7 .9l.1-.5l1.3 .7l.5 .1l1.3 .3l1.2-.6l.2-.6l2-.5l.1-.1l.6 1.1l1.9 1.5l1.1 2.1l.7 1l1.2 .5l1.4 1.9l.3 3.7l1.7 2.4l0 3l1.6 2.9l1.3 1.8l1.6 .8l-.4 4l1.5 4.2l1 3.7l1.2 1.8l1-.6l.8-3.6l.7-4.3l.9-5.4l1.6-5.6l-.2-4.4l2.1-5.1l.9-6.6l1.5-5l.9-5.4l.3-4.2l1.3-6.1l.4-6.1l1.8-6.2l.6-6.8l.3-6.5l2.1-7.4l.1-7.9l1.8-4.8l.5-5.4l1.5-4.7l.7-4.5l1.3-2.1l.9-2.5l1-3.7l.7-3.8l1.6-3.1l.4-3l1.2-1.1l.9-1.7l2-2.2l.6-3.6l.3-4.4l1.2-2.4l1.3-2l.8-1.6l.7 .2l1.3 2.3l1.3 6.1l1.2 5.7l.2 5.3l1.4 5.6l.6 4.2l1.4 7.5l.9 8.4l.8 18.2l1.1 14.4l.4 11.3l1.8 8.9l.8 8.4l2.5 8.1l.4 8.7l.6 8.2l.5 6.5l1.5 4.1l1.2 3.1l.8-2.6l1-4l1.1-3.9l0-1.4l1-.6l1.7 0l.7 2.5l1.4 3.3l.7 7.8l1 10.9l1.1 12.6l.1 11.6l1.8 6.3l1.8 3.2l.7 .9l1.3 .3l.4 .7l1.2 .9l.5 .2l1.2 .1l1-.5l1 .5l.5 .3l1.2 .3l1.9 .5l.2-.6l1.2 .1l1.1 .9l.1 0l1.1-.2l1.2 .5l1.8 1.1l.1 .6l1.3 .3l1.2 .7l1.2 0l1.1-.2l1.3 1l-.6 0l2.1 .2l1.4 0l.6 .1l.7 .4l1.3 1l.8 .5l.9 .1l1.7 1.3l.5 .7l1.1 .3l.5-.1l1.2 .8l1.5 .8l.3 1.6l1.1 .1l.4-.6l2 1.2l1.2 1.8l-.2 .7l1.9 1l2.2 .9l-.1 1.2l.7 1.8l1.3 1.5l1.3-.8l0-.8l1.9-2.3l1.2-2.5l0 .4l1.1 .2l1.3 .9l.9 2.1l1 1.7l.9 1.2l1.4 .5l.9 1.3l.8 1.5l1.3 1.5l1-2.5l.8-2.5l1.3-2.4l1.3-.9l.4-1.2l1.2-1.9l1.1-2.1l.8-2l1.1-3.2l.7-2.5l1-1.4l1.5-1.2l.4 0l1.7-1l.4-.1l1.4 .4l1.2-1.1l.4-1.7l1.6 .5l.7-.5l.3 2.2l1.5 .9l1.6 1l.6 1.5l.3 1l1.1 2l2.4 3.7l0 2.1l1.2 3.1l0 2.7l2.3 3.3l.5-1.5l1.5-2.7l.1-3.1l1-.7l1.5-.8l1.4-.8l.8-.8l.9-1.1l.8-1l1.2 .8l1.2-.4l1.2-.1l.7-1.9l1.5-1.2l.4-.2l1.2-.4l0-.8l2.6-.7l.1-.5l.9-.6l1.6-.2l.9-.9l.2-1.1l1.8 .1l1.2-.7l0-.9l1-.9l1.6 .7l.9-.2l2-.1l-.2 .8l.4-1.2l.6 .1l1.9 .4l1.6-.7l.7-1.3l.9-.1l.3-.3l2.3-.2l.4 .7l1 .4l1.5 0l.9 .4l0 .3l1.6-.5l1.1 .6l1.2 .1l.6 .4l1.3 .2l1.4-.4l.8 .3l1.3 .1l.6 .4l.6 .6l.7-.4l1.8 .3l.7 .4l1.5 .2l.1 .2l1.8-.7l.4 .3l1.4 .9l.5 .1l2.2 .2l0 .3l1-.2l1.3-.6l.4 .1l1.8-.1l1 .1l.3 .8l1.3-.4l1.3-.5l0 .4l1.7 .3l1-.3l1.2-.1l.7-.1l.6 .3l1.1-.9l.8-.2l1.6-.3l.2 .5l1.9 .4l.9-.1l1-.1l1.8 .1l.4-.3l1.5-.3l-.1 .8l1.3 .1l1.3 .2l1.8-.4l.1-.5l1-.3l.6 .1l1.8-1l.2-.3l.3-.2l2.7-.4l-.4 .1l1.6-.3l1.2 .3l.9-1.1l1.3 0l.4 .1l1.4 .2l1.3-.1l.5-.6l.9-.7l.9-.6l1.2-.5l.8-.3l1.3-.5l.5 .3l1.4-.5l.7-.3l1.1-.5l.3-.4l1.5-.5l.7-.2l2-1.2l.4-.1l2.2-.1l-.2-.6l1.3-.9l.2-.2l1.4-.6l1.6-.7l.7-.7l1.8 .1l.2-.2l1.2-.4l1-.9l1.4-1.1l.8-1.5l1.3-.1l.2-.8l1.6-.1l.5-.8l1.6 .7l.4 .3l.7-1l1.6-1l.2-.5l1.6 0l.8-.9l1.2-.2l1.6-1l.2-.2l1-.5l1.1-1.4l.8-.3l1.6-1l.6 .1l.4-1.7l1.6-1.6l1.3-.5l1.5-1.6l.2-1.3l1.2-.6l.6-2.7l1.4-4.1l.9-4.5l.6-4.6l1.4-5.4l.8-2.9l1.5 4.6l1.6 4l.1-.1l1 .2l1.1-1.1l1.4-2l.6-.8l.4-.8l2-1.8l.2-2.9l1.4-3l.4-3.5l1.5-8.3l1.3-7.1l.6-5.9l.6-5.3l2.1 .8l.4 5.2l.7 4l1.3 3.8l1 3.6l1.1 2.3l.4 1.8l2.1 .7l.4-.8l1.8 .4l.1 2l.8-.4l1.1-.1l1.3 .2l1.2-.3l.7 .6l1.6-.9l.7-.8l.5-.8l1.2-1.3l1.1-2.4l.3-2.8l2.2-2.8l.4-3.4l1.2-3l.1-2.9l1.5-3.2l1.3-3l1.3-3.3l.8-3.2l.7-3l1.1-3.1l.7-3.9l1.4-3.3l.7-4.1l1.2-3.3l.9-3.7l1-3l.4-4.3l2.1-3.9l.3-2.5l.8-3.8l2.2-3.5l.6-4.4l.8-3.1l.4-3.3l1.7-4l.7-3.5l.5-3.7l1.7-4.2l.8-3.2l1-3.7l1.2-3.2l.4-3.9l1.4-2.8l1.1-3.9l.9-3.6l.9-4.6l1.5-3.4l.5-4.9l1.9-4.1l-.4-4l1.4-3.4l1.8-3.8l1-3l-.2-3l2.2-3.2l.1-4.1l1.3-3.2l1.4-3.2l.8-1.9l1.2-3.1l.4-2.9l.8-2.4l1.4-1.6l.7-2.2l1.5-1.3l1.1-1.1l0-.2l1.3-1.3l1.4-1.3l1.3-.8l.8-.2l1.3-.5l.7-.4l1.2 .4l.6-.9l1.1 .4l.9 .9l1.6 .2l.5 .3l1.2 0l1-.6l.8 .4l.8-.2l1 .5l1 1.2l1.5 .5l.4 .2l1.2 1.8l1.4 1.6l.8 1.1l1.7 .9l.6 1l.2 1.1l1 .8l1.6 1.2l.9 2l1 3.2l.7 2.4l.8 2.5l1.1 3.2l1.8 2.4l.3 3.5l1 2.6l1.3 3.2l.9 3.5l.5 3l1.7 3.8l1.1 3.2l1.3 4.4l.5 4.1l1 3.7l.8 4l1.6 3.3l.9 3.3l.8 2.8l.9 3.4l1 3.7l1.5 4.1l.3 3.4l1.1 3.5l.4 4.2l.9 3.2l2.2 3.6l.7 3.5l1.9 3.8l-.4 3l1.4 3.4l1.2 4.5l1.3 2.9l.5 3.7l.8 3.8l1.7 4.5l1 2.2l-.1 4.3l1 4.1l2.4 4.6l.5 3.1l1.3 3.5l.7 3.7l.8 3.1l1.3 3.5l1 2.4l.9 3.5l.6 3.9l.8 3l1.5 2.8l.1 4.3l2 3.4l.8 3.1l1.1 3.7l1.1 3.4l.3 2.8l2 4.1l.3 2.3l.8 3.8l.6 3.7l2.1 3.9l1.2 3.6l.4 3.4l1.6 4l.8 3.8l.6 3.1l1.2 3.7l.5 3.4l.9 3.9l2 2.5l-.1 2.4l1.3 1.8l2 2.7l.1 2.4l1.2 2.9l.6 1.3l1.4 2.1l.7 2.2l1.1 .8l.6 1.1l1 1l1.5 1.2l1.6 1.1l.5 .4l.7 .3l1.8 .2l.2-.2l1.5 1l.7-.7l.7 .7l1.2 .3l1.7 0l.6-.7l1-.1l.5-.7l2.1 1.9l.1 .1l.9-.5l.9 0l1.3-.5l1.3 .4l.2 .5l.8-.2l1.4-.5l1.3 .2l.3 .1l1.9-.6l.4 .1l1.6 .3l1-.4l0 .2l2-.1l.7 .3l1.3 .2l1-.1l.9-.6l.6 .5l1.4-.5l.9 .9l.5-.2l1.1 .9l1.5-.7l1 .1l1.3-.9l.7-.1l1 .3l1.3-.1l1.1 .5l-.1 .3l1.7 .3l1.2-.3l.7 .2l1.1-1.1l.7-.2l2 .2l.4 1l.9 .1l.7-.3l1.4-.3l1-.3l.5-.1l1.6 .5l.9-.2l1.2-.6l.5 .1l1.4 .5l.2 0l1.2 .4l1.4 0l1.1-.1l0 0l2-.4l.8 .5l1-.2l.9-.4l1.1 .3l.9 .1l.8 .2l1.5-.3l.8 .1l1.2-.3l.1 .4l1.6 .5l1-.6l.6-.4l1.4 .2l.7-.1l2.1 0l.3 .4l1.1-.4l1.5 .5l.7-.2l.5 0l1.4-.1l0 .7l2.1-.5l.7-.1l.5-.2l1.2 .9l1.6-.4l.7-.2l1.4 .4l.2-.1l1.6 .1l1.2 .2l1.8 0l-.5 0l1-.1l1.7-.1l.8-.3l.6 .1l1.1 .2l1.2 .4l.9 .3l1-.5l.9 .6l1.4 .3l1-.9l.5-.6l.4 .3l2.2 .2l.5-.2l1.2-.2l.7 .1l1.2 .7" stroke="#44dd00"/>
<path d="M125.5 90.8l1 .2l.9 .8l0 3.1l1.7 3.7l1.1 4l.1 4.2l3 3.9l-.2 4.7l1.2 5l.9 4.5l1 4.7l.8 4.6l1 4.9l1 5l.1 4.8l2.5 5.7l.9 5.1l.3 5.2l.9 5l1.8 5.2l.3 5.2l1.3 5.5l1 5.7l.5 5.8l1.8 5.7l.7 5.5l1.2 5.6l1 5.6l.6 5.2l.6 5.5l1.1 5.3l1.7 5.7l.7 5.5l.7 5.6l.6 5.6l1.7 5.3l1 5l.5 5.6l1.8 5.4l.8 5.4l.8 5.5l.6 5.6l1.8 5.4l1.1 5.5l.9 5l.3 5.4l1.5 5.7l.6 5.1l1.4 4.9l.6 4.9l1.4 5.3l.8 4.9l1.2 4.8l.8 4.6l1.1 4.6l.8 5.1l1.4 4.2l.6 4.9l.8 5l1.8 4.4l.6 4.4l.7 2.5l1.4 3l.6 2.9l.7 2.8l2.1 3.3l.9 3l.1 2.4l1.4 2.7l1 2.4l.9 2.2l.9 2.3l1.7 2.5l.5 1.6l.4 1.5l1.5 1.6l1.2 1.7l.9 2.1l1.2 .2l.6-.3l1.2 .4l.9 .7l1.9 1.2l.3 1.5l1.2 2l.7-8.4l.9-8.3l1-8.6l1.5-7.9l.8-8.4l1-8.6l1.2-9.1l.8-8.4l.1-9.5l2.2-8.9l.1-9.8l1.3-9.7l1-10.2l1.4-10.5l.6-10.1l.4-16l2.4-16.6l.7-16.8l.7-9.9l.5-9.3l2 7.9l.5 6.9l.2 2.9l1.2 2.6l.5 3.5l1.4 5.8l2.4 3.2l0 2.5l2 2.7l.1 1.5l1.2 1.9l1.1 2.5l1.1 2.2l.9 1.2l.4 2.5l1.4 .1l1.4 .2l.4-.7l.9-2.4l1.5 .4l1 5.6l.5 4.6l1 27.2l1 27.7l2 19.8l.6 20.9l1.1 7.8l.7 6.9l1.7-4.4l.2-4.5l1.7 4.3l0 4.8l1.1 10.4l1.6 10.6l.3 9.9l1.7 7.5l1.2 7.9l.1 7.4l1.1 1.5l1.2 1.3l1.6 2.6l.3-4l1.4-4.7l.9-3.9l1-6l.2-6.7l1.9-6.7l-.1-6l2-2.7l.3-4.3l1.4-4.5l1.7-2.6l.7-2.8l1.1 1.3l.5 2.9l.8 3l.7 3l2.1 2.1l.4 1.8l1.5 2.7l.2 1.2l1.2 1.6l.6 .8l1.9-.2l.5 .9l1.3 1.8l.9-.9l1.1-1.8l1.3-2l.4-2.7l1.4-1.1l.9-.3l1.1-.6l1 1.8l.9 1l1.3 1l-.1-.2l1.9-.3l1.6-.4l1.6-5.4l-.7-5.1l.7-4.2l1.6-4.2l1.4-4.4l.2-4.4l2.1-2.5l.5-2.2l.9-2.7l1.2-3.1l.6-1l.9-.5l1-1l1.3-.9l.6 1.3l1.1 1.5l1.2 1.2l1.6 1.5l.6 6.1l.8 7.1l1 7.6l.8 6.6l1.5 5.6l.6 3.9l1.5 4.3l.2 5.8l1.9 6.3l.5 4.9l1.2 4.4l.5 5l1.5 5.1l.5 3.6l1.6 3.8l.6-3.6l1.3-3.6l.1-3l1.7-2.1l.7-5.6l2.5-5.8l-.8-5.9l1.2-8.3l1.1-9l1.5-7.7l1.2-7.8l.9-8.2l1.7-7.9l.2-8.8l.3-8.6l1.3-7.8l1.4-6.9l1.1-7.3l.9-7.6l.7-7.8l1.5-5.2l.3-5.6l2-6.5l.5-5.9l.8-2.2l.5-2.3l1.4 3.1l1.4 4.3l.4 3.6l1.8 3l.4 2.2l1.2 3l1.4 3.5l.6 2.7l.5 2.5l1.4 3l1.3 2.7l1.4 3l.9 3.1l.9 3l.4 9l1.7 8.1l.9 8.8l.6 8.1l1.6 17.9l.8 18.3l.7 17.6l1.3 10.2l.2 9.2l1.1 9.5l.5 7.1l2.2 7.2l1 6.8l.6 2.8l.2 2.9l1.6-2.1l1-2l1-1.8l.9-.7l1.2-1.4l1.1-1.7l1 6l.4 6.4l1.9 8l1.7 7.7l-.3 7.6l.9 11.4l1.7 13.4l.6 3.5l1.7 2.9l.5 2.5l1 1.2l1.3 .2l.8 0l-.1 .4l1.8-.1l1.2 .5l1.8-.2l-.1 .1l1.7 .1l1.3 .8l.2 .3l.9 .5l1.4-.3l1.2 .6l.7-.2l.9 .5l1.2 .3l.3-.2l1.4 .8l.7 .4l1.1 .5l.7 .6l1.4 .2l1 .3l.6 .6l1.3 .8l.9 .5l.5 .1l1.8-.3l1 .6l1.3 .8l1.6 .2l.4 .6l.9 .6l.4 .6l.6-.3l1.9 1.1l.9 .6l.5 .8l1 1.8l.8 1.1l1.5 1.6l1.5 1.2l1 1l.5 1.5l1.4 1.4l1.2 1.9l1.1-2.4l0-1.8l1.4-1.7l1.3-2.4l.4 .7l1.1 .2l1.6 .5l1.1 1.4l.8 1.7l.6 1.6l1.3 1.3l1.1 .4l.8 .8l1.4 .6l.3-1.8l1.3-1.7l1-1.9l.7-1.6l1.7-1.7l1.1-1.2l.4-1.9l1.8-2l0-2.3l.7-2.3l2-2l.5-2.2l.5-.4l1.7-.2l.9 .2l1.1-.3l.2 .3l1.2-.4l1.7-.9l.7-.3l.8 2l.6 1.7l2.1 1.7l.7 .5l1.4 1.1l.1 1.2l1.3 3.1l.8 3.6l.9 3.4l1.8 2.1l.8 2.7l.3-1.7l1.3-2.4l2.1-2.6l.5-.9l.3-.7l1.1-.5l1.1-1.3l1.2-.8l.9-.1l.3-.7l1.5-.6l1.3-.9l1.4-1.1l.4-.6l1-.7l.7-.2l.7-.3l1.7-.6l1-.4l.8 .2l1.3-.7l.5-.3l2.5-.6l.5-.7l.3-.7l1.4-.4l.9-.8l0 .2l1.8-.2l1.2-.1l1.2 0l.8 .1l.6-.2l.6-.7l1.7 .3l.3 0l1.7-.3l1.2 .4l.5-.6l1.1 .4l1.2-.6l.9 .3l.4 .7l1 .3l1.4 .1l.6 .4l1.7 .1l.9-.2l.9-.2l.6 .6l.6 .4l1.8 .5l1.6-.3l.3-.2l.6 .2l2.2 0l.2 .2l1.8 .3l.9-.1l.8 .1l.5-.3l.6-.3l1.6 .2l.5 .4l.8 0l2.1 .1l.2-.7l.7 .3l2.3-.1l.2 .2l1 0l1.6-.1l.7-.1l.9 .6l1.5 0l.3-.1l1.1-.1l1.8-.3l.4 .2l1 0l1.8-.2l.6-.6l.7-.1l1.6 0l.3 0l1.2 .3l.9-.3l1.5 .2l.4-.5l.6 0l1.2-.5l.8 .1l1.6 .3l.9-.3l1.5 0l.6-.7l.6-.4l1.1-.3l.5-.1l1.4-.5l1.5-.2l.3-.6l1-.4l1.8-.8l1-.8l-.2-.4l1.4-.2l.5 0l2.2-.5l.1-.3l2.2-.9l.4-.7l.7-.5l1-.5l1.3-.3l.9-.5l1.1-.1l1.1-1.1l.8-.2l1-1.1l.5-.3l1.6-.4l.4-1.2l1.9-.8l.1-.9l1.7-.7l.6-.2l1.5 0l.6-.1l1.2-1.2l1-.9l.7-.4l1.2-.6l1.3-.5l1-.6l1.2-.7l.5-.1l.8-.2l1.2-.7l.8-.9l1.5-.9l.3-.8l1.2-.5l1.2-.5l.9-.5l.8-.5l2.1-.7l0-1l1.5-.7l1.1-1.2l.2-.7l1.9-.4l.1-.9l1.5-1.1l.7-.1l1.3-2.2l.8-1.2l1.1-1.8l1.3-1.6l.6-1.7l1.2-.9l1.2-5.1l1-6.2l.6-5.4l.8-5.9l1.6-6.3l0-6.8l1.9 3.9l1.1 5l.8-.7l.8-.5l.5-.9l2.1-.5l.9-.2l-.1-.1l1.6-3.7l1.1-3.7l1.7-3.1l.9-3.8l.7-7.8l.1-8.2l1.8-7.9l.2-4.4l1-5.9l1.8 6.3l1 7.7l1.7 5.4l.2 5.2l-.2 3.3l1.6 3.3l1.9 3.1l.9 .4l.8 .6l1 1.2l.6 1.4l1.4 .5l.7 .4l1 .5l1.4 .9l.4-1.6l1.6-1.3l1.3-1.5l.1-1.7l1.4-1.5l.9-1.1l1.1-3.3l1.4-2.4l.3-3l1.3-2.9l1.4-2.9l.6-2.9l1-2.5l.6-2.7l1.5-2.5l.5-2.1l1.7-3.7l.7-3l1.5-3.2l0-3.4l2-3.5l.4-2.8l1.1-3.4l.6-2.8l2.1-3.2l-.1-3.4l.8-3.7l1.6-3.1l1.4-3.1l.6-3.7l1-3.5l1.4-3.6l.6-3.6l1.2-3.5l.7-3.4l1.5-4.1l.5-3.2l.5-3.8l1.8-3.4l.7-3.5l1.5-3.9l1.2-4.8l.2-3.6l1.3-4.1l1-4.4l.7-3.9l1.1-4.2l.8-4l1.9-3.7l1-4.2l.3-4l1.4-4l.8-3.9l.9-4.2l.7-3l1.2-2.8l.8-2.6l.8-2.9l1.7-3.1l.4-2.9l1.6-1.7l1.4-1.2l-.4-1l1.1-1.1l1.3-1.2l1.7-1l.1-.9l1.8-.5l1.3-.5l.9-.1l.4 0l.3-.5l2.2 0l.9 .6l1.7 .4l.5 .8l.2 .2l2.2 .3l-.2 .4l.9 .2l1.4 .7l.7 .5l1.7 .8l1 .7l.1 1.1l1.5 .8l1.1 1.1l1.6 1.1l.2 .7l1.3 1.1l.6 1.1l2 1.1l.6 2.5l.8 3l.9 2.3l.7 2.8l1.2 3.1l1 3.2l1.1 3.2l1.6 3.8l.3 3.5l1.1 3.9l1.6 3.9l.3 4.1l1.5 4.3l.6 3.8l.8 4.7l1.5 3.5l.7 4l1 3.5l.8 3.8l.7 4.2l1.4 3.4l1.1 3.8l.1 3.8l2.4 4.2l.8 3.8l.4 3.4l1.7 4.1l.7 3.9l1.1 4.3l.6 3.9l1.3 4.1l.4 3.5l.6 4.1l1.9 4l.9 4.1l1.6 3.9l.5 3.6l.8 4.4l1 3.9l.8 3.8l1.5 3.6l1.5 3.5l-.3 3.6l2.4 3.7l.7 3.7l.3 3.4l.6 3.9l2 3.4l.4 3.9l.8 3.8l1.3 3.4l1.5 3.5l.8 3.4l.2 3.6l1.9 3.6l1.3 3.4l0 3.8l1.3 4.2l1.2 4l1.1 3.7l.8 3.9l1.5 3.4l.3 3.6l1.7 3.4l.4 3.2l1.1 4.3l1.8 4.4l.3 3.8l1.1 3.7l.8 3.2l1.1 2.3l1.1 2.4l.2 2.6l1.7 2.5l.6 2.7l1.8 .9l.6 1.3l.8 1.6l.9 1.1l.9 1.3l1.3 .1l.9 .8l1.5 .6l.6 .8l1.3 .2l1.6 .5l.2 .3l1.2-.4l.7 .1l1.1 .3l.2 .1l1.6 .1l1 .1l1 .1l.9-.1l1.2 .2l1.1 0l1.8-.2l.2 .6l1-.2l1-.1l1.1-.1l1.5-.2l1 .2l.5 .3l1.3 .1l.5-.1l1.6-.4l.2-.1l1.6 .2l.5-.1l.3 .2l1.9-.2l1 .1l.7 0l1.3 .1l1.5 .2l.6-.1l.7-.5l.9 .1l.6 0l1.7 0l1.4 0l0 .1l1.9-.2l1.4 .2l.4-.3l.7 .1l.5 .1l2.6 .2l.9-.2l0 .2l.6-.1l1.7-.1l.5 0l1.5 .5l1.4 .1l.2 0l1.2 0l.9-.1l1.5-.1l.5-.5l1.1 .1l1.6-.1l.5 .3l1.1-.1l1-.2l.7 .7l1.2-.1l.6 .2l1.2-.4l1.1-.3l1.3 .4l.6-.3l1.6-.1l.5 .2l1 .1l1.1 0l1 0l1-.2l1.7 .4l.4-.2l.4 0l1.6-.2l1.2 .2l.9-.2l.9-.4l1.4 .1l.7 .2l1.2 .3l0-.5l1.5 .3l.8 0l1 .6l1.3-.5l1.1-.2l.9 .2l.9 .3l.8 .5l1.2-.5l.5-.2l1.4-.3l1.4 0l1.3 .3l.2 .1l.4-.2l2-.2l.5 .3l1.4 .4l.3-.5l1.9-.1l.7-.2l1.2 .5l.6 0l1.6 .4l.9-.5l.5-.3l1.5 .3l.5-.1l1.1 .2l1.5-.2l.9 .3l.2 0l1.9 0l.7 0" stroke="#44dd00"/>
<path d="M125.5 85.3l-.2 .5l2.2 .8l.2 3.3l1.3 4.8l1.1 4.9l.2 5l1.4 4.4l1.3 4.7l1.3 5.4l1.4 5.1l.3 5.1l.2 5.2l2 4.1l1.5 4.4l-.1 4.3l1.3 4.5l1.2 4.5l1.2 4.3l.6 4.9l1.4 5.2l1 4.5l.5 5.7l1.3 5.4l.6 5.4l.9 5.4l.8 5.3l1.4 3.7l.9 5.2l1.8 4.6l1 4.9l.9 5.4l.9 4.9l.7 5.7l.9 5.6l1.7 5.7l.3 5.6l.9 5.8l1.6 6.2l.9 5.5l.3 6.9l1.4 5.4l.8 6.9l.5 5.5l1.6 6.5l1.3 5.7l1.1 6.4l.2 5.7l1.4 6l.7 6l1.5 4.5l1.3 4.9l.5 5l.7 4.3l1.4 4.2l.9 3.8l1.1 4.6l1 5l1.3 4.8l.3 4.4l1.4 4.3l.8 4.8l1 4.2l1 4.1l1.6 4l.5 3l1 3.9l1.1 4.4l.3 3.1l1 2.8l2.4 2l.2 .4l.8 2.2l1.5 2.7l1.5 3.3l.5 3.3l1.1 2.5l1.3 3.7l.2 4l1.5 4.5l.6 3.9l.6 5.1l1.9 3.3l.4 3.3l1.2 3.4l1.2 2.3l1.4-3.3l.4-5.5l1.2-5.4l.9-5.1l.6-4.9l1.6-5.5l.9-4.8l.8-5.9l.7-5.2l1.6-5.2l-.1-6l2-5.2l1-6.7l1.5-6.4l-.5-6.9l1.6-5l1.2-5.1l1.4-4.8l.5-5.5l1.2 4.8l1.2 6.1l.4 6.7l1.1 1.4l1.3-1.5l1 .7l.5 2.3l.4 2l2.5 .2l.6-1.2l.3-.7l1.2 2.6l.8 4.2l1.3-.4l.5-.6l2.1 .8l.9 2.7l.6 4.1l.2 1.1l2.4 3.5l.5 .8l.9-2.6l1.5-2.3l.5 3.5l1.5 16.8l.3 17.3l1.3 11.9l1 2l1.4 1.7l.4-2.9l1.4-2.3l1.4 6.8l.7 8.2l1.1 6.8l.8 7.6l.4 5.6l1.1 4.8l1.3 4.5l1 5.4l1.5 1.6l1.1 2.1l.8-3.3l.5-1.9l1.1-2.6l1.5-3.2l.8-4.4l1.2-4.2l.8-3.6l.5-2.9l1.7-3l.1-2.7l1.1-2.4l1.5-3.1l1.3-2.6l.9 1.6l0 3.1l1.5 3.8l.6 1.6l.9 1.1l1.4 .1l1.1 3l1.5 1l.7 .7l.2 1.1l1.9 .7l.9-.1l1.3 .4l.5-1.1l1.1 .5l1.2-1.6l.4-1.2l1.9-1.3l-.6-1.4l2.9 .3l.2 .6l1.4 1.8l1 .9l.6-1.2l.9-.5l1.2-.5l.8-.8l1.3 .6l1.5-.8l.5-2l1.5-.7l.7 1.3l.8 .2l1.2 2.1l.4 1.4l1.4 1.8l1.5-.7l.3-1.4l1.6-.8l.6-.7l1-.5l1.1-.9l.5 .1l1.2-.2l.7 .8l1.7 2.6l1 3.6l.1 3.5l2 2.9l.2 2.9l1.7 2.9l.7 2.8l1.5 2.6l.9 2.6l.5 3.1l1.9 3.3l.4 2.9l.3 2.5l1.5 2.8l.6-2.1l1.5-2.3l.7-.6l.9-1.3l1.5-1l.2-1.2l1.1-2.3l1-2.3l1.1-4.7l1.1-4.4l1.8-3l.7-2l1.4-2.2l.7-3.7l.7-3.4l.8-2.5l1.2-1.9l.9-3l.8-4.5l1.2-3.6l.8-4l1.5-3.7l1.9-3l-.4-4.3l2.1-4.8l-.4-5.2l1.3-3.1l1.2-4.3l1-6.8l1.4-7.6l1.3-7l.6-6.1l.5-2.2l1-2.8l1.3-3.4l1.7 3.9l0 3.8l.7 6.6l2.2 6.9l1 9l-.3 8.6l2 7.2l1.2 8.2l.2 7.8l1.5 7.8l.3 7.3l1.2 6.9l1.3 8.3l.4 7.2l1.2 5.5l1.2 5.5l1 6.1l1.5 2.8l.6 2l1.2 2.1l1.2-1l0-3.6l1.6-4.5l.6-1.5l1.1-.6l.8 .3l1 2.7l1.2 2.5l1.6 4.8l1.2 8.4l.2 10.5l1.1 9.3l1.6 6.9l.9 3l.7 1.3l1.6 .4l.4 .8l1.5 1l.4-.7l1.3 .7l.7 0l1-.4l1.1 1l1.6 .3l.6-.5l.4 .5l1.9-.2l1-.4l.9-.1l1-.1l.1-.2l1.6 .8l.5 .5l1.3 .9l.5 .8l1.6 .4l.8 .5l1.5 .1l.7 .7l1.1 .1l1.2 .5l.4 .2l1-.8l1.5 0l1.5-.3l-.6 .8l2.2 1.2l.8 1.9l1.6-.2l.9 .8l.6 .2l.3 .2l1.3 1.6l1.6 1l.8 .9l.8 .6l.5 1.4l1.7 1.2l1.2 .8l1.3 .4l0 0l1.5 1.9l.8 1.5l1.5-1.5l.7-1.9l.2-1.6l1.8-2.8l.6 1.5l1.1 2l1.2 1.3l1.2 .5l.6 0l.7 1.5l1.5 2.1l1.3 .8l.1 1.6l1.4 2l1.1-1.8l1.3-1.7l1-1.8l.8-2.5l1.4-2.1l1.4-2.3l-.2-1.5l2-2.1l-.1-2l2.1-1.5l.8-1.7l.7-1.9l1.1-.1l1-.9l.9-.7l1.2-.3l.4-.4l1.6 0l1 1l.3-.5l1.6 1.1l.8 1.7l1.2 1.3l.3 .4l1.7 0l1.1 1.3l.6 4.7l1.2 3.4l.3 3.6l2 2.3l.7 3l.9-2.3l1.3-2.7l1-2.5l.3-.7l1.3 .4l1.3-1.2l.9-2.3l1.7-1.1l.2-.5l1 0l1.1 .1l.9 .2l1-.9l1.1-1l.7-.2l1.8-.6l.3-1.8l.5-1.2l1.7-1l1.1 .4l.5-.3l.8-.2l.8 .3l1.5-.6l.7-1l1.5-.5l.5-.5l1.2-.3l2.1 0l-.5-.8l1.3 .7l1.4-.3l1.3 .1l.1-.1l1.5-.1l1.4-.2l.4-.4l2.1-.2l-.4 .2l1.4 .1l1.3 .3l.5 .7l1.4 .9l1.7-.7l.2 .3l.6-.2l1-.2l1.2-.6l1.7 .4l.3 .8l1.9 .9l.1-.7l1.4 .5l.5 .1l.9 .4l1.5 .4l.6 .4l1.2 .1l2-.3l-.7 .1l1.7-.7l1.1-.1l.5 .7l1.5 .3l1.5 .2l.2 0l1.4-.8l.8 0l1.7-.5l.4 .4l1-.3l1.2-.1l1 .5l1.2 0l.6-.2l.6 .1l1.5-.5l1.1 .3l.4-.3l1.4 0l1.2-.3l.7 .1l.9-.7l1.2-.3l.7 .8l.4-.4l1.9-.5l1.6-.3l.1-.4l1.3 .4l1.3 .4l1.4 .6l.7 .2l.6 .3l1-.6l1.7-.6l0-.9l1.4-1.2l1.2-.5l1.3 .1l1.1 .9l.2-.6l1.3-.6l1.1-.1l.5-.1l1-.4l.9-.2l2.1-.7l0 .6l1.2-.7l.9 0l-.3-.6l2.4-.3l1.3 .3l.3-.3l1.8 .5l1.2 0l.6 .1l1.2-.5l.4-.6l1.4-.5l1.1-.4l1 0l0-.3l2.7-.4l-.7-.5l1.9 .4l.4 0l2.2 0l0 .4l1.6-1.1l1-.8l.8 0l.9 .1l1.1-1.1l1.1 .1l1.1-.7l1.3-.2l.5-.1l.6-.2l1.3-.2l.5-.3l2.1-1.6l.3-.2l.5-.2l1.7-.7l1.2-1.3l.6-.2l1.2-.8l1.2-.8l.7-1l1-.2l1-1.3l.9-.4l1.1-.6l.7-.7l1.3-.6l.5-2.2l1.7-1.5l.5-1.6l1.9-2.8l-.2-3.3l1.4-2.1l1-4.1l1.3-4.3l1.2-3.4l-.3-2.1l1.9 3.4l.5 1.1l1.6-1.8l1.4-.8l.7-.9l.8-2.1l.8-.5l.8-1.9l1-4.4l1-3.8l2.1-1.9l.7-2.9l.5-7.6l1.6-8.2l.7-7.7l.3-5.9l1.6 1.1l1.3 6.4l1.3 4.2l1.3 2.8l.5 4.8l1.4 1.5l-.4 1.5l1.3 1.7l1.4 .8l1.3 .8l1.3 1.9l.1-1l1.3 .7l1.1-.5l.6 0l.6-.7l1.2-2l.9-.6l1.3-.6l1.4-1.7l1.8-2.2l.4-2.1l.6-2.5l1.1-2.2l1.3-3l.8-3.4l.7-2.8l1.1-2.4l1.4-1.9l-.1-3l1.8-2.4l1.5-2.7l.1-3.3l1.1-3.7l2.1-3l-.2-3.2l1.9-4l.9-3.8l.7-3.4l1.8-3.1l-.6-2.8l2.1-3.5l.8-3.6l1-3.2l.1-3.6l1.9-3.4l.1-3.2l1.5-4l1.6-3.5l.3-3.5l1.3-3.8l.6-3.5l.9-3.6l1.5-2.8l1.4-3.6l.7-3.8l1.2-3.2l.9-3.5l.4-3.7l1.8-3.9l.2-4.1l1-4l2.3-4.5l-.3-3.5l1.2-2.7l1-3.3l.4-3.7l1.8-4.1l1.6-3.9l.5-4l1.5-3.1l.5-2.7l1.4-2.6l.3-2.8l1.4-2.3l.7-3.2l1.3-2.4l-.2 0l1.3-1.8l1.3-1.3l1.2-1.4l.8-.9l1.7-.7l.9-1.5l.3-.6l1.1-.2l1.5 .4l.9-.2l.5 .5l.8-.5l2 .2l.8 .6l.1 .2l1.4 .1l1.3 .8l.8 .4l1.2 1l1.1 .1l1.2 .6l.5-.1l1 .9l1.5 1.1l.4 .5l1.2 1l1.6 1.3l.4 .9l1.1 .8l1.1 1.1l1.2 .8l.7 2.2l1.8 2.2l.4 1.8l.8 2.2l.3 3.2l1.3 3.3l1.6 2.7l.7 3.1l1.1 3.6l1.3 3.6l1 2.9l1.1 3.6l.6 3.9l1.4 4l1.1 4l0 4l1.4 3.4l.5 3.3l1.5 3.3l.5 3.1l1.5 3.8l1.2 3.6l1.4 3.4l1.3 3.5l.3 3.9l1.4 4l1 3.2l.4 3.1l1.1 4.4l1.4 3.9l.6 3.5l.5 2.9l1.9 4.5l.6 3l.3 3.8l1.7 3.2l1.2 3.2l.3 3.8l1.7 3.5l1.2 3.7l1 3.9l.5 3.7l1.2 4l1 3.2l.3 3.9l1.7 3.8l.7 2.9l2.1 3.9l.4 4.2l.8 3.1l.8 3.6l1.1 3.1l1.3 3.5l.6 4.7l.7 3.8l.7 3.1l1.7 4.1l1.1 4.2l.2 4.2l2.3 2.8l.7 3.5l1.3 3.2l.6 3.5l.6 4.3l1 4.5l.9 3.7l1.8 3.5l.9 3.5l0 3.6l1.7 2.6l1.1 2.7l.8 2.3l.7 2.2l.7 2l1.8 1.5l.7 .6l1 1.6l1.3 1.6l1.4 1.8l.4 .9l1.2 .5l.1 .3l1.6 .2l1.5-.1l.5 .2l1.1 .3l1 .6l1.1 .3l.7-.1l1.7 .2l.2-.3l1.1 .7l1.4 .2l.2-.7l1.9-.4l1.3-.2l-.1 .2l1.2 0l.6 .3l1.4-.2l1.7 .4l.8 .1l.8 .3l.9-.7l1.2-.5l1.2 .4l.5-.2l.6 .7l2 .2l1.2 .5l.7 0l.6-.5l.7-.3l1.1 .8l1.5-.8l1.9-.4l.1 .1l.4 .3l1.2 .8l1.1 .2l1-.4l.8-.6l1.2 .1l.3-.5l1.5 .3l1.8 .3l.8 0l.7 .6l.1-.1l1.9-.9l.6-.5l.6 .2l2.2 0l.4-.1l.6 .9l1.5-.3l.7-.3l.9 .4l1.8 .6l.6 .3l.7-.8l1.6-.2l.8-.6l.5 .3l1.6-.1l.9 .3l1.3 .5l.8-.2l.9 0l1.2-.2l1.5-.5l-.4-.5l1.9 .6l.4 .5l1.9-.3l0 .3l1.2-.6l1.9 .5l.2 .2l.9 .1l1 .5l1-.5l1.5 .4l1.5 .1l.3-.4l1-.2l1.1 .2l.5-.5l1.7-.1l.6 .6l1 .4l1.8-.7l.3 0l.8-.2l.6 0l1.5 .6l.8-.8l1.4 .6l1.2-.3l.9-.2l.2 0l1.8 .2l.7-.3l1.5 .3l1.2 .7l.8-.3l.8 .2l1.1-.2l1 .1l.5 .3l1.5 0l.9 .3l.7-.9l1.1-.2l1.7-.3l.3 .6l.6 0l2.3 .8l-.6-.5l1.8 .3l1-.2l1 .3l1.4-.5l.5-.3" stroke="#0862f6"/>
<path d="M125.5 106.4l.3 .1l.8 .4l1.8 .9l1 3.3l1.5 3.1l-.6 3.6l1.2 2.5l1.3 3.4l1 4.7l.7 4.9l.7 5l1.7 4.7l1.2 5.8l.2 5.7l1.9 5.6l.8 5.2l.6 4l1.3 4.7l1.5 4.2l1.1 4.7l.5 4.6l.7 5.5l1 5l1.5 5.2l.7 6l.9 6.4l1.2 6l.5 5.7l1.8 6.3l.5 6l1.5 5.3l.5 5.5l.4 5l2.4 5.4l.8 4.7l.9 4.9l1.3 4.8l-.1 3.6l1.1 4.6l2.2 4.7l.3 5.5l.9 4.5l1.6 5.3l.3 6l1.1 4.8l1.5 5.5l0 5.7l1.1 5.4l.8 5.3l1 5.2l1.6 6.1l1 4.8l.4 5.6l.8 5.1l1.5 4.7l1.5 5.3l1.5 5.1l.6 4.6l.7 5.2l1.1 4.7l.3 4.2l1.8 3.1l1 2.9l.6 1.6l.9 2.9l1.6 2.2l.9 3.1l.8 3l.6 3.3l1.4 2.9l1.1 2.1l.9 2.2l1.2 1.8l.4 2.5l1.2 3.3l.9 3.6l1.2 3l1.1 2.7l1.5 4l.7 3.9l.4 2.4l2 2.6l-.2 2.3l1.9 2.6l.7 1.9l.2-5.2l2.3-5.5l0-5.4l1.7-5.8l.9-5.2l.5-5.8l.7-5.2l1.1-5.8l1.2-5.1l.6-6l2.3-5.4l.4-6l.9-6.1l1.1-5.1l.4-3.8l1.1-4.7l2-6.7l.3-3.8l1.2-5l.7 3.8l1.1 4.7l1.3 7l.6 2.3l1.3-.7l.6 2.8l1.8 3.6l.9 .9l1-3.6l.7 0l1.2 1.1l1.1 .2l.1 .7l1.9 2.6l1.2 1l.8 .4l.6 3.8l.9 1.9l1.9 .9l.2 2.5l1.6 1.6l.6 1.7l1.2 .4l1 1.5l1.4 14.1l.6 14.3l.5 14.3l1.2 6l1.5 5.2l.9-2.8l1.4-1.6l.4 5.5l1.3 5.2l.1 6.7l.9 5.4l2.2 4.9l.1 5.4l1.4 5.1l.3 5l1.3 1.3l.6 2.6l2-2.7l.9-3.3l1.3-4.2l1-3l.1-2.9l1.5-2.3l.7-2.5l1.1-4.1l1.3-4.5l.5-5.1l1.3-1.1l1.1-2.1l.7-2.4l1.4 2.1l.9 2.8l1.1 2.7l1.3 4.5l.6 2.8l1.1 .1l.7 .3l.8 1.4l2.1 2.2l-.2 .7l2.5 .9l-.3 .3l1.3 .1l1.3-1.2l1.1-.3l-.3-1.5l2 .2l1.1-.6l.8-2.1l.9-1.4l.9 .7l1.1 1.8l.8 2.7l1.2 2l1.2 .9l1.2-1.5l1.1-2.9l-.2-1.5l1.3-1.3l2.2 .3l.7-.6l.4-.6l.5-.8l1-.1l1.6 1.8l.9 1.1l.9 .5l1.5 .3l.7-2l.6 0l1.2 .9l1.3-.4l.9 1.2l1.1 1l.2 2.1l1.7 3.1l.9 2.8l.8 3.5l1.7 2.4l.3 1.2l2 3.2l-.1 2.6l1.1 2.9l1.6 3.3l.4 2.3l.9 .6l1.4 2.3l1.8 3.6l-.3 3l1.1-2.1l.3-3.1l1.7-3.6l1.3-2.7l.7-2.9l1.7-3.8l.8-4.1l1.3-3.5l.5-3.2l.4-3.9l2.5-4.4l.3-4.5l.8-4.9l.5-4.3l2.1-5.1l.2-4.2l1.9-5.5l.3-3.5l1.1-4.9l.7-5.3l1.5-5.6l.7-3.6l.5-3.3l1.3-5.4l1-4.6l1.1-3.8l1.9-3.9l.7-3.3l.1-4.9l1.6-5.4l1.5-6.6l.2-5l.8-1.8l1.9-1.7l-.1-2.6l1.8 1.7l.6 3.9l.8 4.9l.9 3.8l1.8 5.8l.6 7.1l1.4 5.7l1.7 8l.1 7.4l.8 14l1.9 11.8l.7 10.5l.9 8.6l.7 6.9l.9 6.6l1.2 7.5l.9 7.4l.5 5.3l1.3 4.8l.4 2.6l1.3-2.6l1.5-2.7l.5-1.7l2.2-1.4l-.2-2.8l1.6-1l.7 2.9l1 4.1l.7 7.6l1.4 9.8l.6 12.5l1.9 10.2l.2 6.5l1.1 2.1l.7-.1l1.3 1l1.7 1.4l.2 .3l1.7-.3l1.2 .1l.5 .8l.8 .1l1.1 0l1.8 .3l-.3 .2l1 .7l1.1-.7l1.7 1.3l1.1 .6l.2 .1l1.6-.4l.7 .3l1.1-.1l.6 .2l2.1 .5l.5 .9l.9 1.5l1.2-.7l.1-.2l1.8-.1l1.1 1l.5 .7l1 .8l1.1 .7l1.6 .2l.2 .7l.5-.3l1.8 1.2l1.4 .1l.5-.3l.4-1l1.7 .5l.7 1.6l1.6 1.6l1.4 .4l.9 .2l.2 1.4l1 1l1.2 2.2l.9 1.1l.8 .1l1.5 1.7l1.9 2.5l.1-1.9l1-2.9l1-1.4l1.2-2.1l1.2 1.7l.9 2l.1 2.2l1.9 1.1l0 .9l1.3 .6l1 .9l1.5 .5l.5 1.8l.6 1.6l1.4-1l1.2-2.3l1.2-3.6l1.1-2.5l1.1-1.5l.3-2l1.5-1.8l1.5-1.9l.4-2l1.2-.9l0-.8l1.5-2.4l1.5-.9l1-.4l1.2-.7l.6 .1l1-.1l1.7 .3l.6 .4l.2-.6l1.6 1.1l.7 1.6l1 1.7l1 2.8l1.4 .8l1.3 .3l1.5 3l-.2 2.9l.8 3.7l1.9 3l.8 2.1l.1-3l1-1.2l1.7-2.8l1.2-1.9l1-.9l.8-.4l1-.5l.9-1.7l1.2-1.6l.2-.7l1.2-.4l1-.4l.7-.2l1.4-.9l.8-.1l1.3-.6l.4-.1l1.7-.6l.9-1l1.2-1.1l1.4-.6l.7-.5l.2-.4l.8-.7l1.6 1l.4-.2l2.3-.4l.1-.8l1.4-.3l1.7-.2l.4-1l.6 .4l.9 .4l1.8 .4l.4-.6l1.2-.8l1.1 .5l1.5-.7l.8-.7l.8 .2l.4 .4l.7 1l1.5 .4l2.1-.1l-.2 .6l1.6 1l.3-.2l1.5 .7l1.2-.2l1.2 .2l.7 1l1.2-.1l1.6-1l.2 .6l.2 0l2 .3l.6-.6l.5 1.2l2 .4l.3 .1l1.1 .2l.9 0l.4-.2l1.8-.2l1.4 .1l.7 .1l.9 .3l1.5 .1l.2 .2l1.2 0l.6 0l1.5-.4l.6-.5l1.6 .1l.2 0l1.2 .5l1.3-.6l1.3 .1l1.4-.1l.8-.1l.9 .2l1.7 0l.5-.2l.2 .9l1.4 .3l.9-.4l.7-.4l1.3-.9l1.1-.7l.6 .1l1.8-.2l.8 .2l.6 .6l1 .5l1.1 .2l1.7-.2l.5-.6l1.9-.8l-.2-.1l.4-.1l1.7-.7l2.2-.4l-.4-.4l1.5-.3l.6-.5l.7 .1l1-.1l1.9 .8l.9-.5l.6-.6l.7 0l1.2 .2l1.3 .2l1.2-.8l.7-1.2l1.1-.4l1.2-.2l1.1 0l.4-.1l1.2 .1l.6 .5l.8-1.4l1.5-1.1l.4-.6l1.3-.9l1.8-.5l.2-.5l.7-.2l1.3 .4l1.4-.3l1-1l.9-.8l1.2-.6l.9-.3l.9-.2l2.1-.7l.5 0l.2-.6l1.2-.4l.8-.6l.7-.8l2.3-.9l.9 .3l.4-.3l.7-.8l2-1.3l.7-.2l1.3-1.8l.2-.1l1.4-.7l0-.7l1.5-.4l1.5 0l1.7-.5l0-.7l1.2-1.2l.7-2.2l1.1-.1l1.3-.8l1-2.2l.3-2l.8-3.8l1.8-3.1l.3-4.3l.9-4.6l1.3-4.8l1.1-2l1 3.3l.5 1.9l1.2-.6l1.2-.5l1.1-1l1.8-1.1l0-.5l1.1-2l.9-4.7l2-4l.2-3l.5-3.4l1.9-7.5l.4-8.4l2.1-7.6l.4-6.8l.7-1.8l.7 7.1l1 5.2l2.1 4.3l.3 4.3l1.5 2.3l.6 2.1l.6 1.3l.9 .2l1.7 .6l.3-.5l1.7-3.3l.5 .7l1.1 2.1l1.2 .6l1.5-.8l-.1-1.3l1.5-1.2l.8-1.1l.8-1.5l1-1.6l1.7-2.3l-.1-3.4l1.1-3l1.9-2.6l.6-2l1-1.4l1.1-3.3l.9-3.5l1.7-3.3l.7-2l1.1-2.8l.6-2.7l.8-3.5l1.4-4.2l.7-3.4l1.5-3.8l1-3.4l-.5-2.9l2.5-3.6l.6-3.5l1.4-4l.6-3.7l1.6-2.7l1-3.6l.7-3.4l1.4-3.9l.9-3.5l1.6-4.4l.1-4.1l.7-3.4l1.9-3.5l-.6-3.6l1.4-3l1.8-2.9l1.3-4.2l-.1-3.1l1.2-4.5l1.2-4l.6-4l1.1-3.9l1.7-4.8l.6-4.5l1.9-3.7l.2-3.1l1.2-4l.5-4.9l1.1-3.4l1.3-4.3l.8-3.8l1.8-3.6l.1-3l.8-2.5l1-3.5l.8-2.9l1.4-2.9l1.4-1.7l1.3-2.2l.6-1.1l.7-1.5l.7-1.4l.8-1.5l1.8-.7l.4-.8l1.6-.1l.3-.5l1.4-.6l1.4-.1l1.2-.8l.9 .2l1 .2l.7 .3l1.2 1l.6 .3l1.4 .4l.7 .1l.7 .6l1.4 .9l1.4 0l.6 2l1 .1l0 1.4l2.3 1.7l-.7 1.2l2.2 1l1.2 1.3l1 1.3l.7 .7l.9 .6l1.2 2.1l1.7 3l0 3.2l1.8 3.2l.9 2.3l.4 2.8l1.4 3.2l1.3 3.5l0 3.7l1.4 3.7l1.5 3l.9 4.1l1 4.2l1 3.5l1.2 3.8l.4 4l.4 3.9l1.9 3.8l1.4 4.2l1 3.5l-.2 3.8l1.9 3.2l.4 3.5l1.9 4l-.2 3.7l2 4.2l1.3 3.6l.6 4.2l1.1 3.4l.9 4.3l1.1 3.1l.6 4.2l1.8 3.6l.4 3.5l1 3.9l1.3 4.5l.4 3.8l1.1 3.6l1.1 4.2l1.1 3.4l1.4 4.4l.7 4.3l.9 3.9l.8 3.4l1.2 3.2l1.3 3.5l.7 3.5l1 3l.6 3.7l.7 4.3l1.8 3.7l.8 3.4l1.5 4.1l1 3.8l.6 3.4l-.1 3.7l2.2 3.8l1 3.6l.5 3.5l1.2 4.7l1.6 4l.2 3.6l1.6 3.9l.5 3.9l1.4 4l.1 4.3l1.6 3.4l.4 4.1l1.4 3.5l1.3 2.7l1 2.6l1.4 2l.6 2.9l.2 2.3l1.8 1.8l.6 2.1l1.2 2l1.6 .9l.2 1.4l1.2 1.3l.9 .7l2 .7l-.4 .1l1.9 .4l1.1 1.2l.7 .2l1.8-.4l-.2 .2l1.9-.1l.7 0l.8 .2l1.2 .1l1.5 .2l-.3 .3l2.5-.1l-.2 .9l1.8-.3l.6-.1l.5-.7l1.2 0l1.2 .3l.9-.2l.9-.3l1.7 .4l.7 .1l1.4-.4l.5-.3l.8 .2l.8 .3l1.2 .2l.6-.3l.9 .3l1.1-.3l1.7 .6l.9-.2l1.9 0l-.3 .4l.8-1.1l1.2 .1l1.5-.2l1-.1l.5 .2l2.1-.2l-.1 .2l.7 .2l2.1 0l.2 .1l1.5-.5l.9-.2l.5 0l1.9 .3l.4 .4l1.1-.1l1.1-.3l.9-.3l1.6 .2l1.3 1l.1-.5l.9 .4l1.4 .5l1.1-.3l1.1-.2l.7-.7l1.4 .5l-.1-.3l1.6 .2l.9-.5l1.3 .4l1.2 0l-.2-.6l1.8 .5l.8 .1l1.1 .1l.4-.2l2 0l.5 .2l1-.1l.9-.5l1.2 .6l1.2-.2l1.4 .7l.4-.2l1.4-.3l.4-.9l1.4 .3l1.4 .1l.4 0l.9 .3l1 .7l1-.2l1.5-.1l.8-.1l1.5 0l-.1-.3l2 .2l.9 .6l.2 .1l1.4 .1l.9-.9l.8 .1l1.4 .3l1.1-.2l.5-.4l.2 .5l2.3-.2l1.2-.5l.1 .7l.8 0l1.1 0l1.3 .1l.7-.5l1.3 .6l1.6-.3l.5 .6l1.6 .1l.5-.1l.8-.7l1.1-.4l1.3 .4l1-.2l1.3 .4l.6-.2l1.2-.5l.7 .5" stroke="#33eeff"/>
<path d="M125.5 71.8l.4 .1l.8 2l2.1 3.8l.3 3.5l.8 4l1.7 3.4l.3 4.3l1 4.1l1.6 4.7l.7 5.2l.6 5l.7 5.1l.5 4.8l2.1 5.5l.6 5.4l1.4 5.5l1.1 5.5l1 5.3l.6 5.3l1.8 5.4l.5 6.1l1.1 6l.7 5.3l.8 6.4l1.2 6.3l.7 5.6l1 5.2l1.3 5.6l.4 5.6l1.2 5.6l1.7 7.1l1.2 6.5l-.1 6.4l1.8 5.6l1 5.3l.8 5.6l1.3 4.5l.3 4.9l1 3.5l1.6 5.4l1.2 5.1l.6 6.1l.8 5l1.2 5.6l1.5 5.7l.8 6l1.2 4.8l1 5.2l1.4 5.4l.5 5.8l.4 5.2l1.1 5.6l1.9 6.4l.8 5.2l.1 4.3l1.5 4.4l1.1 4.2l.9 4.6l.4 4.3l1.5 4l1.3 4.4l.9 2.8l.8 2.8l1.4 2.6l.5 2.4l1.2 2.6l.7 1.7l1.2 2.6l1.5 2.8l.6 2.2l1.3 3l.6 1.7l1.1 2.6l1.1 3l.5 4.2l2.2 2.8l.7 3.7l.5 3.8l.9 4.5l1.3 3.5l1.3 4.4l.3 3.2l1.2 2.2l1.1 2.6l1.6 2.4l.2-7l.9-8l1.4-8.7l.1-7.5l2.2-5.5l.7-6.1l1-4.7l-.1-5.6l1.8-6.1l1.2-7l.8-6.9l.7-6.6l1.8-7.5l.2-7.3l1.3-5.8l.5-6.7l2-8.2l.7-7l.6-6.4l.9 7.5l1.9 7.7l.1 7.4l1.8 2l.5-.4l1.2-1.1l.9 1.4l.4 5.2l1.4 6.3l.7 3.2l1.4-1.7l.9-.6l1.6 3.5l.2 1.3l1 .5l1.1 3.4l1.4 .4l1-1.8l1.1 5.5l1.1 8.9l.4 5.6l1.4 1l.2-1.4l1.4-.5l1.4 14.3l.6 14.3l1.4 16.1l.3 10.1l2.2 10.1l.7 1.1l.9 .4l.6 7.2l1.5 8.5l-.1 6.9l1.6 6l1.2 5.9l.9 6.5l.4 5.7l2 4.6l1 .4l.4 .8l1.7-4.4l1-4.4l.7-2.7l.3-1.7l1.2-2.2l1.8-3.9l1-3.9l.5-4.5l.8-4.1l.8-2.8l1.2-1.3l-.2-1.1l2.5-3l1.1 .1l1.2 2.6l.1 3.4l.7 2.9l2 2l.5 2.3l1.4 2l.4 1.5l1.4 2.1l.7 .6l1.9-.7l.4 1.8l1.4 1.5l1.1-.4l.7-1.7l.7-2.6l1.5-1.9l.8-.3l.7-1.1l1 .2l1.6 1.5l.3 1.3l1.8 .7l.7 .9l1.2 1.2l.5-.6l1.2-2l1-1.5l.7-1.9l.9-.9l.5-.7l2.1 2l.6 1.9l.6-.7l1 .8l1.1 .7l1.7-2.7l.5-1l.7 0l1.7 0l.8 .4l.6-.1l1.4 .9l.9 .8l.4 1.3l1.6 2.9l1.4 .7l.1 1.9l1.7 3.7l.3 2.8l2 1.7l.9 3l1.3 5.1l.7 4.3l.4 2.2l1.7 .5l.3 1.5l.4 1.6l2.1 .6l1.1-3.1l1-3.4l.8-3.7l.8-4.3l.7-4.5l1-3.5l1.8-2.6l.8-2.9l1-3.9l.8-6.9l.6-5.2l1.6-4l.8-5.2l1-6.3l1.1-5.5l.8-5.9l1.2-6l.6-6l2-4.7l.7-4.4l.8-3.1l0-2.9l1.6-3l1.1-4.6l1.4-4.4l.4-2.8l1.9-2.3l.9-3l1.4-4.6l0-4.5l1.6-3.9l.5-3.3l.8-.8l.8-2.7l1.3-2.6l1.6 1.3l.6 3.6l1.1 6.2l1.4 6.3l0 6.9l1 7.7l1.4 7.2l.7 8.3l1.2 8.6l.5 13.8l1.8 11.1l1.2 10.3l.4 10.2l1 9.1l1.1 6.9l.9 6.6l1.6 7.4l.7 3.6l-.1 2.3l2.1 .6l.6-2.3l1.4-2.2l1.2-1.5l1.2-1.5l.4-1.7l.9 .3l.7 2.5l1.7 1.7l1.5 5.5l-.3 9.5l1.3 11.2l2.5 10.4l0 6.6l.7 4.2l1.1 .2l.3 .9l1.6 0l1.7-.2l-.6-.4l1.9 .6l.6-.1l1.3-.5l1.5-.5l.6 .3l1.3 .2l.8-.1l.9 .4l.9 0l1-.8l2 .3l.4-.2l.9 .4l.9 1l.9 0l.9-.7l1.2 .6l1.1 .2l1.4 .4l.7 1.8l.4 .6l1.8 .2l.9-.8l.8 1.1l1.2 .9l.3 1.3l1.3 .6l1.4-.2l1.1-1.1l.2 1.6l1.6 1.8l.7-.8l1.3 0l.6 .8l.7 .9l1.9 .3l.3 1.3l1.1 1l1.7 1l.7 1l1.2-.1l.3 2.2l1.2 3.4l1.5 2.3l.4-3.1l1.6-2.8l-.2-1.6l1.3-1.1l1 .9l1.1 1l1.5 1.3l.4 .5l1.8 1.1l.5 .8l.4 1.4l2.2 1.5l1 1.7l1.1 .6l.5-2.6l2.1-1.9l-.1-1.6l.4-.7l2-2.6l1-1.5l.7-2.4l.7-1.6l1.1-2.2l1.5-3.3l.3-1.8l1.6-2.4l1.1-.1l.6-.5l.7-1.3l1.3 .4l.3 .9l1.7-.3l.6-.9l1.5-.5l1.4 1.3l.1 1.3l1.1 2.1l1.5 .6l.2 1.4l1.2 1.5l1.4 3.2l1 2l.5 2.9l1.2 3l1.6 2.9l1.2-1.8l-.1-1.7l2.8-1.7l-.1-1.2l1.1-1.7l.6-.2l1.4-.9l.6 0l.8-.8l.9-1.4l1.9 0l.2-.8l1.6-1.5l.8-.4l.7-.5l1.4 .8l.9-1.1l.7 .2l1.7-1.6l.5-1.2l1.6 .3l.4 1.2l.6-1l1.3-1.3l1.4-.2l1.1 .2l1-.8l.9-.2l1 .1l1 0l.8-.6l1.1 .6l1.1 .3l.9-.4l1.4-.6l.1-1.1l2.3-.1l.4-.2l1.4 .6l0 .3l2-.1l-.2 1.5l1.6-.6l.8 .3l1-.4l1.2 .2l1 .4l1 .4l1.3-.4l1.3-.6l.3 .2l1 .7l1 .1l1.2-.4l1 .9l.6 0l1.2 0l.5 0l1 .4l1.5-.2l1.4-.2l1.2 0l-.4-.6l1.2 .1l.9 .1l1.1 .4l1-.1l1.6 0l.3 .3l1.6-.3l.6 .4l.9 .4l1.8-.5l1.2-.5l.6-.1l1 .3l.7-.5l1.8-.1l.6 0l1.7-.3l.8 0l.8 .4l.9 .3l.7 .4l1.3-1.3l.4 0l1.1 .2l1.2 0l1.3-.3l.9-1.1l.8 .1l1.3 .3l.2 .5l1.2-.2l1.5-.4l1.6-.1l.5 .1l1.1-.6l1-.7l.4 .1l1.2 0l1.2-.8l1-.7l.5-.4l1.4 .5l1.3-1.1l1-.4l.8-.1l.9-.8l1.3-.2l1-.2l1.2 0l-.4 .1l2.1-.4l.6-1.1l.9-1l1-.1l1.6 .4l1.2-.4l.2-1l.8-.4l1.1-.6l1.6-1.1l.9 .2l.5-.1l1.2-.5l1.7-.5l.5-1l.5-.7l1.2-.8l1.1 .4l.8-.3l.5-.8l1.7-.2l1.1-.5l1-.9l1.3 0l1-.6l.2-.7l1.6-.8l.8-.2l2-.6l.5-.5l.1-.5l1.9-1.1l.8-.6l.8-1.1l.5-.5l2 .4l.2-.3l1.1 .5l1.5-.1l1.3 .2l.5 .1l1.4-.8l.5-.8l.5-1.1l2 .5l.9-1l.1-.7l1.4-.3l1.4-4.9l1-4.2l.9-2.6l.2-3.9l1.5-3l1.5-1.9l.5 4.4l1.7 3.3l0 .6l1.5 1.5l.7 .4l.6-1l1.8-2.7l1-3.2l1.1-3.4l.7-3.2l1.8-3.3l.1-2.9l2-6.5l.5-6l1.3-6.1l.6-6.8l.7 1l1.5 7.2l.1 4.5l1.1 2.9l.7 3l2.2 1.4l.1 2l1.8 2.5l1.2 1.3l.2 .3l1.1 2.2l.7 8.4l1.9 12.1l.2 7l1.3-7.5l1-10.5l.4-5.5l1.9-2.5l.2-1.1l.7-1.2l1.3-2.6l1.6-3l1-3.1l1.3-2.5l1-2.3l.2-3.4l.8-3.5l2-3.1l.6-2.9l.9-4.5l1.1-2.7l.5-4.2l.7-3.3l1.8-4l.7-3.6l1.3-4.3l1.3-3.5l.8-2.9l1-3.6l1.1-3.5l.6-3.8l1.7-3.8l.3-3.6l1.4-4.2l.2-3l1.2-3.4l.8-3.5l1.4-3l1.2-3.8l1-2.7l.4-3.2l.9-3.3l2-3.4l.9-3l1.4-3.2l1-3.3l-.2-4.3l1.8-3.5l1.1-4.6l.3-2.7l1-2.8l1.2-2.9l.4-3l2-1.7l.7-2.4l1.2-3.1l-.1-2.4l1.6-2.2l.7-1.5l1.6-2l1.2-1.8l.1-2.4l2.1-2.2l.3-1.9l.5-.1l2.1-.6l.2 .2l1.6-1.2l.8-.6l1.4-.3l.1-.4l1.6-.8l1.5-.5l.9 .5l1.4-.1l.5 .3l.9-.2l.9 .2l1 .3l.6 .5l1.2 .2l1.5 .8l.4 .5l.7 .7l1.8 .3l.4 .5l1.5 1.4l.2 .6l1.3 1.6l1.1 .1l1.5 1.6l.5 1.2l1.4 0l.5 1.1l1.5 1.2l.7 1.9l1.4 1.4l1.7 1.4l-.4 1.8l1.4 2.1l1 2.9l1.9 2l.5 2.4l.5 3.3l1 2.8l1 3.1l1 3.2l2.1 2.5l0 2.5l1.1 3.8l1.4 2.7l.3 3l1.3 2.7l.6 3.4l2 2.9l.4 3.1l1.4 2.7l.1 3.2l1.4 3l1 2.8l.8 3.5l1.5 3.1l.2 3.4l1.8 3.3l1.4 3.4l-.2 3.3l2 2.7l1 2.8l.9 3.4l.5 3.4l.6 3l1.4 2.9l1.8 3.3l.2 3.1l1.1 2.9l.9 3.1l.3 2.8l.9 3.6l1.2 3l2 3.6l1 3.6l-.1 3.2l2.1 3.5l.6 2.8l.5 2.6l1.8 2.7l.5 3.5l1.8 2.6l1.1 3.3l.4 3.6l.5 2.6l1.5 2.4l1.1 2.7l.7 2.7l1.6 3.4l0 3.9l1.2 3.2l.6 3.1l1.9 3.5l.8 3.1l1.1 3.1l.9 2.5l.9 2.9l1.5 3.4l.7 3.5l1.1 3l1.1 3l.3 2.5l1.7 2.1l1.3 1.5l.1 1.2l1.8 2.4l.7 1.5l1.5 .8l.2 .1l1.1-.9l1 1l1.2 .5l1 0l.8 1l.6-.3l1.8 .3l1.2-.3l.1 .3l.7 .2l1.9-.3l1.2-.4l1.1-.3l.7 .4l1.1-.3l.9 .2l0 .4l2 .1l.5 .3l1.7 .3l1.4-.3l.3 .5l.9-.1l.9-.3l1.1-.3l.5 0l1.1 .1l1.5 .1l1-.1l1.3-.2l.9 .2l.7-.7l.9 .4l1.2 0l.8 .1l1.8 .1l-.3 .3l1-.5l1.5 .2l1.2-.5l.5-.3l1.1 .4l1.5 .1l1 .5l1.4-.5l.4 .2l.7-.5l1.3 .1l.6 .7l1.8-.2l1.6 .9l0-.5l.4 .2l1.4-.6l1.1-.2l1-.1l1.1-.4l1.3-.2l1 .4l.4 .7l1-.3l1.7 0l.5 0l.7-.5l.9 0l1.4 .4l-.2 1l2.6-.4l1.5-.1l.9-.1l.1-.6l.9 .2l1.1-.9l1.2 .6l.8 .3l1.6 0l.8 .1l.9-.6l.8 .3l1.2 0l1.3 .7l.4 .1l1.1-1l.3 .8l1.4 .2l1.9 .5l.6-.7l.8 .3l1.4-.3l-.1-.5l1.7 .5l1.2 .2l.9 .5l1.7 .3l-.2-1.2l1.2 .1l1.3 .1l.6 .2l2-.8l-.1 .2l1.5-.1l.4-.1l1.9 0l.8 .6l.7 .4l.7-.3l1.5-.1l.9 .1l1.2-.3l.6 0l1.5-.1l.6 .1l1.6-.2l.1 .1l1.3-.1l1.9-.1l.1 .3l.8 0l1 .5l1.6-.1l.8 .5l1.1-.4l.4-.6l1.2-.3l1.6 .4l.4 0l1.4-.1l.9-.3" stroke="#ee0000"/>
<path d="M125.5 167.0l.8 .3l.7-.6l1-.7l.9 4.8l1.4 4.9l1.2 4.4l.9 4.4l0 4.2l1.7 4.3l.2 4.7l1.8 3.8l.4 3.6l1.6 3.9l.4 4.4l1.4 3.3l.7 4.5l1.2 3.6l.9 4.1l.8 3.5l1.2 4.4l1.4 4.5l1 4.8l.8 4.9l1.6 5l.7 5.1l1.2 4.6l.3 4.8l1.7 4.9l.3 4.2l1.7 4.2l.3 4.1l1.3 3.9l.5 4.5l1.7 4.8l.4 4l.2 4.2l2 4.3l1.3 4.9l1.2 4.8l.9 4.7l.6 3.9l1.6 4.5l1 4.9l.4 4.4l1.4 4l.6 4.6l1.4 5.3l.6 3.7l1.4 3.2l.9 3l.7 3.9l1.9 2.8l.3 2.5l1.3 3.6l.6 3.7l1 4.5l1 4.6l.8 5.1l1.4 4.6l.4 4.2l1.5 4.8l.4 4.5l1.7 3.5l.5 3.2l.8 3.2l2.4 3.6l0 3l.8 4.3l1.6 2l.8 1.5l1 2.8l.9 2.6l.5 2l1.3 2.9l1.6 2.9l.6 2.5l.5 1l1.3 1.3l1.5 1l1.1 1.4l1.1 .9l.5 1.4l1.2 1.2l1.2 1.2l1.1 2.5l0-4.5l.8-4.8l1.5-5l1.1-5.5l1.5-5.5l1.5-4.5l.1-4.8l1.6-5.6l.8-4.2l1-5l.6-5.3l1.3-4.5l.8-5.4l1.3-5.5l.7-5.6l.8-5.3l1-5.1l1.4-3.1l.4-2.9l1.5 5.4l1.6 6l.4 4.5l.7 .1l1.8 .7l-.1-1.1l2.3-.5l-.3 4.5l1.2 3.5l1.6 1.9l.6 2.1l1.3-.8l1.1 1.5l.3 2.1l1.6 .1l1.1-.8l.3 1.1l1.5 3.3l.8 6.2l1.3 2.5l-.1-4.5l1.6-3.8l1.3 .7l.8 4.4l1.4 10.8l1 10.9l.9 11.4l1.6 4.9l.3 5.4l.3-1.9l1.9-2.6l1.3 5.6l-.2 7.2l1.8 5.7l.7 4.7l1.4 4.8l.8 6.1l1.1 6.4l.9 6.5l1.2 .6l1.1 .9l.3-3.6l1.6-2.9l1.2-3.3l.6-3.9l.7-2.3l2.5-4.1l-.4-2.2l.8-3.7l2.1-3.2l-.2-5.1l1.6-3.5l1.1-3.5l1.6-.8l1 3.6l.1 3.8l1.5 2.4l.8 .7l1.2 .9l.1 3.3l1.4 2.6l1.5 1.2l.3 1.2l.9 1.6l1.3 .4l1.2 .2l1.2 1.4l.9-1.5l.2-2.5l1.7-2.6l.9-1l1.6 .8l.5 1.3l.4 .3l1.4-.6l1.1 1.3l2.2 1.9l-.6 .2l2.1-.2l0-.9l2.2-1.4l.3-1.3l.7-2.6l.9-.9l1.4-2.1l1.5 1.9l-.4 .6l2.1 .5l.5 1.6l1.1 1.1l1-1.5l1 0l1.7 .1l-.1-.7l2.1-.8l.3-1l1.1 1.6l.6 1.9l.9 1.7l1.1 .6l1 .5l1.8 2.1l.6 3.2l.8 4.4l.2 2.8l1.8 2.3l1.5 4.2l.8 3.3l.7 1.8l1.5 1.3l.6 1.9l.8 2l1 2.7l1.4-2.9l.4-2.4l1.4-2l.8-.3l1.4-1.4l1-1.6l-.1-1.1l2.1-2.1l.4-3.9l1.4-4.1l1-3.5l1.4-4l1-2.6l.7-2l.1-1.3l1.5-2.9l1.7-4.3l1-4l1.1-4.1l.6-4l.2-3.9l.6-3l1.8-3.9l1-4.3l.8-5l1.1-4.2l2.1-4l.4-4.6l.1-6.1l1-6.7l2.1-6.2l1.5-6.9l-.1-2.4l1.3-3.5l1.2-2.3l1 3.8l.6 3.6l1.1 7.6l.9 8.2l1.5 9.3l1 7.9l.8 8l.4 6.3l2.1 7l.3 8.6l.7 6.1l1.8 8.5l-.1 8l2.2 9.7l.5 6.4l.9 6l1.3 5.5l.2 2l2 1.3l.3 1.2l1.1-2.1l1.1-1.8l1.2-3l.9-1.8l.6-2.5l.9 .8l2.3 1.8l.2 3.6l.9 5l1.2 7.8l1.4 10.5l1.2 8.7l.4 6.2l1 3.3l1.5 .6l.2-.5l.5 .7l1.3 1.9l1.5 .9l1.2-.7l1.1-.2l.7 .3l1.3 .8l.8-.8l1.2-.2l.8-.4l.5 0l2.2-.4l-.2 .6l1.5 .8l1.4 .5l.1 .6l1 .9l1 .7l2.3-1l.1 .4l1-.1l1.5 .1l0 .4l2.5 1.1l.1 .2l1.4 .4l.6 .4l1.2 .3l.6-.4l1.1 1.1l1.2 1.3l1.1 1.1l1.5 .7l.4 .5l.6 .6l1 0l1.1 .2l.6 .6l1.3-.2l.9 .2l.7 1.5l1.8 1.5l.7 1.4l.9 1.1l1.3 .3l1 1.5l1.4 2.9l.3-.9l.8-2.6l.8-1.6l1.3-2.2l1.1 1l1.4 1.9l.8 .9l1 1l.8 .4l.3 .3l1.6 1.3l.9 2.4l2 1.6l.6 .6l1.1-2.3l.7-1.2l1.3-1.7l.5-1.3l.9-1.1l1.7-1.6l.4-2.8l1.8-3.6l.6-2.2l1.1-2.2l-.2-1.5l1.6-2.2l1.9-1.6l.1 .5l1.3 .4l.3-.5l1.7-1.1l1.3-.4l.3 .3l1.2 .8l.6 .7l2 1.9l-.2 1.7l1.5 1.4l1 2.1l.5 1.1l2.2 3.6l.8 2.3l1.1 1.6l.1 3l1.3 4l1.7-2.1l.9-2.3l-.3-2.6l2.1 .1l1-.8l.3-1.2l1.1-1.8l1.9-.1l.3-.7l1.3-.9l.7 .4l1.7-1.4l.9-1.3l.6-.4l.2-.5l1.1-.9l1.5-.5l1.5-.5l1.1-.4l1.1-.5l.1-1.4l1.6-.2l1.6-.3l-.3-.6l1.2-.3l2-.7l.6-.1l.9 0l1.3-.5l.4 0l1.7 0l.7-.2l.8 .2l.9-.7l1.1-.2l.4 .3l.9-.2l1.6 .4l1.1-.7l1 .7l.6-.4l1.2 1.3l1.6-.2l.4 .2l1 .4l.4 .1l2.1 .3l1-.1l1.1-.4l.1-.1l1.4 .2l1.1 .6l0 1.2l2.4 .2l.7-.2l1.1-.5l1.5 .1l-.6 .3l2.1-.4l0 .1l2 .2l1.7 .1l0 .3l1.2 .3l.6 1l.8-.7l1.5-.3l.6-.6l1.4-.6l1.5 0l.2 .4l.6-.2l2.1-1l.4-.2l.6 .9l1.4 1.2l1.2-.5l1-.2l.4 0l1.4 .3l.9-.6l1.4-.2l.8 .5l.8-.1l1.1 .2l1 .1l.9 0l1.3 1l1.3-.5l.7-.5l.8-.5l1 .4l.3-.4l1.4 0l1.7-.1l.7 .2l1-.3l1.3 0l.3 .1l1-1.2l1.4-.3l.8-.6l.9-.1l1.5-.4l.5-.6l1.9 .5l.6-.9l.5-.9l1.5-.3l1.6-.5l-.5-.3l1.9 .1l.8 .8l1.3-.1l1.2 0l.6-1.1l.4-.2l1.4-1l1.3-.2l.5-.8l.7 .1l1.9-.3l.2 0l1.5-.1l.8-1l1.5-.4l.6-.4l1 .1l1.6-.1l1.2-.1l-.1-.5l1.1-.5l.9 .8l1.7-.9l.5-1l1-.2l1.2-.4l1 0l1.3 .6l.7-.2l1.4-1.1l0-.4l1.5-.8l1.2-.5l1-.1l1.4-.8l.2-.6l1.2-.3l.9-1l.8 .1l1.1-1.4l1.7-.2l.6-.1l1.2 0l.5-.3l1.4-.9l1.2-.9l.2-.7l1.9-.7l.5-.8l.9-1.5l1.2-2l1.2-2.5l.6-4l1.4-2.6l-.1-3.7l1.5 1l1.4 3.1l1.2 .9l.6-.7l1.5-.7l1.4 .7l.9-1.2l.2-1.5l1.4-1l1.6-1.4l.1-2.2l1.6-1.8l.5-2.1l.5-7.8l2-8l.6-6.2l.7-6.2l.5 5.6l2 5.9l0 2.3l1.3 2l1.1 1.4l1.4 1.8l1 2.1l.9 2l1.3 1.2l.6 .9l.7 0l.8 .6l1.3 1l1.1 1.4l1-1.4l1.6-.8l.5-1l1.4-1.9l.7-.7l1-1.3l1.2-2.1l.1-3.9l1.4-3.4l.8-2.5l1.9-2.5l1.6-2.4l-.1-2.5l.6-2.6l1.3-2.8l.8-2.9l2-3.9l.2-2.8l1.2-3.1l1.2-3.7l1-2.6l.8-3.2l.8-3.1l1.2-3l.6-3.6l1.5-4l.9-3.4l1-3.6l1.1-1.8l1-3.4l1.5-2.5l.4-3.6l.7-3l1.1-4.1l.8-2.5l1.2-4.3l.9-3.5l1.6-2.5l-.3-3l1.8-3.6l2-3.6l-.2-3.2l1.3-3.1l1.1-3.3l.7-4.1l1.2-3.2l.9-2.4l.8-3.1l.7-2.4l2.3-2.5l.6-3.1l1-1.7l.7-1.7l1.3-2.2l.6-2.3l1-2.5l.9-1.7l1.5-2l.1-1.7l1.2-1.8l1-1.2l.8-1.1l1.1-.8l2-.2l.7-.3l.9-.7l1.3-1.3l.5-.1l1.3-.7l.9-1.1l.8-.1l1.4 .6l.7 .1l.4 0l2.1 .7l1.1 .8l.6 .7l1.2 .4l1 .5l.6 .6l1.1 1.7l.6 .5l1.2 .7l1.3 .8l1 .5l1.2 .8l1.3 1.4l.4 .4l.9 .9l.6 .6l.9 .9l1.5 1.1l.9 1.8l1.9 .6l-.8 1.8l2.1 1.3l0 1l2 2.5l.8 2.2l1.5 2.4l.6 2.8l.3 1.8l2 3.5l.7 2.4l2 2.6l.1 2.5l.9 2.1l.7 2.4l2.3 3.1l.1 2.4l1.3 2.3l.5 2.7l1.8 2.4l-.3 3.9l2.3 3.1l.7 2.4l.3 2.5l1.1 2.5l1.3 3.6l.9 3.2l1.5 2.3l.5 2.4l1.7 3.1l.3 3.4l.5 2.1l2 3.1l.9 3.1l.8 2.8l1.4 2.2l.3 3.4l.6 2.9l1.5 2.6l1.2 3.2l.9 3.3l1 3l1.1 3.1l1 3.4l.9 2.8l.3 3l1.2 2.9l2.1 2.9l.2 3.5l1.7 3.6l1.3 2.9l.4 2.6l.8 3.3l1.2 2.5l1 3.2l.4 3.2l0 3.2l2.5 3.3l1.4 3.2l1.4 3.6l.6 3.5l.5 3.3l1.3 3.5l-.2 3.7l2.3 2.8l.4 2.9l.8 3.9l1.2 3.7l1.5 3.1l.7 2.8l1.9 1.7l-.1 1.9l1.6 2.1l.6 1.2l1.2 1.1l1.3 1.5l1.1 .4l1.1-.4l-.2 .7l2.3 .3l-.3 .5l1.7 0l.4 .4l.5 .3l1.2 0l1.9-.1l.7-.1l1.4 .7l-.3-.3l2.3-.9l.6 .3l1.4 .2l.9 .9l.2-.8l1.4 .5l.9 .1l1.6 .7l1-.9l1-.3l1.2 .6l.9-.6l1.2 .7l.2 .3l.9 0l.9-.5l1.4 0l2 .1l0 .3l1.5-.1l1.2 .3l.6-.2l.8-.6l1.7 .3l.4-.2l1.2 .3l1 0l1-.8l0 .2l1.8 .1l.4 .6l1.7 .1l.5-.5l1.8-.3l1-.1l.7 .3l.8-.2l1.2 0l.6 .3l.6 0l1-.1l1.6-.4l.8 .8l1.2-.4l.8 .5l1.1 .1l.8-.4l.8-.4l1.8 .1l.2 .8l1.3-.1l1.5-.7l0 .4l1.9 .5l.5-.6l1 .1l1.2-.4l1 .1l1.5 .5l.9-.8l0 1l1.9-.3l.8-.3l1-.1l1.1 .4l2.1 .1l0 0l1.1-.2l1.1 .5l.7-.5l1.2 .2l.8-.5l.5 .1l1.1-.5l1.1 .8l1.3-.7l.7 .7l1.4 .2l.2 .2l1.3-.6l1.8 0l.8 .1l.6 .2l.7-.3l.7 .9l1.8-.3l.7-.9l.7 .2l2.1-.2l.4 .1l.8 .2l.7 .2l1.7 .1l.7-.4l1 .5l1.1-.3l1 0l.8 .4l1 0l1.2 .1l.3-.3l2.2 0l.3-.2l.9 0l1.5 .1l1 .2l1.2 .1l-.1 0l1.5 .1l1.2 .4l.9-.3l.9-.7l.2-.2l2.4 .8l-.4-.2l2 .4l.9-.3" stroke="#33eeff"/>
</g>
<g>
<text x="108.4" y="108.1" text-anchor="end">0.5</text>
<text x="108.4" y="203.0" text-anchor="end">0.4</text>
<text x="108.4" y="297.9" text-anchor="end">0.3</text>
<text x="108.4" y="392.8" text-anchor="end">0.2</text>
<text x="108.4" y="487.7" text-anchor="end">0.1</text>
<text x="105.6" y="582.6" text-anchor="end">0</text>
<text x="108.4" y="677.5" text-anchor="end">-0.1</text>
<text x="222.5" y="709" text-anchor="middle">1 000</text>
<text x="340.3" y="709" text-anchor="middle">1 500</text>
<text x="458.2" y="709" text-anchor="middle">2 000</text>
<text x="576.0" y="709" text-anchor="middle">2 500</text>
<text x="693.9" y="709" text-anchor="middle">3 000</text>
<text x="811.8" y="709" text-anchor="middle">3 500</text>
<text x="929.6" y="709" text-anchor="middle">4 000</text>
<text transform="translate(42 332.3) rotate(-90)" text-anchor="middle" style="font-size:38.9px">Absorbance</text>
<text x="418.6" y="758.6" style="font-size:38.8px">W<tspan dx="1.4">avenumber/cm</tspan><tspan dx="0" dy="-11.2" style="font-size:26.5px">-</tspan><tspan dx="-2.6" style="font-size:26.5px">1</tspan></text>
</g>
</svg>
</body></html>
